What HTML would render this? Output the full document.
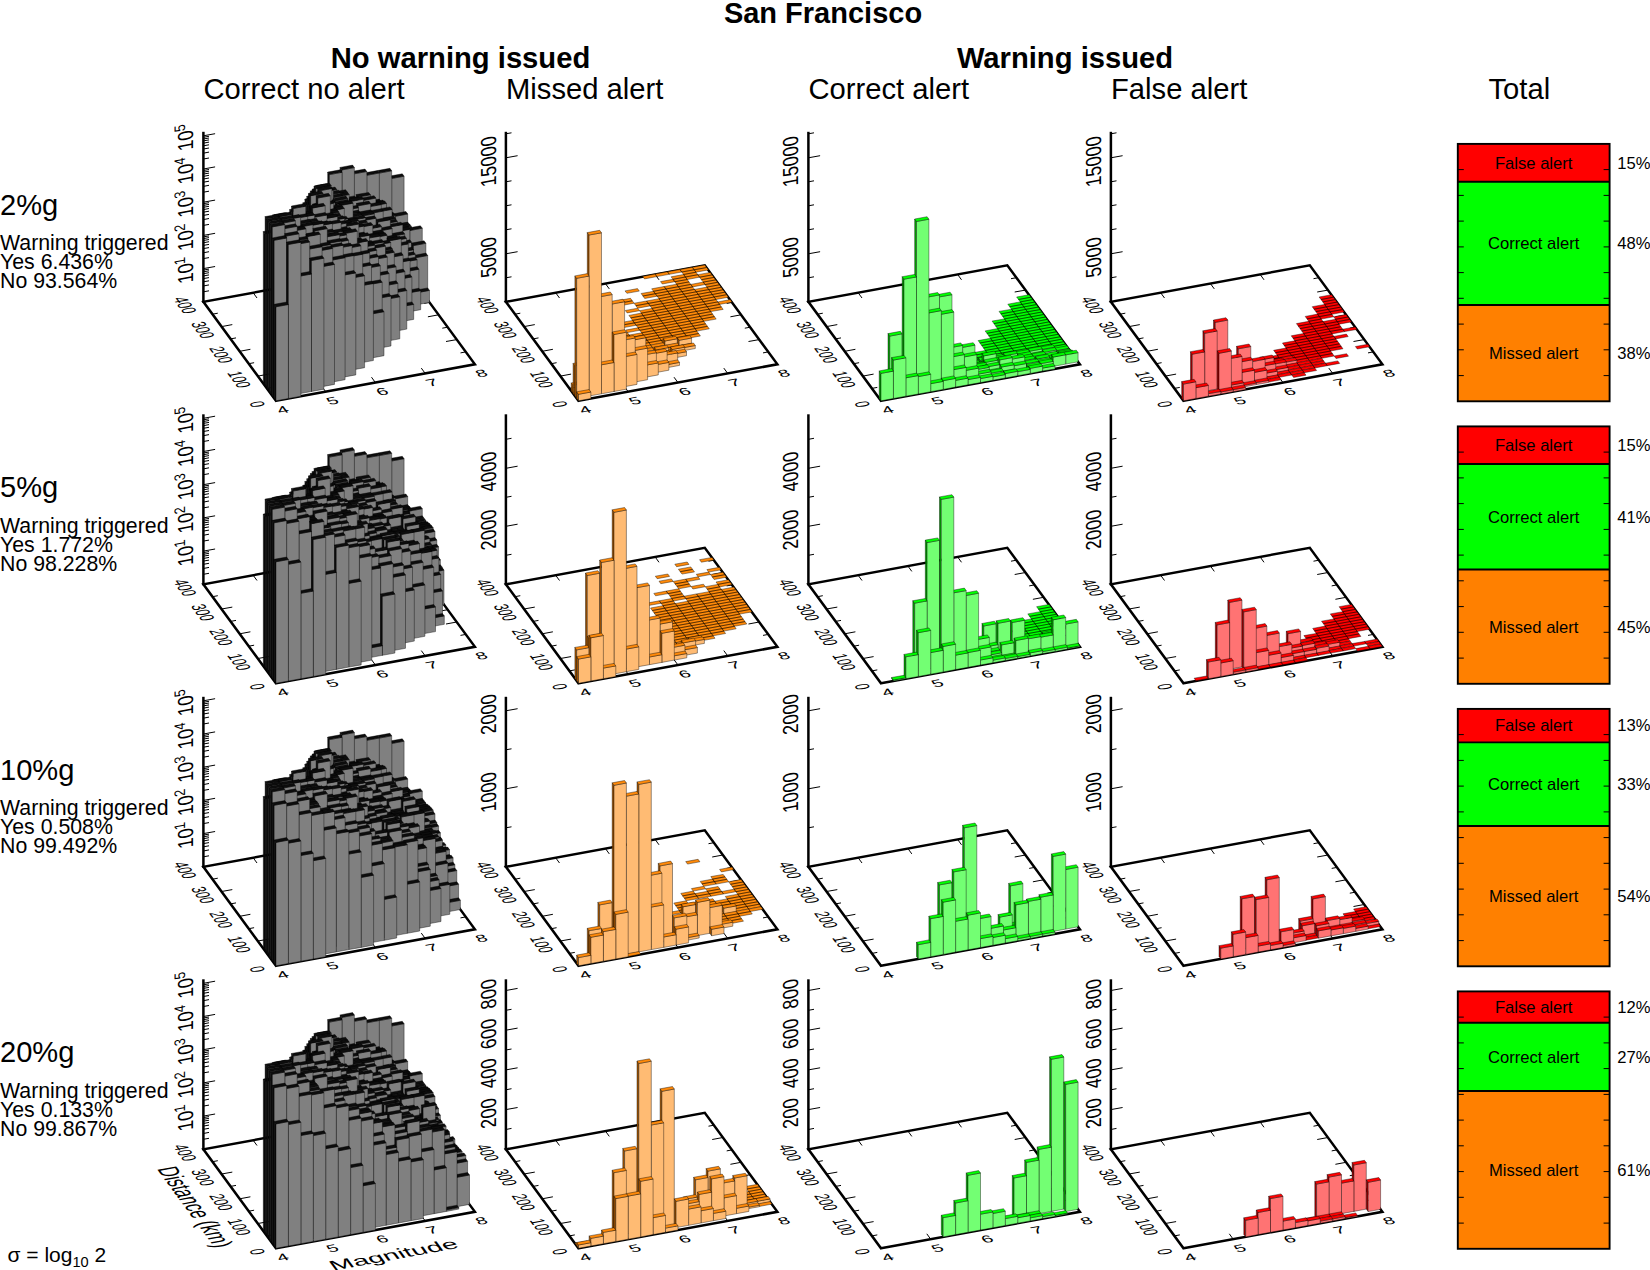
<!DOCTYPE html>
<html><head><meta charset="utf-8"><title>San Francisco</title><style>html,body{margin:0;padding:0;background:#fff}svg{display:block}</style></head><body>
<svg width="1650" height="1270" viewBox="0 0 1650 1270" font-family="'Liberation Sans',Arial,Helvetica,sans-serif" fill="#000">
<rect width="1650" height="1270" fill="#fff"/>
<text x="823" y="22.5" font-size="29" font-weight="bold" text-anchor="middle">San Francisco</text>
<text x="460.5" y="68" font-size="29.2" font-weight="bold" text-anchor="middle">No warning issued</text>
<text x="1065" y="68" font-size="29.2" font-weight="bold" text-anchor="middle">Warning issued</text>
<text x="203.5" y="99" font-size="29.2">Correct no alert</text>
<text x="506" y="99" font-size="29.2">Missed alert</text>
<text x="808.5" y="99" font-size="29.2">Correct alert</text>
<text x="1111" y="99" font-size="29.2">False alert</text>
<text x="1488.5" y="99" font-size="29.2">Total</text>
<text x="0" y="214.7" font-size="29.1">2%g</text>
<text x="0" y="249.9" font-size="21.3">Warning triggered</text>
<text x="0" y="268.9" font-size="21.3">Yes 6.436%</text>
<text x="0" y="288" font-size="21.3">No 93.564%</text>
<text x="0" y="497.3" font-size="29.1">5%g</text>
<text x="0" y="532.5" font-size="21.3">Warning triggered</text>
<text x="0" y="551.5" font-size="21.3">Yes 1.772%</text>
<text x="0" y="570.6" font-size="21.3">No 98.228%</text>
<text x="0" y="779.8" font-size="29.1">10%g</text>
<text x="0" y="815" font-size="21.3">Warning triggered</text>
<text x="0" y="834" font-size="21.3">Yes 0.508%</text>
<text x="0" y="853.1" font-size="21.3">No 99.492%</text>
<text x="0" y="1062.4" font-size="29.1">20%g</text>
<text x="0" y="1097.6" font-size="21.3">Warning triggered</text>
<text x="0" y="1116.6" font-size="21.3">Yes 0.133%</text>
<text x="0" y="1135.7" font-size="21.3">No 99.867%</text>
<text x="7.5" y="1262" font-size="21">σ = log<tspan font-size="14.6" dy="5">10</tspan><tspan dy="-5"> 2</tspan></text>
<g stroke="#000" stroke-linecap="butt"><path d="M276 400.8L474.9 364.3L402.3 265.3L203.4 301.8z" fill="none" stroke-width="2.5" stroke-linejoin="miter"/><path d="M325.7 391.7L321.8 386.3" stroke-width="1"/><path d="M253.1 292.7L257 298" stroke-width="1"/><path d="M375.4 382.6L371.5 377.2" stroke-width="1"/><path d="M302.9 283.6L306.8 288.9" stroke-width="1"/><path d="M425.2 373.4L421.3 368.1" stroke-width="1"/><path d="M352.6 274.4L356.5 279.8" stroke-width="1"/><path d="M266.9 388.4L272.3 387.4" stroke-width="1"/><path d="M465.8 351.9L460.5 352.9" stroke-width="1"/><path d="M257.9 376.1L268.6 374.1" stroke-width="1"/><path d="M456.8 339.6L446 341.5" stroke-width="1"/><path d="M248.8 363.7L254.1 362.7" stroke-width="1"/><path d="M447.7 327.2L442.3 328.2" stroke-width="1"/><path d="M239.7 351.3L250.4 349.3" stroke-width="1"/><path d="M438.6 314.8L427.9 316.8" stroke-width="1"/><path d="M230.6 338.9L236 337.9" stroke-width="1"/><path d="M429.5 302.4L424.2 303.4" stroke-width="1"/><path d="M221.6 326.6L232.3 324.6" stroke-width="1"/><path d="M420.4 290.1L409.7 292" stroke-width="1"/><path d="M212.5 314.2L217.8 313.2" stroke-width="1"/><path d="M411.4 277.7L406 278.7" stroke-width="1"/><path d="M203.4 302.8L203.4 131.8" stroke-width="2.5"/><path d="M203.4 291.8L209 290.8" stroke-width="1"/><path d="M203.4 286L209 284.9" stroke-width="1"/><path d="M203.4 281.8L209 280.8" stroke-width="1"/><path d="M203.4 278.6L209 277.6" stroke-width="1"/><path d="M203.4 276L209 274.9" stroke-width="1"/><path d="M203.4 273.7L209 272.7" stroke-width="1"/><path d="M203.4 271.8L209 270.8" stroke-width="1"/><path d="M203.4 270.1L209 269.1" stroke-width="1"/><path d="M203.4 268.6L215.1 266.5" stroke-width="1"/><path d="M203.4 258.6L209 257.6" stroke-width="1"/><path d="M203.4 252.8L209 251.7" stroke-width="1"/><path d="M203.4 248.6L209 247.6" stroke-width="1"/><path d="M203.4 245.4L209 244.4" stroke-width="1"/><path d="M203.4 242.8L209 241.7" stroke-width="1"/><path d="M203.4 240.5L209 239.5" stroke-width="1"/><path d="M203.4 238.6L209 237.6" stroke-width="1"/><path d="M203.4 236.9L209 235.9" stroke-width="1"/><path d="M203.4 235.4L215.1 233.3" stroke-width="1"/><path d="M203.4 225.4L209 224.4" stroke-width="1"/><path d="M203.4 219.6L209 218.5" stroke-width="1"/><path d="M203.4 215.4L209 214.4" stroke-width="1"/><path d="M203.4 212.2L209 211.2" stroke-width="1"/><path d="M203.4 209.6L209 208.5" stroke-width="1"/><path d="M203.4 207.3L209 206.3" stroke-width="1"/><path d="M203.4 205.4L209 204.4" stroke-width="1"/><path d="M203.4 203.7L209 202.7" stroke-width="1"/><path d="M203.4 202.2L215.1 200.1" stroke-width="1"/><path d="M203.4 192.2L209 191.2" stroke-width="1"/><path d="M203.4 186.4L209 185.3" stroke-width="1"/><path d="M203.4 182.2L209 181.2" stroke-width="1"/><path d="M203.4 179L209 178" stroke-width="1"/><path d="M203.4 176.4L209 175.3" stroke-width="1"/><path d="M203.4 174.1L209 173.1" stroke-width="1"/><path d="M203.4 172.2L209 171.2" stroke-width="1"/><path d="M203.4 170.5L209 169.5" stroke-width="1"/><path d="M203.4 169L215.1 166.9" stroke-width="1"/><path d="M203.4 159L209 158" stroke-width="1"/><path d="M203.4 153.2L209 152.1" stroke-width="1"/><path d="M203.4 149L209 148" stroke-width="1"/><path d="M203.4 145.8L209 144.8" stroke-width="1"/><path d="M203.4 143.2L209 142.1" stroke-width="1"/><path d="M203.4 140.9L209 139.9" stroke-width="1"/><path d="M203.4 139L209 138" stroke-width="1"/><path d="M203.4 137.3L209 136.3" stroke-width="1"/><path d="M203.4 135.8L215.1 133.7" stroke-width="1"/></g>
<text transform="matrix(0 -0.866 1.046 -0.192 193.4 268.6)" font-size="20.8" text-anchor="middle">10<tspan font-size="14.6" dy="-8">1</tspan></text>
<text transform="matrix(0 -0.866 1.046 -0.192 193.4 235.4)" font-size="20.8" text-anchor="middle">10<tspan font-size="14.6" dy="-8">2</tspan></text>
<text transform="matrix(0 -0.866 1.046 -0.192 193.4 202.2)" font-size="20.8" text-anchor="middle">10<tspan font-size="14.6" dy="-8">3</tspan></text>
<text transform="matrix(0 -0.866 1.046 -0.192 193.4 169)" font-size="20.8" text-anchor="middle">10<tspan font-size="14.6" dy="-8">4</tspan></text>
<text transform="matrix(0 -0.866 1.046 -0.192 193.4 135.8)" font-size="20.8" text-anchor="middle">10<tspan font-size="14.6" dy="-8">5</tspan></text>
<text transform="matrix(0.934 -0.171 0.341 0.465 285 413.1)" font-size="20.4" text-anchor="middle">4</text><text transform="matrix(0.934 -0.171 0.341 0.465 334.8 404)" font-size="20.4" text-anchor="middle">5</text><text transform="matrix(0.934 -0.171 0.341 0.465 384.5 394.9)" font-size="20.4" text-anchor="middle">6</text><text transform="matrix(0.934 -0.171 0.341 0.465 434.2 385.7)" font-size="20.4" text-anchor="middle">7</text><text transform="matrix(0.934 -0.171 0.341 0.465 483.9 376.6)" font-size="20.4" text-anchor="middle">8</text><text transform="matrix(0.341 0.465 -0.934 0.171 250.8 405.4)" font-size="20.4" text-anchor="middle">0</text><text transform="matrix(0.341 0.465 -0.934 0.171 232.6 380.7)" font-size="20.4" text-anchor="middle">100</text><text transform="matrix(0.341 0.465 -0.934 0.171 214.5 355.9)" font-size="20.4" text-anchor="middle">200</text><text transform="matrix(0.341 0.465 -0.934 0.171 196.3 331.2)" font-size="20.4" text-anchor="middle">300</text><text transform="matrix(0.341 0.465 -0.934 0.171 178.2 306.4)" font-size="20.4" text-anchor="middle">400</text>
<g stroke="#000" stroke-width="0.4" stroke-linejoin="round"><path fill="#808080" d="M391.7 270.1l12.4-2.3l0-91.6l-12.4 2.3z"/><path fill="#0d0d0d" d="M391.7 178.5l12.4-2.3l-1.8-2.4l-12.4 2.2z"/><path fill="#808080" d="M379.3 272.3l12.4-2.2l0-99.3l-12.4 2.3z"/><path fill="#0d0d0d" d="M379.3 173.1l12.4-2.3l-1.8-2.5l-12.5 2.3z"/><path fill="#808080" d="M366.8 274.6l12.5-2.3l0-99.3l-12.5 2.3z"/><path fill="#0d0d0d" d="M366.8 175.3l12.5-2.3l-1.9-2.4l-12.4 2.2z"/><path fill="#808080" d="M354.4 276.9l12.4-2.3l0-103.1l-12.4 2.3z"/><path fill="#0d0d0d" d="M354.4 173.8l12.4-2.3l-1.8-2.4l-12.4 2.2z"/><path fill="#0d0d0d" d="M342 279.2l-1.9-2.5l0-109.3l1.9 2.5z"/><path fill="#808080" d="M342 279.2l12.4-2.3l0-109.3l-12.4 2.3z"/><path fill="#0d0d0d" d="M342 169.9l12.4-2.3l-1.8-2.5l-12.5 2.3z"/><path fill="#0d0d0d" d="M329.5 281.5l-1.8-2.5l0-106.9l1.8 2.5z"/><path fill="#808080" d="M329.5 281.5l12.5-2.3l0-106.9l-12.5 2.3z"/><path fill="#0d0d0d" d="M329.5 174.6l12.5-2.3l-1.9-2.5l-12.4 2.3zM317.1 188.3l12.4-2.3l-1.8-2.5l-12.4 2.3z"/><path fill="#0d0d0d" d="M304.7 286l-1.8-2.4l0-80.8l1.8 2.5z"/><path fill="#0d0d0d" d="M304.7 205.3l12.4-2.3l-1.8-2.5l-12.4 2.3zM381.1 216.2l12.4-2.3l-1.8-2.5l-12.4 2.3zM368.6 203.8l12.5-2.2l-1.8-2.5l-12.5 2.3zM343.8 200.6l12.4-2.2l-1.8-2.5l-12.4 2.3z"/><path fill="#808080" d="M318.9 286.2l12.4-2.3l0-98.2l-12.4 2.3z"/><path fill="#0d0d0d" d="M318.9 188l12.4-2.3l-1.8-2.5l-12.4 2.3z"/><path fill="#808080" d="M395.3 275l12.4-2.3l0-58.7l-12.4 2.3z"/><path fill="#0d0d0d" d="M395.3 216.3l12.4-2.3l-1.8-2.5l-12.4 2.3z"/><path fill="#808080" d="M382.9 277.3l12.4-2.3l0-59.8l-12.4 2.3z"/><path fill="#0d0d0d" d="M382.9 217.5l12.4-2.3l-1.8-2.5l-12.4 2.3z"/><path fill="#0d0d0d" d="M358 281.9l-1.8-2.5l0-84.8l1.8 2.5z"/><path fill="#808080" d="M358 281.9l12.5-2.3l0-84.8l-12.5 2.3z"/><path fill="#0d0d0d" d="M358 197.1l12.5-2.3l-1.9-2.4l-12.4 2.2zM397.1 226.8l12.5-2.3l-1.9-2.4l-12.4 2.2zM372.3 204.9l12.4-2.3l-1.8-2.5l-12.4 2.3zM347.4 201.2l12.4-2.2l-1.8-2.5l-12.4 2.3zM335 194.5l12.4-2.3l-1.8-2.5l-12.4 2.3z"/><path fill="#808080" d="M398.9 280l12.5-2.3l0-51.3l-12.5 2.3z"/><path fill="#0d0d0d" d="M398.9 228.7l12.5-2.3l-1.8-2.4l-12.5 2.3z"/><path fill="#808080" d="M374.1 284.5l12.4-2.3l0-78.8l-12.4 2.2z"/><path fill="#0d0d0d" d="M374.1 205.6l12.4-2.2l-1.8-2.5l-12.4 2.3z"/><path fill="#808080" d="M336.8 291.4l12.4-2.3l0-94.5l-12.4 2.3z"/><path fill="#0d0d0d" d="M336.8 196.9l12.4-2.3l-1.8-2.5l-12.4 2.3z"/><path fill="#808080" d="M324.4 293.6l12.4-2.2l0-101.8l-12.4 2.3z"/><path fill="#0d0d0d" d="M324.4 191.9l12.4-2.3l-1.8-2.5l-12.5 2.3zM400.8 232.1l12.4-2.3l-1.8-2.5l-12.5 2.3z"/><path fill="#808080" d="M363.5 289.3l12.4-2.3l0-88.9l-12.4 2.3z"/><path fill="#0d0d0d" d="M363.5 200.4l12.4-2.3l-1.8-2.4l-12.4 2.2z"/><path fill="#0d0d0d" d="M351 291.6l-1.8-2.5l0-90.2l1.8 2.5z"/><path fill="#808080" d="M351 291.6l12.5-2.3l0-90.2l-12.5 2.3z"/><path fill="#0d0d0d" d="M351 201.4l12.5-2.3l-1.8-2.5l-12.5 2.3z"/><path fill="#808080" d="M328 298.6l12.4-2.3l0-103.6l-12.4 2.3z"/><path fill="#0d0d0d" d="M328 195l12.4-2.3l-1.8-2.5l-12.4 2.3z"/><path fill="#808080" d="M379.5 291.9l12.5-2.2l0-80.3l-12.5 2.2z"/><path fill="#0d0d0d" d="M379.5 211.6l12.5-2.2l-1.9-2.5l-12.4 2.3z"/><path fill="#808080" d="M329.8 301.1l12.4-2.3l0-102.9l-12.4 2.3z"/><path fill="#0d0d0d" d="M329.8 198.2l12.4-2.3l-1.8-2.4l-12.4 2.2z"/><path fill="#808080" d="M368.9 296.7l12.4-2.3l0-89.8l-12.4 2.2z"/><path fill="#0d0d0d" d="M368.9 206.8l12.4-2.2l-1.8-2.5l-12.4 2.3z"/><path fill="#0d0d0d" d="M306.8 308.1l-1.9-2.5l0-106.6l1.9 2.5z"/><path fill="#0d0d0d" d="M306.8 201.5l12.4-2.3l-1.8-2.5l-12.5 2.3z"/><path fill="#808080" d="M383.2 296.9l12.4-2.3l0-76.2l-12.4 2.3z"/><path fill="#0d0d0d" d="M383.2 220.7l12.4-2.3l-1.8-2.5l-12.5 2.3z"/><path fill="#808080" d="M370.7 299.2l12.5-2.3l0-85.8l-12.5 2.3z"/><path fill="#0d0d0d" d="M370.7 213.4l12.5-2.3l-1.9-2.4l-12.4 2.2z"/><path fill="#0d0d0d" d="M358.3 301.5l-1.8-2.5l0-95.7l1.8 2.5z"/><path fill="#808080" d="M358.3 301.5l12.4-2.3l0-95.7l-12.4 2.3z"/><path fill="#0d0d0d" d="M358.3 205.8l12.4-2.3l-1.8-2.4l-12.4 2.2z"/><path fill="#808080" d="M345.9 303.7l12.4-2.2l0-93.7l-12.4 2.3z"/><path fill="#0d0d0d" d="M345.9 210.1l12.4-2.3l-1.8-2.4l-12.5 2.2z"/><path fill="#808080" d="M321 308.3l12.4-2.3l0-116.1l-12.4 2.3z"/><path fill="#0d0d0d" d="M321 192.2l12.4-2.3l-1.8-2.5l-12.4 2.3z"/><path fill="#0d0d0d" d="M308.6 310.6l-1.8-2.5l0-111.8l1.8 2.5z"/><path fill="#0d0d0d" d="M308.6 198.8l12.4-2.3l-1.8-2.4l-12.4 2.2z"/><path fill="#808080" d="M409.8 294.8l12.5-2.3l0-64.3l-12.5 2.3z"/><path fill="#0d0d0d" d="M409.8 230.5l12.5-2.3l-1.9-2.4l-12.4 2.2z"/><path fill="#808080" d="M397.4 297.1l12.4-2.3l0-65.5l-12.4 2.3z"/><path fill="#0d0d0d" d="M397.4 231.6l12.4-2.3l-1.8-2.5l-12.4 2.3z"/><path fill="#808080" d="M385 299.4l12.4-2.3l0-75.7l-12.4 2.3z"/><path fill="#0d0d0d" d="M385 223.7l12.4-2.3l-1.8-2.5l-12.4 2.3zM360.1 214.6l12.4-2.3l-1.8-2.5l-12.4 2.3zM347.7 214.8l12.4-2.3l-1.8-2.4l-12.4 2.3z"/><path fill="#0d0d0d" d="M335.2 308.5l-1.8-2.5l0-107.6l1.8 2.5z"/><path fill="#808080" d="M335.2 308.5l12.5-2.3l0-107.6l-12.5 2.3z"/><path fill="#0d0d0d" d="M335.2 200.9l12.5-2.3l-1.8-2.5l-12.5 2.3z"/><path fill="#808080" d="M322.8 310.8l12.4-2.3l0-106.3l-12.4 2.3z"/><path fill="#0d0d0d" d="M322.8 204.5l12.4-2.3l-1.8-2.5l-12.4 2.3z"/><path fill="#0d0d0d" d="M310.4 313.1l-1.8-2.5l0-117l1.8 2.5z"/><path fill="#808080" d="M399.2 299.6l12.4-2.3l0-55l-12.4 2.3z"/><path fill="#0d0d0d" d="M399.2 244.6l12.4-2.3l-1.8-2.5l-12.4 2.3z"/><path fill="#808080" d="M361.9 306.4l12.5-2.3l0-90.3l-12.5 2.3z"/><path fill="#0d0d0d" d="M361.9 216.1l12.5-2.3l-1.9-2.4l-12.4 2.2z"/><path fill="#808080" d="M349.5 308.7l12.4-2.3l0-91.3l-12.4 2.3z"/><path fill="#0d0d0d" d="M349.5 217.4l12.4-2.3l-1.8-2.5l-12.4 2.3z"/><path fill="#0d0d0d" d="M337.1 311l-1.9-2.5l0-106.8l1.9 2.5z"/><path fill="#808080" d="M337.1 311l12.4-2.3l0-106.8l-12.4 2.3z"/><path fill="#0d0d0d" d="M337.1 204.2l12.4-2.3l-1.8-2.5l-12.5 2.3z"/><path fill="#0d0d0d" d="M312.2 315.5l-1.8-2.4l0-122.2l1.8 2.4z"/><path fill="#0d0d0d" d="M312.2 193.3l12.4-2.3l-1.8-2.4l-12.4 2.3z"/><path fill="#0d0d0d" d="M413.5 299.8l-1.9-2.5l0-54.2l1.9 2.5z"/><path fill="#808080" d="M413.5 299.8l12.4-2.3l0-54.2l-12.4 2.3z"/><path fill="#0d0d0d" d="M413.5 245.6l12.4-2.3l-1.8-2.5l-12.5 2.3z"/><path fill="#808080" d="M401 302l12.5-2.2l0-50l-12.5 2.2z"/><path fill="#0d0d0d" d="M401 252l12.5-2.2l-1.9-2.5l-12.4 2.3z"/><path fill="#808080" d="M363.7 308.9l12.5-2.3l0-88.4l-12.5 2.3z"/><path fill="#0d0d0d" d="M363.7 220.5l12.5-2.3l-1.8-2.4l-12.5 2.2z"/><path fill="#0d0d0d" d="M314 318l-1.8-2.5l0-126.4l1.8 2.5z"/><path fill="#0d0d0d" d="M314 191.6l12.4-2.3l-1.8-2.5l-12.4 2.3z"/><path fill="#808080" d="M415.3 302.2l12.4-2.3l0-44.4l-12.4 2.3z"/><path fill="#0d0d0d" d="M415.3 257.8l12.4-2.3l-1.8-2.4l-12.4 2.3z"/><path fill="#808080" d="M402.8 304.5l12.5-2.3l0-48l-12.5 2.3z"/><path fill="#0d0d0d" d="M402.8 256.5l12.5-2.3l-1.8-2.4l-12.5 2.2z"/><path fill="#808080" d="M390.4 306.8l12.4-2.3l0-79.9l-12.4 2.3z"/><path fill="#0d0d0d" d="M390.4 226.9l12.4-2.3l-1.8-2.4l-12.4 2.2z"/><path fill="#0d0d0d" d="M378 309.1l-1.8-2.5l0-87.1l1.8 2.5z"/><path fill="#808080" d="M378 309.1l12.4-2.3l0-87.1l-12.4 2.3z"/><path fill="#0d0d0d" d="M378 222l12.4-2.3l-1.8-2.5l-12.4 2.3z"/><path fill="#808080" d="M353.1 313.6l12.5-2.2l0-93.7l-12.5 2.2z"/><path fill="#0d0d0d" d="M353.1 219.9l12.5-2.2l-1.9-2.5l-12.4 2.3z"/><path fill="#0d0d0d" d="M340.7 315.9l-1.8-2.5l0-110.4l1.8 2.4z"/><path fill="#808080" d="M340.7 315.9l12.4-2.3l0-110.4l-12.4 2.2z"/><path fill="#0d0d0d" d="M340.7 205.4l12.4-2.2l-1.8-2.5l-12.4 2.3z"/><path fill="#0d0d0d" d="M315.8 320.5l-1.8-2.5l0-132l1.8 2.5z"/><path fill="#808080" d="M315.8 320.5l12.5-2.3l0-132l-12.5 2.3z"/><path fill="#0d0d0d" d="M315.8 188.5l12.5-2.3l-1.9-2.4l-12.4 2.2z"/><path fill="#808080" d="M417.1 304.7l12.4-2.3l0-12l-12.4 2.3z"/><path fill="#0d0d0d" d="M417.1 292.7l12.4-2.3l-1.8-2.5l-12.4 2.3z"/><path fill="#808080" d="M404.7 307l12.4-2.3l0-45l-12.4 2.3z"/><path fill="#0d0d0d" d="M404.7 262l12.4-2.3l-1.8-2.5l-12.5 2.3z"/><path fill="#808080" d="M392.2 309.3l12.5-2.3l0-73l-12.5 2.3z"/><path fill="#0d0d0d" d="M392.2 236.3l12.5-2.3l-1.9-2.5l-12.4 2.3z"/><path fill="#808080" d="M379.8 311.6l12.4-2.3l0-80.7l-12.4 2.3z"/><path fill="#0d0d0d" d="M379.8 230.9l12.4-2.3l-1.8-2.5l-12.4 2.3z"/><path fill="#808080" d="M354.9 316.1l12.5-2.3l0-91.6l-12.5 2.3z"/><path fill="#0d0d0d" d="M354.9 224.5l12.5-2.3l-1.8-2.4l-12.5 2.2zM342.5 222l12.4-2.3l-1.8-2.5l-12.4 2.3zM330.1 208.9l12.4-2.3l-1.8-2.4l-12.4 2.2z"/><path fill="#808080" d="M406.5 309.5l12.4-2.3l0-38l-12.4 2.3z"/><path fill="#0d0d0d" d="M406.5 271.5l12.4-2.3l-1.8-2.5l-12.4 2.3z"/><path fill="#808080" d="M394 311.7l12.5-2.2l0-71.1l-12.5 2.3z"/><path fill="#0d0d0d" d="M394 240.7l12.5-2.3l-1.8-2.5l-12.5 2.3z"/><path fill="#808080" d="M369.2 316.3l12.4-2.3l0-87.4l-12.4 2.3z"/><path fill="#0d0d0d" d="M369.2 228.9l12.4-2.3l-1.8-2.4l-12.4 2.2z"/><path fill="#808080" d="M331.9 323.2l12.4-2.3l0-112.5l-12.4 2.3z"/><path fill="#0d0d0d" d="M331.9 210.7l12.4-2.3l-1.8-2.5l-12.4 2.3z"/><path fill="#0d0d0d" d="M319.5 325.4l-1.9-2.4l0-134.7l1.9 2.5z"/><path fill="#808080" d="M319.5 325.4l12.4-2.2l0-134.7l-12.4 2.3z"/><path fill="#0d0d0d" d="M319.5 190.8l12.4-2.3l-1.8-2.5l-12.5 2.3z"/><path fill="#808080" d="M408.3 311.9l12.4-2.2l0-19l-12.4 2.2z"/><path fill="#0d0d0d" d="M408.3 292.9l12.4-2.2l-1.8-2.5l-12.4 2.3z"/><path fill="#808080" d="M395.9 314.2l12.4-2.3l0-68l-12.4 2.3z"/><path fill="#0d0d0d" d="M395.9 246.2l12.4-2.3l-1.8-2.4l-12.5 2.2zM371 234.6l12.4-2.3l-1.8-2.5l-12.4 2.3z"/><path fill="#808080" d="M346.1 323.3l12.5-2.2l0-100.4l-12.5 2.3z"/><path fill="#0d0d0d" d="M346.1 223l12.5-2.3l-1.8-2.4l-12.5 2.2z"/><path fill="#808080" d="M321.3 327.9l12.4-2.3l0-122.3l-12.4 2.3z"/><path fill="#0d0d0d" d="M321.3 205.6l12.4-2.3l-1.8-2.5l-12.4 2.3z"/><path fill="#808080" d="M397.7 316.7l12.4-2.3l0-54l-12.4 2.3z"/><path fill="#0d0d0d" d="M397.7 262.7l12.4-2.3l-1.8-2.5l-12.4 2.3zM385.2 239.5l12.5-2.2l-1.8-2.5l-12.5 2.3zM372.8 236.4l12.4-2.3l-1.8-2.5l-12.4 2.3z"/><path fill="#808080" d="M360.4 323.5l12.4-2.2l0-96.4l-12.4 2.3z"/><path fill="#0d0d0d" d="M360.4 227.2l12.4-2.3l-1.8-2.4l-12.4 2.2z"/><path fill="#808080" d="M335.5 328.1l12.5-2.3l0-107.1l-12.5 2.3z"/><path fill="#0d0d0d" d="M335.5 221l12.5-2.3l-1.9-2.5l-12.4 2.3z"/><path fill="#0d0d0d" d="M310.7 332.7l-1.9-2.5l0-137l1.9 2.5z"/><path fill="#808080" d="M310.7 332.7l12.4-2.3l0-137l-12.4 2.3z"/><path fill="#0d0d0d" d="M310.7 195.7l12.4-2.3l-1.8-2.5l-12.5 2.3z"/><path fill="#808080" d="M399.5 319.2l12.4-2.3l0-40l-12.4 2.3z"/><path fill="#0d0d0d" d="M399.5 279.2l12.4-2.3l-1.8-2.5l-12.4 2.3z"/><path fill="#808080" d="M374.6 323.7l12.5-2.3l0-86.2l-12.5 2.3z"/><path fill="#0d0d0d" d="M374.6 237.5l12.5-2.3l-1.9-2.5l-12.4 2.3zM337.3 225.1l12.5-2.3l-1.8-2.5l-12.5 2.3zM324.9 213l12.4-2.3l-1.8-2.4l-12.4 2.3z"/><path fill="#808080" d="M401.3 321.6l12.4-2.2l0-15l-12.4 2.2z"/><path fill="#0d0d0d" d="M401.3 306.6l12.4-2.2l-1.8-2.5l-12.4 2.3z"/><path fill="#0d0d0d" d="M388.9 323.9l-1.8-2.5l0-83l1.8 2.5z"/><path fill="#808080" d="M388.9 323.9l12.4-2.3l0-83l-12.4 2.3z"/><path fill="#0d0d0d" d="M388.9 240.9l12.4-2.3l-1.8-2.4l-12.4 2.2zM364 237.7l12.4-2.2l-1.8-2.5l-12.4 2.3z"/><path fill="#808080" d="M351.6 330.8l12.4-2.3l0-102.4l-12.4 2.2z"/><path fill="#0d0d0d" d="M351.6 228.3l12.4-2.2l-1.8-2.5l-12.4 2.3zM339.1 224.9l12.5-2.3l-1.8-2.5l-12.5 2.3z"/><path fill="#808080" d="M326.7 335.3l12.4-2.2l0-120.9l-12.4 2.3z"/><path fill="#0d0d0d" d="M326.7 214.5l12.4-2.3l-1.8-2.4l-12.4 2.3z"/><path fill="#0d0d0d" d="M314.3 337.6l-1.8-2.5l0-131.1l1.8 2.4z"/><path fill="#0d0d0d" d="M314.3 206.4l12.4-2.2l-1.8-2.5l-12.4 2.3z"/><path fill="#808080" d="M390.7 326.4l12.4-2.3l0-69l-12.4 2.3z"/><path fill="#0d0d0d" d="M390.7 257.4l12.4-2.3l-1.8-2.5l-12.4 2.3z"/><path fill="#808080" d="M378.3 328.7l12.4-2.3l0-83.9l-12.4 2.3z"/><path fill="#0d0d0d" d="M378.3 244.8l12.4-2.3l-1.8-2.5l-12.5 2.3zM353.4 236.8l12.4-2.3l-1.8-2.4l-12.4 2.2z"/><path fill="#808080" d="M328.5 337.8l12.5-2.3l0-120.1l-12.5 2.3z"/><path fill="#0d0d0d" d="M328.5 217.7l12.5-2.3l-1.9-2.5l-12.4 2.3z"/><path fill="#0d0d0d" d="M316.1 340.1l-1.8-2.5l0-133.6l1.8 2.5z"/><path fill="#0d0d0d" d="M316.1 206.5l12.4-2.3l-1.8-2.5l-12.4 2.3z"/><path fill="#808080" d="M392.5 328.9l12.4-2.3l0-55l-12.4 2.3z"/><path fill="#0d0d0d" d="M392.5 273.9l12.4-2.3l-1.8-2.5l-12.4 2.3z"/><path fill="#808080" d="M380.1 331.2l12.4-2.3l0-79.8l-12.4 2.3z"/><path fill="#0d0d0d" d="M380.1 251.4l12.4-2.3l-1.8-2.4l-12.4 2.3z"/><path fill="#808080" d="M367.6 333.4l12.5-2.2l0-95.1l-12.5 2.2z"/><path fill="#0d0d0d" d="M367.6 238.3l12.5-2.2l-1.8-2.5l-12.5 2.3z"/><path fill="#0d0d0d" d="M317.9 342.6l-1.8-2.5l0-144.5l1.8 2.4z"/><path fill="#808080" d="M317.9 342.6l12.4-2.3l0-144.5l-12.4 2.2z"/><path fill="#0d0d0d" d="M317.9 198l12.4-2.2l-1.8-2.5l-12.4 2.3z"/><path fill="#808080" d="M394.3 331.4l12.5-2.3l0-38.6l-12.5 2.3z"/><path fill="#0d0d0d" d="M394.3 292.8l12.5-2.3l-1.9-2.5l-12.4 2.3z"/><path fill="#808080" d="M381.9 333.6l12.4-2.2l0-79.2l-12.4 2.3z"/><path fill="#0d0d0d" d="M381.9 254.5l12.4-2.3l-1.8-2.4l-12.4 2.2z"/><path fill="#808080" d="M357 338.2l12.5-2.3l0-100.7l-12.5 2.3z"/><path fill="#0d0d0d" d="M357 237.5l12.5-2.3l-1.9-2.5l-12.4 2.3z"/><path fill="#808080" d="M332.2 342.8l12.4-2.3l0-122.2l-12.4 2.3z"/><path fill="#0d0d0d" d="M332.2 220.6l12.4-2.3l-1.8-2.5l-12.5 2.3z"/><path fill="#0d0d0d" d="M307.3 347.3l-1.8-2.5l0-133l1.8 2.5z"/><path fill="#0d0d0d" d="M307.3 214.3l12.4-2.3l-1.8-2.4l-12.4 2.2z"/><path fill="#808080" d="M383.7 336.1l12.4-2.3l0-67l-12.4 2.3z"/><path fill="#0d0d0d" d="M383.7 269.1l12.4-2.3l-1.8-2.4l-12.4 2.2z"/><path fill="#808080" d="M371.3 338.4l12.4-2.3l0-94.2l-12.4 2.3z"/><path fill="#0d0d0d" d="M371.3 244.2l12.4-2.3l-1.8-2.5l-12.4 2.3z"/><path fill="#808080" d="M346.4 342.9l12.4-2.2l0-116.7l-12.4 2.3z"/><path fill="#0d0d0d" d="M346.4 226.3l12.4-2.3l-1.8-2.4l-12.4 2.2z"/><path fill="#808080" d="M334 345.2l12.4-2.3l0-119.8l-12.4 2.3z"/><path fill="#0d0d0d" d="M334 225.4l12.4-2.3l-1.8-2.5l-12.4 2.3zM321.5 217.2l12.5-2.3l-1.8-2.5l-12.5 2.3z"/><path fill="#808080" d="M385.5 338.6l12.4-2.3l0-53l-12.4 2.3z"/><path fill="#0d0d0d" d="M385.5 285.6l12.4-2.3l-1.8-2.5l-12.4 2.3z"/><path fill="#808080" d="M373.1 340.9l12.4-2.3l0-92.5l-12.4 2.3z"/><path fill="#0d0d0d" d="M373.1 248.4l12.4-2.3l-1.8-2.5l-12.4 2.3zM360.7 245.3l12.4-2.3l-1.8-2.5l-12.5 2.3zM335.8 231.1l12.4-2.2l-1.8-2.5l-12.4 2.3z"/><path fill="#0d0d0d" d="M310.9 352.3l-1.8-2.5l0-143.1l1.8 2.5z"/><path fill="#0d0d0d" d="M310.9 209.2l12.5-2.3l-1.9-2.4l-12.4 2.2z"/><path fill="#808080" d="M387.3 341.1l12.5-2.3l0-42l-12.5 2.3z"/><path fill="#0d0d0d" d="M387.3 299.1l12.5-2.3l-1.9-2.5l-12.4 2.3z"/><path fill="#808080" d="M374.9 343.3l12.4-2.2l0-84l-12.4 2.2z"/><path fill="#0d0d0d" d="M374.9 259.3l12.4-2.2l-1.8-2.5l-12.4 2.3z"/><path fill="#808080" d="M362.5 345.6l12.4-2.3l0-98.2l-12.4 2.2z"/><path fill="#0d0d0d" d="M362.5 247.3l12.4-2.2l-1.8-2.5l-12.4 2.3zM350 242.3l12.5-2.3l-1.8-2.4l-12.5 2.2z"/><path fill="#808080" d="M325.2 352.5l12.4-2.3l0-133.8l-12.4 2.3z"/><path fill="#0d0d0d" d="M325.2 218.7l12.4-2.3l-1.8-2.5l-12.4 2.3z"/><path fill="#0d0d0d" d="M312.7 354.7l-1.8-2.4l0-146.8l1.8 2.5z"/><path fill="#808080" d="M312.7 354.7l12.5-2.2l0-146.8l-12.5 2.3z"/><path fill="#0d0d0d" d="M312.7 208l12.5-2.3l-1.8-2.4l-12.5 2.2z"/><path fill="#808080" d="M376.7 345.8l12.4-2.3l0-70l-12.4 2.3z"/><path fill="#0d0d0d" d="M376.7 275.8l12.4-2.3l-1.8-2.4l-12.4 2.2z"/><path fill="#808080" d="M364.3 348.1l12.4-2.3l0-95.6l-12.4 2.3z"/><path fill="#0d0d0d" d="M364.3 252.5l12.4-2.3l-1.8-2.5l-12.4 2.3zM339.4 232.2l12.5-2.3l-1.9-2.4l-12.4 2.2z"/><path fill="#808080" d="M314.6 357.2l12.4-2.3l0-139.9l-12.4 2.2z"/><path fill="#0d0d0d" d="M314.6 217.2l12.4-2.2l-1.8-2.5l-12.5 2.3z"/><path fill="#808080" d="M302.1 359.5l12.5-2.3l0-142.3l-12.5 2.3z"/><path fill="#0d0d0d" d="M302.1 217.2l12.5-2.3l-1.9-2.5l-12.4 2.3z"/><path fill="#808080" d="M378.5 348.3l12.5-2.3l0-50l-12.5 2.3z"/><path fill="#0d0d0d" d="M378.5 298.3l12.5-2.3l-1.9-2.5l-12.4 2.3z"/><path fill="#808080" d="M366.1 350.6l12.4-2.3l0-91.7l-12.4 2.3z"/><path fill="#0d0d0d" d="M366.1 258.9l12.4-2.3l-1.8-2.5l-12.4 2.3z"/><path fill="#808080" d="M328.8 357.4l12.4-2.3l0-132.8l-12.4 2.3z"/><path fill="#0d0d0d" d="M328.8 224.6l12.4-2.3l-1.8-2.5l-12.4 2.3zM316.4 225.6l12.4-2.3l-1.8-2.5l-12.4 2.3z"/><path fill="#0d0d0d" d="M291.5 364.3l-1.8-2.5l0-152.3l1.8 2.5z"/><path fill="#0d0d0d" d="M291.5 212l12.4-2.3l-1.8-2.5l-12.4 2.3z"/><path fill="#808080" d="M367.9 353l12.4-2.2l0-85l-12.4 2.2z"/><path fill="#0d0d0d" d="M367.9 268l12.4-2.2l-1.8-2.5l-12.4 2.3z"/><path fill="#808080" d="M355.5 355.3l12.4-2.3l0-112.1l-12.4 2.3z"/><path fill="#0d0d0d" d="M355.5 243.2l12.4-2.3l-1.8-2.5l-12.4 2.3z"/><path fill="#808080" d="M330.6 359.9l12.5-2.3l0-126.3l-12.5 2.3z"/><path fill="#0d0d0d" d="M330.6 233.6l12.5-2.3l-1.9-2.5l-12.4 2.3z"/><path fill="#808080" d="M305.8 364.4l12.4-2.2l0-141.5l-12.4 2.3z"/><path fill="#0d0d0d" d="M305.8 223l12.4-2.3l-1.8-2.4l-12.5 2.2z"/><path fill="#0d0d0d" d="M293.3 366.7l-1.8-2.4l0-158.3l1.8 2.5z"/><path fill="#808080" d="M293.3 366.7l12.5-2.3l0-158.2l-12.5 2.3z"/><path fill="#0d0d0d" d="M293.3 208.5l12.5-2.3l-1.9-2.5l-12.4 2.3z"/><path fill="#808080" d="M369.7 355.5l12.5-2.3l0-71l-12.5 2.3z"/><path fill="#0d0d0d" d="M369.7 284.5l12.5-2.3l-1.9-2.4l-12.4 2.2z"/><path fill="#808080" d="M357.3 357.8l12.4-2.3l0-102.8l-12.4 2.2z"/><path fill="#0d0d0d" d="M357.3 254.9l12.4-2.2l-1.8-2.5l-12.4 2.3z"/><path fill="#0d0d0d" d="M344.9 360.1l-1.8-2.5l0-126.6l1.8 2.5z"/><path fill="#808080" d="M344.9 360.1l12.4-2.3l0-126.6l-12.4 2.3z"/><path fill="#0d0d0d" d="M344.9 233.5l12.4-2.3l-1.8-2.5l-12.4 2.3z"/><path fill="#808080" d="M320 364.6l12.4-2.2l0-139l-12.4 2.3z"/><path fill="#0d0d0d" d="M320 225.7l12.4-2.3l-1.8-2.5l-12.4 2.3z"/><path fill="#808080" d="M295.1 369.2l12.5-2.3l0-150.7l-12.5 2.3z"/><path fill="#0d0d0d" d="M295.1 218.5l12.5-2.3l-1.8-2.4l-12.5 2.2z"/><path fill="#808080" d="M371.5 358l12.5-2.3l0-44l-12.5 2.3z"/><path fill="#0d0d0d" d="M371.5 314l12.5-2.3l-1.8-2.5l-12.5 2.3z"/><path fill="#808080" d="M359.1 360.3l12.4-2.3l0-93l-12.4 2.3z"/><path fill="#0d0d0d" d="M359.1 267.3l12.4-2.3l-1.8-2.5l-12.4 2.3z"/><path fill="#808080" d="M334.3 364.8l12.4-2.2l0-127.8l-12.4 2.2z"/><path fill="#0d0d0d" d="M334.3 237l12.4-2.2l-1.8-2.5l-12.5 2.3z"/><path fill="#808080" d="M321.8 367.1l12.5-2.3l0-133.3l-12.5 2.3z"/><path fill="#0d0d0d" d="M321.8 233.8l12.5-2.3l-1.9-2.5l-12.4 2.3zM309.4 225.8l12.4-2.3l-1.8-2.5l-12.4 2.3z"/><path fill="#808080" d="M360.9 362.8l12.5-2.3l0-77l-12.5 2.3z"/><path fill="#0d0d0d" d="M360.9 285.8l12.5-2.3l-1.9-2.5l-12.4 2.3z"/><path fill="#808080" d="M348.5 365l12.4-2.2l0-117l-12.4 2.3z"/><path fill="#0d0d0d" d="M348.5 248.1l12.4-2.3l-1.8-2.5l-12.4 2.3z"/><path fill="#808080" d="M336.1 367.3l12.4-2.3l0-124.8l-12.4 2.3z"/><path fill="#0d0d0d" d="M336.1 242.5l12.4-2.3l-1.8-2.5l-12.4 2.3zM323.6 236.9l12.5-2.2l-1.8-2.5l-12.5 2.3z"/><path fill="#808080" d="M311.2 371.9l12.4-2.3l0-146.4l-12.4 2.3z"/><path fill="#0d0d0d" d="M311.2 225.5l12.4-2.3l-1.8-2.4l-12.4 2.2z"/><path fill="#808080" d="M298.8 374.2l12.4-2.3l0-150.2l-12.4 2.3z"/><path fill="#0d0d0d" d="M298.8 224l12.4-2.3l-1.8-2.5l-12.4 2.3zM273.9 217.6l12.4-2.3l-1.8-2.5l-12.4 2.3z"/><path fill="#808080" d="M350.3 367.5l12.4-2.3l0-111l-12.4 2.3z"/><path fill="#0d0d0d" d="M350.3 256.5l12.4-2.3l-1.8-2.4l-12.4 2.2z"/><path fill="#808080" d="M300.6 376.6l12.4-2.2l0-149.8l-12.4 2.3z"/><path fill="#0d0d0d" d="M300.6 226.9l12.4-2.3l-1.8-2.5l-12.4 2.3z"/><path fill="#808080" d="M288.2 378.9l12.4-2.3l0-159.6l-12.4 2.3z"/><path fill="#0d0d0d" d="M288.2 219.3l12.4-2.3l-1.8-2.5l-12.5 2.3zM275.7 217.3l12.5-2.3l-1.9-2.5l-12.4 2.3z"/><path fill="#808080" d="M352.1 370l12.5-2.3l0-92l-12.5 2.3z"/><path fill="#0d0d0d" d="M352.1 278l12.5-2.3l-1.9-2.5l-12.4 2.3z"/><path fill="#808080" d="M339.7 372.3l12.4-2.3l0-124.5l-12.4 2.3z"/><path fill="#0d0d0d" d="M339.7 247.8l12.4-2.3l-1.8-2.5l-12.4 2.3z"/><path fill="#808080" d="M327.3 374.5l12.4-2.2l0-137.7l-12.4 2.2z"/><path fill="#0d0d0d" d="M327.3 236.8l12.4-2.2l-1.8-2.5l-12.4 2.3z"/><path fill="#0d0d0d" d="M314.8 376.8l-1.8-2.4l0-146l1.8 2.5z"/><path fill="#808080" d="M314.8 376.8l12.5-2.3l0-145.9l-12.5 2.3z"/><path fill="#0d0d0d" d="M314.8 230.9l12.5-2.3l-1.8-2.5l-12.5 2.3zM302.4 237.2l12.4-2.3l-1.8-2.5l-12.4 2.3z"/><path fill="#0d0d0d" d="M265.1 385.9l-1.8-2.4l0-152l1.8 2.4z"/><path fill="#0d0d0d" d="M265.1 233.9l12.4-2.2l-1.8-2.5l-12.4 2.3z"/><path fill="#808080" d="M341.5 374.7l12.4-2.2l0-117l-12.4 2.2z"/><path fill="#0d0d0d" d="M341.5 257.7l12.4-2.2l-1.8-2.5l-12.4 2.3z"/><path fill="#0d0d0d" d="M329.1 377l-1.8-2.5l0-133.8l1.8 2.5z"/><path fill="#808080" d="M329.1 377l12.4-2.3l0-133.8l-12.4 2.3z"/><path fill="#0d0d0d" d="M329.1 243.2l12.4-2.3l-1.8-2.5l-12.4 2.3zM291.8 230.2l12.4-2.3l-1.8-2.5l-12.4 2.3z"/><path fill="#808080" d="M279.4 386.1l12.4-2.2l0-169.3l-12.4 2.2z"/><path fill="#0d0d0d" d="M279.4 216.8l12.4-2.2l-1.8-2.5l-12.5 2.3z"/><path fill="#0d0d0d" d="M266.9 388.4l-1.8-2.5l0-169.3l1.8 2.5z"/><path fill="#0d0d0d" d="M266.9 219.1l12.5-2.3l-1.9-2.4l-12.4 2.2z"/><path fill="#808080" d="M343.3 377.2l12.5-2.3l0-102l-12.5 2.3z"/><path fill="#0d0d0d" d="M343.3 275.2l12.5-2.3l-1.9-2.4l-12.4 2.2z"/><path fill="#808080" d="M330.9 379.5l12.4-2.3l0-132l-12.4 2.3z"/><path fill="#0d0d0d" d="M330.9 247.5l12.4-2.3l-1.8-2.5l-12.4 2.3z"/><path fill="#808080" d="M318.5 381.8l12.4-2.3l0-135.1l-12.4 2.3z"/><path fill="#0d0d0d" d="M318.5 246.7l12.4-2.3l-1.8-2.5l-12.4 2.3z"/><path fill="#808080" d="M293.6 386.3l12.4-2.2l0-155.3l-12.4 2.2z"/><path fill="#0d0d0d" d="M293.6 231l12.4-2.2l-1.8-2.5l-12.4 2.3z"/><path fill="#808080" d="M281.2 388.6l12.4-2.3l0-168.5l-12.4 2.3z"/><path fill="#0d0d0d" d="M281.2 220.1l12.4-2.3l-1.8-2.4l-12.4 2.2z"/><path fill="#0d0d0d" d="M268.7 390.9l-1.8-2.5l0-169.3l1.8 2.5z"/><path fill="#0d0d0d" d="M268.7 221.6l12.5-2.3l-1.8-2.5l-12.5 2.3z"/><path fill="#808080" d="M332.7 382l12.4-2.3l0-122l-12.4 2.3z"/><path fill="#0d0d0d" d="M332.7 260l12.4-2.3l-1.8-2.5l-12.4 2.3z"/><path fill="#808080" d="M320.3 384.2l12.4-2.2l0-133.6l-12.4 2.3z"/><path fill="#0d0d0d" d="M320.3 250.7l12.4-2.3l-1.8-2.5l-12.4 2.3z"/><path fill="#0d0d0d" d="M307.8 386.5l-1.8-2.4l0-150l1.8 2.4z"/><path fill="#808080" d="M307.8 386.5l12.5-2.3l0-150l-12.5 2.3z"/><path fill="#0d0d0d" d="M307.8 236.5l12.5-2.3l-1.8-2.4l-12.5 2.3z"/><path fill="#808080" d="M295.4 388.8l12.4-2.3l0-147.7l-12.4 2.3z"/><path fill="#0d0d0d" d="M295.4 241.1l12.4-2.3l-1.8-2.4l-12.4 2.2z"/><path fill="#808080" d="M283 391.1l12.4-2.3l0-168l-12.4 2.3z"/><path fill="#0d0d0d" d="M283 223.1l12.4-2.3l-1.8-2.5l-12.4 2.3z"/><path fill="#0d0d0d" d="M270.6 393.4l-1.9-2.5l0-169.3l1.9 2.5z"/><path fill="#808080" d="M270.6 393.4l12.4-2.3l0-169.3l-12.4 2.3z"/><path fill="#0d0d0d" d="M270.6 224.1l12.4-2.3l-1.8-2.5l-12.5 2.3z"/><path fill="#808080" d="M322.1 386.7l12.4-2.3l0-120l-12.4 2.3z"/><path fill="#0d0d0d" d="M322.1 266.7l12.4-2.3l-1.8-2.4l-12.4 2.2z"/><path fill="#808080" d="M309.7 389l12.4-2.3l0-140l-12.4 2.3z"/><path fill="#0d0d0d" d="M309.7 249l12.4-2.3l-1.8-2.5l-12.5 2.3z"/><path fill="#808080" d="M297.2 391.3l12.5-2.3l0-147l-12.5 2.3z"/><path fill="#0d0d0d" d="M297.2 244.3l12.5-2.3l-1.9-2.5l-12.4 2.3z"/><path fill="#808080" d="M284.8 393.6l12.4-2.3l0-165l-12.4 2.3z"/><path fill="#0d0d0d" d="M284.8 228.6l12.4-2.3l-1.8-2.5l-12.4 2.3z"/><path fill="#0d0d0d" d="M272.4 395.9l-1.8-2.5l0-169l1.8 2.5z"/><path fill="#808080" d="M272.4 395.9l12.4-2.3l0-169l-12.4 2.3z"/><path fill="#0d0d0d" d="M272.4 226.9l12.4-2.3l-1.8-2.5l-12.4 2.3z"/><path fill="#0d0d0d" d="M311.5 391.5l-1.8-2.5l0-131l1.8 2.5z"/><path fill="#808080" d="M311.5 391.5l12.4-2.3l0-131l-12.4 2.3z"/><path fill="#0d0d0d" d="M311.5 260.5l12.4-2.3l-1.8-2.5l-12.4 2.3z"/><path fill="#808080" d="M299 393.8l12.5-2.3l0-117.5l-12.5 2.3z"/><path fill="#0d0d0d" d="M299 276.3l12.5-2.3l-1.8-2.5l-12.5 2.3z"/><path fill="#0d0d0d" d="M286.6 396l-1.8-2.4l0-160l1.8 2.4z"/><path fill="#808080" d="M286.6 396l12.4-2.2l0-160l-12.4 2.2z"/><path fill="#0d0d0d" d="M286.6 236l12.4-2.2l-1.8-2.5l-12.4 2.3z"/><path fill="#0d0d0d" d="M274.2 398.3l-1.8-2.4l0-158l1.8 2.4z"/><path fill="#808080" d="M274.2 398.3l12.4-2.3l0-158l-12.4 2.3z"/><path fill="#0d0d0d" d="M274.2 240.3l12.4-2.3l-1.8-2.4l-12.4 2.3z"/><path fill="#0d0d0d" d="M288.4 398.5l-1.8-2.5l0-154l1.8 2.5z"/><path fill="#808080" d="M288.4 398.5l12.5-2.3l0-154l-12.5 2.3z"/><path fill="#0d0d0d" d="M288.4 244.5l12.5-2.3l-1.9-2.4l-12.4 2.2z"/><path fill="#0d0d0d" d="M276 400.8l-1.8-2.5l0-94l1.8 2.5z"/><path fill="#808080" d="M276 400.8l12.4-2.3l0-94l-12.4 2.3z"/><path fill="#0d0d0d" d="M276 306.8l12.4-2.3l-1.8-2.5l-12.4 2.3z"/></g>

<g stroke="#000" stroke-linecap="butt"><path d="M578.5 400.8L777.4 364.3L704.8 265.3L505.9 301.8z" fill="none" stroke-width="2.5" stroke-linejoin="miter"/><path d="M628.2 391.7L624.3 386.3" stroke-width="1"/><path d="M555.6 292.7L559.5 298" stroke-width="1"/><path d="M678 382.6L674 377.2" stroke-width="1"/><path d="M605.4 283.6L609.3 288.9" stroke-width="1"/><path d="M727.7 373.4L723.8 368.1" stroke-width="1"/><path d="M655.1 274.4L659 279.8" stroke-width="1"/><path d="M569.4 388.4L574.8 387.4" stroke-width="1"/><path d="M768.3 351.9L763 352.9" stroke-width="1"/><path d="M560.4 376.1L571.1 374.1" stroke-width="1"/><path d="M759.2 339.6L748.5 341.5" stroke-width="1"/><path d="M551.3 363.7L556.6 362.7" stroke-width="1"/><path d="M750.2 327.2L744.8 328.2" stroke-width="1"/><path d="M542.2 351.3L552.9 349.3" stroke-width="1"/><path d="M741.1 314.8L730.4 316.8" stroke-width="1"/><path d="M533.1 338.9L538.5 337.9" stroke-width="1"/><path d="M732 302.4L726.7 303.4" stroke-width="1"/><path d="M524 326.6L534.8 324.6" stroke-width="1"/><path d="M722.9 290.1L712.2 292" stroke-width="1"/><path d="M515 314.2L520.3 313.2" stroke-width="1"/><path d="M713.9 277.7L708.5 278.7" stroke-width="1"/><path d="M505.9 302.8L505.9 131.8" stroke-width="2.5"/><path d="M505.9 277.8L511.5 276.8" stroke-width="1"/><path d="M505.9 253.8L517.6 251.7" stroke-width="1"/><path d="M505.9 229.8L511.5 228.8" stroke-width="1"/><path d="M505.9 205.8L511.5 204.8" stroke-width="1"/><path d="M505.9 181.8L511.5 180.8" stroke-width="1"/><path d="M505.9 157.8L517.6 155.7" stroke-width="1"/><path d="M505.9 133.8L511.5 132.8" stroke-width="1"/></g>
<text transform="matrix(0 -0.866 1.046 -0.192 495.9 256.1)" font-size="20.8" text-anchor="middle">5000</text>
<text transform="matrix(0 -0.866 1.046 -0.192 495.9 160.1)" font-size="20.8" text-anchor="middle">15000</text>
<text transform="matrix(0.934 -0.171 0.341 0.465 587.5 413.1)" font-size="20.4" text-anchor="middle">4</text><text transform="matrix(0.934 -0.171 0.341 0.465 637.3 404)" font-size="20.4" text-anchor="middle">5</text><text transform="matrix(0.934 -0.171 0.341 0.465 687 394.9)" font-size="20.4" text-anchor="middle">6</text><text transform="matrix(0.934 -0.171 0.341 0.465 736.7 385.7)" font-size="20.4" text-anchor="middle">7</text><text transform="matrix(0.934 -0.171 0.341 0.465 786.4 376.6)" font-size="20.4" text-anchor="middle">8</text><text transform="matrix(0.341 0.465 -0.934 0.171 553.3 405.4)" font-size="20.4" text-anchor="middle">0</text><text transform="matrix(0.341 0.465 -0.934 0.171 535.1 380.7)" font-size="20.4" text-anchor="middle">100</text><text transform="matrix(0.341 0.465 -0.934 0.171 517 355.9)" font-size="20.4" text-anchor="middle">200</text><text transform="matrix(0.341 0.465 -0.934 0.171 498.8 331.2)" font-size="20.4" text-anchor="middle">300</text><text transform="matrix(0.341 0.465 -0.934 0.171 480.7 306.4)" font-size="20.4" text-anchor="middle">400</text>
<g stroke="#000" stroke-width="0.4" stroke-linejoin="round"><path fill="#ff8a0a" d="M694.2 269.8l12.4-2.3l-1.8-2.5l-12.4 2.3zM681.8 272l12.4-2.2l-1.8-2.5l-12.5 2.3zM669.3 274.3l12.5-2.3l-1.9-2.4l-12.4 2.2zM656.9 276.6l12.4-2.3l-1.8-2.5l-12.4 2.3zM644.5 278.9l12.4-2.3l-1.8-2.5l-12.5 2.3zM696 272.2l12.4-2.3l-1.8-2.4l-12.4 2.3zM683.6 274.5l12.4-2.3l-1.8-2.4l-12.4 2.2zM685.4 277l12.4-2.3l-1.8-2.5l-12.4 2.3zM673 279.3l12.4-2.3l-1.8-2.5l-12.5 2.3zM699.6 277.2l12.5-2.3l-1.9-2.5l-12.4 2.3zM687.2 279.5l12.4-2.3l-1.8-2.5l-12.4 2.3zM674.8 281.7l12.4-2.2l-1.8-2.5l-12.4 2.3zM662.3 284l12.5-2.3l-1.8-2.4l-12.5 2.3zM701.4 279.7l12.5-2.3l-1.8-2.5l-12.5 2.3zM676.6 284.2l12.4-2.3l-1.8-2.4l-12.4 2.2zM626.9 293.3l12.4-2.2l-1.8-2.5l-12.5 2.3zM703.3 282.1l12.4-2.2l-1.8-2.5l-12.5 2.3zM678.4 286.7l12.4-2.3l-1.8-2.5l-12.4 2.3zM666 289l12.4-2.3l-1.8-2.5l-12.5 2.3zM653.5 291.3l12.5-2.3l-1.9-2.5l-12.4 2.3zM705.1 284.6l12.4-2.3l-1.8-2.4l-12.4 2.2zM692.6 286.9l12.5-2.3l-1.8-2.5l-12.5 2.3zM680.2 289.2l12.4-2.3l-1.8-2.5l-12.4 2.3zM667.8 291.4l12.4-2.2l-1.8-2.5l-12.4 2.3zM655.3 293.7l12.5-2.3l-1.8-2.4l-12.5 2.3zM642.9 296l12.4-2.3l-1.8-2.4l-12.4 2.2zM706.9 287.1l12.4-2.3l-1.8-2.5l-12.4 2.3zM682 291.6l12.5-2.2l-1.9-2.5l-12.4 2.3zM669.6 293.9l12.4-2.3l-1.8-2.4l-12.4 2.2zM657.2 296.2l12.4-2.3l-1.8-2.5l-12.5 2.3zM644.7 298.5l12.5-2.3l-1.9-2.5l-12.4 2.3zM619.9 303.1l12.4-2.3l-1.8-2.5l-12.4 2.3zM708.7 289.6l12.4-2.3l-1.8-2.5l-12.4 2.3zM696.3 291.8l12.4-2.2l-1.8-2.5l-12.4 2.3zM683.8 294.1l12.5-2.3l-1.8-2.4l-12.5 2.2zM671.4 296.4l12.4-2.3l-1.8-2.5l-12.4 2.3zM659 298.7l12.4-2.3l-1.8-2.5l-12.4 2.3zM621.7 305.5l12.4-2.3l-1.8-2.4l-12.4 2.3zM710.5 292l12.4-2.2l-1.8-2.5l-12.4 2.3zM698.1 294.3l12.4-2.3l-1.8-2.4l-12.4 2.2zM685.7 296.6l12.4-2.3l-1.8-2.5l-12.5 2.3zM673.2 298.9l12.5-2.3l-1.9-2.5l-12.4 2.3zM660.8 301.2l12.4-2.3l-1.8-2.5l-12.4 2.3zM648.4 303.4l12.4-2.2l-1.8-2.5l-12.5 2.3zM635.9 305.7l12.5-2.3l-1.9-2.4l-12.4 2.2zM712.3 294.5l12.5-2.3l-1.9-2.4l-12.4 2.2zM699.9 296.8l12.4-2.3l-1.8-2.5l-12.4 2.3zM687.5 299.1l12.4-2.3l-1.8-2.5l-12.4 2.3zM675 301.4l12.5-2.3l-1.8-2.5l-12.5 2.3zM662.6 303.6l12.4-2.2l-1.8-2.5l-12.4 2.3zM650.2 305.9l12.4-2.3l-1.8-2.4l-12.4 2.2zM637.7 308.2l12.5-2.3l-1.8-2.5l-12.5 2.3zM714.1 297l12.5-2.3l-1.8-2.5l-12.5 2.3zM701.7 299.3l12.4-2.3l-1.8-2.5l-12.4 2.3zM689.3 301.5l12.4-2.2l-1.8-2.5l-12.4 2.3zM676.9 303.8l12.4-2.3l-1.8-2.4l-12.5 2.3zM664.4 306.1l12.5-2.3l-1.9-2.4l-12.4 2.2zM652 308.4l12.4-2.3l-1.8-2.5l-12.4 2.3zM627.1 312.9l12.5-2.2l-1.9-2.5l-12.4 2.3zM716 299.5l12.4-2.3l-1.8-2.5l-12.5 2.3zM703.5 301.7l12.5-2.2l-1.9-2.5l-12.4 2.3zM691.1 304l12.4-2.3l-1.8-2.4l-12.4 2.2zM678.7 306.3l12.4-2.3l-1.8-2.5l-12.4 2.3zM666.2 308.6l12.5-2.3l-1.8-2.5l-12.5 2.3zM653.8 310.9l12.4-2.3l-1.8-2.5l-12.4 2.3zM641.4 313.1l12.4-2.2l-1.8-2.5l-12.4 2.3zM705.3 304.2l12.5-2.3l-1.8-2.4l-12.5 2.2zM692.9 306.5l12.4-2.3l-1.8-2.5l-12.4 2.3zM680.5 308.8l12.4-2.3l-1.8-2.5l-12.4 2.3zM668.1 311.1l12.4-2.3l-1.8-2.5l-12.5 2.3zM655.6 313.3l12.5-2.2l-1.9-2.5l-12.4 2.3zM643.2 315.6l12.4-2.3l-1.8-2.4l-12.4 2.2zM630.8 317.9l12.4-2.3l-1.8-2.5l-12.5 2.3zM719.6 304.4l12.4-2.3l-1.8-2.5l-12.4 2.3zM707.2 306.7l12.4-2.3l-1.8-2.5l-12.5 2.3zM694.7 309l12.5-2.3l-1.9-2.5l-12.4 2.3zM682.3 311.2l12.4-2.2l-1.8-2.5l-12.4 2.3zM669.9 313.5l12.4-2.3l-1.8-2.4l-12.4 2.3zM657.4 315.8l12.5-2.3l-1.8-2.4l-12.5 2.2zM645 318.1l12.4-2.3l-1.8-2.5l-12.4 2.3zM632.6 320.4l12.4-2.3l-1.8-2.5l-12.4 2.3zM709 309.2l12.4-2.3l-1.8-2.5l-12.4 2.3zM696.5 311.4l12.5-2.2l-1.8-2.5l-12.5 2.3zM684.1 313.7l12.4-2.3l-1.8-2.4l-12.4 2.2zM671.7 316l12.4-2.3l-1.8-2.5l-12.4 2.3zM659.3 318.3l12.4-2.3l-1.8-2.5l-12.5 2.3zM646.8 320.6l12.5-2.3l-1.9-2.5l-12.4 2.3zM634.4 322.9l12.4-2.3l-1.8-2.5l-12.4 2.3zM622 325.1l12.4-2.2l-1.8-2.5l-12.5 2.3zM710.8 311.6l12.4-2.2l-1.8-2.5l-12.4 2.3zM698.4 313.9l12.4-2.3l-1.8-2.4l-12.5 2.2zM685.9 316.2l12.5-2.3l-1.9-2.5l-12.4 2.3zM673.5 318.5l12.4-2.3l-1.8-2.5l-12.4 2.3zM661.1 320.8l12.4-2.3l-1.8-2.5l-12.4 2.3zM648.6 323l12.5-2.2l-1.8-2.5l-12.5 2.3zM636.2 325.3l12.4-2.3l-1.8-2.4l-12.4 2.3zM623.8 327.6l12.4-2.3l-1.8-2.4l-12.4 2.2zM700.2 316.4l12.4-2.3l-1.8-2.5l-12.4 2.3zM687.7 318.7l12.5-2.3l-1.8-2.5l-12.5 2.3zM675.3 321l12.4-2.3l-1.8-2.5l-12.4 2.3zM662.9 323.2l12.4-2.2l-1.8-2.5l-12.4 2.3zM650.5 325.5l12.4-2.3l-1.8-2.4l-12.5 2.2zM638 327.8l12.5-2.3l-1.9-2.5l-12.4 2.3zM702 318.9l12.4-2.3l-1.8-2.5l-12.4 2.3zM689.6 321.1l12.4-2.2l-1.8-2.5l-12.5 2.3zM677.1 323.4l12.5-2.3l-1.9-2.4l-12.4 2.3zM664.7 325.7l12.4-2.3l-1.8-2.4l-12.4 2.2zM652.3 328l12.4-2.3l-1.8-2.5l-12.4 2.3zM639.8 330.3l12.5-2.3l-1.8-2.5l-12.5 2.3zM627.4 332.6l12.4-2.3l-1.8-2.5l-12.4 2.3zM703.8 321.3l12.4-2.2l-1.8-2.5l-12.4 2.3zM691.4 323.6l12.4-2.3l-1.8-2.4l-12.4 2.2zM678.9 325.9l12.5-2.3l-1.8-2.5l-12.5 2.3zM666.5 328.2l12.4-2.3l-1.8-2.5l-12.4 2.3zM654.1 330.5l12.4-2.3l-1.8-2.5l-12.4 2.3zM641.7 332.8l12.4-2.3l-1.8-2.5l-12.5 2.3zM616.8 337.3l12.4-2.3l-1.8-2.4l-12.4 2.2zM693.2 326.1l12.4-2.3l-1.8-2.5l-12.4 2.3zM680.8 328.4l12.4-2.3l-1.8-2.5l-12.5 2.3zM668.3 330.7l12.5-2.3l-1.9-2.5l-12.4 2.3zM655.9 332.9l12.4-2.2l-1.8-2.5l-12.4 2.3zM643.5 335.2l12.4-2.3l-1.8-2.4l-12.4 2.3zM631 337.5l12.5-2.3l-1.8-2.4l-12.5 2.2zM618.6 339.8l12.4-2.3l-1.8-2.5l-12.4 2.3zM695 328.6l12.4-2.3l-1.8-2.5l-12.4 2.3zM682.6 330.9l12.4-2.3l-1.8-2.5l-12.4 2.3zM670.1 333.1l12.5-2.2l-1.8-2.5l-12.5 2.3zM657.7 335.4l12.4-2.3l-1.8-2.4l-12.4 2.2zM645.3 337.7l12.4-2.3l-1.8-2.5l-12.4 2.3zM632.8 340l12.5-2.3l-1.8-2.5l-12.5 2.3zM696.8 331.1l12.5-2.3l-1.9-2.5l-12.4 2.3zM684.4 333.3l12.4-2.2l-1.8-2.5l-12.4 2.3zM672 335.6l12.4-2.3l-1.8-2.4l-12.5 2.2zM659.5 337.9l12.5-2.3l-1.9-2.5l-12.4 2.3zM647.1 340.2l12.4-2.3l-1.8-2.5l-12.4 2.3zM634.7 342.5l12.4-2.3l-1.8-2.5l-12.5 2.3zM686.2 335.8l12.4-2.3l-1.8-2.4l-12.4 2.2zM673.8 338.1l12.4-2.3l-1.8-2.5l-12.4 2.3zM661.3 340.4l12.5-2.3l-1.8-2.5l-12.5 2.3zM648.9 342.6l12.4-2.2l-1.8-2.5l-12.4 2.3zM636.5 344.9l12.4-2.3l-1.8-2.4l-12.4 2.3zM688 338.3l12.4-2.3l-1.8-2.5l-12.4 2.3zM675.6 340.6l12.4-2.3l-1.8-2.5l-12.4 2.3zM663.2 342.8l12.4-2.2l-1.8-2.5l-12.5 2.3zM650.7 345.1l12.5-2.3l-1.9-2.4l-12.4 2.2zM638.3 347.4l12.4-2.3l-1.8-2.5l-12.4 2.3z"/><path fill="#a65600" d="M665 345.6l-1.8-2.5l0-4.6l1.8 2.5z"/><path fill="#ffbb73" d="M665 345.6l12.4-2.3l0-4.6l-12.4 2.3z"/><path fill="#ff8a0a" d="M665 341l12.4-2.3l-1.8-2.4l-12.4 2.2zM652.5 347.6l12.5-2.3l-1.8-2.5l-12.5 2.3zM640.1 349.9l12.4-2.3l-1.8-2.5l-12.4 2.3z"/><path fill="#a65600" d="M679.2 345.8l-1.8-2.5l0-5.5l1.8 2.5z"/><path fill="#ffbb73" d="M679.2 345.8l12.4-2.3l0-5.5l-12.4 2.3z"/><path fill="#ff8a0a" d="M679.2 340.3l12.4-2.3l-1.8-2.4l-12.4 2.2zM666.8 347.8l12.4-2.3l-1.8-2.5l-12.4 2.3zM654.4 350.1l12.4-2.3l-1.8-2.5l-12.5 2.3zM641.9 352.4l12.5-2.3l-1.9-2.5l-12.4 2.3zM681 348l12.5-2.3l-1.9-2.5l-12.4 2.3zM668.6 350.3l12.4-2.3l-1.8-2.5l-12.4 2.3z"/><path fill="#a65600" d="M656.2 352.9l-1.8-2.5l0-3l1.8 2.5z"/><path fill="#ffbb73" d="M656.2 352.9l12.4-2.3l0-3l-12.4 2.3z"/><path fill="#ff8a0a" d="M656.2 349.9l12.4-2.3l-1.8-2.5l-12.4 2.3z"/><path fill="#ffbb73" d="M682.8 350.8l12.5-2.3l0-3l-12.5 2.3z"/><path fill="#ff8a0a" d="M682.8 347.8l12.5-2.3l-1.8-2.5l-12.5 2.3zM670.4 352.7l12.4-2.2l-1.8-2.5l-12.4 2.3zM658 355l12.4-2.3l-1.8-2.4l-12.4 2.3z"/><path fill="#a65600" d="M672.2 355.5l-1.8-2.5l0-6l1.8 2.5z"/><path fill="#ffbb73" d="M672.2 355.5l12.5-2.3l0-6l-12.5 2.3z"/><path fill="#ff8a0a" d="M672.2 349.5l12.5-2.3l-1.9-2.4l-12.4 2.2z"/><path fill="#ffbb73" d="M674 358l12.5-2.3l0-4l-12.5 2.3z"/><path fill="#ff8a0a" d="M674 354l12.5-2.3l-1.8-2.5l-12.5 2.3z"/><path fill="#ffbb73" d="M665.2 365.2l12.5-2.3l0-10l-12.5 2.3z"/><path fill="#ff8a0a" d="M665.2 355.2l12.5-2.3l-1.8-2.4l-12.5 2.3z"/><path fill="#ffbb73" d="M667.1 367.7l12.4-2.3l0-3l-12.4 2.3z"/><path fill="#ff8a0a" d="M667.1 364.7l12.4-2.3l-1.8-2.5l-12.5 2.3z"/><path fill="#ffbb73" d="M654.6 370l12.5-2.3l0-16.5l-12.5 2.3z"/><path fill="#ff8a0a" d="M654.6 353.5l12.5-2.3l-1.9-2.5l-12.4 2.3z"/><path fill="#ffbb73" d="M656.4 372.5l12.5-2.3l0-7.8l-12.5 2.3z"/><path fill="#ff8a0a" d="M656.4 364.7l12.5-2.3l-1.8-2.5l-12.5 2.3z"/><path fill="#ffbb73" d="M644 374.7l12.4-2.2l0-19.8l-12.4 2.2z"/><path fill="#ff8a0a" d="M644 354.9l12.4-2.2l-1.8-2.5l-12.4 2.3z"/><path fill="#ffbb73" d="M645.8 377.2l12.5-2.3l0-12l-12.5 2.3z"/><path fill="#ff8a0a" d="M645.8 365.2l12.5-2.3l-1.9-2.4l-12.4 2.2z"/><path fill="#ffbb73" d="M633.4 379.5l12.4-2.3l0-39.5l-12.4 2.3z"/><path fill="#ff8a0a" d="M633.4 340l12.4-2.3l-1.8-2.5l-12.4 2.3z"/><path fill="#ffbb73" d="M635.2 382l12.4-2.3l0-31.6l-12.4 2.3z"/><path fill="#ff8a0a" d="M635.2 350.4l12.4-2.3l-1.8-2.5l-12.4 2.3z"/><path fill="#ffbb73" d="M622.8 384.2l12.4-2.2l0-44l-12.4 2.2z"/><path fill="#ff8a0a" d="M622.8 340.2l12.4-2.2l-1.8-2.5l-12.4 2.3z"/><path fill="#a65600" d="M573.1 393.4l-1.9-2.5l0-8l1.9 2.5z"/><path fill="#ff8a0a" d="M573.1 385.4l12.4-2.3l-1.8-2.5l-12.5 2.3z"/><path fill="#ffbb73" d="M624.6 386.7l12.4-2.3l0-30l-12.4 2.3z"/><path fill="#ff8a0a" d="M624.6 356.7l12.4-2.3l-1.8-2.4l-12.4 2.2z"/><path fill="#ffbb73" d="M612.2 389l12.4-2.3l0-85l-12.4 2.3z"/><path fill="#ff8a0a" d="M612.2 304l12.4-2.3l-1.8-2.5l-12.5 2.3z"/><path fill="#ffbb73" d="M599.7 391.3l12.5-2.3l0-94.5l-12.5 2.3z"/><path fill="#ff8a0a" d="M599.7 296.8l12.5-2.3l-1.9-2.5l-12.4 2.3z"/><path fill="#a65600" d="M574.9 395.9l-1.8-2.5l0-30l1.8 2.5z"/><path fill="#ff8a0a" d="M574.9 365.9l12.4-2.3l-1.8-2.5l-12.4 2.3z"/><path fill="#a65600" d="M614 391.5l-1.8-2.5l0-57l1.8 2.5z"/><path fill="#ffbb73" d="M614 391.5l12.4-2.3l0-57l-12.4 2.3z"/><path fill="#ff8a0a" d="M614 334.5l12.4-2.3l-1.8-2.5l-12.4 2.3z"/><path fill="#ffbb73" d="M601.5 393.8l12.5-2.3l0-29l-12.5 2.3z"/><path fill="#ff8a0a" d="M601.5 364.8l12.5-2.3l-1.8-2.5l-12.5 2.3z"/><path fill="#a65600" d="M589.1 396l-1.8-2.4l0-161l1.8 2.4z"/><path fill="#ffbb73" d="M589.1 396l12.4-2.2l0-161l-12.4 2.2z"/><path fill="#ff8a0a" d="M589.1 235l12.4-2.2l-1.8-2.5l-12.4 2.3z"/><path fill="#a65600" d="M576.7 398.3l-1.8-2.4l0-120l1.8 2.4z"/><path fill="#ffbb73" d="M576.7 398.3l12.4-2.3l0-120l-12.4 2.3z"/><path fill="#ff8a0a" d="M576.7 278.3l12.4-2.3l-1.8-2.4l-12.4 2.3z"/><path fill="#a65600" d="M578.5 400.8l-1.8-2.5l0-6.5l1.8 2.5z"/><path fill="#ffbb73" d="M578.5 400.8l12.4-2.3l0-6.5l-12.4 2.3z"/><path fill="#ff8a0a" d="M578.5 394.3l12.4-2.3l-1.8-2.5l-12.4 2.3z"/></g>

<g stroke="#000" stroke-linecap="butt"><path d="M881 400.8L1079.9 364.3L1007.3 265.3L808.4 301.8z" fill="none" stroke-width="2.5" stroke-linejoin="miter"/><path d="M930.7 391.7L926.8 386.3" stroke-width="1"/><path d="M858.1 292.7L862 298" stroke-width="1"/><path d="M980.5 382.6L976.5 377.2" stroke-width="1"/><path d="M907.9 283.6L911.8 288.9" stroke-width="1"/><path d="M1030.2 373.4L1026.3 368.1" stroke-width="1"/><path d="M957.6 274.4L961.5 279.8" stroke-width="1"/><path d="M871.9 388.4L877.3 387.4" stroke-width="1"/><path d="M1070.8 351.9L1065.5 352.9" stroke-width="1"/><path d="M862.9 376.1L873.6 374.1" stroke-width="1"/><path d="M1061.8 339.6L1051 341.5" stroke-width="1"/><path d="M853.8 363.7L859.1 362.7" stroke-width="1"/><path d="M1052.7 327.2L1047.3 328.2" stroke-width="1"/><path d="M844.7 351.3L855.4 349.3" stroke-width="1"/><path d="M1043.6 314.8L1032.9 316.8" stroke-width="1"/><path d="M835.6 338.9L841 337.9" stroke-width="1"/><path d="M1034.5 302.4L1029.2 303.4" stroke-width="1"/><path d="M826.5 326.6L837.3 324.6" stroke-width="1"/><path d="M1025.5 290.1L1014.7 292" stroke-width="1"/><path d="M817.5 314.2L822.8 313.2" stroke-width="1"/><path d="M1016.4 277.7L1011 278.7" stroke-width="1"/><path d="M808.4 302.8L808.4 131.8" stroke-width="2.5"/><path d="M808.4 277.8L814 276.8" stroke-width="1"/><path d="M808.4 253.8L820.1 251.7" stroke-width="1"/><path d="M808.4 229.8L814 228.8" stroke-width="1"/><path d="M808.4 205.8L814 204.8" stroke-width="1"/><path d="M808.4 181.8L814 180.8" stroke-width="1"/><path d="M808.4 157.8L820.1 155.7" stroke-width="1"/><path d="M808.4 133.8L814 132.8" stroke-width="1"/></g>
<text transform="matrix(0 -0.866 1.046 -0.192 798.4 256.1)" font-size="20.8" text-anchor="middle">5000</text>
<text transform="matrix(0 -0.866 1.046 -0.192 798.4 160.1)" font-size="20.8" text-anchor="middle">15000</text>
<text transform="matrix(0.934 -0.171 0.341 0.465 890 413.1)" font-size="20.4" text-anchor="middle">4</text><text transform="matrix(0.934 -0.171 0.341 0.465 939.8 404)" font-size="20.4" text-anchor="middle">5</text><text transform="matrix(0.934 -0.171 0.341 0.465 989.5 394.9)" font-size="20.4" text-anchor="middle">6</text><text transform="matrix(0.934 -0.171 0.341 0.465 1039.2 385.7)" font-size="20.4" text-anchor="middle">7</text><text transform="matrix(0.934 -0.171 0.341 0.465 1088.9 376.6)" font-size="20.4" text-anchor="middle">8</text><text transform="matrix(0.341 0.465 -0.934 0.171 855.8 405.4)" font-size="20.4" text-anchor="middle">0</text><text transform="matrix(0.341 0.465 -0.934 0.171 837.6 380.7)" font-size="20.4" text-anchor="middle">100</text><text transform="matrix(0.341 0.465 -0.934 0.171 819.5 355.9)" font-size="20.4" text-anchor="middle">200</text><text transform="matrix(0.341 0.465 -0.934 0.171 801.3 331.2)" font-size="20.4" text-anchor="middle">300</text><text transform="matrix(0.341 0.465 -0.934 0.171 783.2 306.4)" font-size="20.4" text-anchor="middle">400</text>
<g stroke="#000" stroke-width="0.4" stroke-linejoin="round"><path fill="#00ff00" d="M1018.5 299.5l12.4-2.3l-1.8-2.5l-12.5 2.3zM1020.3 301.9l12.4-2.3l-1.8-2.4l-12.4 2.3zM1022.1 304.4l12.4-2.3l-1.8-2.5l-12.4 2.3zM1009.7 306.7l12.4-2.3l-1.8-2.5l-12.5 2.3zM1023.9 306.9l12.4-2.3l-1.8-2.5l-12.4 2.3zM1011.5 309.2l12.4-2.3l-1.8-2.5l-12.4 2.3zM1025.7 309.4l12.5-2.3l-1.9-2.5l-12.4 2.3zM1013.3 311.6l12.4-2.2l-1.8-2.5l-12.4 2.3zM1000.9 313.9l12.4-2.3l-1.8-2.4l-12.5 2.2zM1027.5 311.8l12.5-2.2l-1.8-2.5l-12.5 2.3zM1015.1 314.1l12.4-2.3l-1.8-2.4l-12.4 2.2zM1002.7 316.4l12.4-2.3l-1.8-2.5l-12.4 2.3zM1029.4 314.3l12.4-2.3l-1.8-2.4l-12.5 2.2zM1016.9 316.6l12.5-2.3l-1.9-2.5l-12.4 2.3zM1004.5 318.9l12.4-2.3l-1.8-2.5l-12.4 2.3zM1031.2 316.8l12.4-2.3l-1.8-2.5l-12.4 2.3zM1018.7 319.1l12.5-2.3l-1.8-2.5l-12.5 2.3zM1006.3 321.3l12.4-2.2l-1.8-2.5l-12.4 2.3zM993.9 323.6l12.4-2.3l-1.8-2.4l-12.4 2.2zM1033 319.3l12.4-2.3l-1.8-2.5l-12.4 2.3zM1020.6 321.5l12.4-2.2l-1.8-2.5l-12.5 2.3zM1008.1 323.8l12.5-2.3l-1.9-2.4l-12.4 2.2zM995.7 326.1l12.4-2.3l-1.8-2.5l-12.4 2.3zM1034.8 321.7l12.4-2.3l-1.8-2.4l-12.4 2.3zM1022.4 324l12.4-2.3l-1.8-2.4l-12.4 2.2zM1009.9 326.3l12.5-2.3l-1.8-2.5l-12.5 2.3zM997.5 328.6l12.4-2.3l-1.8-2.5l-12.4 2.3zM1036.6 324.2l12.4-2.3l-1.8-2.5l-12.4 2.3zM1024.2 326.5l12.4-2.3l-1.8-2.5l-12.4 2.3zM1011.8 328.8l12.4-2.3l-1.8-2.5l-12.5 2.3zM999.3 331.1l12.5-2.3l-1.9-2.5l-12.4 2.3zM986.9 333.3l12.4-2.2l-1.8-2.5l-12.4 2.3zM1038.4 326.7l12.5-2.3l-1.9-2.5l-12.4 2.3zM1026 329l12.4-2.3l-1.8-2.5l-12.4 2.3zM1013.6 331.2l12.4-2.2l-1.8-2.5l-12.4 2.3zM1001.1 333.5l12.5-2.3l-1.8-2.4l-12.5 2.3zM988.7 335.8l12.4-2.3l-1.8-2.4l-12.4 2.2zM1040.2 329.2l12.5-2.3l-1.8-2.5l-12.5 2.3zM1027.8 331.4l12.4-2.2l-1.8-2.5l-12.4 2.3zM1015.4 333.7l12.4-2.3l-1.8-2.4l-12.4 2.2zM1002.9 336l12.5-2.3l-1.8-2.5l-12.5 2.3zM990.5 338.3l12.4-2.3l-1.8-2.5l-12.4 2.3zM1042.1 331.6l12.4-2.2l-1.8-2.5l-12.5 2.3zM1029.6 333.9l12.5-2.3l-1.9-2.4l-12.4 2.2zM1017.2 336.2l12.4-2.3l-1.8-2.5l-12.4 2.3zM1004.8 338.5l12.4-2.3l-1.8-2.5l-12.5 2.3zM992.3 340.8l12.5-2.3l-1.9-2.5l-12.4 2.3zM979.9 343l12.4-2.2l-1.8-2.5l-12.4 2.3zM1043.9 334.1l12.4-2.3l-1.8-2.4l-12.4 2.2zM1031.4 336.4l12.5-2.3l-1.8-2.5l-12.5 2.3zM1019 338.7l12.4-2.3l-1.8-2.5l-12.4 2.3zM1006.6 340.9l12.4-2.2l-1.8-2.5l-12.4 2.3zM994.1 343.2l12.5-2.3l-1.8-2.4l-12.5 2.3zM981.7 345.5l12.4-2.3l-1.8-2.4l-12.4 2.2zM1045.7 336.6l12.4-2.3l-1.8-2.5l-12.4 2.3zM1033.3 338.9l12.4-2.3l-1.8-2.5l-12.5 2.3zM1020.8 341.1l12.5-2.2l-1.9-2.5l-12.4 2.3zM1008.4 343.4l12.4-2.3l-1.8-2.4l-12.4 2.2zM996 345.7l12.4-2.3l-1.8-2.5l-12.5 2.3zM983.5 348l12.5-2.3l-1.9-2.5l-12.4 2.3zM1047.5 339.1l12.4-2.3l-1.8-2.5l-12.4 2.3zM1035.1 341.3l12.4-2.2l-1.8-2.5l-12.4 2.3zM1022.6 343.6l12.5-2.3l-1.8-2.4l-12.5 2.2zM1010.2 345.9l12.4-2.3l-1.8-2.5l-12.4 2.3zM997.8 348.2l12.4-2.3l-1.8-2.5l-12.4 2.3zM985.3 350.5l12.5-2.3l-1.8-2.5l-12.5 2.3zM1049.3 341.5l12.5-2.3l-1.9-2.4l-12.4 2.3zM1036.9 343.8l12.4-2.3l-1.8-2.4l-12.4 2.2zM1024.5 346.1l12.4-2.3l-1.8-2.5l-12.5 2.3zM1012 348.4l12.5-2.3l-1.9-2.5l-12.4 2.3zM999.6 350.7l12.4-2.3l-1.8-2.5l-12.4 2.3zM987.2 352.9l12.4-2.2l-1.8-2.5l-12.5 2.3zM974.7 355.2l12.5-2.3l-1.9-2.4l-12.4 2.2zM1051.1 344l12.5-2.3l-1.8-2.5l-12.5 2.3zM1038.7 346.3l12.4-2.3l-1.8-2.5l-12.4 2.3zM1026.3 348.6l12.4-2.3l-1.8-2.5l-12.4 2.3zM1013.8 350.9l12.5-2.3l-1.8-2.5l-12.5 2.3zM1001.4 353.1l12.4-2.2l-1.8-2.5l-12.4 2.3zM989 355.4l12.4-2.3l-1.8-2.4l-12.4 2.2zM976.5 357.7l12.5-2.3l-1.8-2.5l-12.5 2.3zM1052.9 346.5l12.5-2.3l-1.8-2.5l-12.5 2.3zM1040.5 348.8l12.4-2.3l-1.8-2.5l-12.4 2.3zM1028.1 351l12.4-2.2l-1.8-2.5l-12.4 2.3zM1015.7 353.3l12.4-2.3l-1.8-2.4l-12.5 2.3zM1003.2 355.6l12.5-2.3l-1.9-2.4l-12.4 2.2zM990.8 357.9l12.4-2.3l-1.8-2.5l-12.4 2.3zM978.4 360.2l12.4-2.3l-1.8-2.5l-12.5 2.3zM965.9 362.4l12.5-2.2l-1.9-2.5l-12.4 2.3zM1054.8 348.9l12.4-2.3l-1.8-2.5l-12.5 2.3z"/><path fill="#73ff73" d="M1042.3 351.5l12.5-2.2l0-2.2l-12.5 2.3z"/><path fill="#00ff00" d="M1042.3 349.4l12.5-2.3l-1.9-2.4l-12.4 2.2z"/><path fill="#00a600" d="M1029.9 353.8l-1.8-2.5l0-2.6l1.8 2.5z"/><path fill="#73ff73" d="M1029.9 353.8l12.4-2.3l0-2.6l-12.4 2.3z"/><path fill="#00ff00" d="M1029.9 351.2l12.4-2.3l-1.8-2.4l-12.4 2.2zM1017.5 354.2l12.4-2.3l-1.8-2.4l-12.4 2.2z"/><path fill="#00a600" d="M1005 358.4l-1.8-2.5l0-2.7l1.8 2.5z"/><path fill="#73ff73" d="M1005 358.4l12.5-2.3l0-2.7l-12.5 2.3z"/><path fill="#00ff00" d="M1005 355.7l12.5-2.3l-1.8-2.5l-12.5 2.3zM992.6 359.2l12.4-2.3l-1.8-2.4l-12.4 2.3z"/><path fill="#00a600" d="M980.2 362.9l-1.8-2.4l0-2.5l1.8 2.4z"/><path fill="#73ff73" d="M980.2 362.9l12.4-2.2l0-2.5l-12.4 2.2z"/><path fill="#00ff00" d="M980.2 360.4l12.4-2.2l-1.8-2.5l-12.4 2.3zM967.7 364.9l12.5-2.3l-1.8-2.4l-12.5 2.2z"/><path fill="#73ff73" d="M1056.6 351.7l12.4-2.3l0-1.1l-12.4 2.3z"/><path fill="#00ff00" d="M1056.6 350.6l12.4-2.3l-1.8-2.5l-12.4 2.3z"/><path fill="#00a600" d="M1044.1 354l-1.8-2.5l0-1.7l1.8 2.5z"/><path fill="#73ff73" d="M1044.1 354l12.5-2.3l0-1.7l-12.5 2.3z"/><path fill="#00ff00" d="M1044.1 352.3l12.5-2.3l-1.8-2.5l-12.5 2.3zM1031.7 356l12.4-2.3l-1.8-2.5l-12.4 2.3z"/><path fill="#00a600" d="M1019.3 358.6l-1.8-2.5l0-2.1l1.8 2.5z"/><path fill="#00ff00" d="M1019.3 356.5l12.4-2.3l-1.8-2.5l-12.4 2.3zM994.4 360.6l12.5-2.3l-1.9-2.5l-12.4 2.3zM982 363.9l12.4-2.3l-1.8-2.4l-12.4 2.3z"/><path fill="#00a600" d="M1058.4 354.2l-1.8-2.5l0-0.8l1.8 2.4z"/><path fill="#00ff00" d="M1058.4 353.3l12.4-2.3l-1.8-2.4l-12.4 2.3zM1046 356.2l12.4-2.3l-1.8-2.5l-12.5 2.3z"/><path fill="#73ff73" d="M1033.5 358.8l12.5-2.3l0-2.4l-12.5 2.2z"/><path fill="#00ff00" d="M1033.5 356.3l12.5-2.2l-1.9-2.5l-12.4 2.3zM1021.1 358.8l12.4-2.3l-1.8-2.5l-12.4 2.3z"/><path fill="#00a600" d="M983.8 367.9l-1.8-2.5l0-12l1.8 2.5z"/><path fill="#73ff73" d="M983.8 367.9l12.4-2.3l0-12l-12.4 2.3z"/><path fill="#00ff00" d="M983.8 355.9l12.4-2.3l-1.8-2.5l-12.4 2.3zM971.4 366.2l12.4-2.3l-1.8-2.5l-12.4 2.3z"/><path fill="#00a600" d="M1060.2 356.7l-1.8-2.5l0-2.6l1.8 2.4z"/><path fill="#00ff00" d="M1060.2 354l12.4-2.2l-1.8-2.5l-12.4 2.3zM1035.3 360.2l12.5-2.2l-1.8-2.5l-12.5 2.3z"/><path fill="#73ff73" d="M1022.9 363.5l12.4-2.3l0-2.7l-12.4 2.3z"/><path fill="#00ff00" d="M1022.9 360.8l12.4-2.3l-1.8-2.5l-12.4 2.3z"/><path fill="#00a600" d="M985.6 370.4l-1.8-2.5l0-8l1.8 2.5z"/><path fill="#73ff73" d="M985.6 370.4l12.5-2.3l0-8l-12.5 2.3z"/><path fill="#00ff00" d="M985.6 362.4l12.5-2.3l-1.9-2.5l-12.4 2.3zM973.2 366.7l12.4-2.3l-1.8-2.5l-12.4 2.3zM1062 355l12.5-2.3l-1.9-2.5l-12.4 2.3zM1049.6 358.4l12.4-2.3l-1.8-2.5l-12.4 2.3z"/><path fill="#00a600" d="M1037.2 363.7l-1.9-2.5l0-4.7l1.9 2.5z"/><path fill="#73ff73" d="M1037.2 363.7l12.4-2.3l0-4.7l-12.4 2.3z"/><path fill="#00ff00" d="M1037.2 359l12.4-2.3l-1.8-2.5l-12.5 2.3z"/><path fill="#73ff73" d="M1012.3 368.3l12.4-2.3l0-9.2l-12.4 2.3z"/><path fill="#00ff00" d="M1012.3 359.1l12.4-2.3l-1.8-2.5l-12.4 2.3z"/><path fill="#00a600" d="M999.9 370.6l-1.8-2.5l0-10.7l1.8 2.5z"/><path fill="#73ff73" d="M999.9 370.6l12.4-2.3l0-10.7l-12.4 2.3z"/><path fill="#00ff00" d="M999.9 359.9l12.4-2.3l-1.8-2.5l-12.4 2.3z"/><path fill="#73ff73" d="M987.4 372.8l12.5-2.2l0-6l-12.5 2.2z"/><path fill="#00ff00" d="M987.4 366.8l12.5-2.2l-1.8-2.5l-12.5 2.3zM975 367.1l12.4-2.3l-1.8-2.4l-12.4 2.3z"/><path fill="#73ff73" d="M962.6 377.4l12.4-2.3l0-30l-12.4 2.3z"/><path fill="#00ff00" d="M962.6 347.4l12.4-2.3l-1.8-2.4l-12.4 2.2z"/><path fill="#73ff73" d="M950.1 379.7l12.5-2.3l0-32l-12.5 2.3z"/><path fill="#00ff00" d="M950.1 347.7l12.5-2.3l-1.8-2.5l-12.5 2.3zM1051.4 359.9l12.4-2.3l-1.8-2.4l-12.4 2.2zM1039 362.6l12.4-2.3l-1.8-2.5l-12.4 2.3z"/><path fill="#73ff73" d="M1026.5 368.5l12.5-2.3l0-4.9l-12.5 2.3z"/><path fill="#00ff00" d="M1026.5 363.6l12.5-2.3l-1.8-2.4l-12.5 2.2z"/><path fill="#73ff73" d="M1014.1 370.8l12.4-2.3l0-5l-12.4 2.3z"/><path fill="#00ff00" d="M1014.1 365.8l12.4-2.3l-1.8-2.5l-12.4 2.3z"/><path fill="#00a600" d="M1001.7 373l-1.8-2.4l0-6l1.8 2.4z"/><path fill="#73ff73" d="M1001.7 373l12.4-2.2l0-6l-12.4 2.2z"/><path fill="#00ff00" d="M1001.7 367l12.4-2.2l-1.8-2.5l-12.4 2.3zM989.3 372.7l12.4-2.3l-1.8-2.5l-12.5 2.3z"/><path fill="#73ff73" d="M976.8 377.6l12.5-2.3l0-8l-12.5 2.3z"/><path fill="#00ff00" d="M976.8 369.6l12.5-2.3l-1.9-2.5l-12.4 2.3z"/><path fill="#73ff73" d="M964.4 379.9l12.4-2.3l0-23l-12.4 2.3z"/><path fill="#00ff00" d="M964.4 356.9l12.4-2.3l-1.8-2.5l-12.4 2.3z"/><path fill="#73ff73" d="M952 382.2l12.4-2.3l0-25.3l-12.4 2.3z"/><path fill="#00ff00" d="M952 356.9l12.4-2.3l-1.8-2.5l-12.5 2.3z"/><path fill="#73ff73" d="M939.5 384.4l12.5-2.2l0-87.5l-12.5 2.2z"/><path fill="#00ff00" d="M939.5 296.9l12.5-2.2l-1.9-2.5l-12.4 2.3z"/><path fill="#73ff73" d="M927.1 386.7l12.4-2.3l0-89.5l-12.4 2.3z"/><path fill="#00ff00" d="M927.1 297.2l12.4-2.3l-1.8-2.4l-12.4 2.3z"/><path fill="#00a600" d="M889.8 393.6l-1.8-2.5l0-57.5l1.8 2.5z"/><path fill="#73ff73" d="M889.8 393.6l12.4-2.3l0-57.5l-12.4 2.3z"/><path fill="#00ff00" d="M889.8 336.1l12.4-2.3l-1.8-2.5l-12.4 2.3z"/><path fill="#73ff73" d="M1065.7 364.1l12.4-2.3l0-9.2l-12.4 2.3z"/><path fill="#00ff00" d="M1065.7 354.9l12.4-2.3l-1.8-2.4l-12.5 2.2z"/><path fill="#00a600" d="M1053.2 366.4l-1.8-2.5l0-9.3l1.8 2.5z"/><path fill="#73ff73" d="M1053.2 366.4l12.5-2.3l0-9.3l-12.5 2.3z"/><path fill="#00ff00" d="M1053.2 357.1l12.5-2.3l-1.9-2.5l-12.4 2.3z"/><path fill="#00a600" d="M1040.8 368.7l-1.8-2.5l0-5l1.8 2.5z"/><path fill="#73ff73" d="M1040.8 368.7l12.4-2.3l0-5l-12.4 2.3z"/><path fill="#00ff00" d="M1040.8 363.7l12.4-2.3l-1.8-2.5l-12.4 2.3z"/><path fill="#00a600" d="M1028.4 370.9l-1.9-2.4l0-4l1.9 2.4z"/><path fill="#00ff00" d="M1028.4 366.9l12.4-2.2l-1.8-2.5l-12.5 2.3zM1003.5 373.8l12.4-2.3l-1.8-2.5l-12.4 2.3z"/><path fill="#73ff73" d="M991.1 377.8l12.4-2.3l0-4.6l-12.4 2.3z"/><path fill="#00ff00" d="M991.1 373.2l12.4-2.3l-1.8-2.5l-12.4 2.3z"/><path fill="#73ff73" d="M978.6 380.1l12.5-2.3l0-6l-12.5 2.3z"/><path fill="#00ff00" d="M978.6 374.1l12.5-2.3l-1.8-2.5l-12.5 2.3z"/><path fill="#73ff73" d="M966.2 382.4l12.4-2.3l0-12l-12.4 2.3z"/><path fill="#00ff00" d="M966.2 370.4l12.4-2.3l-1.8-2.5l-12.4 2.3z"/><path fill="#73ff73" d="M953.8 384.6l12.4-2.2l0-15l-12.4 2.2z"/><path fill="#00ff00" d="M953.8 369.6l12.4-2.2l-1.8-2.5l-12.4 2.3z"/><path fill="#73ff73" d="M941.3 386.9l12.5-2.3l0-72.6l-12.5 2.3z"/><path fill="#00ff00" d="M941.3 314.3l12.5-2.3l-1.8-2.4l-12.5 2.2z"/><path fill="#73ff73" d="M928.9 389.2l12.4-2.3l0-76.3l-12.4 2.3z"/><path fill="#00ff00" d="M928.9 312.9l12.4-2.3l-1.8-2.5l-12.4 2.3z"/><path fill="#00a600" d="M916.5 391.5l-1.8-2.5l0-170l1.8 2.5z"/><path fill="#73ff73" d="M916.5 391.5l12.4-2.3l0-170l-12.4 2.3z"/><path fill="#00ff00" d="M916.5 221.5l12.4-2.3l-1.8-2.5l-12.4 2.3z"/><path fill="#00a600" d="M904 393.8l-1.8-2.5l0-114.6l1.8 2.5z"/><path fill="#73ff73" d="M904 393.8l12.5-2.3l0-114.6l-12.5 2.3z"/><path fill="#00ff00" d="M904 279.2l12.5-2.3l-1.8-2.5l-12.5 2.3z"/><path fill="#73ff73" d="M1042.6 371.1l12.4-2.2l0-3l-12.4 2.2z"/><path fill="#00ff00" d="M1042.6 368.1l12.4-2.2l-1.8-2.5l-12.4 2.3z"/><path fill="#00a600" d="M1030.2 373.4l-1.8-2.5l0-5l1.8 2.5z"/><path fill="#73ff73" d="M1030.2 373.4l12.4-2.3l0-5l-12.4 2.3z"/><path fill="#00ff00" d="M1030.2 368.4l12.4-2.3l-1.8-2.4l-12.4 2.2z"/><path fill="#73ff73" d="M1017.7 375.7l12.5-2.3l0-4l-12.5 2.3z"/><path fill="#00ff00" d="M1017.7 371.7l12.5-2.3l-1.8-2.5l-12.5 2.3z"/><path fill="#00a600" d="M1005.3 378l-1.8-2.5l0-4.4l1.8 2.5z"/><path fill="#73ff73" d="M1005.3 378l12.4-2.3l0-4.4l-12.4 2.3z"/><path fill="#00ff00" d="M1005.3 373.6l12.4-2.3l-1.8-2.5l-12.4 2.3z"/><path fill="#73ff73" d="M992.9 380.3l12.4-2.3l0-3.4l-12.4 2.3z"/><path fill="#00ff00" d="M992.9 376.9l12.4-2.3l-1.8-2.5l-12.4 2.3z"/><path fill="#73ff73" d="M980.5 382.6l12.4-2.3l0-4l-12.4 2.3z"/><path fill="#00ff00" d="M980.5 378.6l12.4-2.3l-1.8-2.5l-12.5 2.3z"/><path fill="#73ff73" d="M968 384.8l12.5-2.2l0-5.2l-12.5 2.2z"/><path fill="#00ff00" d="M968 379.6l12.5-2.2l-1.9-2.5l-12.4 2.3z"/><path fill="#73ff73" d="M955.6 387.1l12.4-2.3l0-6.7l-12.4 2.3z"/><path fill="#00ff00" d="M955.6 380.4l12.4-2.3l-1.8-2.4l-12.4 2.2z"/><path fill="#00a600" d="M943.2 389.4l-1.9-2.5l0-8.7l1.9 2.5z"/><path fill="#73ff73" d="M943.2 389.4l12.4-2.3l0-8.7l-12.4 2.3z"/><path fill="#00ff00" d="M943.2 380.7l12.4-2.3l-1.8-2.5l-12.5 2.3z"/><path fill="#73ff73" d="M930.7 391.7l12.5-2.3l0-8l-12.5 2.3z"/><path fill="#00ff00" d="M930.7 383.7l12.5-2.3l-1.9-2.5l-12.4 2.3z"/><path fill="#73ff73" d="M918.3 394l12.4-2.3l0-17.4l-12.4 2.3z"/><path fill="#00ff00" d="M918.3 376.6l12.4-2.3l-1.8-2.5l-12.4 2.3z"/><path fill="#73ff73" d="M905.9 396.2l12.4-2.2l0-18.4l-12.4 2.2z"/><path fill="#00ff00" d="M905.9 377.8l12.4-2.2l-1.8-2.5l-12.5 2.3z"/><path fill="#00a600" d="M893.4 398.5l-1.8-2.5l0-38.4l1.8 2.5z"/><path fill="#73ff73" d="M893.4 398.5l12.5-2.3l0-38.4l-12.5 2.3z"/><path fill="#00ff00" d="M893.4 360.1l12.5-2.3l-1.9-2.4l-12.4 2.2z"/><path fill="#00a600" d="M881 400.8l-1.8-2.5l0-27.4l1.8 2.5z"/><path fill="#73ff73" d="M881 400.8l12.4-2.3l0-27.4l-12.4 2.3z"/><path fill="#00ff00" d="M881 373.4l12.4-2.3l-1.8-2.5l-12.4 2.3z"/></g>

<g stroke="#000" stroke-linecap="butt"><path d="M1183.5 400.8L1382.4 364.3L1309.8 265.3L1110.9 301.8z" fill="none" stroke-width="2.5" stroke-linejoin="miter"/><path d="M1233.2 391.7L1229.3 386.3" stroke-width="1"/><path d="M1160.6 292.7L1164.5 298" stroke-width="1"/><path d="M1283 382.6L1279 377.2" stroke-width="1"/><path d="M1210.4 283.6L1214.3 288.9" stroke-width="1"/><path d="M1332.7 373.4L1328.8 368.1" stroke-width="1"/><path d="M1260.1 274.4L1264 279.8" stroke-width="1"/><path d="M1174.4 388.4L1179.8 387.4" stroke-width="1"/><path d="M1373.3 351.9L1368 352.9" stroke-width="1"/><path d="M1165.3 376.1L1176.1 374.1" stroke-width="1"/><path d="M1364.2 339.6L1353.5 341.5" stroke-width="1"/><path d="M1156.3 363.7L1161.6 362.7" stroke-width="1"/><path d="M1355.2 327.2L1349.8 328.2" stroke-width="1"/><path d="M1147.2 351.3L1157.9 349.3" stroke-width="1"/><path d="M1346.1 314.8L1335.4 316.8" stroke-width="1"/><path d="M1138.1 338.9L1143.5 337.9" stroke-width="1"/><path d="M1337 302.4L1331.7 303.4" stroke-width="1"/><path d="M1129 326.6L1139.8 324.6" stroke-width="1"/><path d="M1328 290.1L1317.2 292" stroke-width="1"/><path d="M1120 314.2L1125.3 313.2" stroke-width="1"/><path d="M1318.9 277.7L1313.5 278.7" stroke-width="1"/><path d="M1110.9 302.8L1110.9 131.8" stroke-width="2.5"/><path d="M1110.9 277.8L1116.5 276.8" stroke-width="1"/><path d="M1110.9 253.8L1122.6 251.7" stroke-width="1"/><path d="M1110.9 229.8L1116.5 228.8" stroke-width="1"/><path d="M1110.9 205.8L1116.5 204.8" stroke-width="1"/><path d="M1110.9 181.8L1116.5 180.8" stroke-width="1"/><path d="M1110.9 157.8L1122.6 155.7" stroke-width="1"/><path d="M1110.9 133.8L1116.5 132.8" stroke-width="1"/></g>
<text transform="matrix(0 -0.866 1.046 -0.192 1100.9 256.1)" font-size="20.8" text-anchor="middle">5000</text>
<text transform="matrix(0 -0.866 1.046 -0.192 1100.9 160.1)" font-size="20.8" text-anchor="middle">15000</text>
<text transform="matrix(0.934 -0.171 0.341 0.465 1192.5 413.1)" font-size="20.4" text-anchor="middle">4</text><text transform="matrix(0.934 -0.171 0.341 0.465 1242.3 404)" font-size="20.4" text-anchor="middle">5</text><text transform="matrix(0.934 -0.171 0.341 0.465 1292 394.9)" font-size="20.4" text-anchor="middle">6</text><text transform="matrix(0.934 -0.171 0.341 0.465 1341.7 385.7)" font-size="20.4" text-anchor="middle">7</text><text transform="matrix(0.934 -0.171 0.341 0.465 1391.4 376.6)" font-size="20.4" text-anchor="middle">8</text><text transform="matrix(0.341 0.465 -0.934 0.171 1158.3 405.4)" font-size="20.4" text-anchor="middle">0</text><text transform="matrix(0.341 0.465 -0.934 0.171 1140.1 380.7)" font-size="20.4" text-anchor="middle">100</text><text transform="matrix(0.341 0.465 -0.934 0.171 1122 355.9)" font-size="20.4" text-anchor="middle">200</text><text transform="matrix(0.341 0.465 -0.934 0.171 1103.8 331.2)" font-size="20.4" text-anchor="middle">300</text><text transform="matrix(0.341 0.465 -0.934 0.171 1085.7 306.4)" font-size="20.4" text-anchor="middle">400</text>
<g stroke="#000" stroke-width="0.4" stroke-linejoin="round"><path fill="#ff0000" d="M1321 299.5l12.4-2.3l-1.8-2.5l-12.5 2.3zM1322.8 301.9l12.4-2.3l-1.8-2.4l-12.4 2.3zM1324.6 304.4l12.4-2.3l-1.8-2.5l-12.4 2.3zM1326.4 306.9l12.4-2.3l-1.8-2.5l-12.4 2.3zM1314 309.2l12.4-2.3l-1.8-2.5l-12.4 2.3zM1328.2 309.4l12.5-2.3l-1.9-2.5l-12.4 2.3zM1315.8 311.6l12.4-2.2l-1.8-2.5l-12.4 2.3zM1330 311.8l12.5-2.2l-1.8-2.5l-12.5 2.3zM1317.6 314.1l12.4-2.3l-1.8-2.4l-12.4 2.2zM1331.9 314.3l12.4-2.3l-1.8-2.4l-12.5 2.2zM1319.4 316.6l12.5-2.3l-1.9-2.5l-12.4 2.3zM1307 318.9l12.4-2.3l-1.8-2.5l-12.4 2.3zM1321.2 319.1l12.5-2.3l-1.8-2.5l-12.5 2.3zM1308.8 321.3l12.4-2.2l-1.8-2.5l-12.4 2.3zM1335.5 319.3l12.4-2.3l-1.8-2.5l-12.4 2.3zM1310.6 323.8l12.5-2.3l-1.9-2.4l-12.4 2.2zM1298.2 326.1l12.4-2.3l-1.8-2.5l-12.4 2.3zM1337.3 321.7l12.4-2.3l-1.8-2.4l-12.4 2.3zM1324.9 324l12.4-2.3l-1.8-2.4l-12.4 2.2zM1312.4 326.3l12.5-2.3l-1.8-2.5l-12.5 2.3zM1300 328.6l12.4-2.3l-1.8-2.5l-12.4 2.3zM1339.1 324.2l12.4-2.3l-1.8-2.5l-12.4 2.3zM1326.7 326.5l12.4-2.3l-1.8-2.5l-12.4 2.3zM1314.3 328.8l12.4-2.3l-1.8-2.5l-12.5 2.3zM1301.8 331.1l12.5-2.3l-1.9-2.5l-12.4 2.3zM1328.5 329l12.4-2.3l-1.8-2.5l-12.4 2.3zM1316.1 331.2l12.4-2.2l-1.8-2.5l-12.4 2.3zM1303.6 333.5l12.5-2.3l-1.8-2.4l-12.5 2.3zM1330.3 331.4l12.4-2.2l-1.8-2.5l-12.4 2.3zM1317.9 333.7l12.4-2.3l-1.8-2.4l-12.4 2.2zM1305.5 336l12.4-2.3l-1.8-2.5l-12.5 2.3zM1293 338.3l12.5-2.3l-1.9-2.5l-12.4 2.3zM1344.6 331.6l12.4-2.2l-1.8-2.5l-12.5 2.3zM1332.1 333.9l12.5-2.3l-1.9-2.4l-12.4 2.2zM1319.7 336.2l12.4-2.3l-1.8-2.5l-12.4 2.3zM1307.3 338.5l12.4-2.3l-1.8-2.5l-12.4 2.3zM1294.8 340.8l12.5-2.3l-1.8-2.5l-12.5 2.3zM1321.5 338.7l12.4-2.3l-1.8-2.5l-12.4 2.3zM1309.1 340.9l12.4-2.2l-1.8-2.5l-12.4 2.3zM1296.6 343.2l12.5-2.3l-1.8-2.4l-12.5 2.3zM1284.2 345.5l12.4-2.3l-1.8-2.4l-12.4 2.2zM1335.8 338.9l12.4-2.3l-1.8-2.5l-12.5 2.3zM1323.3 341.1l12.5-2.2l-1.9-2.5l-12.4 2.3zM1310.9 343.4l12.4-2.3l-1.8-2.4l-12.4 2.2zM1298.5 345.7l12.4-2.3l-1.8-2.5l-12.5 2.3zM1286 348l12.5-2.3l-1.9-2.5l-12.4 2.3zM1325.1 343.6l12.5-2.3l-1.8-2.4l-12.5 2.2zM1312.7 345.9l12.4-2.3l-1.8-2.5l-12.4 2.3zM1300.3 348.2l12.4-2.3l-1.8-2.5l-12.4 2.3zM1287.8 350.5l12.5-2.3l-1.8-2.5l-12.5 2.3zM1275.4 352.7l12.4-2.2l-1.8-2.5l-12.4 2.3zM1327 346.1l12.4-2.3l-1.8-2.5l-12.5 2.3zM1314.5 348.4l12.5-2.3l-1.9-2.5l-12.4 2.3zM1302.1 350.7l12.4-2.3l-1.8-2.5l-12.4 2.3zM1289.7 352.9l12.4-2.2l-1.8-2.5l-12.5 2.3zM1277.2 355.2l12.5-2.3l-1.9-2.4l-12.4 2.2zM1328.8 348.6l12.4-2.3l-1.8-2.5l-12.4 2.3zM1316.3 350.9l12.5-2.3l-1.8-2.5l-12.5 2.3zM1303.9 353.1l12.4-2.2l-1.8-2.5l-12.4 2.3zM1291.5 355.4l12.4-2.3l-1.8-2.4l-12.4 2.2zM1279 357.7l12.5-2.3l-1.8-2.5l-12.5 2.3zM1266.6 360l12.4-2.3l-1.8-2.5l-12.4 2.3zM1330.6 351l12.4-2.2l-1.8-2.5l-12.4 2.3zM1318.2 353.3l12.4-2.3l-1.8-2.4l-12.5 2.3zM1305.7 355.6l12.5-2.3l-1.9-2.4l-12.4 2.2zM1293.3 357.9l12.4-2.3l-1.8-2.5l-12.4 2.3zM1268.4 362.4l12.5-2.2l-1.9-2.5l-12.4 2.3zM1357.3 349l12.4-2.3l-1.8-2.5l-12.5 2.3zM1320 355.8l12.4-2.3l-1.8-2.5l-12.4 2.3zM1307.5 358.1l12.5-2.3l-1.8-2.5l-12.5 2.3zM1295.1 360.4l12.4-2.3l-1.8-2.5l-12.4 2.3zM1282.7 359.9l12.4-2.2l-1.8-2.5l-12.4 2.3zM1270.2 362.2l12.5-2.3l-1.8-2.4l-12.5 2.3zM1321.8 358.3l12.4-2.3l-1.8-2.5l-12.4 2.3zM1309.4 360.6l12.4-2.3l-1.8-2.5l-12.5 2.3zM1296.9 362.8l12.5-2.2l-1.9-2.5l-12.4 2.3z"/><path fill="#ff7373" d="M1284.5 365.4l12.4-2.3l0-3l-12.4 2.3z"/><path fill="#ff0000" d="M1284.5 362.4l12.4-2.3l-1.8-2.4l-12.4 2.2zM1272.1 362.7l12.4-2.3l-1.8-2.5l-12.5 2.3zM1336 358.5l12.5-2.3l-1.9-2.5l-12.4 2.3zM1311.2 363l12.4-2.2l-1.8-2.5l-12.4 2.3zM1298.7 365.3l12.5-2.3l-1.8-2.4l-12.5 2.2zM1286.3 367.6l12.4-2.3l-1.8-2.5l-12.4 2.3z"/><path fill="#ff7373" d="M1273.9 370.2l12.4-2.3l0-6l-12.4 2.3z"/><path fill="#ff0000" d="M1273.9 364.2l12.4-2.3l-1.8-2.5l-12.4 2.3z"/><path fill="#ff7373" d="M1261.4 372.5l12.5-2.3l0-12.7l-12.5 2.3z"/><path fill="#ff0000" d="M1261.4 359.8l12.5-2.3l-1.8-2.5l-12.5 2.3zM1313 365.5l12.4-2.3l-1.8-2.4l-12.4 2.2zM1300.6 367.8l12.4-2.3l-1.8-2.5l-12.5 2.3zM1288.1 370.1l12.5-2.3l-1.9-2.5l-12.4 2.3z"/><path fill="#ff7373" d="M1275.7 372.7l12.4-2.3l0-3l-12.4 2.3z"/><path fill="#ff0000" d="M1275.7 369.7l12.4-2.3l-1.8-2.5l-12.4 2.3z"/><path fill="#ff7373" d="M1263.3 374.9l12.4-2.2l0-9l-12.4 2.2z"/><path fill="#ff0000" d="M1263.3 365.9l12.4-2.2l-1.8-2.5l-12.5 2.3z"/><path fill="#a60000" d="M1238.4 379.5l-1.8-2.5l0-30.7l1.8 2.5z"/><path fill="#ff7373" d="M1238.4 379.5l12.4-2.3l0-30.7l-12.4 2.3z"/><path fill="#ff0000" d="M1238.4 348.8l12.4-2.3l-1.8-2.5l-12.4 2.3zM1327.2 365.7l12.5-2.3l-1.9-2.5l-12.4 2.3zM1314.8 368l12.4-2.3l-1.8-2.5l-12.4 2.3zM1302.4 370.3l12.4-2.3l-1.8-2.5l-12.4 2.3zM1289.9 372.5l12.5-2.2l-1.8-2.5l-12.5 2.3zM1277.5 374.8l12.4-2.3l-1.8-2.4l-12.4 2.3z"/><path fill="#ff7373" d="M1265.1 377.4l12.4-2.3l0-4l-12.4 2.3z"/><path fill="#ff0000" d="M1265.1 373.4l12.4-2.3l-1.8-2.4l-12.4 2.2z"/><path fill="#ff7373" d="M1252.6 379.7l12.5-2.3l0-18.2l-12.5 2.3z"/><path fill="#ff0000" d="M1252.6 361.5l12.5-2.3l-1.8-2.5l-12.5 2.3z"/><path fill="#ff7373" d="M1240.2 382l12.4-2.3l0-20l-12.4 2.3z"/><path fill="#ff0000" d="M1240.2 362l12.4-2.3l-1.8-2.5l-12.4 2.3z"/><path fill="#a60000" d="M1215.3 386.5l-1.8-2.4l0-64.1l1.8 2.4z"/><path fill="#ff7373" d="M1215.3 386.5l12.5-2.3l0-64.1l-12.5 2.3z"/><path fill="#ff0000" d="M1215.3 322.4l12.5-2.3l-1.8-2.4l-12.5 2.3zM1304.2 372.7l12.4-2.2l-1.8-2.5l-12.4 2.3zM1291.8 375l12.4-2.3l-1.8-2.4l-12.5 2.2zM1279.3 377.3l12.5-2.3l-1.9-2.5l-12.4 2.3zM1266.9 379.6l12.4-2.3l-1.8-2.5l-12.4 2.3z"/><path fill="#ff7373" d="M1254.5 382.2l12.4-2.3l0-9.8l-12.4 2.3z"/><path fill="#ff0000" d="M1254.5 372.4l12.4-2.3l-1.8-2.5l-12.5 2.3z"/><path fill="#ff7373" d="M1242 384.4l12.5-2.2l0-12l-12.5 2.2z"/><path fill="#ff0000" d="M1242 372.4l12.5-2.2l-1.9-2.5l-12.4 2.3z"/><path fill="#ff7373" d="M1229.6 386.7l12.4-2.3l0-28l-12.4 2.3z"/><path fill="#ff0000" d="M1229.6 358.7l12.4-2.3l-1.8-2.4l-12.4 2.2z"/><path fill="#a60000" d="M1204.7 391.3l-1.8-2.5l0-58l1.8 2.5z"/><path fill="#ff7373" d="M1204.7 391.3l12.5-2.3l0-58l-12.5 2.3z"/><path fill="#ff0000" d="M1204.7 333.3l12.5-2.3l-1.9-2.5l-12.4 2.3z"/><path fill="#a60000" d="M1192.3 393.6l-1.8-2.5l0-39.4l1.8 2.5z"/><path fill="#ff7373" d="M1192.3 393.6l12.4-2.3l0-39.4l-12.4 2.3z"/><path fill="#ff0000" d="M1192.3 354.2l12.4-2.3l-1.8-2.5l-12.4 2.3zM1293.6 377.5l12.4-2.3l-1.8-2.5l-12.4 2.3zM1268.7 382.1l12.4-2.3l-1.8-2.5l-12.4 2.3z"/><path fill="#ff7373" d="M1256.3 384.6l12.4-2.2l0-2l-12.4 2.2z"/><path fill="#ff0000" d="M1256.3 382.6l12.4-2.2l-1.8-2.5l-12.4 2.3z"/><path fill="#ff7373" d="M1243.8 386.9l12.5-2.3l0-1.5l-12.5 2.3z"/><path fill="#ff0000" d="M1243.8 385.4l12.5-2.3l-1.8-2.4l-12.5 2.2z"/><path fill="#ff7373" d="M1231.4 389.2l12.4-2.3l0-4.1l-12.4 2.3z"/><path fill="#ff0000" d="M1231.4 385.1l12.4-2.3l-1.8-2.5l-12.4 2.3z"/><path fill="#a60000" d="M1219 391.5l-1.8-2.5l0-38.2l1.8 2.5z"/><path fill="#ff7373" d="M1219 391.5l12.4-2.3l0-38.2l-12.4 2.3z"/><path fill="#ff0000" d="M1219 353.3l12.4-2.3l-1.8-2.5l-12.4 2.3z"/><path fill="#ff7373" d="M1233.2 391.7l12.5-2.3l0-2l-12.5 2.3z"/><path fill="#ff0000" d="M1233.2 389.7l12.5-2.3l-1.9-2.5l-12.4 2.3z"/><path fill="#ff7373" d="M1220.8 394l12.4-2.3l0-2l-12.4 2.3z"/><path fill="#ff0000" d="M1220.8 392l12.4-2.3l-1.8-2.5l-12.4 2.3z"/><path fill="#ff7373" d="M1208.4 396.2l12.4-2.2l0-2.5l-12.4 2.2z"/><path fill="#ff0000" d="M1208.4 393.7l12.4-2.2l-1.8-2.5l-12.5 2.3z"/><path fill="#ff7373" d="M1195.9 398.5l12.5-2.3l0-10.8l-12.5 2.3z"/><path fill="#ff0000" d="M1195.9 387.7l12.5-2.3l-1.9-2.4l-12.4 2.2z"/><path fill="#a60000" d="M1183.5 400.8l-1.8-2.5l0-16.7l1.8 2.5z"/><path fill="#ff7373" d="M1183.5 400.8l12.4-2.3l0-16.7l-12.4 2.3z"/><path fill="#ff0000" d="M1183.5 384.1l12.4-2.3l-1.8-2.5l-12.4 2.3z"/></g>

<g stroke="#000" stroke-linecap="butt"><path d="M276 683.3L474.9 646.8L402.3 547.8L203.4 584.3z" fill="none" stroke-width="2.5" stroke-linejoin="miter"/><path d="M325.7 674.2L321.8 668.8" stroke-width="1"/><path d="M253.1 575.2L257 580.5" stroke-width="1"/><path d="M375.4 665L371.5 659.7" stroke-width="1"/><path d="M302.9 566L306.8 571.4" stroke-width="1"/><path d="M425.2 655.9L421.3 650.6" stroke-width="1"/><path d="M352.6 556.9L356.5 562.3" stroke-width="1"/><path d="M266.9 670.9L272.3 669.9" stroke-width="1"/><path d="M465.8 634.4L460.5 635.4" stroke-width="1"/><path d="M257.9 658.5L268.6 656.6" stroke-width="1"/><path d="M456.8 622L446 624" stroke-width="1"/><path d="M248.8 646.2L254.1 645.2" stroke-width="1"/><path d="M447.7 609.7L442.3 610.7" stroke-width="1"/><path d="M239.7 633.8L250.4 631.8" stroke-width="1"/><path d="M438.6 597.3L427.9 599.3" stroke-width="1"/><path d="M230.6 621.4L236 620.4" stroke-width="1"/><path d="M429.5 584.9L424.2 585.9" stroke-width="1"/><path d="M221.6 609L232.3 607.1" stroke-width="1"/><path d="M420.4 572.5L409.7 574.5" stroke-width="1"/><path d="M212.5 596.7L217.8 595.7" stroke-width="1"/><path d="M411.4 560.2L406 561.2" stroke-width="1"/><path d="M203.4 585.3L203.4 414.3" stroke-width="2.5"/><path d="M203.4 574.3L209 573.3" stroke-width="1"/><path d="M203.4 568.5L209 567.4" stroke-width="1"/><path d="M203.4 564.3L209 563.3" stroke-width="1"/><path d="M203.4 561.1L209 560.1" stroke-width="1"/><path d="M203.4 558.5L209 557.4" stroke-width="1"/><path d="M203.4 556.2L209 555.2" stroke-width="1"/><path d="M203.4 554.3L209 553.3" stroke-width="1"/><path d="M203.4 552.6L209 551.6" stroke-width="1"/><path d="M203.4 551.1L215.1 549" stroke-width="1"/><path d="M203.4 541.1L209 540.1" stroke-width="1"/><path d="M203.4 535.3L209 534.2" stroke-width="1"/><path d="M203.4 531.1L209 530.1" stroke-width="1"/><path d="M203.4 527.9L209 526.9" stroke-width="1"/><path d="M203.4 525.3L209 524.2" stroke-width="1"/><path d="M203.4 523L209 522" stroke-width="1"/><path d="M203.4 521.1L209 520.1" stroke-width="1"/><path d="M203.4 519.4L209 518.4" stroke-width="1"/><path d="M203.4 517.9L215.1 515.8" stroke-width="1"/><path d="M203.4 507.9L209 506.9" stroke-width="1"/><path d="M203.4 502.1L209 501" stroke-width="1"/><path d="M203.4 497.9L209 496.9" stroke-width="1"/><path d="M203.4 494.7L209 493.7" stroke-width="1"/><path d="M203.4 492.1L209 491" stroke-width="1"/><path d="M203.4 489.8L209 488.8" stroke-width="1"/><path d="M203.4 487.9L209 486.9" stroke-width="1"/><path d="M203.4 486.2L209 485.2" stroke-width="1"/><path d="M203.4 484.7L215.1 482.6" stroke-width="1"/><path d="M203.4 474.7L209 473.7" stroke-width="1"/><path d="M203.4 468.9L209 467.8" stroke-width="1"/><path d="M203.4 464.7L209 463.7" stroke-width="1"/><path d="M203.4 461.5L209 460.5" stroke-width="1"/><path d="M203.4 458.9L209 457.8" stroke-width="1"/><path d="M203.4 456.6L209 455.6" stroke-width="1"/><path d="M203.4 454.7L209 453.7" stroke-width="1"/><path d="M203.4 453L209 452" stroke-width="1"/><path d="M203.4 451.5L215.1 449.4" stroke-width="1"/><path d="M203.4 441.5L209 440.5" stroke-width="1"/><path d="M203.4 435.7L209 434.6" stroke-width="1"/><path d="M203.4 431.5L209 430.5" stroke-width="1"/><path d="M203.4 428.3L209 427.3" stroke-width="1"/><path d="M203.4 425.7L209 424.6" stroke-width="1"/><path d="M203.4 423.4L209 422.4" stroke-width="1"/><path d="M203.4 421.5L209 420.5" stroke-width="1"/><path d="M203.4 419.8L209 418.8" stroke-width="1"/><path d="M203.4 418.3L215.1 416.2" stroke-width="1"/></g>
<text transform="matrix(0 -0.866 1.046 -0.192 193.4 551.1)" font-size="20.8" text-anchor="middle">10<tspan font-size="14.6" dy="-8">1</tspan></text>
<text transform="matrix(0 -0.866 1.046 -0.192 193.4 517.9)" font-size="20.8" text-anchor="middle">10<tspan font-size="14.6" dy="-8">2</tspan></text>
<text transform="matrix(0 -0.866 1.046 -0.192 193.4 484.7)" font-size="20.8" text-anchor="middle">10<tspan font-size="14.6" dy="-8">3</tspan></text>
<text transform="matrix(0 -0.866 1.046 -0.192 193.4 451.5)" font-size="20.8" text-anchor="middle">10<tspan font-size="14.6" dy="-8">4</tspan></text>
<text transform="matrix(0 -0.866 1.046 -0.192 193.4 418.3)" font-size="20.8" text-anchor="middle">10<tspan font-size="14.6" dy="-8">5</tspan></text>
<text transform="matrix(0.934 -0.171 0.341 0.465 285 695.6)" font-size="20.4" text-anchor="middle">4</text><text transform="matrix(0.934 -0.171 0.341 0.465 334.8 686.5)" font-size="20.4" text-anchor="middle">5</text><text transform="matrix(0.934 -0.171 0.341 0.465 384.5 677.4)" font-size="20.4" text-anchor="middle">6</text><text transform="matrix(0.934 -0.171 0.341 0.465 434.2 668.2)" font-size="20.4" text-anchor="middle">7</text><text transform="matrix(0.934 -0.171 0.341 0.465 483.9 659.1)" font-size="20.4" text-anchor="middle">8</text><text transform="matrix(0.341 0.465 -0.934 0.171 250.8 687.9)" font-size="20.4" text-anchor="middle">0</text><text transform="matrix(0.341 0.465 -0.934 0.171 232.6 663.2)" font-size="20.4" text-anchor="middle">100</text><text transform="matrix(0.341 0.465 -0.934 0.171 214.5 638.4)" font-size="20.4" text-anchor="middle">200</text><text transform="matrix(0.341 0.465 -0.934 0.171 196.3 613.7)" font-size="20.4" text-anchor="middle">300</text><text transform="matrix(0.341 0.465 -0.934 0.171 178.2 588.9)" font-size="20.4" text-anchor="middle">400</text>
<g stroke="#000" stroke-width="0.4" stroke-linejoin="round"><path fill="#808080" d="M391.7 552.6l12.4-2.3l0-91.6l-12.4 2.3z"/><path fill="#0d0d0d" d="M391.7 461l12.4-2.3l-1.8-2.4l-12.4 2.2z"/><path fill="#808080" d="M379.3 554.8l12.4-2.2l0-99.3l-12.4 2.3z"/><path fill="#0d0d0d" d="M379.3 455.6l12.4-2.3l-1.8-2.5l-12.5 2.3z"/><path fill="#808080" d="M366.8 557.1l12.5-2.3l0-99.3l-12.5 2.3z"/><path fill="#0d0d0d" d="M366.8 457.8l12.5-2.3l-1.9-2.4l-12.4 2.2z"/><path fill="#808080" d="M354.4 559.4l12.4-2.3l0-103.1l-12.4 2.3z"/><path fill="#0d0d0d" d="M354.4 456.3l12.4-2.3l-1.8-2.4l-12.4 2.2z"/><path fill="#0d0d0d" d="M342 561.7l-1.9-2.5l0-109.3l1.9 2.5z"/><path fill="#808080" d="M342 561.7l12.4-2.3l0-109.3l-12.4 2.3z"/><path fill="#0d0d0d" d="M342 452.4l12.4-2.3l-1.8-2.5l-12.5 2.3z"/><path fill="#0d0d0d" d="M329.5 564l-1.8-2.5l0-106.9l1.8 2.5z"/><path fill="#808080" d="M329.5 564l12.5-2.3l0-106.9l-12.5 2.3z"/><path fill="#0d0d0d" d="M329.5 457.1l12.5-2.3l-1.9-2.5l-12.4 2.3zM317.1 470.8l12.4-2.3l-1.8-2.5l-12.4 2.3z"/><path fill="#0d0d0d" d="M304.7 568.5l-1.8-2.5l0-80.7l1.8 2.5z"/><path fill="#0d0d0d" d="M304.7 487.8l12.4-2.3l-1.8-2.5l-12.4 2.3zM381.1 498.7l12.4-2.3l-1.8-2.5l-12.4 2.3zM368.6 486.3l12.5-2.2l-1.8-2.5l-12.5 2.3zM343.8 483.1l12.4-2.2l-1.8-2.5l-12.4 2.3z"/><path fill="#808080" d="M318.9 568.7l12.4-2.3l0-98.2l-12.4 2.3z"/><path fill="#0d0d0d" d="M318.9 470.5l12.4-2.3l-1.8-2.5l-12.4 2.3z"/><path fill="#808080" d="M395.3 557.5l12.4-2.3l0-58.7l-12.4 2.3z"/><path fill="#0d0d0d" d="M395.3 498.8l12.4-2.3l-1.8-2.5l-12.4 2.3z"/><path fill="#808080" d="M382.9 559.8l12.4-2.3l0-59.8l-12.4 2.3z"/><path fill="#0d0d0d" d="M382.9 500l12.4-2.3l-1.8-2.5l-12.4 2.3z"/><path fill="#0d0d0d" d="M358 564.3l-1.8-2.4l0-84.8l1.8 2.5z"/><path fill="#808080" d="M358 564.3l12.5-2.2l0-84.8l-12.5 2.3z"/><path fill="#0d0d0d" d="M358 479.6l12.5-2.3l-1.9-2.4l-12.4 2.2zM397.1 509.3l12.5-2.3l-1.9-2.4l-12.4 2.2zM372.3 487.4l12.4-2.3l-1.8-2.5l-12.4 2.3zM347.4 483.7l12.4-2.2l-1.8-2.5l-12.4 2.3zM335 477l12.4-2.3l-1.8-2.5l-12.4 2.3z"/><path fill="#808080" d="M398.9 562.5l12.5-2.3l0-51.3l-12.5 2.3z"/><path fill="#0d0d0d" d="M398.9 511.2l12.5-2.3l-1.8-2.4l-12.5 2.3z"/><path fill="#808080" d="M374.1 567l12.4-2.3l0-78.8l-12.4 2.2z"/><path fill="#0d0d0d" d="M374.1 488.1l12.4-2.2l-1.8-2.5l-12.4 2.3z"/><path fill="#808080" d="M336.8 573.9l12.4-2.3l0-94.5l-12.4 2.3z"/><path fill="#0d0d0d" d="M336.8 479.4l12.4-2.3l-1.8-2.5l-12.4 2.3z"/><path fill="#808080" d="M324.4 576.1l12.4-2.2l0-101.8l-12.4 2.3z"/><path fill="#0d0d0d" d="M324.4 474.4l12.4-2.3l-1.8-2.5l-12.5 2.3zM400.8 514.6l12.4-2.3l-1.8-2.5l-12.5 2.3z"/><path fill="#808080" d="M363.5 571.8l12.4-2.3l0-88.9l-12.4 2.3z"/><path fill="#0d0d0d" d="M363.5 482.9l12.4-2.3l-1.8-2.4l-12.4 2.2z"/><path fill="#0d0d0d" d="M351 574.1l-1.8-2.5l0-90.2l1.8 2.5z"/><path fill="#808080" d="M351 574.1l12.5-2.3l0-90.2l-12.5 2.3z"/><path fill="#0d0d0d" d="M351 483.9l12.5-2.3l-1.8-2.5l-12.5 2.3z"/><path fill="#808080" d="M328 581.1l12.4-2.3l0-103.6l-12.4 2.3z"/><path fill="#0d0d0d" d="M328 477.5l12.4-2.3l-1.8-2.5l-12.4 2.3z"/><path fill="#808080" d="M379.5 574.4l12.5-2.2l0-80.3l-12.5 2.2z"/><path fill="#0d0d0d" d="M379.5 494.1l12.5-2.2l-1.9-2.5l-12.4 2.3z"/><path fill="#808080" d="M329.8 583.6l12.4-2.3l0-102.9l-12.4 2.3z"/><path fill="#0d0d0d" d="M329.8 480.7l12.4-2.3l-1.8-2.4l-12.4 2.2z"/><path fill="#808080" d="M368.9 579.2l12.4-2.3l0-89.8l-12.4 2.2z"/><path fill="#0d0d0d" d="M368.9 489.3l12.4-2.2l-1.8-2.5l-12.4 2.3z"/><path fill="#0d0d0d" d="M306.8 590.6l-1.9-2.5l0-106.6l1.9 2.5z"/><path fill="#0d0d0d" d="M306.8 484l12.4-2.3l-1.8-2.5l-12.5 2.3z"/><path fill="#808080" d="M383.2 579.4l12.4-2.3l0-76.2l-12.4 2.3z"/><path fill="#0d0d0d" d="M383.2 503.2l12.4-2.3l-1.8-2.5l-12.5 2.3z"/><path fill="#808080" d="M370.7 581.7l12.5-2.3l0-85.8l-12.5 2.3z"/><path fill="#0d0d0d" d="M370.7 495.9l12.5-2.3l-1.9-2.4l-12.4 2.2z"/><path fill="#0d0d0d" d="M358.3 584l-1.8-2.5l0-95.7l1.8 2.5z"/><path fill="#808080" d="M358.3 584l12.4-2.3l0-95.7l-12.4 2.3z"/><path fill="#0d0d0d" d="M358.3 488.3l12.4-2.3l-1.8-2.4l-12.4 2.2z"/><path fill="#808080" d="M345.9 586.2l12.4-2.2l0-93.7l-12.4 2.3z"/><path fill="#0d0d0d" d="M345.9 492.6l12.4-2.3l-1.8-2.4l-12.5 2.2z"/><path fill="#808080" d="M321 590.8l12.4-2.3l0-116.1l-12.4 2.3z"/><path fill="#0d0d0d" d="M321 474.7l12.4-2.3l-1.8-2.5l-12.4 2.3z"/><path fill="#0d0d0d" d="M308.6 593.1l-1.8-2.5l0-111.8l1.8 2.5z"/><path fill="#0d0d0d" d="M308.6 481.3l12.4-2.3l-1.8-2.4l-12.4 2.2z"/><path fill="#0d0d0d" d="M409.8 577.3l-1.8-2.5l0-66.3l1.8 2.5z"/><path fill="#808080" d="M409.8 577.3l12.5-2.3l0-66.3l-12.5 2.3z"/><path fill="#0d0d0d" d="M409.8 511l12.5-2.3l-1.9-2.5l-12.4 2.3z"/><path fill="#808080" d="M397.4 579.6l12.4-2.3l0-63.9l-12.4 2.3z"/><path fill="#0d0d0d" d="M397.4 515.7l12.4-2.3l-1.8-2.5l-12.4 2.3z"/><path fill="#808080" d="M385 581.9l12.4-2.3l0-75.7l-12.4 2.3z"/><path fill="#0d0d0d" d="M385 506.2l12.4-2.3l-1.8-2.5l-12.4 2.3zM360.1 497.1l12.4-2.3l-1.8-2.5l-12.4 2.3z"/><path fill="#808080" d="M347.7 588.7l12.4-2.3l0-91.4l-12.4 2.3z"/><path fill="#0d0d0d" d="M347.7 497.3l12.4-2.3l-1.8-2.4l-12.4 2.3z"/><path fill="#0d0d0d" d="M335.2 591l-1.8-2.5l0-107.6l1.8 2.5z"/><path fill="#808080" d="M335.2 591l12.5-2.3l0-107.6l-12.5 2.3z"/><path fill="#0d0d0d" d="M335.2 483.4l12.5-2.3l-1.8-2.5l-12.5 2.3z"/><path fill="#808080" d="M322.8 593.3l12.4-2.3l0-106.3l-12.4 2.3z"/><path fill="#0d0d0d" d="M322.8 487l12.4-2.3l-1.8-2.5l-12.4 2.3z"/><path fill="#0d0d0d" d="M310.4 595.6l-1.8-2.5l0-117l1.8 2.5z"/><path fill="#0d0d0d" d="M411.6 520.6l12.5-2.3l-1.8-2.5l-12.5 2.3z"/><path fill="#808080" d="M361.9 588.9l12.5-2.3l0-90.3l-12.5 2.3z"/><path fill="#0d0d0d" d="M361.9 498.6l12.5-2.3l-1.9-2.4l-12.4 2.2z"/><path fill="#808080" d="M349.5 591.2l12.4-2.3l0-91.3l-12.4 2.3z"/><path fill="#0d0d0d" d="M349.5 499.9l12.4-2.3l-1.8-2.5l-12.4 2.3z"/><path fill="#0d0d0d" d="M337.1 593.5l-1.9-2.5l0-106.8l1.9 2.5z"/><path fill="#808080" d="M337.1 593.5l12.4-2.3l0-106.8l-12.4 2.3z"/><path fill="#0d0d0d" d="M337.1 486.7l12.4-2.3l-1.8-2.5l-12.5 2.3z"/><path fill="#0d0d0d" d="M312.2 598l-1.8-2.4l0-122.2l1.8 2.4z"/><path fill="#0d0d0d" d="M312.2 475.8l12.4-2.3l-1.8-2.4l-12.4 2.3z"/><path fill="#808080" d="M413.5 582.3l12.4-2.3l0-59.4l-12.4 2.3z"/><path fill="#0d0d0d" d="M413.5 522.9l12.4-2.3l-1.8-2.4l-12.5 2.2z"/><path fill="#808080" d="M363.7 591.4l12.5-2.3l0-88.4l-12.5 2.3z"/><path fill="#0d0d0d" d="M363.7 503l12.5-2.3l-1.8-2.4l-12.5 2.2z"/><path fill="#0d0d0d" d="M314 600.5l-1.8-2.5l0-126.4l1.8 2.5z"/><path fill="#0d0d0d" d="M314 474.1l12.4-2.3l-1.8-2.5l-12.4 2.3zM415.3 525.9l12.4-2.3l-1.8-2.5l-12.4 2.3z"/><path fill="#808080" d="M390.4 589.3l12.4-2.3l0-79.9l-12.4 2.3z"/><path fill="#0d0d0d" d="M390.4 509.4l12.4-2.3l-1.8-2.4l-12.4 2.2z"/><path fill="#0d0d0d" d="M378 591.6l-1.8-2.5l0-87.1l1.8 2.5z"/><path fill="#808080" d="M378 591.6l12.4-2.3l0-87.1l-12.4 2.3z"/><path fill="#0d0d0d" d="M378 504.5l12.4-2.3l-1.8-2.5l-12.4 2.3z"/><path fill="#808080" d="M353.1 596.1l12.5-2.2l0-93.7l-12.5 2.2z"/><path fill="#0d0d0d" d="M353.1 502.4l12.5-2.2l-1.9-2.5l-12.4 2.3z"/><path fill="#0d0d0d" d="M340.7 598.4l-1.8-2.5l0-110.4l1.8 2.4z"/><path fill="#808080" d="M340.7 598.4l12.4-2.3l0-110.4l-12.4 2.2z"/><path fill="#0d0d0d" d="M340.7 487.9l12.4-2.2l-1.8-2.5l-12.4 2.3z"/><path fill="#0d0d0d" d="M315.8 603l-1.8-2.5l0-132l1.8 2.5z"/><path fill="#808080" d="M315.8 603l12.5-2.3l0-132l-12.5 2.3z"/><path fill="#0d0d0d" d="M315.8 471l12.5-2.3l-1.9-2.4l-12.4 2.2zM417.1 526.5l12.4-2.3l-1.8-2.4l-12.4 2.2zM392.2 518.8l12.5-2.3l-1.9-2.5l-12.4 2.3z"/><path fill="#808080" d="M379.8 594l12.4-2.2l0-80.7l-12.4 2.3z"/><path fill="#0d0d0d" d="M379.8 513.4l12.4-2.3l-1.8-2.5l-12.4 2.3z"/><path fill="#808080" d="M354.9 598.6l12.5-2.3l0-91.6l-12.5 2.3z"/><path fill="#0d0d0d" d="M354.9 507l12.5-2.3l-1.8-2.4l-12.5 2.2zM342.5 504.5l12.4-2.3l-1.8-2.5l-12.4 2.3zM330.1 491.4l12.4-2.3l-1.8-2.4l-12.4 2.2zM418.9 528.1l12.4-2.3l-1.8-2.5l-12.4 2.3z"/><path fill="#808080" d="M369.2 598.8l12.4-2.3l0-87.4l-12.4 2.3z"/><path fill="#0d0d0d" d="M369.2 511.4l12.4-2.3l-1.8-2.4l-12.4 2.2z"/><path fill="#808080" d="M331.9 605.6l12.4-2.2l0-112.5l-12.4 2.3z"/><path fill="#0d0d0d" d="M331.9 493.2l12.4-2.3l-1.8-2.5l-12.4 2.3z"/><path fill="#0d0d0d" d="M319.5 607.9l-1.9-2.4l0-134.7l1.9 2.5z"/><path fill="#808080" d="M319.5 607.9l12.4-2.3l0-134.6l-12.4 2.3z"/><path fill="#0d0d0d" d="M319.5 473.3l12.4-2.3l-1.8-2.5l-12.5 2.3z"/><path fill="#808080" d="M420.7 592.2l12.5-2.3l0-62.2l-12.5 2.3z"/><path fill="#0d0d0d" d="M420.7 530l12.5-2.3l-1.9-2.5l-12.4 2.3zM371 517.1l12.4-2.3l-1.8-2.5l-12.4 2.3z"/><path fill="#808080" d="M346.1 605.8l12.5-2.2l0-100.4l-12.5 2.3z"/><path fill="#0d0d0d" d="M346.1 505.5l12.5-2.3l-1.8-2.4l-12.5 2.2z"/><path fill="#808080" d="M321.3 610.4l12.4-2.3l0-122.3l-12.4 2.3z"/><path fill="#0d0d0d" d="M321.3 488.1l12.4-2.3l-1.8-2.5l-12.4 2.3z"/><path fill="#808080" d="M422.5 594.6l12.5-2.3l0-60.9l-12.5 2.3z"/><path fill="#0d0d0d" d="M422.5 533.7l12.5-2.3l-1.8-2.5l-12.5 2.3zM372.8 518.9l12.4-2.3l-1.8-2.5l-12.4 2.3z"/><path fill="#808080" d="M360.4 606l12.4-2.2l0-96.4l-12.4 2.3z"/><path fill="#0d0d0d" d="M360.4 509.7l12.4-2.3l-1.8-2.4l-12.4 2.2z"/><path fill="#808080" d="M335.5 610.6l12.5-2.3l0-107.1l-12.5 2.3z"/><path fill="#0d0d0d" d="M335.5 503.5l12.5-2.3l-1.9-2.5l-12.4 2.3z"/><path fill="#0d0d0d" d="M310.7 615.2l-1.9-2.5l0-137l1.9 2.5z"/><path fill="#808080" d="M310.7 615.2l12.4-2.3l0-137l-12.4 2.3z"/><path fill="#0d0d0d" d="M310.7 478.2l12.4-2.3l-1.8-2.5l-12.5 2.3z"/><path fill="#808080" d="M424.4 597.1l12.4-2.3l0-54.8l-12.4 2.3z"/><path fill="#0d0d0d" d="M424.4 542.3l12.4-2.3l-1.8-2.5l-12.5 2.3z"/><path fill="#808080" d="M374.6 606.2l12.5-2.3l0-86.2l-12.5 2.3z"/><path fill="#0d0d0d" d="M374.6 520l12.5-2.3l-1.9-2.5l-12.4 2.3zM324.9 495.5l12.4-2.3l-1.8-2.4l-12.4 2.3z"/><path fill="#808080" d="M426.2 599.6l12.4-2.3l0-50.5l-12.4 2.3z"/><path fill="#0d0d0d" d="M426.2 549.1l12.4-2.3l-1.8-2.5l-12.4 2.3z"/><path fill="#0d0d0d" d="M388.9 606.4l-1.8-2.5l0-87.5l1.8 2.5z"/><path fill="#808080" d="M388.9 606.4l12.4-2.3l0-87.5l-12.4 2.3z"/><path fill="#0d0d0d" d="M388.9 518.9l12.4-2.3l-1.8-2.5l-12.4 2.3zM364 520.2l12.4-2.2l-1.8-2.5l-12.4 2.3z"/><path fill="#808080" d="M351.6 613.3l12.4-2.3l0-102.4l-12.4 2.2z"/><path fill="#0d0d0d" d="M351.6 510.8l12.4-2.2l-1.8-2.5l-12.4 2.3zM339.1 507.4l12.5-2.3l-1.8-2.5l-12.5 2.3z"/><path fill="#808080" d="M326.7 617.8l12.4-2.3l0-120.8l-12.4 2.3z"/><path fill="#0d0d0d" d="M326.7 497l12.4-2.3l-1.8-2.4l-12.4 2.3z"/><path fill="#0d0d0d" d="M314.3 620.1l-1.8-2.5l0-131.1l1.8 2.4z"/><path fill="#0d0d0d" d="M314.3 488.9l12.4-2.2l-1.8-2.5l-12.4 2.3z"/><path fill="#808080" d="M428 602.1l12.4-2.3l0-40l-12.4 2.3z"/><path fill="#0d0d0d" d="M428 562.1l12.4-2.3l-1.8-2.5l-12.4 2.3zM415.6 540.2l12.4-2.3l-1.8-2.5l-12.5 2.3z"/><path fill="#0d0d0d" d="M403.1 606.6l-1.8-2.5l0-87.7l1.8 2.4z"/><path fill="#808080" d="M403.1 606.6l12.5-2.3l0-87.7l-12.5 2.2z"/><path fill="#0d0d0d" d="M403.1 518.8l12.5-2.2l-1.9-2.5l-12.4 2.3zM390.7 530.2l12.4-2.3l-1.8-2.5l-12.4 2.3z"/><path fill="#808080" d="M378.3 611.2l12.4-2.3l0-83.9l-12.4 2.3z"/><path fill="#0d0d0d" d="M378.3 527.3l12.4-2.3l-1.8-2.5l-12.5 2.3zM353.4 519.3l12.4-2.3l-1.8-2.4l-12.4 2.2z"/><path fill="#808080" d="M328.5 620.3l12.5-2.3l0-120.1l-12.5 2.3z"/><path fill="#0d0d0d" d="M328.5 500.2l12.5-2.3l-1.9-2.5l-12.4 2.3z"/><path fill="#0d0d0d" d="M316.1 622.6l-1.8-2.5l0-133.6l1.8 2.5z"/><path fill="#0d0d0d" d="M316.1 489l12.4-2.3l-1.8-2.5l-12.4 2.3z"/><path fill="#808080" d="M429.8 604.5l12.4-2.3l0-35l-12.4 2.3z"/><path fill="#0d0d0d" d="M429.8 569.5l12.4-2.3l-1.8-2.4l-12.4 2.3z"/><path fill="#808080" d="M417.4 606.8l12.4-2.3l0-66l-12.4 2.3z"/><path fill="#0d0d0d" d="M417.4 540.8l12.4-2.3l-1.8-2.5l-12.4 2.3zM392.5 532.7l12.4-2.3l-1.8-2.5l-12.4 2.3zM380.1 533.9l12.4-2.3l-1.8-2.4l-12.4 2.3z"/><path fill="#808080" d="M367.6 615.9l12.5-2.2l0-95.1l-12.5 2.2z"/><path fill="#0d0d0d" d="M367.6 520.8l12.5-2.2l-1.8-2.5l-12.5 2.3z"/><path fill="#0d0d0d" d="M317.9 625.1l-1.8-2.5l0-144.5l1.8 2.4z"/><path fill="#808080" d="M317.9 625.1l12.4-2.3l0-144.5l-12.4 2.2z"/><path fill="#0d0d0d" d="M317.9 480.5l12.4-2.2l-1.8-2.5l-12.4 2.3z"/><path fill="#808080" d="M431.6 607l12.4-2.3l0-34.6l-12.4 2.3z"/><path fill="#0d0d0d" d="M431.6 572.4l12.4-2.3l-1.8-2.5l-12.4 2.3z"/><path fill="#808080" d="M419.2 609.3l12.4-2.3l0-62.6l-12.4 2.3z"/><path fill="#0d0d0d" d="M419.2 546.7l12.4-2.3l-1.8-2.4l-12.4 2.2z"/><path fill="#0d0d0d" d="M406.8 611.6l-1.9-2.5l0-85.3l1.9 2.5z"/><path fill="#808080" d="M406.8 611.6l12.4-2.3l0-85.3l-12.4 2.3z"/><path fill="#0d0d0d" d="M406.8 526.3l12.4-2.3l-1.8-2.4l-12.5 2.2z"/><path fill="#808080" d="M357 620.7l12.5-2.3l0-100.7l-12.5 2.3z"/><path fill="#0d0d0d" d="M357 520l12.5-2.3l-1.9-2.5l-12.4 2.3z"/><path fill="#808080" d="M332.2 625.3l12.4-2.3l0-122.2l-12.4 2.3z"/><path fill="#0d0d0d" d="M332.2 503.1l12.4-2.3l-1.8-2.5l-12.5 2.3z"/><path fill="#0d0d0d" d="M307.3 629.8l-1.8-2.5l0-133l1.8 2.5z"/><path fill="#0d0d0d" d="M307.3 496.8l12.4-2.3l-1.8-2.4l-12.4 2.2zM421 550.1l12.4-2.3l-1.8-2.5l-12.4 2.3zM408.6 533l12.4-2.2l-1.8-2.5l-12.4 2.3z"/><path fill="#808080" d="M396.1 616.3l12.5-2.3l0-82.2l-12.5 2.3z"/><path fill="#0d0d0d" d="M396.1 534.1l12.5-2.3l-1.8-2.5l-12.5 2.3z"/><path fill="#808080" d="M383.7 618.6l12.4-2.3l0-82.5l-12.4 2.3z"/><path fill="#0d0d0d" d="M383.7 536.1l12.4-2.3l-1.8-2.5l-12.4 2.3z"/><path fill="#808080" d="M371.3 620.9l12.4-2.3l0-94.2l-12.4 2.3z"/><path fill="#0d0d0d" d="M371.3 526.7l12.4-2.3l-1.8-2.5l-12.4 2.3z"/><path fill="#808080" d="M346.4 625.4l12.4-2.2l0-116.7l-12.4 2.3z"/><path fill="#0d0d0d" d="M346.4 508.8l12.4-2.3l-1.8-2.4l-12.4 2.2z"/><path fill="#808080" d="M334 627.7l12.4-2.3l0-119.8l-12.4 2.3z"/><path fill="#0d0d0d" d="M334 507.9l12.4-2.3l-1.8-2.5l-12.4 2.3zM321.5 499.7l12.5-2.3l-1.8-2.5l-12.5 2.3zM422.8 552.7l12.4-2.3l-1.8-2.4l-12.4 2.2zM373.1 530.9l12.4-2.3l-1.8-2.5l-12.4 2.3zM360.7 527.8l12.4-2.3l-1.8-2.5l-12.5 2.3zM335.8 513.6l12.4-2.2l-1.8-2.5l-12.4 2.3z"/><path fill="#0d0d0d" d="M310.9 634.8l-1.8-2.5l0-143.1l1.8 2.5z"/><path fill="#0d0d0d" d="M310.9 491.7l12.5-2.3l-1.9-2.4l-12.4 2.2z"/><path fill="#808080" d="M424.6 616.7l12.5-2.3l0-64.2l-12.5 2.3z"/><path fill="#0d0d0d" d="M424.6 552.5l12.5-2.3l-1.9-2.4l-12.4 2.2z"/><path fill="#808080" d="M412.2 619l12.4-2.3l0-86.5l-12.4 2.3z"/><path fill="#0d0d0d" d="M412.2 532.5l12.4-2.3l-1.8-2.4l-12.4 2.2z"/><path fill="#808080" d="M387.3 623.6l12.5-2.3l0-84.8l-12.5 2.3z"/><path fill="#0d0d0d" d="M387.3 538.8l12.5-2.3l-1.9-2.4l-12.4 2.2z"/><path fill="#808080" d="M374.9 625.8l12.4-2.2l0-94.3l-12.4 2.2z"/><path fill="#0d0d0d" d="M374.9 531.5l12.4-2.2l-1.8-2.5l-12.4 2.3z"/><path fill="#808080" d="M362.5 628.1l12.4-2.3l0-98.2l-12.4 2.2z"/><path fill="#0d0d0d" d="M362.5 529.8l12.4-2.2l-1.8-2.5l-12.4 2.3zM350 524.8l12.5-2.3l-1.8-2.4l-12.5 2.2z"/><path fill="#808080" d="M325.2 635l12.4-2.3l0-133.8l-12.4 2.3z"/><path fill="#0d0d0d" d="M325.2 501.2l12.4-2.3l-1.8-2.5l-12.4 2.3z"/><path fill="#0d0d0d" d="M312.7 637.2l-1.8-2.4l0-146.8l1.8 2.5z"/><path fill="#808080" d="M312.7 637.2l12.5-2.2l0-146.8l-12.5 2.3z"/><path fill="#0d0d0d" d="M312.7 490.5l12.5-2.3l-1.8-2.4l-12.5 2.2z"/><path fill="#808080" d="M426.4 619.2l12.5-2.3l0-59l-12.5 2.3z"/><path fill="#0d0d0d" d="M426.4 560.2l12.5-2.3l-1.8-2.5l-12.5 2.3z"/><path fill="#0d0d0d" d="M401.6 623.8l-1.8-2.5l0-89.3l1.8 2.5z"/><path fill="#808080" d="M401.6 623.8l12.4-2.3l0-89.3l-12.4 2.3z"/><path fill="#0d0d0d" d="M401.6 534.5l12.4-2.3l-1.8-2.4l-12.4 2.2zM389.1 542.3l12.5-2.3l-1.8-2.4l-12.5 2.3z"/><path fill="#808080" d="M364.3 630.6l12.4-2.3l0-95.6l-12.4 2.3z"/><path fill="#0d0d0d" d="M364.3 535l12.4-2.3l-1.8-2.5l-12.4 2.3zM339.4 514.7l12.5-2.3l-1.9-2.4l-12.4 2.2z"/><path fill="#808080" d="M314.6 639.7l12.4-2.3l0-139.9l-12.4 2.2z"/><path fill="#0d0d0d" d="M314.6 499.7l12.4-2.2l-1.8-2.5l-12.5 2.3z"/><path fill="#808080" d="M302.1 642l12.5-2.3l0-142.3l-12.5 2.3z"/><path fill="#0d0d0d" d="M302.1 499.7l12.5-2.3l-1.9-2.5l-12.4 2.3z"/><path fill="#808080" d="M428.3 621.7l12.4-2.3l0-45l-12.4 2.3z"/><path fill="#0d0d0d" d="M428.3 576.7l12.4-2.3l-1.8-2.5l-12.5 2.3zM403.4 544.8l12.4-2.3l-1.8-2.5l-12.4 2.3z"/><path fill="#808080" d="M391 628.5l12.4-2.3l0-85.6l-12.4 2.2z"/><path fill="#0d0d0d" d="M391 542.8l12.4-2.2l-1.8-2.5l-12.5 2.3zM378.5 537.3l12.5-2.2l-1.9-2.5l-12.4 2.3z"/><path fill="#808080" d="M328.8 639.9l12.4-2.3l0-132.8l-12.4 2.3z"/><path fill="#0d0d0d" d="M328.8 507.1l12.4-2.3l-1.8-2.5l-12.4 2.3zM316.4 508.1l12.4-2.3l-1.8-2.5l-12.4 2.3z"/><path fill="#0d0d0d" d="M291.5 646.8l-1.8-2.5l0-152.3l1.8 2.5z"/><path fill="#0d0d0d" d="M291.5 494.5l12.4-2.3l-1.8-2.5l-12.4 2.3z"/><path fill="#808080" d="M430.1 624.1l12.4-2.2l0-31l-12.4 2.2z"/><path fill="#0d0d0d" d="M430.1 593.1l12.4-2.2l-1.8-2.5l-12.4 2.3zM417.6 551.8l12.5-2.2l-1.8-2.5l-12.5 2.3zM367.9 539.8l12.4-2.3l-1.8-2.5l-12.4 2.3z"/><path fill="#808080" d="M355.5 637.8l12.4-2.3l0-112.1l-12.4 2.3z"/><path fill="#0d0d0d" d="M355.5 525.7l12.4-2.3l-1.8-2.5l-12.4 2.3z"/><path fill="#808080" d="M330.6 642.4l12.5-2.3l0-126.3l-12.5 2.3z"/><path fill="#0d0d0d" d="M330.6 516.1l12.5-2.3l-1.9-2.5l-12.4 2.3z"/><path fill="#808080" d="M305.8 646.9l12.4-2.2l0-141.5l-12.4 2.3z"/><path fill="#0d0d0d" d="M305.8 505.5l12.4-2.3l-1.8-2.4l-12.5 2.2z"/><path fill="#0d0d0d" d="M293.3 649.2l-1.8-2.4l0-158.3l1.8 2.5z"/><path fill="#808080" d="M293.3 649.2l12.5-2.3l0-158.2l-12.5 2.3z"/><path fill="#0d0d0d" d="M293.3 491l12.5-2.3l-1.9-2.5l-12.4 2.3z"/><path fill="#808080" d="M431.9 626.6l12.4-2.3l0-8.4l-12.4 2.3z"/><path fill="#0d0d0d" d="M431.9 618.2l12.4-2.3l-1.8-2.4l-12.4 2.2z"/><path fill="#808080" d="M419.5 628.9l12.4-2.3l0-75.2l-12.4 2.2z"/><path fill="#0d0d0d" d="M419.5 553.6l12.4-2.2l-1.8-2.5l-12.5 2.3z"/><path fill="#808080" d="M407 631.2l12.5-2.3l0-85.3l-12.5 2.3z"/><path fill="#0d0d0d" d="M407 545.9l12.5-2.3l-1.9-2.5l-12.4 2.3z"/><path fill="#0d0d0d" d="M382.2 635.7l-1.9-2.4l0-99.9l1.9 2.5z"/><path fill="#808080" d="M382.2 635.7l12.4-2.2l0-99.9l-12.4 2.3z"/><path fill="#0d0d0d" d="M382.2 535.9l12.4-2.3l-1.8-2.4l-12.5 2.2z"/><path fill="#808080" d="M369.7 638l12.5-2.3l0-97.1l-12.5 2.3z"/><path fill="#0d0d0d" d="M369.7 540.9l12.5-2.3l-1.9-2.4l-12.4 2.2z"/><path fill="#808080" d="M357.3 640.3l12.4-2.3l0-102.8l-12.4 2.2z"/><path fill="#0d0d0d" d="M357.3 537.4l12.4-2.2l-1.8-2.5l-12.4 2.3z"/><path fill="#0d0d0d" d="M344.9 642.6l-1.8-2.5l0-126.6l1.8 2.5z"/><path fill="#808080" d="M344.9 642.6l12.4-2.3l0-126.6l-12.4 2.3z"/><path fill="#0d0d0d" d="M344.9 516l12.4-2.3l-1.8-2.5l-12.4 2.3z"/><path fill="#808080" d="M320 647.1l12.4-2.2l0-139l-12.4 2.3z"/><path fill="#0d0d0d" d="M320 508.2l12.4-2.3l-1.8-2.5l-12.4 2.3z"/><path fill="#808080" d="M295.1 651.7l12.5-2.3l0-150.7l-12.5 2.3z"/><path fill="#0d0d0d" d="M295.1 501l12.5-2.3l-1.8-2.4l-12.5 2.2z"/><path fill="#808080" d="M421.3 631.4l12.4-2.3l0-61.8l-12.4 2.3z"/><path fill="#0d0d0d" d="M421.3 569.6l12.4-2.3l-1.8-2.5l-12.4 2.3z"/><path fill="#808080" d="M408.8 633.6l12.5-2.2l0-79l-12.5 2.3z"/><path fill="#0d0d0d" d="M408.8 554.7l12.5-2.3l-1.8-2.5l-12.5 2.3z"/><path fill="#808080" d="M396.4 635.9l12.4-2.3l0-90.3l-12.4 2.2z"/><path fill="#0d0d0d" d="M396.4 545.5l12.4-2.2l-1.8-2.5l-12.4 2.3z"/><path fill="#0d0d0d" d="M384 638.2l-1.8-2.5l0-98.5l1.8 2.5z"/><path fill="#808080" d="M384 638.2l12.4-2.3l0-98.5l-12.4 2.3z"/><path fill="#0d0d0d" d="M384 539.7l12.4-2.3l-1.8-2.5l-12.4 2.3z"/><path fill="#808080" d="M359.1 642.8l12.4-2.3l0-99.6l-12.4 2.2z"/><path fill="#0d0d0d" d="M359.1 543.1l12.4-2.2l-1.8-2.5l-12.4 2.3z"/><path fill="#808080" d="M334.3 647.3l12.4-2.2l0-127.8l-12.4 2.2z"/><path fill="#0d0d0d" d="M334.3 519.5l12.4-2.2l-1.8-2.5l-12.5 2.3z"/><path fill="#808080" d="M321.8 649.6l12.5-2.3l0-133.3l-12.5 2.3z"/><path fill="#0d0d0d" d="M321.8 516.3l12.5-2.3l-1.9-2.5l-12.4 2.3z"/><path fill="#808080" d="M423.1 633.8l12.4-2.2l0-24.6l-12.4 2.2z"/><path fill="#0d0d0d" d="M423.1 609.2l12.4-2.2l-1.8-2.5l-12.4 2.3z"/><path fill="#808080" d="M410.7 636.1l12.4-2.3l0-71.5l-12.4 2.3z"/><path fill="#0d0d0d" d="M410.7 564.6l12.4-2.3l-1.8-2.4l-12.5 2.2z"/><path fill="#808080" d="M398.2 638.4l12.5-2.3l0-85.4l-12.5 2.3z"/><path fill="#0d0d0d" d="M398.2 553l12.5-2.3l-1.9-2.5l-12.4 2.3z"/><path fill="#808080" d="M336.1 649.8l12.4-2.3l0-124.8l-12.4 2.3z"/><path fill="#0d0d0d" d="M336.1 525l12.4-2.3l-1.8-2.5l-12.4 2.3zM323.6 519.4l12.5-2.2l-1.8-2.5l-12.5 2.3z"/><path fill="#808080" d="M311.2 654.4l12.4-2.3l0-146.4l-12.4 2.3z"/><path fill="#0d0d0d" d="M311.2 508l12.4-2.3l-1.8-2.4l-12.4 2.2z"/><path fill="#808080" d="M298.8 656.7l12.4-2.3l0-150.2l-12.4 2.3z"/><path fill="#0d0d0d" d="M298.8 506.5l12.4-2.3l-1.8-2.5l-12.4 2.3zM273.9 500.1l12.4-2.3l-1.8-2.5l-12.4 2.3z"/><path fill="#808080" d="M412.5 638.6l12.4-2.3l0-51.4l-12.4 2.3z"/><path fill="#0d0d0d" d="M412.5 587.2l12.4-2.3l-1.8-2.5l-12.4 2.3z"/><path fill="#808080" d="M400 640.9l12.5-2.3l0-71.4l-12.5 2.3z"/><path fill="#0d0d0d" d="M400 569.5l12.5-2.3l-1.8-2.5l-12.5 2.3z"/><path fill="#0d0d0d" d="M387.6 643.2l-1.8-2.5l0-101l1.8 2.5z"/><path fill="#808080" d="M387.6 643.2l12.4-2.3l0-101l-12.4 2.3z"/><path fill="#0d0d0d" d="M387.6 542.2l12.4-2.3l-1.8-2.5l-12.4 2.3z"/><path fill="#808080" d="M375.2 645.4l12.4-2.2l0-93.8l-12.4 2.3z"/><path fill="#0d0d0d" d="M375.2 551.7l12.4-2.3l-1.8-2.5l-12.4 2.3z"/><path fill="#808080" d="M362.7 647.7l12.5-2.3l0-97.1l-12.5 2.3z"/><path fill="#0d0d0d" d="M362.7 550.6l12.5-2.3l-1.8-2.5l-12.5 2.3z"/><path fill="#808080" d="M300.6 659.1l12.4-2.3l0-149.7l-12.4 2.3z"/><path fill="#0d0d0d" d="M300.6 509.4l12.4-2.3l-1.8-2.5l-12.4 2.3z"/><path fill="#808080" d="M288.2 661.4l12.4-2.3l0-159.6l-12.4 2.3z"/><path fill="#0d0d0d" d="M288.2 501.8l12.4-2.3l-1.8-2.5l-12.5 2.3zM275.7 499.8l12.5-2.3l-1.9-2.5l-12.4 2.3z"/><path fill="#808080" d="M401.9 643.4l12.4-2.3l0-51.2l-12.4 2.3z"/><path fill="#0d0d0d" d="M401.9 592.2l12.4-2.3l-1.8-2.5l-12.5 2.3z"/><path fill="#0d0d0d" d="M389.4 645.6l-1.8-2.4l0-94.8l1.8 2.4z"/><path fill="#808080" d="M389.4 645.6l12.5-2.2l0-94.8l-12.5 2.2z"/><path fill="#0d0d0d" d="M389.4 550.8l12.5-2.2l-1.9-2.5l-12.4 2.3z"/><path fill="#808080" d="M352.1 652.5l12.5-2.3l0-123l-12.5 2.3z"/><path fill="#0d0d0d" d="M352.1 529.5l12.5-2.3l-1.9-2.5l-12.4 2.3zM339.7 530.3l12.4-2.3l-1.8-2.5l-12.4 2.3z"/><path fill="#808080" d="M327.3 657l12.4-2.2l0-137.7l-12.4 2.2z"/><path fill="#0d0d0d" d="M327.3 519.3l12.4-2.2l-1.8-2.5l-12.4 2.3z"/><path fill="#0d0d0d" d="M314.8 659.3l-1.8-2.5l0-145.9l1.8 2.5z"/><path fill="#808080" d="M314.8 659.3l12.5-2.3l0-145.9l-12.5 2.3z"/><path fill="#0d0d0d" d="M314.8 513.4l12.5-2.3l-1.8-2.5l-12.5 2.3zM302.4 519.7l12.4-2.3l-1.8-2.5l-12.4 2.3z"/><path fill="#0d0d0d" d="M265.1 668.4l-1.8-2.4l0-152l1.8 2.4z"/><path fill="#0d0d0d" d="M265.1 516.4l12.4-2.2l-1.8-2.5l-12.4 2.3z"/><path fill="#808080" d="M391.2 648.1l12.5-2.3l0-80.8l-12.5 2.3z"/><path fill="#0d0d0d" d="M391.2 567.3l12.5-2.3l-1.8-2.4l-12.5 2.2z"/><path fill="#808080" d="M378.8 650.4l12.4-2.3l0-92.6l-12.4 2.3z"/><path fill="#0d0d0d" d="M378.8 557.8l12.4-2.3l-1.8-2.5l-12.4 2.3z"/><path fill="#808080" d="M366.4 652.7l12.4-2.3l0-94.4l-12.4 2.3z"/><path fill="#0d0d0d" d="M366.4 558.3l12.4-2.3l-1.8-2.4l-12.4 2.2z"/><path fill="#808080" d="M353.9 655l12.5-2.3l0-112.3l-12.5 2.3z"/><path fill="#0d0d0d" d="M353.9 542.7l12.5-2.3l-1.8-2.5l-12.5 2.3z"/><path fill="#0d0d0d" d="M329.1 659.5l-1.8-2.5l0-133.8l1.8 2.5z"/><path fill="#808080" d="M329.1 659.5l12.4-2.3l0-133.8l-12.4 2.3z"/><path fill="#0d0d0d" d="M329.1 525.7l12.4-2.3l-1.8-2.5l-12.4 2.3zM304.2 521.5l12.5-2.3l-1.9-2.5l-12.4 2.3zM291.8 512.7l12.4-2.3l-1.8-2.5l-12.4 2.3z"/><path fill="#808080" d="M279.4 668.6l12.4-2.2l0-169.3l-12.4 2.2z"/><path fill="#0d0d0d" d="M279.4 499.3l12.4-2.2l-1.8-2.5l-12.5 2.3z"/><path fill="#0d0d0d" d="M266.9 670.9l-1.8-2.5l0-169.3l1.8 2.5z"/><path fill="#0d0d0d" d="M266.9 501.6l12.5-2.3l-1.9-2.4l-12.4 2.2z"/><path fill="#808080" d="M393.1 650.6l12.4-2.3l0-73.4l-12.4 2.3z"/><path fill="#0d0d0d" d="M393.1 577.2l12.4-2.3l-1.8-2.5l-12.5 2.3z"/><path fill="#0d0d0d" d="M380.6 652.9l-1.8-2.5l0-87l1.8 2.5z"/><path fill="#808080" d="M380.6 652.9l12.5-2.3l0-87l-12.5 2.3z"/><path fill="#0d0d0d" d="M380.6 565.9l12.5-2.3l-1.9-2.5l-12.4 2.3z"/><path fill="#808080" d="M368.2 655.1l12.4-2.2l0-85l-12.4 2.2z"/><path fill="#0d0d0d" d="M368.2 570.1l12.4-2.2l-1.8-2.5l-12.4 2.3z"/><path fill="#808080" d="M343.3 659.7l12.5-2.3l0-128.6l-12.5 2.3z"/><path fill="#0d0d0d" d="M343.3 531.1l12.5-2.3l-1.9-2.5l-12.4 2.3z"/><path fill="#808080" d="M330.9 662l12.4-2.3l0-130.1l-12.4 2.3z"/><path fill="#0d0d0d" d="M330.9 531.9l12.4-2.3l-1.8-2.5l-12.4 2.3z"/><path fill="#808080" d="M318.5 664.3l12.4-2.3l0-135.1l-12.4 2.3z"/><path fill="#0d0d0d" d="M318.5 529.2l12.4-2.3l-1.8-2.5l-12.4 2.3zM306 523.4l12.5-2.3l-1.8-2.5l-12.5 2.3z"/><path fill="#808080" d="M293.6 668.8l12.4-2.2l0-155.3l-12.4 2.2z"/><path fill="#0d0d0d" d="M293.6 513.5l12.4-2.2l-1.8-2.5l-12.4 2.3z"/><path fill="#808080" d="M281.2 671.1l12.4-2.3l0-168.5l-12.4 2.3z"/><path fill="#0d0d0d" d="M281.2 502.6l12.4-2.3l-1.8-2.4l-12.4 2.2z"/><path fill="#0d0d0d" d="M268.7 673.4l-1.8-2.5l0-169.3l1.8 2.5z"/><path fill="#0d0d0d" d="M268.7 504.1l12.5-2.3l-1.8-2.5l-12.5 2.3z"/><path fill="#0d0d0d" d="M382.4 655.3l-1.8-2.4l0-59l1.8 2.4z"/><path fill="#808080" d="M382.4 655.3l12.5-2.2l0-59l-12.5 2.2z"/><path fill="#0d0d0d" d="M382.4 596.3l12.5-2.2l-1.8-2.5l-12.5 2.3z"/><path fill="#808080" d="M370 657.6l12.4-2.3l0-9.6l-12.4 2.3z"/><path fill="#0d0d0d" d="M370 648l12.4-2.3l-1.8-2.4l-12.4 2.2z"/><path fill="#808080" d="M357.6 659.9l12.4-2.3l0-112.9l-12.4 2.3z"/><path fill="#0d0d0d" d="M357.6 547l12.4-2.3l-1.8-2.4l-12.4 2.3z"/><path fill="#808080" d="M345.1 662.2l12.5-2.3l0-119.5l-12.5 2.3z"/><path fill="#0d0d0d" d="M345.1 542.7l12.5-2.3l-1.8-2.5l-12.5 2.3z"/><path fill="#808080" d="M332.7 664.5l12.4-2.3l0-127.1l-12.4 2.2z"/><path fill="#0d0d0d" d="M332.7 537.3l12.4-2.2l-1.8-2.5l-12.4 2.3z"/><path fill="#808080" d="M320.3 666.8l12.4-2.3l0-133.5l-12.4 2.2z"/><path fill="#0d0d0d" d="M320.3 533.2l12.4-2.2l-1.8-2.5l-12.4 2.3z"/><path fill="#808080" d="M283 673.6l12.4-2.3l0-168l-12.4 2.3z"/><path fill="#0d0d0d" d="M283 505.6l12.4-2.3l-1.8-2.5l-12.4 2.3z"/><path fill="#0d0d0d" d="M270.6 675.9l-1.9-2.5l0-169.3l1.9 2.5z"/><path fill="#808080" d="M270.6 675.9l12.4-2.3l0-169.3l-12.4 2.3z"/><path fill="#0d0d0d" d="M270.6 506.6l12.4-2.3l-1.8-2.5l-12.5 2.3z"/><path fill="#808080" d="M359.4 662.4l12.4-2.3l0-104.4l-12.4 2.3z"/><path fill="#0d0d0d" d="M359.4 558l12.4-2.3l-1.8-2.5l-12.4 2.3z"/><path fill="#808080" d="M347 664.7l12.4-2.3l0-116.6l-12.4 2.3z"/><path fill="#0d0d0d" d="M347 548.1l12.4-2.3l-1.8-2.5l-12.5 2.3z"/><path fill="#808080" d="M322.1 669.2l12.4-2.3l0-133l-12.4 2.3z"/><path fill="#0d0d0d" d="M322.1 536.2l12.4-2.3l-1.8-2.4l-12.4 2.3z"/><path fill="#808080" d="M297.2 673.8l12.5-2.3l0-154.9l-12.5 2.3z"/><path fill="#0d0d0d" d="M297.2 518.9l12.5-2.3l-1.9-2.5l-12.4 2.3z"/><path fill="#808080" d="M284.8 676.1l12.4-2.3l0-165l-12.4 2.3z"/><path fill="#0d0d0d" d="M284.8 511.1l12.4-2.3l-1.8-2.5l-12.4 2.3z"/><path fill="#0d0d0d" d="M272.4 678.3l-1.8-2.4l0-169l1.8 2.4z"/><path fill="#808080" d="M272.4 678.3l12.4-2.2l0-169l-12.4 2.2z"/><path fill="#0d0d0d" d="M272.4 509.3l12.4-2.2l-1.8-2.5l-12.4 2.3z"/><path fill="#808080" d="M348.8 667.1l12.4-2.2l0-83.7l-12.4 2.2z"/><path fill="#0d0d0d" d="M348.8 583.4l12.4-2.2l-1.8-2.5l-12.4 2.3z"/><path fill="#0d0d0d" d="M336.3 669.4l-1.8-2.5l0-122l1.8 2.5z"/><path fill="#808080" d="M336.3 669.4l12.5-2.3l0-122l-12.5 2.3z"/><path fill="#0d0d0d" d="M336.3 547.4l12.5-2.3l-1.8-2.4l-12.5 2.2z"/><path fill="#808080" d="M323.9 671.7l12.4-2.3l0-97l-12.4 2.3z"/><path fill="#0d0d0d" d="M323.9 574.7l12.4-2.3l-1.8-2.5l-12.4 2.3z"/><path fill="#0d0d0d" d="M311.5 674l-1.8-2.5l0-150.3l1.8 2.5z"/><path fill="#808080" d="M311.5 674l12.4-2.3l0-150.3l-12.4 2.3z"/><path fill="#0d0d0d" d="M311.5 523.7l12.4-2.3l-1.8-2.5l-12.4 2.3z"/><path fill="#808080" d="M299 676.3l12.5-2.3l0-142.5l-12.5 2.3z"/><path fill="#0d0d0d" d="M299 533.8l12.5-2.3l-1.8-2.5l-12.5 2.3z"/><path fill="#808080" d="M286.6 678.5l12.4-2.2l0-155l-12.4 2.2z"/><path fill="#0d0d0d" d="M286.6 523.5l12.4-2.2l-1.8-2.5l-12.4 2.3z"/><path fill="#0d0d0d" d="M274.2 680.8l-1.8-2.5l0-158l1.8 2.5z"/><path fill="#808080" d="M274.2 680.8l12.4-2.3l0-158l-12.4 2.3z"/><path fill="#0d0d0d" d="M274.2 522.8l12.4-2.3l-1.8-2.4l-12.4 2.2z"/><path fill="#0d0d0d" d="M313.3 676.5l-1.8-2.5l0-137l1.8 2.5z"/><path fill="#808080" d="M313.3 676.5l12.4-2.3l0-137l-12.4 2.3z"/><path fill="#0d0d0d" d="M313.3 539.5l12.4-2.3l-1.8-2.5l-12.4 2.3z"/><path fill="#808080" d="M300.9 678.7l12.4-2.2l0-85.4l-12.4 2.2z"/><path fill="#0d0d0d" d="M300.9 593.3l12.4-2.2l-1.8-2.5l-12.5 2.3z"/><path fill="#808080" d="M288.4 681l12.5-2.3l0-116.7l-12.5 2.3z"/><path fill="#0d0d0d" d="M288.4 564.3l12.5-2.3l-1.9-2.4l-12.4 2.2z"/><path fill="#0d0d0d" d="M276 683.3l-1.8-2.5l0-121.5l1.8 2.5z"/><path fill="#808080" d="M276 683.3l12.4-2.3l0-121.5l-12.4 2.3z"/><path fill="#0d0d0d" d="M276 561.8l12.4-2.3l-1.8-2.5l-12.4 2.3z"/></g>

<g stroke="#000" stroke-linecap="butt"><path d="M578.5 683.3L777.4 646.8L704.8 547.8L505.9 584.3z" fill="none" stroke-width="2.5" stroke-linejoin="miter"/><path d="M628.2 674.2L624.3 668.8" stroke-width="1"/><path d="M555.6 575.2L559.5 580.5" stroke-width="1"/><path d="M678 665L674 659.7" stroke-width="1"/><path d="M605.4 566L609.3 571.4" stroke-width="1"/><path d="M727.7 655.9L723.8 650.6" stroke-width="1"/><path d="M655.1 556.9L659 562.3" stroke-width="1"/><path d="M569.4 670.9L574.8 669.9" stroke-width="1"/><path d="M768.3 634.4L763 635.4" stroke-width="1"/><path d="M560.4 658.5L571.1 656.6" stroke-width="1"/><path d="M759.2 622L748.5 624" stroke-width="1"/><path d="M551.3 646.2L556.6 645.2" stroke-width="1"/><path d="M750.2 609.7L744.8 610.7" stroke-width="1"/><path d="M542.2 633.8L552.9 631.8" stroke-width="1"/><path d="M741.1 597.3L730.4 599.3" stroke-width="1"/><path d="M533.1 621.4L538.5 620.4" stroke-width="1"/><path d="M732 584.9L726.7 585.9" stroke-width="1"/><path d="M524 609L534.8 607.1" stroke-width="1"/><path d="M722.9 572.5L712.2 574.5" stroke-width="1"/><path d="M515 596.7L520.3 595.7" stroke-width="1"/><path d="M713.9 560.2L708.5 561.2" stroke-width="1"/><path d="M505.9 585.3L505.9 414.3" stroke-width="2.5"/><path d="M505.9 555.3L511.5 554.3" stroke-width="1"/><path d="M505.9 526.3L517.6 524.2" stroke-width="1"/><path d="M505.9 497.3L511.5 496.3" stroke-width="1"/><path d="M505.9 468.3L517.6 466.2" stroke-width="1"/><path d="M505.9 439.3L511.5 438.3" stroke-width="1"/></g>
<text transform="matrix(0 -0.866 1.046 -0.192 495.9 528.6)" font-size="20.8" text-anchor="middle">2000</text>
<text transform="matrix(0 -0.866 1.046 -0.192 495.9 470.6)" font-size="20.8" text-anchor="middle">4000</text>
<text transform="matrix(0.934 -0.171 0.341 0.465 587.5 695.6)" font-size="20.4" text-anchor="middle">4</text><text transform="matrix(0.934 -0.171 0.341 0.465 637.3 686.5)" font-size="20.4" text-anchor="middle">5</text><text transform="matrix(0.934 -0.171 0.341 0.465 687 677.4)" font-size="20.4" text-anchor="middle">6</text><text transform="matrix(0.934 -0.171 0.341 0.465 736.7 668.2)" font-size="20.4" text-anchor="middle">7</text><text transform="matrix(0.934 -0.171 0.341 0.465 786.4 659.1)" font-size="20.4" text-anchor="middle">8</text><text transform="matrix(0.341 0.465 -0.934 0.171 553.3 687.9)" font-size="20.4" text-anchor="middle">0</text><text transform="matrix(0.341 0.465 -0.934 0.171 535.1 663.2)" font-size="20.4" text-anchor="middle">100</text><text transform="matrix(0.341 0.465 -0.934 0.171 517 638.4)" font-size="20.4" text-anchor="middle">200</text><text transform="matrix(0.341 0.465 -0.934 0.171 498.8 613.7)" font-size="20.4" text-anchor="middle">300</text><text transform="matrix(0.341 0.465 -0.934 0.171 480.7 588.9)" font-size="20.4" text-anchor="middle">400</text>
<g stroke="#000" stroke-width="0.4" stroke-linejoin="round"><path fill="#ff8a0a" d="M701.4 562.2l12.5-2.3l-1.8-2.5l-12.5 2.3zM676.6 566.7l12.4-2.3l-1.8-2.4l-12.4 2.2zM680.2 571.7l12.4-2.3l-1.8-2.5l-12.4 2.3zM682 574.1l12.5-2.2l-1.9-2.5l-12.4 2.3zM657.2 578.7l12.4-2.3l-1.8-2.4l-12.5 2.2zM708.7 572.1l12.4-2.3l-1.8-2.5l-12.4 2.3zM698.1 576.8l12.4-2.3l-1.8-2.4l-12.4 2.2zM660.8 583.7l12.4-2.3l-1.8-2.5l-12.4 2.3zM712.3 577l12.5-2.3l-1.9-2.5l-12.4 2.3zM687.5 581.6l12.4-2.3l-1.8-2.5l-12.4 2.3zM675 583.9l12.5-2.3l-1.8-2.5l-12.5 2.3zM714.1 579.5l12.5-2.3l-1.8-2.5l-12.5 2.3zM676.9 586.3l12.4-2.3l-1.8-2.4l-12.5 2.3zM678.7 588.8l12.4-2.3l-1.8-2.5l-12.4 2.3zM717.8 584.4l12.4-2.3l-1.8-2.4l-12.4 2.3zM692.9 589l12.4-2.3l-1.8-2.5l-12.4 2.3zM668.1 593.6l12.4-2.3l-1.8-2.5l-12.5 2.3zM655.6 595.8l12.5-2.2l-1.9-2.5l-12.4 2.3zM719.6 586.9l12.4-2.3l-1.8-2.5l-12.4 2.3zM707.2 589.2l12.4-2.3l-1.8-2.5l-12.5 2.3zM669.9 596l12.4-2.2l-1.8-2.5l-12.4 2.3zM709 591.7l12.4-2.3l-1.8-2.5l-12.4 2.3zM671.7 598.5l12.4-2.3l-1.8-2.4l-12.4 2.2zM723.2 591.9l12.5-2.3l-1.9-2.5l-12.4 2.3zM710.8 594.1l12.4-2.2l-1.8-2.5l-12.4 2.3zM698.4 596.4l12.4-2.3l-1.8-2.4l-12.5 2.2zM685.9 598.7l12.5-2.3l-1.9-2.5l-12.4 2.3zM673.5 601l12.4-2.3l-1.8-2.5l-12.4 2.3zM661.1 603.3l12.4-2.3l-1.8-2.5l-12.4 2.3zM648.6 605.5l12.5-2.2l-1.8-2.5l-12.5 2.3zM725 594.3l12.5-2.3l-1.8-2.4l-12.5 2.3zM712.6 596.6l12.4-2.3l-1.8-2.4l-12.4 2.2zM700.2 598.9l12.4-2.3l-1.8-2.5l-12.4 2.3zM687.7 601.2l12.5-2.3l-1.8-2.5l-12.5 2.3zM662.9 605.7l12.4-2.2l-1.8-2.5l-12.4 2.3zM726.9 596.8l12.4-2.3l-1.8-2.5l-12.5 2.3zM714.4 599.1l12.5-2.3l-1.9-2.5l-12.4 2.3zM702 601.4l12.4-2.3l-1.8-2.5l-12.4 2.3zM689.6 603.6l12.4-2.2l-1.8-2.5l-12.5 2.3zM677.1 605.9l12.5-2.3l-1.9-2.4l-12.4 2.3zM664.7 608.2l12.4-2.3l-1.8-2.4l-12.4 2.2zM652.3 610.5l12.4-2.3l-1.8-2.5l-12.4 2.3zM728.7 599.3l12.4-2.3l-1.8-2.5l-12.4 2.3zM716.2 601.6l12.5-2.3l-1.8-2.5l-12.5 2.3zM703.8 603.8l12.4-2.2l-1.8-2.5l-12.4 2.3zM691.4 606.1l12.4-2.3l-1.8-2.4l-12.4 2.2zM678.9 608.4l12.5-2.3l-1.8-2.5l-12.5 2.3zM666.5 610.7l12.4-2.3l-1.8-2.5l-12.4 2.3zM654.1 613l12.4-2.3l-1.8-2.5l-12.4 2.3zM730.5 601.8l12.4-2.3l-1.8-2.5l-12.4 2.3zM718.1 604l12.4-2.2l-1.8-2.5l-12.5 2.3zM705.6 606.3l12.5-2.3l-1.9-2.4l-12.4 2.2zM693.2 608.6l12.4-2.3l-1.8-2.5l-12.4 2.3zM680.8 610.9l12.4-2.3l-1.8-2.5l-12.5 2.3zM668.3 613.2l12.5-2.3l-1.9-2.5l-12.4 2.3zM655.9 615.4l12.4-2.2l-1.8-2.5l-12.4 2.3zM732.3 604.2l12.4-2.2l-1.8-2.5l-12.4 2.3zM719.9 606.5l12.4-2.3l-1.8-2.4l-12.4 2.2zM707.4 608.8l12.5-2.3l-1.8-2.5l-12.5 2.3zM695 611.1l12.4-2.3l-1.8-2.5l-12.4 2.3zM682.6 613.4l12.4-2.3l-1.8-2.5l-12.4 2.3zM670.1 615.6l12.5-2.2l-1.8-2.5l-12.5 2.3zM657.7 617.9l12.4-2.3l-1.8-2.4l-12.4 2.2zM734.1 606.7l12.4-2.3l-1.8-2.4l-12.4 2.2zM721.7 609l12.4-2.3l-1.8-2.5l-12.4 2.3zM709.3 611.3l12.4-2.3l-1.8-2.5l-12.5 2.3zM696.8 613.5l12.5-2.2l-1.9-2.5l-12.4 2.3zM684.4 615.8l12.4-2.3l-1.8-2.4l-12.4 2.3zM672 618.1l12.4-2.3l-1.8-2.4l-12.5 2.2zM659.5 620.4l12.5-2.3l-1.9-2.5l-12.4 2.3zM735.9 609.2l12.5-2.3l-1.9-2.5l-12.4 2.3zM723.5 611.5l12.4-2.3l-1.8-2.5l-12.4 2.3zM711.1 613.7l12.4-2.2l-1.8-2.5l-12.4 2.3zM698.6 616l12.5-2.3l-1.8-2.4l-12.5 2.2zM686.2 618.3l12.4-2.3l-1.8-2.5l-12.4 2.3zM673.8 620.6l12.4-2.3l-1.8-2.5l-12.4 2.3zM661.3 622.9l12.5-2.3l-1.8-2.5l-12.5 2.3zM737.7 611.7l12.5-2.3l-1.8-2.5l-12.5 2.3zM725.3 613.9l12.4-2.2l-1.8-2.5l-12.4 2.3zM712.9 616.2l12.4-2.3l-1.8-2.4l-12.4 2.2zM700.4 618.5l12.5-2.3l-1.8-2.5l-12.5 2.3zM688 620.8l12.4-2.3l-1.8-2.5l-12.4 2.3zM675.6 623.1l12.4-2.3l-1.8-2.5l-12.4 2.3zM663.2 625.3l12.4-2.2l-1.8-2.5l-12.5 2.3zM739.6 614.1l12.4-2.2l-1.8-2.5l-12.5 2.3zM727.1 616.4l12.5-2.3l-1.9-2.4l-12.4 2.2zM714.7 618.7l12.4-2.3l-1.8-2.5l-12.4 2.3zM702.3 621l12.4-2.3l-1.8-2.5l-12.5 2.3zM689.8 623.3l12.5-2.3l-1.9-2.5l-12.4 2.3zM677.4 625.5l12.4-2.2l-1.8-2.5l-12.4 2.3zM665 627.8l12.4-2.3l-1.8-2.4l-12.4 2.2zM728.9 618.9l12.5-2.3l-1.8-2.5l-12.5 2.3zM716.5 621.2l12.4-2.3l-1.8-2.5l-12.4 2.3zM704.1 623.5l12.4-2.3l-1.8-2.5l-12.4 2.3zM691.6 625.7l12.5-2.2l-1.8-2.5l-12.5 2.3zM679.2 628l12.4-2.3l-1.8-2.4l-12.4 2.2zM666.8 630.3l12.4-2.3l-1.8-2.5l-12.4 2.3zM730.8 621.4l12.4-2.3l-1.8-2.5l-12.5 2.3zM718.3 623.6l12.5-2.2l-1.9-2.5l-12.4 2.3zM705.9 625.9l12.4-2.3l-1.8-2.4l-12.4 2.3zM693.5 628.2l12.4-2.3l-1.8-2.4l-12.5 2.2zM681 630.5l12.5-2.3l-1.9-2.5l-12.4 2.3zM668.6 632.8l12.4-2.3l-1.8-2.5l-12.4 2.3zM732.6 623.8l12.4-2.2l-1.8-2.5l-12.4 2.3zM720.1 626.1l12.5-2.3l-1.8-2.4l-12.5 2.2zM707.7 628.4l12.4-2.3l-1.8-2.5l-12.4 2.3zM695.3 630.7l12.4-2.3l-1.8-2.5l-12.4 2.3zM682.8 633l12.5-2.3l-1.8-2.5l-12.5 2.3zM670.4 635.2l12.4-2.2l-1.8-2.5l-12.4 2.3zM734.4 626.3l12.4-2.3l-1.8-2.4l-12.4 2.2zM722 628.6l12.4-2.3l-1.8-2.5l-12.5 2.3zM709.5 630.9l12.5-2.3l-1.9-2.5l-12.4 2.3zM697.1 633.2l12.4-2.3l-1.8-2.5l-12.4 2.3zM684.7 635.4l12.4-2.2l-1.8-2.5l-12.5 2.3zM672.2 637.7l12.5-2.3l-1.9-2.4l-12.4 2.2zM723.8 631.1l12.4-2.3l-1.8-2.5l-12.4 2.3zM711.3 633.4l12.5-2.3l-1.8-2.5l-12.5 2.3zM698.9 635.6l12.4-2.2l-1.8-2.5l-12.4 2.3zM686.5 637.9l12.4-2.3l-1.8-2.4l-12.4 2.2zM674 640.2l12.5-2.3l-1.8-2.5l-12.5 2.3zM713.2 635.8l12.4-2.3l-1.8-2.4l-12.5 2.3zM700.7 638.1l12.5-2.3l-1.9-2.4l-12.4 2.2zM688.3 640.4l12.4-2.3l-1.8-2.5l-12.4 2.3zM675.9 642.7l12.4-2.3l-1.8-2.5l-12.5 2.3zM663.4 645l12.5-2.3l-1.9-2.5l-12.4 2.3zM702.5 640.6l12.5-2.3l-1.8-2.5l-12.5 2.3z"/><path fill="#a65600" d="M690.1 643.2l-1.8-2.5l0-3l1.8 2.5z"/><path fill="#ff8a0a" d="M690.1 640.2l12.4-2.3l-1.8-2.5l-12.4 2.3zM677.7 645.1l12.4-2.2l-1.8-2.5l-12.4 2.3zM665.2 647.4l12.5-2.3l-1.8-2.4l-12.5 2.3z"/><path fill="#ffbb73" d="M691.9 645.6l12.5-2.2l0-4l-12.5 2.2z"/><path fill="#ff8a0a" d="M691.9 641.6l12.5-2.2l-1.9-2.5l-12.4 2.3z"/><path fill="#a65600" d="M683.1 652.9l-1.8-2.5l0-10l1.8 2.5z"/><path fill="#ffbb73" d="M683.1 652.9l12.5-2.3l0-10l-12.5 2.3z"/><path fill="#ff8a0a" d="M683.1 642.9l12.5-2.3l-1.9-2.5l-12.4 2.3z"/><path fill="#ffbb73" d="M684.9 655.3l12.5-2.2l0-5.6l-12.5 2.2z"/><path fill="#ff8a0a" d="M684.9 649.7l12.5-2.2l-1.8-2.5l-12.5 2.3z"/><path fill="#ffbb73" d="M672.5 657.6l12.4-2.3l0-10.1l-12.4 2.3z"/><path fill="#ff8a0a" d="M672.5 647.5l12.4-2.3l-1.8-2.4l-12.4 2.2z"/><path fill="#ffbb73" d="M660.1 659.9l12.4-2.3l0-35.8l-12.4 2.3z"/><path fill="#ff8a0a" d="M660.1 624.1l12.4-2.3l-1.8-2.4l-12.4 2.2z"/><path fill="#ffbb73" d="M647.6 662.2l12.5-2.3l0-41.9l-12.5 2.3z"/><path fill="#ff8a0a" d="M647.6 620.3l12.5-2.3l-1.8-2.5l-12.5 2.3z"/><path fill="#ffbb73" d="M674.3 660.1l12.5-2.3l0-4.3l-12.5 2.3z"/><path fill="#ff8a0a" d="M674.3 655.8l12.5-2.3l-1.9-2.5l-12.4 2.3z"/><path fill="#a65600" d="M661.9 662.4l-1.8-2.5l0-29.1l1.8 2.5z"/><path fill="#ffbb73" d="M661.9 662.4l12.4-2.3l0-29.1l-12.4 2.3z"/><path fill="#ff8a0a" d="M661.9 633.3l12.4-2.3l-1.8-2.5l-12.4 2.3z"/><path fill="#ffbb73" d="M649.5 664.7l12.4-2.3l0-7.7l-12.4 2.3z"/><path fill="#ff8a0a" d="M649.5 657l12.4-2.3l-1.8-2.5l-12.5 2.3z"/><path fill="#ffbb73" d="M637 666.9l12.5-2.2l0-79.3l-12.5 2.2z"/><path fill="#ff8a0a" d="M637 587.6l12.5-2.2l-1.9-2.5l-12.4 2.3z"/><path fill="#ffbb73" d="M624.6 669.2l12.4-2.3l0-100.6l-12.4 2.3z"/><path fill="#ff8a0a" d="M624.6 568.6l12.4-2.3l-1.8-2.4l-12.4 2.2z"/><path fill="#a65600" d="M587.3 676.1l-1.8-2.5l0-100.6l1.8 2.5z"/><path fill="#ffbb73" d="M587.3 676.1l12.4-2.3l0-100.6l-12.4 2.3z"/><path fill="#ff8a0a" d="M587.3 575.5l12.4-2.3l-1.8-2.5l-12.4 2.3z"/><path fill="#ffbb73" d="M626.4 671.7l12.4-2.3l0-22.6l-12.4 2.3z"/><path fill="#ff8a0a" d="M626.4 649.1l12.4-2.3l-1.8-2.5l-12.4 2.3z"/><path fill="#a65600" d="M614 674l-1.8-2.5l0-161.7l1.8 2.5z"/><path fill="#ffbb73" d="M614 674l12.4-2.3l0-161.7l-12.4 2.3z"/><path fill="#ff8a0a" d="M614 512.3l12.4-2.3l-1.8-2.5l-12.4 2.3z"/><path fill="#a65600" d="M601.5 676.3l-1.8-2.5l0-113.8l1.8 2.5z"/><path fill="#ffbb73" d="M601.5 676.3l12.5-2.3l0-113.8l-12.5 2.3z"/><path fill="#ff8a0a" d="M601.5 562.5l12.5-2.3l-1.8-2.5l-12.5 2.3z"/><path fill="#a65600" d="M589.1 678.5l-1.8-2.4l0-40l1.8 2.4z"/><path fill="#ff8a0a" d="M589.1 638.5l12.4-2.2l-1.8-2.5l-12.4 2.3z"/><path fill="#a65600" d="M576.7 680.8l-1.8-2.5l0-30.9l1.8 2.5z"/><path fill="#ffbb73" d="M576.7 680.8l12.4-2.3l0-30.9l-12.4 2.3z"/><path fill="#ff8a0a" d="M576.7 649.9l12.4-2.3l-1.8-2.4l-12.4 2.2z"/><path fill="#ffbb73" d="M603.4 678.7l12.4-2.2l0-10.6l-12.4 2.2z"/><path fill="#ff8a0a" d="M603.4 668.1l12.4-2.2l-1.8-2.5l-12.5 2.3z"/><path fill="#a65600" d="M590.9 681l-1.8-2.5l0-43.2l1.8 2.5z"/><path fill="#ffbb73" d="M590.9 681l12.5-2.3l0-43.2l-12.5 2.3z"/><path fill="#ff8a0a" d="M590.9 637.8l12.5-2.3l-1.9-2.4l-12.4 2.2z"/><path fill="#a65600" d="M578.5 683.3l-1.8-2.5l0-24.2l1.8 2.5z"/><path fill="#ffbb73" d="M578.5 683.3l12.4-2.3l0-24.2l-12.4 2.3z"/><path fill="#ff8a0a" d="M578.5 659.1l12.4-2.3l-1.8-2.5l-12.4 2.3z"/></g>

<g stroke="#000" stroke-linecap="butt"><path d="M881 683.3L1079.9 646.8L1007.3 547.8L808.4 584.3z" fill="none" stroke-width="2.5" stroke-linejoin="miter"/><path d="M930.7 674.2L926.8 668.8" stroke-width="1"/><path d="M858.1 575.2L862 580.5" stroke-width="1"/><path d="M980.5 665L976.5 659.7" stroke-width="1"/><path d="M907.9 566L911.8 571.4" stroke-width="1"/><path d="M1030.2 655.9L1026.3 650.6" stroke-width="1"/><path d="M957.6 556.9L961.5 562.3" stroke-width="1"/><path d="M871.9 670.9L877.3 669.9" stroke-width="1"/><path d="M1070.8 634.4L1065.5 635.4" stroke-width="1"/><path d="M862.9 658.5L873.6 656.6" stroke-width="1"/><path d="M1061.8 622L1051 624" stroke-width="1"/><path d="M853.8 646.2L859.1 645.2" stroke-width="1"/><path d="M1052.7 609.7L1047.3 610.7" stroke-width="1"/><path d="M844.7 633.8L855.4 631.8" stroke-width="1"/><path d="M1043.6 597.3L1032.9 599.3" stroke-width="1"/><path d="M835.6 621.4L841 620.4" stroke-width="1"/><path d="M1034.5 584.9L1029.2 585.9" stroke-width="1"/><path d="M826.5 609L837.3 607.1" stroke-width="1"/><path d="M1025.5 572.5L1014.7 574.5" stroke-width="1"/><path d="M817.5 596.7L822.8 595.7" stroke-width="1"/><path d="M1016.4 560.2L1011 561.2" stroke-width="1"/><path d="M808.4 585.3L808.4 414.3" stroke-width="2.5"/><path d="M808.4 555.3L814 554.3" stroke-width="1"/><path d="M808.4 526.3L820.1 524.2" stroke-width="1"/><path d="M808.4 497.3L814 496.3" stroke-width="1"/><path d="M808.4 468.3L820.1 466.2" stroke-width="1"/><path d="M808.4 439.3L814 438.3" stroke-width="1"/></g>
<text transform="matrix(0 -0.866 1.046 -0.192 798.4 528.6)" font-size="20.8" text-anchor="middle">2000</text>
<text transform="matrix(0 -0.866 1.046 -0.192 798.4 470.6)" font-size="20.8" text-anchor="middle">4000</text>
<text transform="matrix(0.934 -0.171 0.341 0.465 890 695.6)" font-size="20.4" text-anchor="middle">4</text><text transform="matrix(0.934 -0.171 0.341 0.465 939.8 686.5)" font-size="20.4" text-anchor="middle">5</text><text transform="matrix(0.934 -0.171 0.341 0.465 989.5 677.4)" font-size="20.4" text-anchor="middle">6</text><text transform="matrix(0.934 -0.171 0.341 0.465 1039.2 668.2)" font-size="20.4" text-anchor="middle">7</text><text transform="matrix(0.934 -0.171 0.341 0.465 1088.9 659.1)" font-size="20.4" text-anchor="middle">8</text><text transform="matrix(0.341 0.465 -0.934 0.171 855.8 687.9)" font-size="20.4" text-anchor="middle">0</text><text transform="matrix(0.341 0.465 -0.934 0.171 837.6 663.2)" font-size="20.4" text-anchor="middle">100</text><text transform="matrix(0.341 0.465 -0.934 0.171 819.5 638.4)" font-size="20.4" text-anchor="middle">200</text><text transform="matrix(0.341 0.465 -0.934 0.171 801.3 613.7)" font-size="20.4" text-anchor="middle">300</text><text transform="matrix(0.341 0.465 -0.934 0.171 783.2 588.9)" font-size="20.4" text-anchor="middle">400</text>
<g stroke="#000" stroke-width="0.4" stroke-linejoin="round"><path fill="#00ff00" d="M1038.4 609.2l12.5-2.3l-1.9-2.5l-12.4 2.3zM1040.2 611.7l12.5-2.3l-1.8-2.5l-12.5 2.3zM1042.1 614.1l12.4-2.2l-1.8-2.5l-12.5 2.3zM1029.6 616.4l12.5-2.3l-1.9-2.4l-12.4 2.2zM1043.9 616.6l12.4-2.3l-1.8-2.4l-12.4 2.2zM1031.4 618.9l12.5-2.3l-1.8-2.5l-12.5 2.3zM1045.7 619.1l12.4-2.3l-1.8-2.5l-12.4 2.3zM1033.3 621.4l12.4-2.3l-1.8-2.5l-12.5 2.3zM1020.8 623.6l12.5-2.2l-1.9-2.5l-12.4 2.3zM1047.5 621.6l12.4-2.3l-1.8-2.5l-12.4 2.3zM1035.1 623.8l12.4-2.2l-1.8-2.5l-12.4 2.3zM1022.6 626.1l12.5-2.3l-1.8-2.4l-12.5 2.2zM1049.3 624l12.5-2.2l-1.9-2.5l-12.4 2.3zM1036.9 626.3l12.4-2.3l-1.8-2.4l-12.4 2.2zM1024.5 628.6l12.4-2.3l-1.8-2.5l-12.5 2.3zM1051.1 626.5l12.5-2.3l-1.8-2.4l-12.5 2.2zM1038.7 628.8l12.4-2.3l-1.8-2.5l-12.4 2.3zM1026.3 631.1l12.4-2.3l-1.8-2.5l-12.4 2.3zM1013.8 633.4l12.5-2.3l-1.8-2.5l-12.5 2.3zM1040.5 631.3l12.4-2.3l-1.8-2.5l-12.4 2.3zM1028.1 633.5l12.4-2.2l-1.8-2.5l-12.4 2.3zM1015.7 635.8l12.4-2.3l-1.8-2.4l-12.5 2.3zM1042.3 633.7l12.5-2.2l-1.9-2.5l-12.4 2.3zM1029.9 636l12.4-2.3l-1.8-2.4l-12.4 2.2zM1017.5 638.3l12.4-2.3l-1.8-2.5l-12.4 2.3z"/><path fill="#00a600" d="M1044.1 636.5l-1.8-2.5l0-1.7l1.8 2.5z"/><path fill="#00ff00" d="M1044.1 634.8l12.5-2.3l-1.8-2.5l-12.5 2.3zM1031.7 638.5l12.4-2.3l-1.8-2.5l-12.4 2.3zM1046 635.8l12.4-2.3l-1.8-2.4l-12.5 2.2z"/><path fill="#00a600" d="M983.8 650.4l-1.8-2.5l0-24.4l1.8 2.5z"/><path fill="#73ff73" d="M983.8 650.4l12.4-2.3l0-24.4l-12.4 2.3z"/><path fill="#00ff00" d="M983.8 626l12.4-2.3l-1.8-2.5l-12.4 2.3z"/><path fill="#00a600" d="M998.1 650.6l-1.9-2.5l0-27.3l1.9 2.5z"/><path fill="#73ff73" d="M998.1 650.6l12.4-2.3l0-27.3l-12.4 2.3z"/><path fill="#00ff00" d="M998.1 623.3l12.4-2.3l-1.8-2.5l-12.5 2.3z"/><path fill="#73ff73" d="M985.6 652.9l12.5-2.3l0-6l-12.5 2.3z"/><path fill="#00ff00" d="M985.6 646.9l12.5-2.3l-1.9-2.5l-12.4 2.3z"/><path fill="#00a600" d="M1012.3 650.8l-1.8-2.5l0-28.3l1.8 2.5z"/><path fill="#73ff73" d="M1012.3 650.8l12.4-2.3l0-28.3l-12.4 2.3z"/><path fill="#00ff00" d="M1012.3 622.5l12.4-2.3l-1.8-2.5l-12.4 2.3z"/><path fill="#73ff73" d="M987.4 655.3l12.5-2.2l0-3.2l-12.5 2.3z"/><path fill="#00ff00" d="M987.4 652.2l12.5-2.3l-1.8-2.5l-12.5 2.3z"/><path fill="#00a600" d="M1001.7 655.5l-1.8-2.4l0-10.6l1.8 2.4z"/><path fill="#73ff73" d="M1001.7 655.5l12.4-2.2l0-10.6l-12.4 2.2z"/><path fill="#00ff00" d="M1001.7 644.9l12.4-2.2l-1.8-2.5l-12.4 2.3z"/><path fill="#73ff73" d="M989.3 657.8l12.4-2.3l0-2.7l-12.4 2.3z"/><path fill="#00ff00" d="M989.3 655.1l12.4-2.3l-1.8-2.5l-12.5 2.3z"/><path fill="#73ff73" d="M976.8 660.1l12.5-2.3l0-20.4l-12.5 2.3z"/><path fill="#00ff00" d="M976.8 639.7l12.5-2.3l-1.9-2.5l-12.4 2.3z"/><path fill="#00a600" d="M927.1 669.2l-1.8-2.4l0-126.7l1.8 2.5z"/><path fill="#73ff73" d="M927.1 669.2l12.4-2.3l0-126.6l-12.4 2.3z"/><path fill="#00ff00" d="M927.1 542.6l12.4-2.3l-1.8-2.4l-12.4 2.2z"/><path fill="#00a600" d="M914.7 671.5l-1.9-2.5l0-68.3l1.9 2.5z"/><path fill="#73ff73" d="M914.7 671.5l12.4-2.3l0-68.3l-12.4 2.3z"/><path fill="#00ff00" d="M914.7 603.2l12.4-2.3l-1.8-2.4l-12.5 2.2z"/><path fill="#73ff73" d="M1065.7 646.6l12.4-2.3l0-22.5l-12.4 2.3z"/><path fill="#00ff00" d="M1065.7 624.1l12.4-2.3l-1.8-2.5l-12.5 2.3z"/><path fill="#00a600" d="M1053.2 648.9l-1.8-2.5l0-29.1l1.8 2.5z"/><path fill="#73ff73" d="M1053.2 648.9l12.5-2.3l0-29.1l-12.5 2.3z"/><path fill="#00ff00" d="M1053.2 619.8l12.5-2.3l-1.9-2.5l-12.4 2.3z"/><path fill="#73ff73" d="M1040.8 651.2l12.4-2.3l0-14l-12.4 2.3z"/><path fill="#00ff00" d="M1040.8 637.2l12.4-2.3l-1.8-2.5l-12.4 2.3z"/><path fill="#73ff73" d="M1028.4 653.4l12.4-2.2l0-14.6l-12.4 2.2z"/><path fill="#00ff00" d="M1028.4 638.8l12.4-2.2l-1.8-2.5l-12.5 2.3z"/><path fill="#00a600" d="M1015.9 655.7l-1.8-2.4l0-15.2l1.8 2.4z"/><path fill="#73ff73" d="M1015.9 655.7l12.5-2.3l0-15.2l-12.5 2.3z"/><path fill="#00ff00" d="M1015.9 640.5l12.5-2.3l-1.9-2.4l-12.4 2.3zM1003.5 657.7l12.4-2.3l-1.8-2.4l-12.4 2.2zM991.1 659.3l12.4-2.3l-1.8-2.4l-12.4 2.2z"/><path fill="#73ff73" d="M978.6 662.6l12.5-2.3l0-13.4l-12.5 2.3z"/><path fill="#00ff00" d="M978.6 649.2l12.5-2.3l-1.8-2.5l-12.5 2.3z"/><path fill="#73ff73" d="M966.2 664.9l12.4-2.3l0-69.4l-12.4 2.3z"/><path fill="#00ff00" d="M966.2 595.5l12.4-2.3l-1.8-2.5l-12.4 2.3z"/><path fill="#73ff73" d="M953.8 667.1l12.4-2.2l0-74.3l-12.4 2.2z"/><path fill="#00ff00" d="M953.8 592.8l12.4-2.2l-1.8-2.5l-12.4 2.3z"/><path fill="#00a600" d="M941.3 669.4l-1.8-2.5l0-170l1.8 2.5z"/><path fill="#73ff73" d="M941.3 669.4l12.5-2.3l0-170l-12.5 2.3z"/><path fill="#00ff00" d="M941.3 499.4l12.5-2.3l-1.8-2.4l-12.5 2.2z"/><path fill="#73ff73" d="M1067.5 649.1l12.4-2.3l0-1l-12.4 2.3z"/><path fill="#00ff00" d="M1067.5 648.1l12.4-2.3l-1.8-2.5l-12.4 2.3z"/><path fill="#73ff73" d="M1055 651.4l12.5-2.3l0-2l-12.5 2.3z"/><path fill="#00ff00" d="M1055 649.4l12.5-2.3l-1.8-2.5l-12.5 2.3z"/><path fill="#73ff73" d="M1042.6 653.6l12.4-2.2l0-2l-12.4 2.2z"/><path fill="#00ff00" d="M1042.6 651.6l12.4-2.2l-1.8-2.5l-12.4 2.3z"/><path fill="#00a600" d="M1030.2 655.9l-1.8-2.5l0-3l1.8 2.5z"/><path fill="#73ff73" d="M1030.2 655.9l12.4-2.3l0-3l-12.4 2.3z"/><path fill="#00ff00" d="M1030.2 652.9l12.4-2.3l-1.8-2.4l-12.4 2.2z"/><path fill="#73ff73" d="M1017.7 658.2l12.5-2.3l0-1.7l-12.5 2.3z"/><path fill="#00ff00" d="M1017.7 656.5l12.5-2.3l-1.8-2.4l-12.5 2.2z"/><path fill="#73ff73" d="M1005.3 660.5l12.4-2.3l0-1.9l-12.4 2.2z"/><path fill="#00ff00" d="M1005.3 658.5l12.4-2.2l-1.8-2.5l-12.4 2.3z"/><path fill="#73ff73" d="M992.9 662.8l12.4-2.3l0-2.6l-12.4 2.3z"/><path fill="#00ff00" d="M992.9 660.2l12.4-2.3l-1.8-2.4l-12.4 2.2z"/><path fill="#73ff73" d="M980.5 665l12.4-2.2l0-5l-12.4 2.2z"/><path fill="#00ff00" d="M980.5 660l12.4-2.2l-1.8-2.5l-12.5 2.3z"/><path fill="#73ff73" d="M968 667.3l12.5-2.3l0-14.7l-12.5 2.3z"/><path fill="#00ff00" d="M968 652.6l12.5-2.3l-1.9-2.4l-12.4 2.3z"/><path fill="#73ff73" d="M955.6 669.6l12.4-2.3l0-14.4l-12.4 2.3z"/><path fill="#00ff00" d="M955.6 655.2l12.4-2.3l-1.8-2.4l-12.4 2.2z"/><path fill="#00a600" d="M943.2 671.9l-1.9-2.5l0-25.4l1.9 2.5z"/><path fill="#73ff73" d="M943.2 671.9l12.4-2.3l0-25.4l-12.4 2.3z"/><path fill="#00ff00" d="M943.2 646.5l12.4-2.3l-1.8-2.5l-12.5 2.3z"/><path fill="#73ff73" d="M930.7 674.2l12.5-2.3l0-21.6l-12.5 2.3z"/><path fill="#00ff00" d="M930.7 652.6l12.5-2.3l-1.9-2.5l-12.4 2.3z"/><path fill="#00a600" d="M918.3 676.5l-1.8-2.5l0-43.8l1.8 2.5z"/><path fill="#73ff73" d="M918.3 676.5l12.4-2.3l0-43.8l-12.4 2.3z"/><path fill="#00ff00" d="M918.3 632.7l12.4-2.3l-1.8-2.5l-12.4 2.3z"/><path fill="#00a600" d="M905.9 678.7l-1.9-2.4l0-21.9l1.9 2.4z"/><path fill="#73ff73" d="M905.9 678.7l12.4-2.2l0-21.9l-12.4 2.2z"/><path fill="#00ff00" d="M905.9 656.8l12.4-2.2l-1.8-2.5l-12.5 2.3z"/><path fill="#00a600" d="M893.4 681l-1.8-2.5l0-1l1.8 2.5z"/><path fill="#73ff73" d="M893.4 681l12.5-2.3l0-1l-12.5 2.3z"/><path fill="#00ff00" d="M893.4 680l12.5-2.3l-1.9-2.4l-12.4 2.2z"/></g>

<g stroke="#000" stroke-linecap="butt"><path d="M1183.5 683.3L1382.4 646.8L1309.8 547.8L1110.9 584.3z" fill="none" stroke-width="2.5" stroke-linejoin="miter"/><path d="M1233.2 674.2L1229.3 668.8" stroke-width="1"/><path d="M1160.6 575.2L1164.5 580.5" stroke-width="1"/><path d="M1283 665L1279 659.7" stroke-width="1"/><path d="M1210.4 566L1214.3 571.4" stroke-width="1"/><path d="M1332.7 655.9L1328.8 650.6" stroke-width="1"/><path d="M1260.1 556.9L1264 562.3" stroke-width="1"/><path d="M1174.4 670.9L1179.8 669.9" stroke-width="1"/><path d="M1373.3 634.4L1368 635.4" stroke-width="1"/><path d="M1165.3 658.5L1176.1 656.6" stroke-width="1"/><path d="M1364.2 622L1353.5 624" stroke-width="1"/><path d="M1156.3 646.2L1161.6 645.2" stroke-width="1"/><path d="M1355.2 609.7L1349.8 610.7" stroke-width="1"/><path d="M1147.2 633.8L1157.9 631.8" stroke-width="1"/><path d="M1346.1 597.3L1335.4 599.3" stroke-width="1"/><path d="M1138.1 621.4L1143.5 620.4" stroke-width="1"/><path d="M1337 584.9L1331.7 585.9" stroke-width="1"/><path d="M1129 609L1139.8 607.1" stroke-width="1"/><path d="M1328 572.5L1317.2 574.5" stroke-width="1"/><path d="M1120 596.7L1125.3 595.7" stroke-width="1"/><path d="M1318.9 560.2L1313.5 561.2" stroke-width="1"/><path d="M1110.9 585.3L1110.9 414.3" stroke-width="2.5"/><path d="M1110.9 555.3L1116.5 554.3" stroke-width="1"/><path d="M1110.9 526.3L1122.6 524.2" stroke-width="1"/><path d="M1110.9 497.3L1116.5 496.3" stroke-width="1"/><path d="M1110.9 468.3L1122.6 466.2" stroke-width="1"/><path d="M1110.9 439.3L1116.5 438.3" stroke-width="1"/></g>
<text transform="matrix(0 -0.866 1.046 -0.192 1100.9 528.6)" font-size="20.8" text-anchor="middle">2000</text>
<text transform="matrix(0 -0.866 1.046 -0.192 1100.9 470.6)" font-size="20.8" text-anchor="middle">4000</text>
<text transform="matrix(0.934 -0.171 0.341 0.465 1192.5 695.6)" font-size="20.4" text-anchor="middle">4</text><text transform="matrix(0.934 -0.171 0.341 0.465 1242.3 686.5)" font-size="20.4" text-anchor="middle">5</text><text transform="matrix(0.934 -0.171 0.341 0.465 1292 677.4)" font-size="20.4" text-anchor="middle">6</text><text transform="matrix(0.934 -0.171 0.341 0.465 1341.7 668.2)" font-size="20.4" text-anchor="middle">7</text><text transform="matrix(0.934 -0.171 0.341 0.465 1391.4 659.1)" font-size="20.4" text-anchor="middle">8</text><text transform="matrix(0.341 0.465 -0.934 0.171 1158.3 687.9)" font-size="20.4" text-anchor="middle">0</text><text transform="matrix(0.341 0.465 -0.934 0.171 1140.1 663.2)" font-size="20.4" text-anchor="middle">100</text><text transform="matrix(0.341 0.465 -0.934 0.171 1122 638.4)" font-size="20.4" text-anchor="middle">200</text><text transform="matrix(0.341 0.465 -0.934 0.171 1103.8 613.7)" font-size="20.4" text-anchor="middle">300</text><text transform="matrix(0.341 0.465 -0.934 0.171 1085.7 588.9)" font-size="20.4" text-anchor="middle">400</text>
<g stroke="#000" stroke-width="0.4" stroke-linejoin="round"><path fill="#ff0000" d="M1340.9 609.2l12.5-2.3l-1.9-2.5l-12.4 2.3zM1342.7 611.7l12.5-2.3l-1.8-2.5l-12.5 2.3zM1344.6 614.1l12.4-2.2l-1.8-2.5l-12.5 2.3zM1332.1 616.4l12.5-2.3l-1.9-2.4l-12.4 2.2zM1346.4 616.6l12.4-2.3l-1.8-2.4l-12.4 2.2zM1333.9 618.9l12.5-2.3l-1.8-2.5l-12.5 2.3zM1348.2 619.1l12.4-2.3l-1.8-2.5l-12.4 2.3zM1335.8 621.4l12.4-2.3l-1.8-2.5l-12.5 2.3zM1323.3 623.6l12.5-2.2l-1.9-2.5l-12.4 2.3zM1350 621.6l12.4-2.3l-1.8-2.5l-12.4 2.3zM1337.6 623.8l12.4-2.2l-1.8-2.5l-12.4 2.3zM1325.1 626.1l12.5-2.3l-1.8-2.4l-12.5 2.2zM1351.8 624l12.4-2.2l-1.8-2.5l-12.4 2.3zM1339.4 626.3l12.4-2.3l-1.8-2.4l-12.4 2.2zM1327 628.6l12.4-2.3l-1.8-2.5l-12.5 2.3zM1314.5 630.9l12.5-2.3l-1.9-2.5l-12.4 2.3zM1353.6 626.5l12.5-2.3l-1.9-2.4l-12.4 2.2zM1341.2 628.8l12.4-2.3l-1.8-2.5l-12.4 2.3zM1328.8 631.1l12.4-2.3l-1.8-2.5l-12.4 2.3zM1316.3 633.4l12.5-2.3l-1.8-2.5l-12.5 2.3zM1355.4 629l12.5-2.3l-1.8-2.5l-12.5 2.3zM1343 631.3l12.4-2.3l-1.8-2.5l-12.4 2.3zM1330.6 633.5l12.4-2.2l-1.8-2.5l-12.4 2.3zM1318.2 635.8l12.4-2.3l-1.8-2.4l-12.5 2.3zM1305.7 638.1l12.5-2.3l-1.9-2.4l-12.4 2.2zM1357.3 631.5l12.4-2.3l-1.8-2.5l-12.5 2.3zM1344.8 633.7l12.5-2.2l-1.9-2.5l-12.4 2.3zM1332.4 636l12.4-2.3l-1.8-2.4l-12.4 2.2zM1320 638.3l12.4-2.3l-1.8-2.5l-12.4 2.3zM1307.5 640.6l12.5-2.3l-1.8-2.5l-12.5 2.3zM1346.6 636.2l12.5-2.3l-1.8-2.4l-12.5 2.2zM1334.2 638.5l12.4-2.3l-1.8-2.5l-12.4 2.3zM1321.8 640.8l12.4-2.3l-1.8-2.5l-12.4 2.3zM1309.4 643.1l12.4-2.3l-1.8-2.5l-12.5 2.3zM1348.5 638.7l12.4-2.3l-1.8-2.5l-12.5 2.3zM1336 641l12.5-2.3l-1.9-2.5l-12.4 2.3zM1323.6 643.2l12.4-2.2l-1.8-2.5l-12.4 2.3zM1311.2 645.5l12.4-2.3l-1.8-2.4l-12.4 2.3zM1337.8 643.4l12.5-2.2l-1.8-2.5l-12.5 2.3z"/><path fill="#ff7373" d="M1300.6 650.6l12.4-2.3l0-8l-12.4 2.3z"/><path fill="#ff0000" d="M1300.6 642.6l12.4-2.3l-1.8-2.5l-12.5 2.3z"/><path fill="#a60000" d="M1288.1 652.9l-1.8-2.5l0-19.2l1.8 2.5z"/><path fill="#ff7373" d="M1288.1 652.9l12.5-2.3l0-19.2l-12.5 2.3z"/><path fill="#ff0000" d="M1288.1 633.7l12.5-2.3l-1.9-2.5l-12.4 2.3zM1339.7 645.9l12.4-2.3l-1.8-2.4l-12.5 2.2z"/><path fill="#ff7373" d="M1327.2 648.5l12.5-2.3l0-4l-12.5 2.3z"/><path fill="#ff0000" d="M1327.2 644.5l12.5-2.3l-1.9-2.5l-12.4 2.3zM1314.8 645.8l12.4-2.3l-1.8-2.5l-12.4 2.3z"/><path fill="#a60000" d="M1302.4 653.1l-1.8-2.5l0-7.6l1.8 2.5z"/><path fill="#ff7373" d="M1302.4 653.1l12.4-2.3l0-7.6l-12.4 2.3z"/><path fill="#ff0000" d="M1302.4 645.5l12.4-2.3l-1.8-2.5l-12.4 2.3z"/><path fill="#ff7373" d="M1289.9 655.3l12.5-2.2l0-7l-12.5 2.2z"/><path fill="#ff0000" d="M1289.9 648.3l12.5-2.2l-1.8-2.5l-12.5 2.3zM1366.3 643.8l12.5-2.3l-1.8-2.4l-12.5 2.3zM1353.9 646.1l12.4-2.3l-1.8-2.4l-12.4 2.2zM1341.5 648.4l12.4-2.3l-1.8-2.5l-12.4 2.3zM1329 650.7l12.5-2.3l-1.8-2.5l-12.5 2.3z"/><path fill="#a60000" d="M1316.6 653.3l-1.8-2.5l0-5l1.8 2.5z"/><path fill="#ff7373" d="M1316.6 653.3l12.4-2.3l0-5l-12.4 2.3z"/><path fill="#ff0000" d="M1316.6 648.3l12.4-2.3l-1.8-2.5l-12.4 2.3z"/><path fill="#ff7373" d="M1304.2 655.5l12.4-2.2l0-4l-12.4 2.2z"/><path fill="#ff0000" d="M1304.2 651.5l12.4-2.2l-1.8-2.5l-12.4 2.3z"/><path fill="#ff7373" d="M1291.8 657.8l12.4-2.3l0-4l-12.4 2.3z"/><path fill="#ff0000" d="M1291.8 653.8l12.4-2.3l-1.8-2.4l-12.5 2.2z"/><path fill="#ff7373" d="M1279.3 660.1l12.5-2.3l0-13.5l-12.5 2.3z"/><path fill="#ff0000" d="M1279.3 646.6l12.5-2.3l-1.9-2.5l-12.4 2.3z"/><path fill="#ff7373" d="M1266.9 662.4l12.4-2.3l0-27l-12.4 2.3z"/><path fill="#ff0000" d="M1266.9 635.4l12.4-2.3l-1.8-2.5l-12.4 2.3z"/><path fill="#ff7373" d="M1254.5 664.7l12.4-2.3l0-36.3l-12.4 2.3z"/><path fill="#ff0000" d="M1254.5 628.4l12.4-2.3l-1.8-2.5l-12.5 2.3z"/><path fill="#a60000" d="M1229.6 669.2l-1.8-2.4l0-66.8l1.8 2.4z"/><path fill="#ff7373" d="M1229.6 669.2l12.4-2.3l0-66.8l-12.4 2.3z"/><path fill="#ff0000" d="M1229.6 602.4l12.4-2.3l-1.8-2.4l-12.4 2.3z"/><path fill="#a60000" d="M1217.2 671.5l-1.9-2.5l0-46.6l1.9 2.5z"/><path fill="#ff7373" d="M1217.2 671.5l12.4-2.3l0-46.6l-12.4 2.3z"/><path fill="#ff0000" d="M1217.2 624.9l12.4-2.3l-1.8-2.5l-12.5 2.3zM1368.2 646.3l12.4-2.3l-1.8-2.5l-12.5 2.3zM1343.3 650.9l12.4-2.3l-1.8-2.5l-12.4 2.3zM1330.9 653.1l12.4-2.2l-1.8-2.5l-12.5 2.3zM1318.4 655.4l12.5-2.3l-1.9-2.4l-12.4 2.3zM1306 657.7l12.4-2.3l-1.8-2.4l-12.4 2.2zM1293.6 660l12.4-2.3l-1.8-2.5l-12.4 2.3z"/><path fill="#ff7373" d="M1281.1 662.6l12.5-2.3l0-5l-12.5 2.3z"/><path fill="#ff0000" d="M1281.1 657.6l12.5-2.3l-1.8-2.5l-12.5 2.3z"/><path fill="#ff7373" d="M1268.7 664.9l12.4-2.3l0-9.6l-12.4 2.3z"/><path fill="#ff0000" d="M1268.7 655.3l12.4-2.3l-1.8-2.5l-12.4 2.3z"/><path fill="#ff7373" d="M1256.3 667.1l12.4-2.2l0-14.5l-12.4 2.2z"/><path fill="#ff0000" d="M1256.3 652.6l12.4-2.2l-1.8-2.5l-12.4 2.3z"/><path fill="#a60000" d="M1243.8 669.4l-1.8-2.5l0-57.5l1.8 2.5z"/><path fill="#ff7373" d="M1243.8 669.4l12.5-2.3l0-57.5l-12.5 2.3z"/><path fill="#ff0000" d="M1243.8 611.9l12.5-2.3l-1.8-2.4l-12.5 2.2zM1370 648.8l12.4-2.3l-1.8-2.5l-12.4 2.3zM1357.5 651.1l12.5-2.3l-1.8-2.5l-12.5 2.3zM1295.4 662.5l12.4-2.3l-1.8-2.5l-12.4 2.3zM1283 664.8l12.4-2.3l-1.8-2.5l-12.5 2.3zM1270.5 667l12.5-2.2l-1.9-2.5l-12.4 2.3zM1258.1 669.3l12.4-2.3l-1.8-2.4l-12.4 2.2z"/><path fill="#ff7373" d="M1245.7 671.9l12.4-2.3l0-2l-12.4 2.3z"/><path fill="#ff0000" d="M1245.7 669.9l12.4-2.3l-1.8-2.5l-12.5 2.3z"/><path fill="#ff7373" d="M1233.2 674.2l12.5-2.3l0-2l-12.5 2.3z"/><path fill="#ff0000" d="M1233.2 672.2l12.5-2.3l-1.9-2.5l-12.4 2.3z"/><path fill="#ff7373" d="M1220.8 676.5l12.4-2.3l0-13.5l-12.4 2.3z"/><path fill="#ff0000" d="M1220.8 663l12.4-2.3l-1.8-2.5l-12.4 2.3z"/><path fill="#a60000" d="M1208.4 678.7l-1.9-2.4l0-16.7l1.9 2.4z"/><path fill="#ff7373" d="M1208.4 678.7l12.4-2.2l0-16.7l-12.4 2.2z"/><path fill="#ff0000" d="M1208.4 662l12.4-2.2l-1.8-2.5l-12.5 2.3zM1195.9 680.7l12.5-2.3l-1.9-2.4l-12.4 2.2z"/></g>

<g stroke="#000" stroke-linecap="butt"><path d="M276 965.8L474.9 929.3L402.3 830.3L203.4 866.8z" fill="none" stroke-width="2.5" stroke-linejoin="miter"/><path d="M325.7 956.7L321.8 951.3" stroke-width="1"/><path d="M253.1 857.7L257 863" stroke-width="1"/><path d="M375.4 947.5L371.5 942.2" stroke-width="1"/><path d="M302.9 848.5L306.8 853.9" stroke-width="1"/><path d="M425.2 938.4L421.3 933.1" stroke-width="1"/><path d="M352.6 839.4L356.5 844.8" stroke-width="1"/><path d="M266.9 953.4L272.3 952.4" stroke-width="1"/><path d="M465.8 916.9L460.5 917.9" stroke-width="1"/><path d="M257.9 941L268.6 939.1" stroke-width="1"/><path d="M456.8 904.5L446 906.5" stroke-width="1"/><path d="M248.8 928.7L254.1 927.7" stroke-width="1"/><path d="M447.7 892.2L442.3 893.2" stroke-width="1"/><path d="M239.7 916.3L250.4 914.3" stroke-width="1"/><path d="M438.6 879.8L427.9 881.8" stroke-width="1"/><path d="M230.6 903.9L236 902.9" stroke-width="1"/><path d="M429.5 867.4L424.2 868.4" stroke-width="1"/><path d="M221.6 891.5L232.3 889.6" stroke-width="1"/><path d="M420.4 855L409.7 857" stroke-width="1"/><path d="M212.5 879.2L217.8 878.2" stroke-width="1"/><path d="M411.4 842.7L406 843.7" stroke-width="1"/><path d="M203.4 867.8L203.4 696.8" stroke-width="2.5"/><path d="M203.4 856.8L209 855.8" stroke-width="1"/><path d="M203.4 851L209 849.9" stroke-width="1"/><path d="M203.4 846.8L209 845.8" stroke-width="1"/><path d="M203.4 843.6L209 842.6" stroke-width="1"/><path d="M203.4 841L209 839.9" stroke-width="1"/><path d="M203.4 838.7L209 837.7" stroke-width="1"/><path d="M203.4 836.8L209 835.8" stroke-width="1"/><path d="M203.4 835.1L209 834.1" stroke-width="1"/><path d="M203.4 833.6L215.1 831.5" stroke-width="1"/><path d="M203.4 823.6L209 822.6" stroke-width="1"/><path d="M203.4 817.8L209 816.7" stroke-width="1"/><path d="M203.4 813.6L209 812.6" stroke-width="1"/><path d="M203.4 810.4L209 809.4" stroke-width="1"/><path d="M203.4 807.8L209 806.7" stroke-width="1"/><path d="M203.4 805.5L209 804.5" stroke-width="1"/><path d="M203.4 803.6L209 802.6" stroke-width="1"/><path d="M203.4 801.9L209 800.9" stroke-width="1"/><path d="M203.4 800.4L215.1 798.3" stroke-width="1"/><path d="M203.4 790.4L209 789.4" stroke-width="1"/><path d="M203.4 784.6L209 783.5" stroke-width="1"/><path d="M203.4 780.4L209 779.4" stroke-width="1"/><path d="M203.4 777.2L209 776.2" stroke-width="1"/><path d="M203.4 774.6L209 773.5" stroke-width="1"/><path d="M203.4 772.3L209 771.3" stroke-width="1"/><path d="M203.4 770.4L209 769.4" stroke-width="1"/><path d="M203.4 768.7L209 767.7" stroke-width="1"/><path d="M203.4 767.2L215.1 765.1" stroke-width="1"/><path d="M203.4 757.2L209 756.2" stroke-width="1"/><path d="M203.4 751.4L209 750.3" stroke-width="1"/><path d="M203.4 747.2L209 746.2" stroke-width="1"/><path d="M203.4 744L209 743" stroke-width="1"/><path d="M203.4 741.4L209 740.3" stroke-width="1"/><path d="M203.4 739.1L209 738.1" stroke-width="1"/><path d="M203.4 737.2L209 736.2" stroke-width="1"/><path d="M203.4 735.5L209 734.5" stroke-width="1"/><path d="M203.4 734L215.1 731.9" stroke-width="1"/><path d="M203.4 724L209 723" stroke-width="1"/><path d="M203.4 718.2L209 717.1" stroke-width="1"/><path d="M203.4 714L209 713" stroke-width="1"/><path d="M203.4 710.8L209 709.8" stroke-width="1"/><path d="M203.4 708.2L209 707.1" stroke-width="1"/><path d="M203.4 705.9L209 704.9" stroke-width="1"/><path d="M203.4 704L209 703" stroke-width="1"/><path d="M203.4 702.3L209 701.3" stroke-width="1"/><path d="M203.4 700.8L215.1 698.7" stroke-width="1"/></g>
<text transform="matrix(0 -0.866 1.046 -0.192 193.4 833.6)" font-size="20.8" text-anchor="middle">10<tspan font-size="14.6" dy="-8">1</tspan></text>
<text transform="matrix(0 -0.866 1.046 -0.192 193.4 800.4)" font-size="20.8" text-anchor="middle">10<tspan font-size="14.6" dy="-8">2</tspan></text>
<text transform="matrix(0 -0.866 1.046 -0.192 193.4 767.2)" font-size="20.8" text-anchor="middle">10<tspan font-size="14.6" dy="-8">3</tspan></text>
<text transform="matrix(0 -0.866 1.046 -0.192 193.4 734)" font-size="20.8" text-anchor="middle">10<tspan font-size="14.6" dy="-8">4</tspan></text>
<text transform="matrix(0 -0.866 1.046 -0.192 193.4 700.8)" font-size="20.8" text-anchor="middle">10<tspan font-size="14.6" dy="-8">5</tspan></text>
<text transform="matrix(0.934 -0.171 0.341 0.465 285 978.1)" font-size="20.4" text-anchor="middle">4</text><text transform="matrix(0.934 -0.171 0.341 0.465 334.8 969)" font-size="20.4" text-anchor="middle">5</text><text transform="matrix(0.934 -0.171 0.341 0.465 384.5 959.9)" font-size="20.4" text-anchor="middle">6</text><text transform="matrix(0.934 -0.171 0.341 0.465 434.2 950.7)" font-size="20.4" text-anchor="middle">7</text><text transform="matrix(0.934 -0.171 0.341 0.465 483.9 941.6)" font-size="20.4" text-anchor="middle">8</text><text transform="matrix(0.341 0.465 -0.934 0.171 250.8 970.4)" font-size="20.4" text-anchor="middle">0</text><text transform="matrix(0.341 0.465 -0.934 0.171 232.6 945.7)" font-size="20.4" text-anchor="middle">100</text><text transform="matrix(0.341 0.465 -0.934 0.171 214.5 920.9)" font-size="20.4" text-anchor="middle">200</text><text transform="matrix(0.341 0.465 -0.934 0.171 196.3 896.2)" font-size="20.4" text-anchor="middle">300</text><text transform="matrix(0.341 0.465 -0.934 0.171 178.2 871.4)" font-size="20.4" text-anchor="middle">400</text>
<g stroke="#000" stroke-width="0.4" stroke-linejoin="round"><path fill="#808080" d="M391.7 835.1l12.4-2.3l0-91.6l-12.4 2.3z"/><path fill="#0d0d0d" d="M391.7 743.5l12.4-2.3l-1.8-2.4l-12.4 2.2z"/><path fill="#808080" d="M379.3 837.3l12.4-2.2l0-99.3l-12.4 2.3z"/><path fill="#0d0d0d" d="M379.3 738.1l12.4-2.3l-1.8-2.5l-12.5 2.3z"/><path fill="#808080" d="M366.8 839.6l12.5-2.3l0-99.3l-12.5 2.3z"/><path fill="#0d0d0d" d="M366.8 740.3l12.5-2.3l-1.9-2.4l-12.4 2.2z"/><path fill="#808080" d="M354.4 841.9l12.4-2.3l0-103.1l-12.4 2.3z"/><path fill="#0d0d0d" d="M354.4 738.8l12.4-2.3l-1.8-2.4l-12.4 2.2z"/><path fill="#0d0d0d" d="M342 844.2l-1.9-2.5l0-109.3l1.9 2.5z"/><path fill="#808080" d="M342 844.2l12.4-2.3l0-109.3l-12.4 2.3z"/><path fill="#0d0d0d" d="M342 734.9l12.4-2.3l-1.8-2.5l-12.5 2.3z"/><path fill="#0d0d0d" d="M329.5 846.5l-1.8-2.5l0-106.9l1.8 2.5z"/><path fill="#808080" d="M329.5 846.5l12.5-2.3l0-106.9l-12.5 2.3z"/><path fill="#0d0d0d" d="M329.5 739.6l12.5-2.3l-1.9-2.5l-12.4 2.3zM317.1 753.3l12.4-2.3l-1.8-2.5l-12.4 2.3z"/><path fill="#0d0d0d" d="M304.7 851l-1.8-2.5l0-80.7l1.8 2.5z"/><path fill="#0d0d0d" d="M304.7 770.3l12.4-2.3l-1.8-2.5l-12.4 2.3zM381.1 781.2l12.4-2.3l-1.8-2.5l-12.4 2.3zM368.6 768.8l12.5-2.2l-1.8-2.5l-12.5 2.3zM343.8 765.6l12.4-2.2l-1.8-2.5l-12.4 2.3z"/><path fill="#808080" d="M318.9 851.2l12.4-2.3l0-98.2l-12.4 2.3z"/><path fill="#0d0d0d" d="M318.9 753l12.4-2.3l-1.8-2.5l-12.4 2.3z"/><path fill="#808080" d="M395.3 840l12.4-2.3l0-58.7l-12.4 2.3z"/><path fill="#0d0d0d" d="M395.3 781.3l12.4-2.3l-1.8-2.5l-12.4 2.3z"/><path fill="#808080" d="M382.9 842.3l12.4-2.3l0-59.8l-12.4 2.3z"/><path fill="#0d0d0d" d="M382.9 782.5l12.4-2.3l-1.8-2.5l-12.4 2.3z"/><path fill="#0d0d0d" d="M358 846.8l-1.8-2.4l0-84.8l1.8 2.5z"/><path fill="#808080" d="M358 846.8l12.5-2.2l0-84.8l-12.5 2.3z"/><path fill="#0d0d0d" d="M358 762.1l12.5-2.3l-1.9-2.4l-12.4 2.2zM397.1 791.8l12.5-2.3l-1.9-2.4l-12.4 2.2zM372.3 769.9l12.4-2.3l-1.8-2.5l-12.4 2.3zM347.4 766.2l12.4-2.2l-1.8-2.5l-12.4 2.3zM335 759.5l12.4-2.3l-1.8-2.5l-12.4 2.3z"/><path fill="#808080" d="M398.9 845l12.5-2.3l0-51.3l-12.5 2.3z"/><path fill="#0d0d0d" d="M398.9 793.7l12.5-2.3l-1.8-2.4l-12.5 2.3z"/><path fill="#808080" d="M374.1 849.5l12.4-2.3l0-78.8l-12.4 2.2z"/><path fill="#0d0d0d" d="M374.1 770.6l12.4-2.2l-1.8-2.5l-12.4 2.3z"/><path fill="#808080" d="M336.8 856.4l12.4-2.3l0-94.5l-12.4 2.3z"/><path fill="#0d0d0d" d="M336.8 761.9l12.4-2.3l-1.8-2.5l-12.4 2.3z"/><path fill="#808080" d="M324.4 858.6l12.4-2.2l0-101.8l-12.4 2.3z"/><path fill="#0d0d0d" d="M324.4 756.9l12.4-2.3l-1.8-2.5l-12.5 2.3zM400.8 797.1l12.4-2.3l-1.8-2.5l-12.5 2.3z"/><path fill="#808080" d="M363.5 854.3l12.4-2.3l0-88.9l-12.4 2.3z"/><path fill="#0d0d0d" d="M363.5 765.4l12.4-2.3l-1.8-2.4l-12.4 2.2z"/><path fill="#0d0d0d" d="M351 856.6l-1.8-2.5l0-90.2l1.8 2.5z"/><path fill="#808080" d="M351 856.6l12.5-2.3l0-90.2l-12.5 2.3z"/><path fill="#0d0d0d" d="M351 766.4l12.5-2.3l-1.8-2.5l-12.5 2.3z"/><path fill="#808080" d="M328 863.6l12.4-2.3l0-103.6l-12.4 2.3z"/><path fill="#0d0d0d" d="M328 760l12.4-2.3l-1.8-2.5l-12.4 2.3z"/><path fill="#808080" d="M379.5 856.9l12.5-2.2l0-80.3l-12.5 2.2z"/><path fill="#0d0d0d" d="M379.5 776.6l12.5-2.2l-1.9-2.5l-12.4 2.3z"/><path fill="#808080" d="M329.8 866.1l12.4-2.3l0-102.9l-12.4 2.3z"/><path fill="#0d0d0d" d="M329.8 763.2l12.4-2.3l-1.8-2.4l-12.4 2.2z"/><path fill="#808080" d="M368.9 861.7l12.4-2.3l0-89.8l-12.4 2.2z"/><path fill="#0d0d0d" d="M368.9 771.8l12.4-2.2l-1.8-2.5l-12.4 2.3z"/><path fill="#0d0d0d" d="M306.8 873.1l-1.9-2.5l0-106.6l1.9 2.5z"/><path fill="#0d0d0d" d="M306.8 766.5l12.4-2.3l-1.8-2.5l-12.5 2.3z"/><path fill="#808080" d="M383.2 861.9l12.4-2.3l0-76.2l-12.4 2.3z"/><path fill="#0d0d0d" d="M383.2 785.7l12.4-2.3l-1.8-2.5l-12.5 2.3z"/><path fill="#808080" d="M370.7 864.2l12.5-2.3l0-85.8l-12.5 2.3z"/><path fill="#0d0d0d" d="M370.7 778.4l12.5-2.3l-1.9-2.4l-12.4 2.2z"/><path fill="#0d0d0d" d="M358.3 866.5l-1.8-2.5l0-95.7l1.8 2.5z"/><path fill="#808080" d="M358.3 866.5l12.4-2.3l0-95.7l-12.4 2.3z"/><path fill="#0d0d0d" d="M358.3 770.8l12.4-2.3l-1.8-2.4l-12.4 2.2z"/><path fill="#808080" d="M345.9 868.7l12.4-2.2l0-93.7l-12.4 2.3z"/><path fill="#0d0d0d" d="M345.9 775.1l12.4-2.3l-1.8-2.4l-12.5 2.2z"/><path fill="#808080" d="M321 873.3l12.4-2.3l0-116.1l-12.4 2.3z"/><path fill="#0d0d0d" d="M321 757.2l12.4-2.3l-1.8-2.5l-12.4 2.3z"/><path fill="#0d0d0d" d="M308.6 875.6l-1.8-2.5l0-111.8l1.8 2.5z"/><path fill="#0d0d0d" d="M308.6 763.8l12.4-2.3l-1.8-2.4l-12.4 2.2z"/><path fill="#0d0d0d" d="M409.8 859.8l-1.8-2.5l0-66.3l1.8 2.5z"/><path fill="#808080" d="M409.8 859.8l12.5-2.3l0-66.3l-12.5 2.3z"/><path fill="#0d0d0d" d="M409.8 793.5l12.5-2.3l-1.9-2.5l-12.4 2.3z"/><path fill="#808080" d="M397.4 862.1l12.4-2.3l0-63.9l-12.4 2.3z"/><path fill="#0d0d0d" d="M397.4 798.2l12.4-2.3l-1.8-2.5l-12.4 2.3z"/><path fill="#808080" d="M385 864.4l12.4-2.3l0-75.7l-12.4 2.3z"/><path fill="#0d0d0d" d="M385 788.7l12.4-2.3l-1.8-2.5l-12.4 2.3zM360.1 779.6l12.4-2.3l-1.8-2.5l-12.4 2.3zM347.7 779.8l12.4-2.3l-1.8-2.4l-12.4 2.3z"/><path fill="#0d0d0d" d="M335.2 873.5l-1.8-2.5l0-107.6l1.8 2.5z"/><path fill="#808080" d="M335.2 873.5l12.5-2.3l0-107.6l-12.5 2.3z"/><path fill="#0d0d0d" d="M335.2 765.9l12.5-2.3l-1.8-2.5l-12.5 2.3z"/><path fill="#808080" d="M322.8 875.8l12.4-2.3l0-106.3l-12.4 2.3z"/><path fill="#0d0d0d" d="M322.8 769.5l12.4-2.3l-1.8-2.5l-12.4 2.3z"/><path fill="#0d0d0d" d="M310.4 878.1l-1.8-2.5l0-117l1.8 2.5z"/><path fill="#0d0d0d" d="M411.6 803.1l12.5-2.3l-1.8-2.5l-12.5 2.3z"/><path fill="#808080" d="M361.9 871.4l12.5-2.3l0-90.3l-12.5 2.3z"/><path fill="#0d0d0d" d="M361.9 781.1l12.5-2.3l-1.9-2.4l-12.4 2.2z"/><path fill="#808080" d="M349.5 873.7l12.4-2.3l0-91.3l-12.4 2.3z"/><path fill="#0d0d0d" d="M349.5 782.4l12.4-2.3l-1.8-2.5l-12.4 2.3z"/><path fill="#0d0d0d" d="M337.1 876l-1.9-2.5l0-106.8l1.9 2.5z"/><path fill="#808080" d="M337.1 876l12.4-2.3l0-106.8l-12.4 2.3z"/><path fill="#0d0d0d" d="M337.1 769.2l12.4-2.3l-1.8-2.5l-12.5 2.3z"/><path fill="#0d0d0d" d="M312.2 880.5l-1.8-2.4l0-122.2l1.8 2.4z"/><path fill="#0d0d0d" d="M312.2 758.3l12.4-2.3l-1.8-2.4l-12.4 2.3z"/><path fill="#808080" d="M413.5 864.8l12.4-2.3l0-59.4l-12.4 2.3z"/><path fill="#0d0d0d" d="M413.5 805.4l12.4-2.3l-1.8-2.4l-12.5 2.2z"/><path fill="#808080" d="M363.7 873.9l12.5-2.3l0-88.4l-12.5 2.3z"/><path fill="#0d0d0d" d="M363.7 785.5l12.5-2.3l-1.8-2.4l-12.5 2.2z"/><path fill="#0d0d0d" d="M314 883l-1.8-2.5l0-126.4l1.8 2.5z"/><path fill="#0d0d0d" d="M314 756.6l12.4-2.3l-1.8-2.5l-12.4 2.3zM415.3 808.4l12.4-2.3l-1.8-2.5l-12.4 2.3z"/><path fill="#808080" d="M390.4 871.8l12.4-2.3l0-79.9l-12.4 2.3z"/><path fill="#0d0d0d" d="M390.4 791.9l12.4-2.3l-1.8-2.4l-12.4 2.2z"/><path fill="#0d0d0d" d="M378 874.1l-1.8-2.5l0-87.1l1.8 2.5z"/><path fill="#808080" d="M378 874.1l12.4-2.3l0-87.1l-12.4 2.3z"/><path fill="#0d0d0d" d="M378 787l12.4-2.3l-1.8-2.5l-12.4 2.3z"/><path fill="#808080" d="M353.1 878.6l12.5-2.2l0-93.7l-12.5 2.2z"/><path fill="#0d0d0d" d="M353.1 784.9l12.5-2.2l-1.9-2.5l-12.4 2.3z"/><path fill="#0d0d0d" d="M340.7 880.9l-1.8-2.5l0-110.4l1.8 2.4z"/><path fill="#808080" d="M340.7 880.9l12.4-2.3l0-110.4l-12.4 2.2z"/><path fill="#0d0d0d" d="M340.7 770.4l12.4-2.2l-1.8-2.5l-12.4 2.3z"/><path fill="#0d0d0d" d="M315.8 885.5l-1.8-2.5l0-132l1.8 2.5z"/><path fill="#808080" d="M315.8 885.5l12.5-2.3l0-132l-12.5 2.3z"/><path fill="#0d0d0d" d="M315.8 753.5l12.5-2.3l-1.9-2.4l-12.4 2.2zM417.1 809l12.4-2.3l-1.8-2.4l-12.4 2.2zM392.2 801.3l12.5-2.3l-1.9-2.5l-12.4 2.3z"/><path fill="#808080" d="M379.8 876.5l12.4-2.2l0-80.7l-12.4 2.3z"/><path fill="#0d0d0d" d="M379.8 795.9l12.4-2.3l-1.8-2.5l-12.4 2.3z"/><path fill="#808080" d="M354.9 881.1l12.5-2.3l0-91.6l-12.5 2.3z"/><path fill="#0d0d0d" d="M354.9 789.5l12.5-2.3l-1.8-2.4l-12.5 2.2zM342.5 787l12.4-2.3l-1.8-2.5l-12.4 2.3zM330.1 773.9l12.4-2.3l-1.8-2.4l-12.4 2.2zM418.9 810.6l12.4-2.3l-1.8-2.5l-12.4 2.3z"/><path fill="#808080" d="M369.2 881.3l12.4-2.3l0-87.4l-12.4 2.3z"/><path fill="#0d0d0d" d="M369.2 793.9l12.4-2.3l-1.8-2.4l-12.4 2.2z"/><path fill="#808080" d="M331.9 888.1l12.4-2.2l0-112.5l-12.4 2.3z"/><path fill="#0d0d0d" d="M331.9 775.7l12.4-2.3l-1.8-2.5l-12.4 2.3z"/><path fill="#0d0d0d" d="M319.5 890.4l-1.9-2.4l0-134.7l1.9 2.5z"/><path fill="#808080" d="M319.5 890.4l12.4-2.3l0-134.6l-12.4 2.3z"/><path fill="#0d0d0d" d="M319.5 755.8l12.4-2.3l-1.8-2.5l-12.5 2.3z"/><path fill="#808080" d="M420.7 874.7l12.5-2.3l0-62.2l-12.5 2.3z"/><path fill="#0d0d0d" d="M420.7 812.5l12.5-2.3l-1.9-2.5l-12.4 2.3zM371 799.6l12.4-2.3l-1.8-2.5l-12.4 2.3z"/><path fill="#808080" d="M346.1 888.3l12.5-2.2l0-100.4l-12.5 2.3z"/><path fill="#0d0d0d" d="M346.1 788l12.5-2.3l-1.8-2.4l-12.5 2.2z"/><path fill="#808080" d="M321.3 892.9l12.4-2.3l0-122.3l-12.4 2.3z"/><path fill="#0d0d0d" d="M321.3 770.6l12.4-2.3l-1.8-2.5l-12.4 2.3z"/><path fill="#808080" d="M422.5 877.1l12.5-2.3l0-60.9l-12.5 2.3z"/><path fill="#0d0d0d" d="M422.5 816.2l12.5-2.3l-1.8-2.5l-12.5 2.3zM372.8 801.4l12.4-2.3l-1.8-2.5l-12.4 2.3z"/><path fill="#808080" d="M360.4 888.5l12.4-2.2l0-96.4l-12.4 2.3z"/><path fill="#0d0d0d" d="M360.4 792.2l12.4-2.3l-1.8-2.4l-12.4 2.2z"/><path fill="#808080" d="M335.5 893.1l12.5-2.3l0-107.1l-12.5 2.3z"/><path fill="#0d0d0d" d="M335.5 786l12.5-2.3l-1.9-2.5l-12.4 2.3z"/><path fill="#0d0d0d" d="M310.7 897.7l-1.9-2.5l0-137l1.9 2.5z"/><path fill="#808080" d="M310.7 897.7l12.4-2.3l0-137l-12.4 2.3z"/><path fill="#0d0d0d" d="M310.7 760.7l12.4-2.3l-1.8-2.5l-12.5 2.3z"/><path fill="#808080" d="M424.4 879.6l12.4-2.3l0-54.8l-12.4 2.3z"/><path fill="#0d0d0d" d="M424.4 824.8l12.4-2.3l-1.8-2.5l-12.5 2.3z"/><path fill="#808080" d="M374.6 888.7l12.5-2.3l0-86.2l-12.5 2.3z"/><path fill="#0d0d0d" d="M374.6 802.5l12.5-2.3l-1.9-2.5l-12.4 2.3zM337.3 790.1l12.5-2.3l-1.8-2.5l-12.5 2.3zM324.9 778l12.4-2.3l-1.8-2.4l-12.4 2.3z"/><path fill="#808080" d="M426.2 882.1l12.4-2.3l0-53.7l-12.4 2.3z"/><path fill="#0d0d0d" d="M426.2 828.4l12.4-2.3l-1.8-2.5l-12.4 2.3z"/><path fill="#0d0d0d" d="M388.9 888.9l-1.8-2.5l0-87.5l1.8 2.5z"/><path fill="#808080" d="M388.9 888.9l12.4-2.3l0-87.5l-12.4 2.3z"/><path fill="#0d0d0d" d="M388.9 801.4l12.4-2.3l-1.8-2.5l-12.4 2.3zM364 802.7l12.4-2.2l-1.8-2.5l-12.4 2.3z"/><path fill="#808080" d="M351.6 895.8l12.4-2.3l0-102.4l-12.4 2.2z"/><path fill="#0d0d0d" d="M351.6 793.3l12.4-2.2l-1.8-2.5l-12.4 2.3zM339.1 789.9l12.5-2.3l-1.8-2.5l-12.5 2.3z"/><path fill="#808080" d="M326.7 900.3l12.4-2.3l0-120.8l-12.4 2.3z"/><path fill="#0d0d0d" d="M326.7 779.5l12.4-2.3l-1.8-2.4l-12.4 2.3z"/><path fill="#0d0d0d" d="M314.3 902.6l-1.8-2.5l0-131.1l1.8 2.4z"/><path fill="#0d0d0d" d="M314.3 771.4l12.4-2.2l-1.8-2.5l-12.4 2.3z"/><path fill="#808080" d="M428 884.6l12.4-2.3l0-49.5l-12.4 2.2z"/><path fill="#0d0d0d" d="M428 835l12.4-2.2l-1.8-2.5l-12.4 2.3zM415.6 822.7l12.4-2.3l-1.8-2.5l-12.5 2.3z"/><path fill="#0d0d0d" d="M403.1 889.1l-1.8-2.5l0-87.7l1.8 2.4z"/><path fill="#808080" d="M403.1 889.1l12.5-2.3l0-87.7l-12.5 2.2z"/><path fill="#0d0d0d" d="M403.1 801.3l12.5-2.2l-1.9-2.5l-12.4 2.3z"/><path fill="#808080" d="M390.7 891.4l12.4-2.3l0-78.7l-12.4 2.3z"/><path fill="#0d0d0d" d="M390.7 812.7l12.4-2.3l-1.8-2.5l-12.4 2.3z"/><path fill="#808080" d="M378.3 893.7l12.4-2.3l0-83.9l-12.4 2.3z"/><path fill="#0d0d0d" d="M378.3 809.8l12.4-2.3l-1.8-2.5l-12.5 2.3zM353.4 801.8l12.4-2.3l-1.8-2.4l-12.4 2.2z"/><path fill="#808080" d="M328.5 902.8l12.5-2.3l0-120.1l-12.5 2.3z"/><path fill="#0d0d0d" d="M328.5 782.7l12.5-2.3l-1.9-2.5l-12.4 2.3z"/><path fill="#0d0d0d" d="M316.1 905.1l-1.8-2.5l0-133.6l1.8 2.5z"/><path fill="#0d0d0d" d="M316.1 771.5l12.4-2.3l-1.8-2.5l-12.4 2.3zM429.8 841.7l12.4-2.3l-1.8-2.5l-12.4 2.3z"/><path fill="#808080" d="M417.4 889.3l12.4-2.3l0-66l-12.4 2.3z"/><path fill="#0d0d0d" d="M417.4 823.3l12.4-2.3l-1.8-2.5l-12.4 2.3zM392.5 815.2l12.4-2.3l-1.8-2.5l-12.4 2.3zM380.1 816.4l12.4-2.3l-1.8-2.4l-12.4 2.3z"/><path fill="#808080" d="M367.6 898.4l12.5-2.2l0-95.1l-12.5 2.2z"/><path fill="#0d0d0d" d="M367.6 803.3l12.5-2.2l-1.8-2.5l-12.5 2.3z"/><path fill="#0d0d0d" d="M317.9 907.6l-1.8-2.5l0-144.5l1.8 2.4z"/><path fill="#808080" d="M317.9 907.6l12.4-2.3l0-144.5l-12.4 2.2z"/><path fill="#0d0d0d" d="M317.9 763l12.4-2.2l-1.8-2.5l-12.4 2.3z"/><path fill="#808080" d="M419.2 891.8l12.4-2.3l0-62.6l-12.4 2.3z"/><path fill="#0d0d0d" d="M419.2 829.2l12.4-2.3l-1.8-2.4l-12.4 2.2z"/><path fill="#0d0d0d" d="M406.8 894.1l-1.9-2.5l0-85.3l1.9 2.5z"/><path fill="#808080" d="M406.8 894.1l12.4-2.3l0-85.3l-12.4 2.3z"/><path fill="#0d0d0d" d="M406.8 808.8l12.4-2.3l-1.8-2.4l-12.5 2.2z"/><path fill="#808080" d="M357 903.2l12.5-2.3l0-100.7l-12.5 2.3z"/><path fill="#0d0d0d" d="M357 802.5l12.5-2.3l-1.9-2.5l-12.4 2.3z"/><path fill="#808080" d="M332.2 907.8l12.4-2.3l0-122.2l-12.4 2.3z"/><path fill="#0d0d0d" d="M332.2 785.6l12.4-2.3l-1.8-2.5l-12.5 2.3z"/><path fill="#0d0d0d" d="M307.3 912.3l-1.8-2.5l0-133l1.8 2.5z"/><path fill="#0d0d0d" d="M307.3 779.3l12.4-2.3l-1.8-2.4l-12.4 2.2z"/><path fill="#808080" d="M433.4 892l12.5-2.3l0-44.8l-12.5 2.3z"/><path fill="#0d0d0d" d="M433.4 847.2l12.5-2.3l-1.9-2.5l-12.4 2.3z"/><path fill="#808080" d="M421 894.3l12.4-2.3l0-61.7l-12.4 2.3z"/><path fill="#0d0d0d" d="M421 832.6l12.4-2.3l-1.8-2.5l-12.4 2.3zM408.6 815.5l12.4-2.2l-1.8-2.5l-12.4 2.3z"/><path fill="#808080" d="M396.1 898.8l12.5-2.3l0-82.2l-12.5 2.3z"/><path fill="#0d0d0d" d="M396.1 816.6l12.5-2.3l-1.8-2.5l-12.5 2.3z"/><path fill="#808080" d="M383.7 901.1l12.4-2.3l0-82.5l-12.4 2.3z"/><path fill="#0d0d0d" d="M383.7 818.6l12.4-2.3l-1.8-2.5l-12.4 2.3z"/><path fill="#808080" d="M371.3 903.4l12.4-2.3l0-94.2l-12.4 2.3z"/><path fill="#0d0d0d" d="M371.3 809.2l12.4-2.3l-1.8-2.5l-12.4 2.3z"/><path fill="#808080" d="M346.4 907.9l12.4-2.2l0-116.7l-12.4 2.3z"/><path fill="#0d0d0d" d="M346.4 791.3l12.4-2.3l-1.8-2.4l-12.4 2.2z"/><path fill="#808080" d="M334 910.2l12.4-2.3l0-119.8l-12.4 2.3z"/><path fill="#0d0d0d" d="M334 790.4l12.4-2.3l-1.8-2.5l-12.4 2.3zM321.5 782.2l12.5-2.3l-1.8-2.5l-12.5 2.3zM435.2 851.9l12.5-2.3l-1.8-2.5l-12.5 2.3zM373.1 813.4l12.4-2.3l-1.8-2.5l-12.4 2.3zM360.7 810.3l12.4-2.3l-1.8-2.5l-12.5 2.3zM335.8 796.1l12.4-2.2l-1.8-2.5l-12.4 2.3z"/><path fill="#0d0d0d" d="M310.9 917.3l-1.8-2.5l0-143.1l1.8 2.5z"/><path fill="#0d0d0d" d="M310.9 774.2l12.5-2.3l-1.9-2.4l-12.4 2.2z"/><path fill="#808080" d="M437.1 896.9l12.4-2.3l0-45l-12.4 2.2z"/><path fill="#0d0d0d" d="M437.1 851.8l12.4-2.2l-1.8-2.5l-12.5 2.3z"/><path fill="#808080" d="M424.6 899.2l12.5-2.3l0-64.2l-12.5 2.3z"/><path fill="#0d0d0d" d="M424.6 835l12.5-2.3l-1.9-2.4l-12.4 2.2z"/><path fill="#808080" d="M412.2 901.5l12.4-2.3l0-86.5l-12.4 2.3z"/><path fill="#0d0d0d" d="M412.2 815l12.4-2.3l-1.8-2.4l-12.4 2.2z"/><path fill="#808080" d="M387.3 906.1l12.5-2.3l0-84.8l-12.5 2.3z"/><path fill="#0d0d0d" d="M387.3 821.3l12.5-2.3l-1.9-2.4l-12.4 2.2z"/><path fill="#808080" d="M374.9 908.3l12.4-2.2l0-94.3l-12.4 2.2z"/><path fill="#0d0d0d" d="M374.9 814l12.4-2.2l-1.8-2.5l-12.4 2.3z"/><path fill="#808080" d="M362.5 910.6l12.4-2.3l0-98.2l-12.4 2.2z"/><path fill="#0d0d0d" d="M362.5 812.3l12.4-2.2l-1.8-2.5l-12.4 2.3zM350 807.3l12.5-2.3l-1.8-2.4l-12.5 2.2z"/><path fill="#808080" d="M325.2 917.5l12.4-2.3l0-133.8l-12.4 2.3z"/><path fill="#0d0d0d" d="M325.2 783.7l12.4-2.3l-1.8-2.5l-12.4 2.3z"/><path fill="#0d0d0d" d="M312.7 919.7l-1.8-2.4l0-146.8l1.8 2.5z"/><path fill="#808080" d="M312.7 919.7l12.5-2.2l0-146.8l-12.5 2.3z"/><path fill="#0d0d0d" d="M312.7 773l12.5-2.3l-1.8-2.4l-12.5 2.2zM438.9 859.2l12.4-2.3l-1.8-2.5l-12.4 2.3z"/><path fill="#808080" d="M426.4 901.7l12.5-2.3l0-62.6l-12.5 2.2z"/><path fill="#0d0d0d" d="M426.4 839l12.5-2.2l-1.8-2.5l-12.5 2.3z"/><path fill="#0d0d0d" d="M401.6 906.2l-1.8-2.4l0-89.3l1.8 2.5z"/><path fill="#808080" d="M401.6 906.2l12.4-2.2l0-89.3l-12.4 2.3z"/><path fill="#0d0d0d" d="M401.6 817l12.4-2.3l-1.8-2.4l-12.4 2.2zM389.1 824.8l12.5-2.3l-1.8-2.4l-12.5 2.3z"/><path fill="#808080" d="M364.3 913.1l12.4-2.3l0-95.6l-12.4 2.3z"/><path fill="#0d0d0d" d="M364.3 817.5l12.4-2.3l-1.8-2.5l-12.4 2.3zM339.4 797.2l12.5-2.3l-1.9-2.4l-12.4 2.2z"/><path fill="#808080" d="M314.6 922.2l12.4-2.3l0-139.9l-12.4 2.2z"/><path fill="#0d0d0d" d="M314.6 782.2l12.4-2.2l-1.8-2.5l-12.5 2.3z"/><path fill="#808080" d="M302.1 924.5l12.5-2.3l0-142.3l-12.5 2.3z"/><path fill="#0d0d0d" d="M302.1 782.2l12.5-2.3l-1.9-2.5l-12.4 2.3z"/><path fill="#808080" d="M440.7 901.9l12.4-2.3l0-41.8l-12.4 2.3z"/><path fill="#0d0d0d" d="M440.7 860.1l12.4-2.3l-1.8-2.5l-12.4 2.3zM403.4 827.3l12.4-2.3l-1.8-2.5l-12.4 2.3z"/><path fill="#808080" d="M391 911l12.4-2.3l0-85.6l-12.4 2.2z"/><path fill="#0d0d0d" d="M391 825.3l12.4-2.2l-1.8-2.5l-12.5 2.3zM378.5 819.8l12.5-2.2l-1.9-2.5l-12.4 2.3z"/><path fill="#808080" d="M328.8 922.4l12.4-2.3l0-132.8l-12.4 2.3z"/><path fill="#0d0d0d" d="M328.8 789.6l12.4-2.3l-1.8-2.5l-12.4 2.3zM316.4 790.6l12.4-2.3l-1.8-2.5l-12.4 2.3z"/><path fill="#0d0d0d" d="M291.5 929.3l-1.8-2.5l0-152.3l1.8 2.5z"/><path fill="#0d0d0d" d="M291.5 777l12.4-2.3l-1.8-2.5l-12.4 2.3z"/><path fill="#808080" d="M442.5 904.4l12.4-2.3l0-37.4l-12.4 2.3z"/><path fill="#0d0d0d" d="M442.5 867l12.4-2.3l-1.8-2.5l-12.4 2.3z"/><path fill="#808080" d="M430.1 906.6l12.4-2.2l0-64.2l-12.4 2.3z"/><path fill="#0d0d0d" d="M430.1 842.5l12.4-2.3l-1.8-2.5l-12.4 2.3zM417.6 834.3l12.5-2.2l-1.8-2.5l-12.5 2.3zM367.9 822.3l12.4-2.3l-1.8-2.5l-12.4 2.3z"/><path fill="#808080" d="M355.5 920.3l12.4-2.3l0-112.1l-12.4 2.3z"/><path fill="#0d0d0d" d="M355.5 808.2l12.4-2.3l-1.8-2.5l-12.4 2.3z"/><path fill="#808080" d="M330.6 924.9l12.5-2.3l0-126.3l-12.5 2.3z"/><path fill="#0d0d0d" d="M330.6 798.6l12.5-2.3l-1.9-2.5l-12.4 2.3z"/><path fill="#808080" d="M305.8 929.4l12.4-2.2l0-141.5l-12.4 2.3z"/><path fill="#0d0d0d" d="M305.8 788l12.4-2.3l-1.8-2.4l-12.5 2.2z"/><path fill="#0d0d0d" d="M293.3 931.7l-1.8-2.4l0-158.3l1.8 2.5z"/><path fill="#808080" d="M293.3 931.7l12.5-2.3l0-158.2l-12.5 2.3z"/><path fill="#0d0d0d" d="M293.3 773.5l12.5-2.3l-1.9-2.5l-12.4 2.3z"/><path fill="#808080" d="M444.3 906.8l12.5-2.3l0-34l-12.5 2.3z"/><path fill="#0d0d0d" d="M444.3 872.8l12.5-2.3l-1.9-2.4l-12.4 2.3z"/><path fill="#808080" d="M431.9 909.1l12.4-2.3l0-58.2l-12.4 2.2z"/><path fill="#0d0d0d" d="M431.9 850.8l12.4-2.2l-1.8-2.5l-12.4 2.3zM419.5 836.1l12.4-2.2l-1.8-2.5l-12.5 2.3z"/><path fill="#808080" d="M407 913.7l12.5-2.3l0-85.3l-12.5 2.3z"/><path fill="#0d0d0d" d="M407 828.4l12.5-2.3l-1.9-2.5l-12.4 2.3z"/><path fill="#0d0d0d" d="M382.2 918.2l-1.9-2.4l0-99.9l1.9 2.5z"/><path fill="#808080" d="M382.2 918.2l12.4-2.2l0-99.9l-12.4 2.3z"/><path fill="#0d0d0d" d="M382.2 818.4l12.4-2.3l-1.8-2.4l-12.5 2.2z"/><path fill="#808080" d="M369.7 920.5l12.5-2.3l0-97.1l-12.5 2.3z"/><path fill="#0d0d0d" d="M369.7 823.4l12.5-2.3l-1.9-2.4l-12.4 2.2z"/><path fill="#808080" d="M357.3 922.8l12.4-2.3l0-102.8l-12.4 2.2z"/><path fill="#0d0d0d" d="M357.3 819.9l12.4-2.2l-1.8-2.5l-12.4 2.3z"/><path fill="#0d0d0d" d="M344.9 925.1l-1.8-2.5l0-126.6l1.8 2.5z"/><path fill="#808080" d="M344.9 925.1l12.4-2.3l0-126.6l-12.4 2.3z"/><path fill="#0d0d0d" d="M344.9 798.5l12.4-2.3l-1.8-2.5l-12.4 2.3z"/><path fill="#808080" d="M320 929.6l12.4-2.2l0-139l-12.4 2.3z"/><path fill="#0d0d0d" d="M320 790.7l12.4-2.3l-1.8-2.5l-12.4 2.3z"/><path fill="#808080" d="M295.1 934.2l12.5-2.3l0-150.7l-12.5 2.3z"/><path fill="#0d0d0d" d="M295.1 783.5l12.5-2.3l-1.8-2.4l-12.5 2.2z"/><path fill="#808080" d="M446.1 909.3l12.5-2.3l0-22.8l-12.5 2.3z"/><path fill="#0d0d0d" d="M446.1 886.5l12.5-2.3l-1.8-2.4l-12.5 2.2z"/><path fill="#808080" d="M433.7 911.6l12.4-2.3l0-58l-12.4 2.3z"/><path fill="#0d0d0d" d="M433.7 853.6l12.4-2.3l-1.8-2.5l-12.4 2.3zM421.3 838.3l12.4-2.3l-1.8-2.4l-12.4 2.2z"/><path fill="#808080" d="M408.8 916.1l12.5-2.2l0-79l-12.5 2.3z"/><path fill="#0d0d0d" d="M408.8 837.2l12.5-2.3l-1.8-2.5l-12.5 2.3z"/><path fill="#808080" d="M396.4 918.4l12.4-2.3l0-90.3l-12.4 2.2z"/><path fill="#0d0d0d" d="M396.4 828l12.4-2.2l-1.8-2.5l-12.4 2.3z"/><path fill="#0d0d0d" d="M384 920.7l-1.8-2.5l0-98.5l1.8 2.5z"/><path fill="#808080" d="M384 920.7l12.4-2.3l0-98.5l-12.4 2.3z"/><path fill="#0d0d0d" d="M384 822.2l12.4-2.3l-1.8-2.5l-12.4 2.3z"/><path fill="#808080" d="M359.1 925.3l12.4-2.3l0-99.6l-12.4 2.2z"/><path fill="#0d0d0d" d="M359.1 825.6l12.4-2.2l-1.8-2.5l-12.4 2.3z"/><path fill="#808080" d="M334.3 929.8l12.4-2.2l0-127.8l-12.4 2.2z"/><path fill="#0d0d0d" d="M334.3 802l12.4-2.2l-1.8-2.5l-12.5 2.3z"/><path fill="#808080" d="M321.8 932.1l12.5-2.3l0-133.3l-12.5 2.3z"/><path fill="#0d0d0d" d="M321.8 798.8l12.5-2.3l-1.9-2.5l-12.4 2.3zM309.4 790.8l12.4-2.3l-1.8-2.5l-12.4 2.3z"/><path fill="#808080" d="M447.9 911.8l12.5-2.3l0-9.2l-12.5 2.3z"/><path fill="#0d0d0d" d="M447.9 902.6l12.5-2.3l-1.8-2.5l-12.5 2.3z"/><path fill="#808080" d="M435.5 914.1l12.4-2.3l0-48.7l-12.4 2.3z"/><path fill="#0d0d0d" d="M435.5 865.4l12.4-2.3l-1.8-2.5l-12.4 2.3z"/><path fill="#808080" d="M423.1 916.3l12.4-2.2l0-75.7l-12.4 2.2z"/><path fill="#0d0d0d" d="M423.1 840.6l12.4-2.2l-1.8-2.5l-12.4 2.3z"/><path fill="#808080" d="M410.7 918.6l12.4-2.3l0-78.5l-12.4 2.3z"/><path fill="#0d0d0d" d="M410.7 840.1l12.4-2.3l-1.8-2.5l-12.5 2.3z"/><path fill="#808080" d="M398.2 920.9l12.5-2.3l0-87.4l-12.5 2.3z"/><path fill="#0d0d0d" d="M398.2 833.5l12.5-2.3l-1.9-2.4l-12.4 2.2zM385.8 832.4l12.4-2.3l-1.8-2.5l-12.4 2.3z"/><path fill="#808080" d="M336.1 932.3l12.4-2.3l0-124.8l-12.4 2.3z"/><path fill="#0d0d0d" d="M336.1 807.5l12.4-2.3l-1.8-2.5l-12.4 2.3zM323.6 801.9l12.5-2.2l-1.8-2.5l-12.5 2.3z"/><path fill="#808080" d="M311.2 936.9l12.4-2.3l0-146.4l-12.4 2.3z"/><path fill="#0d0d0d" d="M311.2 790.5l12.4-2.3l-1.8-2.4l-12.4 2.2z"/><path fill="#808080" d="M298.8 939.2l12.4-2.3l0-150.2l-12.4 2.3z"/><path fill="#0d0d0d" d="M298.8 789l12.4-2.3l-1.8-2.5l-12.4 2.3zM273.9 782.6l12.4-2.3l-1.8-2.5l-12.4 2.3z"/><path fill="#808080" d="M437.3 916.5l12.5-2.2l0-30l-12.5 2.2z"/><path fill="#0d0d0d" d="M437.3 886.5l12.5-2.2l-1.9-2.5l-12.4 2.3z"/><path fill="#808080" d="M424.9 918.8l12.4-2.3l0-41l-12.4 2.3z"/><path fill="#0d0d0d" d="M424.9 877.8l12.4-2.3l-1.8-2.4l-12.4 2.2zM412.5 848.6l12.4-2.3l-1.8-2.5l-12.4 2.3z"/><path fill="#0d0d0d" d="M387.6 925.7l-1.8-2.5l0-101l1.8 2.5z"/><path fill="#808080" d="M387.6 925.7l12.4-2.3l0-101l-12.4 2.3z"/><path fill="#0d0d0d" d="M387.6 824.7l12.4-2.3l-1.8-2.5l-12.4 2.3z"/><path fill="#808080" d="M375.2 927.9l12.4-2.2l0-93.8l-12.4 2.3z"/><path fill="#0d0d0d" d="M375.2 834.2l12.4-2.3l-1.8-2.5l-12.4 2.3z"/><path fill="#808080" d="M362.7 930.2l12.5-2.3l0-97.1l-12.5 2.3z"/><path fill="#0d0d0d" d="M362.7 833.1l12.5-2.3l-1.8-2.5l-12.5 2.3z"/><path fill="#808080" d="M300.6 941.6l12.4-2.3l0-149.7l-12.4 2.3z"/><path fill="#0d0d0d" d="M300.6 791.9l12.4-2.3l-1.8-2.5l-12.4 2.3z"/><path fill="#808080" d="M288.2 943.9l12.4-2.3l0-159.6l-12.4 2.3z"/><path fill="#0d0d0d" d="M288.2 784.3l12.4-2.3l-1.8-2.5l-12.5 2.3zM275.7 782.3l12.5-2.3l-1.9-2.5l-12.4 2.3z"/><path fill="#808080" d="M426.7 921.3l12.4-2.3l0-39.2l-12.4 2.3z"/><path fill="#0d0d0d" d="M426.7 882.1l12.4-2.3l-1.8-2.5l-12.4 2.3z"/><path fill="#808080" d="M414.3 923.6l12.4-2.3l0-73.6l-12.4 2.3z"/><path fill="#0d0d0d" d="M414.3 850l12.4-2.3l-1.8-2.5l-12.4 2.3z"/><path fill="#808080" d="M401.9 925.9l12.4-2.3l0-88.6l-12.4 2.3z"/><path fill="#0d0d0d" d="M401.9 837.3l12.4-2.3l-1.8-2.5l-12.5 2.3z"/><path fill="#0d0d0d" d="M389.4 928.1l-1.8-2.4l0-95.9l1.8 2.4z"/><path fill="#808080" d="M389.4 928.1l12.5-2.2l0-96l-12.5 2.3z"/><path fill="#0d0d0d" d="M389.4 832.2l12.5-2.3l-1.9-2.4l-12.4 2.3z"/><path fill="#808080" d="M352.1 935l12.5-2.3l0-123l-12.5 2.3z"/><path fill="#0d0d0d" d="M352.1 812l12.5-2.3l-1.9-2.5l-12.4 2.3zM339.7 812.8l12.4-2.3l-1.8-2.5l-12.4 2.3z"/><path fill="#808080" d="M327.3 939.5l12.4-2.2l0-137.7l-12.4 2.2z"/><path fill="#0d0d0d" d="M327.3 801.8l12.4-2.2l-1.8-2.5l-12.4 2.3z"/><path fill="#0d0d0d" d="M314.8 941.8l-1.8-2.5l0-145.9l1.8 2.5z"/><path fill="#808080" d="M314.8 941.8l12.5-2.3l0-145.9l-12.5 2.3z"/><path fill="#0d0d0d" d="M314.8 795.9l12.5-2.3l-1.8-2.5l-12.5 2.3zM302.4 802.2l12.4-2.3l-1.8-2.5l-12.4 2.3z"/><path fill="#0d0d0d" d="M265.1 950.9l-1.8-2.4l0-152l1.8 2.4z"/><path fill="#0d0d0d" d="M265.1 798.9l12.4-2.2l-1.8-2.5l-12.4 2.3z"/><path fill="#808080" d="M428.5 923.8l12.5-2.3l0-33l-12.5 2.3z"/><path fill="#0d0d0d" d="M428.5 890.8l12.5-2.3l-1.9-2.5l-12.4 2.3z"/><path fill="#808080" d="M416.1 926l12.4-2.2l0-59.3l-12.4 2.3z"/><path fill="#0d0d0d" d="M416.1 866.8l12.4-2.3l-1.8-2.5l-12.4 2.3z"/><path fill="#808080" d="M378.8 932.9l12.4-2.3l0-92.6l-12.4 2.3z"/><path fill="#0d0d0d" d="M378.8 840.3l12.4-2.3l-1.8-2.5l-12.4 2.3z"/><path fill="#808080" d="M353.9 937.5l12.5-2.3l0-112.3l-12.5 2.3z"/><path fill="#0d0d0d" d="M353.9 825.2l12.5-2.3l-1.8-2.5l-12.5 2.3z"/><path fill="#0d0d0d" d="M329.1 942l-1.8-2.5l0-133.8l1.8 2.5z"/><path fill="#808080" d="M329.1 942l12.4-2.3l0-133.8l-12.4 2.3z"/><path fill="#0d0d0d" d="M329.1 808.2l12.4-2.3l-1.8-2.5l-12.4 2.3zM304.2 804l12.5-2.3l-1.9-2.5l-12.4 2.3zM291.8 795.2l12.4-2.3l-1.8-2.5l-12.4 2.3z"/><path fill="#808080" d="M279.4 951.1l12.4-2.2l0-169.3l-12.4 2.2z"/><path fill="#0d0d0d" d="M279.4 781.8l12.4-2.2l-1.8-2.5l-12.5 2.3z"/><path fill="#0d0d0d" d="M266.9 953.4l-1.8-2.5l0-169.3l1.8 2.5z"/><path fill="#0d0d0d" d="M266.9 784.1l12.5-2.3l-1.9-2.4l-12.4 2.2z"/><path fill="#808080" d="M417.9 928.5l12.4-2.3l0-56.7l-12.4 2.3z"/><path fill="#0d0d0d" d="M417.9 871.8l12.4-2.3l-1.8-2.4l-12.4 2.2z"/><path fill="#0d0d0d" d="M405.5 930.8l-1.8-2.5l0-88.1l1.8 2.5z"/><path fill="#808080" d="M405.5 930.8l12.4-2.3l0-88.1l-12.4 2.3z"/><path fill="#0d0d0d" d="M405.5 842.7l12.4-2.3l-1.8-2.5l-12.4 2.3zM393.1 845.7l12.4-2.2l-1.8-2.5l-12.5 2.3z"/><path fill="#808080" d="M380.6 935.4l12.5-2.3l0-92.3l-12.5 2.3z"/><path fill="#0d0d0d" d="M380.6 843.1l12.5-2.3l-1.9-2.5l-12.4 2.3z"/><path fill="#808080" d="M368.2 937.6l12.4-2.2l0-97.5l-12.4 2.2z"/><path fill="#0d0d0d" d="M368.2 840.1l12.4-2.2l-1.8-2.5l-12.4 2.3z"/><path fill="#808080" d="M343.3 942.2l12.5-2.3l0-128.6l-12.5 2.3z"/><path fill="#0d0d0d" d="M343.3 813.6l12.5-2.3l-1.9-2.5l-12.4 2.3z"/><path fill="#808080" d="M330.9 944.5l12.4-2.3l0-130.1l-12.4 2.3z"/><path fill="#0d0d0d" d="M330.9 814.4l12.4-2.3l-1.8-2.5l-12.4 2.3zM318.5 811.7l12.4-2.3l-1.8-2.5l-12.4 2.3z"/><path fill="#808080" d="M306 949.1l12.5-2.3l0-143.2l-12.5 2.3z"/><path fill="#0d0d0d" d="M306 805.9l12.5-2.3l-1.8-2.5l-12.5 2.3z"/><path fill="#808080" d="M293.6 951.3l12.4-2.2l0-155.3l-12.4 2.2z"/><path fill="#0d0d0d" d="M293.6 796l12.4-2.2l-1.8-2.5l-12.4 2.3z"/><path fill="#808080" d="M281.2 953.6l12.4-2.3l0-168.5l-12.4 2.3z"/><path fill="#0d0d0d" d="M281.2 785.1l12.4-2.3l-1.8-2.4l-12.4 2.2z"/><path fill="#0d0d0d" d="M268.7 955.9l-1.8-2.5l0-169.3l1.8 2.5z"/><path fill="#0d0d0d" d="M268.7 786.6l12.5-2.3l-1.8-2.5l-12.5 2.3z"/><path fill="#808080" d="M407.3 933.3l12.4-2.3l0-49.1l-12.4 2.3z"/><path fill="#0d0d0d" d="M407.3 884.2l12.4-2.3l-1.8-2.5l-12.4 2.3z"/><path fill="#0d0d0d" d="M394.9 935.6l-1.8-2.5l0-88.6l1.8 2.5z"/><path fill="#808080" d="M394.9 935.6l12.4-2.3l0-88.6l-12.4 2.3z"/><path fill="#0d0d0d" d="M394.9 847l12.4-2.3l-1.8-2.5l-12.4 2.3z"/><path fill="#808080" d="M382.4 937.8l12.5-2.2l0-87.9l-12.5 2.2z"/><path fill="#0d0d0d" d="M382.4 849.9l12.5-2.2l-1.8-2.5l-12.5 2.3z"/><path fill="#808080" d="M370 940.1l12.4-2.3l0-94.6l-12.4 2.3z"/><path fill="#0d0d0d" d="M370 845.5l12.4-2.3l-1.8-2.4l-12.4 2.2z"/><path fill="#808080" d="M357.6 942.4l12.4-2.3l0-112.9l-12.4 2.3z"/><path fill="#0d0d0d" d="M357.6 829.5l12.4-2.3l-1.8-2.4l-12.4 2.3z"/><path fill="#808080" d="M345.1 944.7l12.5-2.3l0-119.5l-12.5 2.3z"/><path fill="#0d0d0d" d="M345.1 825.2l12.5-2.3l-1.8-2.5l-12.5 2.3z"/><path fill="#808080" d="M332.7 947l12.4-2.3l0-127.1l-12.4 2.2z"/><path fill="#0d0d0d" d="M332.7 819.8l12.4-2.2l-1.8-2.5l-12.4 2.3z"/><path fill="#808080" d="M307.8 951.5l12.5-2.3l0-142.5l-12.5 2.2z"/><path fill="#0d0d0d" d="M307.8 808.9l12.5-2.2l-1.8-2.5l-12.5 2.3z"/><path fill="#808080" d="M283 956.1l12.4-2.3l0-168l-12.4 2.3z"/><path fill="#0d0d0d" d="M283 788.1l12.4-2.3l-1.8-2.5l-12.4 2.3z"/><path fill="#0d0d0d" d="M270.6 958.4l-1.9-2.5l0-169.3l1.9 2.5z"/><path fill="#808080" d="M270.6 958.4l12.4-2.3l0-169.3l-12.4 2.3z"/><path fill="#0d0d0d" d="M270.6 789.1l12.4-2.3l-1.8-2.5l-12.5 2.3z"/><path fill="#808080" d="M384.3 940.3l12.4-2.3l0-40.9l-12.4 2.3z"/><path fill="#0d0d0d" d="M384.3 899.4l12.4-2.3l-1.8-2.4l-12.5 2.2z"/><path fill="#808080" d="M371.8 942.6l12.5-2.3l0-76.7l-12.5 2.3z"/><path fill="#0d0d0d" d="M371.8 865.9l12.5-2.3l-1.9-2.5l-12.4 2.3z"/><path fill="#808080" d="M359.4 944.9l12.4-2.3l0-108.9l-12.4 2.3z"/><path fill="#0d0d0d" d="M359.4 836l12.4-2.3l-1.8-2.5l-12.4 2.3z"/><path fill="#808080" d="M347 947.2l12.4-2.3l0-114l-12.4 2.3z"/><path fill="#0d0d0d" d="M347 833.2l12.4-2.3l-1.8-2.5l-12.5 2.3z"/><path fill="#808080" d="M322.1 951.7l12.4-2.3l0-138l-12.4 2.3z"/><path fill="#0d0d0d" d="M322.1 813.7l12.4-2.3l-1.8-2.4l-12.4 2.2z"/><path fill="#808080" d="M297.2 956.3l12.5-2.3l0-154.9l-12.5 2.3z"/><path fill="#0d0d0d" d="M297.2 801.4l12.5-2.3l-1.9-2.5l-12.4 2.3z"/><path fill="#808080" d="M284.8 958.6l12.4-2.3l0-165l-12.4 2.3z"/><path fill="#0d0d0d" d="M284.8 793.6l12.4-2.3l-1.8-2.5l-12.4 2.3z"/><path fill="#0d0d0d" d="M272.4 960.8l-1.8-2.4l0-169l1.8 2.4z"/><path fill="#808080" d="M272.4 960.8l12.4-2.2l0-169l-12.4 2.2z"/><path fill="#0d0d0d" d="M272.4 791.8l12.4-2.2l-1.8-2.5l-12.4 2.3z"/><path fill="#808080" d="M361.2 947.4l12.4-2.3l0-69.9l-12.4 2.3z"/><path fill="#0d0d0d" d="M361.2 877.5l12.4-2.3l-1.8-2.5l-12.4 2.3z"/><path fill="#808080" d="M348.8 949.6l12.4-2.2l0-95.5l-12.4 2.2z"/><path fill="#0d0d0d" d="M348.8 854.1l12.4-2.2l-1.8-2.5l-12.4 2.3z"/><path fill="#808080" d="M336.3 951.9l12.5-2.3l0-118.1l-12.5 2.3z"/><path fill="#0d0d0d" d="M336.3 833.8l12.5-2.3l-1.8-2.4l-12.5 2.2z"/><path fill="#808080" d="M323.9 954.2l12.4-2.3l0-124l-12.4 2.3z"/><path fill="#0d0d0d" d="M323.9 830.2l12.4-2.3l-1.8-2.5l-12.4 2.3z"/><path fill="#808080" d="M311.5 956.5l12.4-2.3l0-141l-12.4 2.3z"/><path fill="#0d0d0d" d="M311.5 815.5l12.4-2.3l-1.8-2.5l-12.4 2.3z"/><path fill="#808080" d="M299 958.8l12.5-2.3l0-144l-12.5 2.3z"/><path fill="#0d0d0d" d="M299 814.8l12.5-2.3l-1.8-2.5l-12.5 2.3z"/><path fill="#808080" d="M286.6 961l12.4-2.2l0-155l-12.4 2.2z"/><path fill="#0d0d0d" d="M286.6 806l12.4-2.2l-1.8-2.5l-12.4 2.3z"/><path fill="#0d0d0d" d="M274.2 963.3l-1.8-2.5l0-158l1.8 2.5z"/><path fill="#808080" d="M274.2 963.3l12.4-2.3l0-158l-12.4 2.3z"/><path fill="#0d0d0d" d="M274.2 805.3l12.4-2.3l-1.8-2.4l-12.4 2.2z"/><path fill="#808080" d="M313.3 959l12.4-2.3l0-98.3l-12.4 2.3z"/><path fill="#0d0d0d" d="M313.3 860.7l12.4-2.3l-1.8-2.5l-12.4 2.3z"/><path fill="#808080" d="M300.9 961.2l12.4-2.2l0-105.7l-12.4 2.2z"/><path fill="#0d0d0d" d="M300.9 855.5l12.4-2.2l-1.8-2.5l-12.5 2.3z"/><path fill="#808080" d="M288.4 963.5l12.5-2.3l0-120.3l-12.5 2.3z"/><path fill="#0d0d0d" d="M288.4 843.2l12.5-2.3l-1.9-2.4l-12.4 2.2z"/><path fill="#0d0d0d" d="M276 965.8l-1.8-2.5l0-123.4l1.8 2.5z"/><path fill="#808080" d="M276 965.8l12.4-2.3l0-123.4l-12.4 2.3z"/><path fill="#0d0d0d" d="M276 842.4l12.4-2.3l-1.8-2.5l-12.4 2.3z"/></g>

<g stroke="#000" stroke-linecap="butt"><path d="M578.5 965.8L777.4 929.3L704.8 830.3L505.9 866.8z" fill="none" stroke-width="2.5" stroke-linejoin="miter"/><path d="M628.2 956.7L624.3 951.3" stroke-width="1"/><path d="M555.6 857.7L559.5 863" stroke-width="1"/><path d="M678 947.5L674 942.2" stroke-width="1"/><path d="M605.4 848.5L609.3 853.9" stroke-width="1"/><path d="M727.7 938.4L723.8 933.1" stroke-width="1"/><path d="M655.1 839.4L659 844.8" stroke-width="1"/><path d="M569.4 953.4L574.8 952.4" stroke-width="1"/><path d="M768.3 916.9L763 917.9" stroke-width="1"/><path d="M560.4 941L571.1 939.1" stroke-width="1"/><path d="M759.2 904.5L748.5 906.5" stroke-width="1"/><path d="M551.3 928.7L556.6 927.7" stroke-width="1"/><path d="M750.2 892.2L744.8 893.2" stroke-width="1"/><path d="M542.2 916.3L552.9 914.3" stroke-width="1"/><path d="M741.1 879.8L730.4 881.8" stroke-width="1"/><path d="M533.1 903.9L538.5 902.9" stroke-width="1"/><path d="M732 867.4L726.7 868.4" stroke-width="1"/><path d="M524 891.5L534.8 889.6" stroke-width="1"/><path d="M722.9 855L712.2 857" stroke-width="1"/><path d="M515 879.2L520.3 878.2" stroke-width="1"/><path d="M713.9 842.7L708.5 843.7" stroke-width="1"/><path d="M505.9 867.8L505.9 696.8" stroke-width="2.5"/><path d="M505.9 827.8L511.5 826.8" stroke-width="1"/><path d="M505.9 788.8L517.6 786.7" stroke-width="1"/><path d="M505.9 749.8L511.5 748.8" stroke-width="1"/><path d="M505.9 710.8L517.6 708.7" stroke-width="1"/></g>
<text transform="matrix(0 -0.866 1.046 -0.192 495.9 791.1)" font-size="20.8" text-anchor="middle">1000</text>
<text transform="matrix(0 -0.866 1.046 -0.192 495.9 713.1)" font-size="20.8" text-anchor="middle">2000</text>
<text transform="matrix(0.934 -0.171 0.341 0.465 587.5 978.1)" font-size="20.4" text-anchor="middle">4</text><text transform="matrix(0.934 -0.171 0.341 0.465 637.3 969)" font-size="20.4" text-anchor="middle">5</text><text transform="matrix(0.934 -0.171 0.341 0.465 687 959.9)" font-size="20.4" text-anchor="middle">6</text><text transform="matrix(0.934 -0.171 0.341 0.465 736.7 950.7)" font-size="20.4" text-anchor="middle">7</text><text transform="matrix(0.934 -0.171 0.341 0.465 786.4 941.6)" font-size="20.4" text-anchor="middle">8</text><text transform="matrix(0.341 0.465 -0.934 0.171 553.3 970.4)" font-size="20.4" text-anchor="middle">0</text><text transform="matrix(0.341 0.465 -0.934 0.171 535.1 945.7)" font-size="20.4" text-anchor="middle">100</text><text transform="matrix(0.341 0.465 -0.934 0.171 517 920.9)" font-size="20.4" text-anchor="middle">200</text><text transform="matrix(0.341 0.465 -0.934 0.171 498.8 896.2)" font-size="20.4" text-anchor="middle">300</text><text transform="matrix(0.341 0.465 -0.934 0.171 480.7 871.4)" font-size="20.4" text-anchor="middle">400</text>
<g stroke="#000" stroke-width="0.4" stroke-linejoin="round"><path fill="#ff8a0a" d="M687.5 864.1l12.4-2.3l-1.8-2.5l-12.4 2.3zM721.4 871.9l12.4-2.3l-1.8-2.5l-12.4 2.3zM712.6 879.1l12.4-2.3l-1.8-2.4l-12.4 2.2zM714.4 881.6l12.5-2.3l-1.9-2.5l-12.4 2.3zM702 883.9l12.4-2.3l-1.8-2.5l-12.4 2.3zM716.2 884.1l12.5-2.3l-1.8-2.5l-12.5 2.3zM703.8 886.3l12.4-2.2l-1.8-2.5l-12.4 2.3zM730.5 884.3l12.4-2.3l-1.8-2.5l-12.4 2.3zM693.2 891.1l12.4-2.3l-1.8-2.5l-12.4 2.3zM732.3 886.7l12.4-2.2l-1.8-2.5l-12.4 2.3zM707.4 891.3l12.5-2.3l-1.8-2.5l-12.5 2.3zM682.6 895.9l12.4-2.3l-1.8-2.5l-12.4 2.3zM734.1 889.2l12.4-2.3l-1.8-2.4l-12.4 2.2zM709.3 893.8l12.4-2.3l-1.8-2.5l-12.5 2.3zM696.8 896l12.5-2.2l-1.9-2.5l-12.4 2.3zM684.4 898.3l12.4-2.3l-1.8-2.4l-12.4 2.3zM735.9 891.7l12.5-2.3l-1.9-2.5l-12.4 2.3zM723.5 894l12.4-2.3l-1.8-2.5l-12.4 2.3zM711.1 896.2l12.4-2.2l-1.8-2.5l-12.4 2.3zM698.6 898.5l12.5-2.3l-1.8-2.4l-12.5 2.2zM686.2 900.8l12.4-2.3l-1.8-2.5l-12.4 2.3zM737.7 894.2l12.5-2.3l-1.8-2.5l-12.5 2.3zM675.6 905.6l12.4-2.3l-1.8-2.5l-12.4 2.3zM739.6 896.6l12.4-2.2l-1.8-2.5l-12.5 2.3zM727.1 898.9l12.5-2.3l-1.9-2.4l-12.4 2.2zM702.3 903.5l12.4-2.3l-1.8-2.5l-12.5 2.3zM689.8 905.8l12.5-2.3l-1.9-2.5l-12.4 2.3zM677.4 908l12.4-2.2l-1.8-2.5l-12.4 2.3zM741.4 899.1l12.4-2.3l-1.8-2.4l-12.4 2.2zM728.9 901.4l12.5-2.3l-1.8-2.5l-12.5 2.3zM716.5 903.7l12.4-2.3l-1.8-2.5l-12.4 2.3zM704.1 906l12.4-2.3l-1.8-2.5l-12.4 2.3zM679.2 910.5l12.4-2.3l-1.8-2.4l-12.4 2.2zM743.2 901.6l12.4-2.3l-1.8-2.5l-12.4 2.3zM730.8 903.9l12.4-2.3l-1.8-2.5l-12.5 2.3zM718.3 906.1l12.5-2.2l-1.9-2.5l-12.4 2.3zM681 913l12.5-2.3l-1.9-2.5l-12.4 2.3zM668.6 915.3l12.4-2.3l-1.8-2.5l-12.4 2.3zM745 904.1l12.4-2.3l-1.8-2.5l-12.4 2.3zM732.6 906.3l12.4-2.2l-1.8-2.5l-12.4 2.3zM720.1 908.6l12.5-2.3l-1.8-2.4l-12.5 2.2zM746.8 906.5l12.4-2.3l-1.8-2.4l-12.4 2.3zM734.4 908.8l12.4-2.3l-1.8-2.4l-12.4 2.2zM748.6 909l12.5-2.3l-1.9-2.5l-12.4 2.3zM736.2 911.3l12.4-2.3l-1.8-2.5l-12.4 2.3z"/><path fill="#a65600" d="M723.8 913.9l-1.8-2.5l0-5.7l1.8 2.5z"/><path fill="#ffbb73" d="M723.8 913.9l12.4-2.3l0-5.7l-12.4 2.3z"/><path fill="#ff8a0a" d="M723.8 908.2l12.4-2.3l-1.8-2.5l-12.4 2.3zM711.3 915.9l12.5-2.3l-1.8-2.5l-12.5 2.3zM750.4 911.5l12.5-2.3l-1.8-2.5l-12.5 2.3zM738 913.8l12.4-2.3l-1.8-2.5l-12.4 2.3zM725.6 916l12.4-2.2l-1.8-2.5l-12.4 2.3zM713.2 918.3l12.4-2.3l-1.8-2.4l-12.5 2.3zM739.8 916.2l12.5-2.2l-1.9-2.5l-12.4 2.3zM727.4 918.5l12.4-2.3l-1.8-2.4l-12.4 2.2zM715 920.8l12.4-2.3l-1.8-2.5l-12.4 2.3zM729.2 921l12.4-2.3l-1.8-2.5l-12.4 2.3zM716.8 923.3l12.4-2.3l-1.8-2.5l-12.4 2.3zM731 923.5l12.5-2.3l-1.9-2.5l-12.4 2.3z"/><path fill="#ffbb73" d="M720.4 928.5l12.4-2.3l0-4l-12.4 2.3z"/><path fill="#ff8a0a" d="M720.4 924.5l12.4-2.3l-1.8-2.4l-12.4 2.2z"/><path fill="#a65600" d="M683.1 935.4l-1.8-2.5l0-28.6l1.8 2.5z"/><path fill="#ffbb73" d="M683.1 935.4l12.5-2.3l0-28.6l-12.5 2.3z"/><path fill="#ff8a0a" d="M683.1 906.8l12.5-2.3l-1.9-2.5l-12.4 2.3z"/><path fill="#ffbb73" d="M709.8 933.3l12.4-2.3l0-25.7l-12.4 2.3z"/><path fill="#ff8a0a" d="M709.8 907.6l12.4-2.3l-1.8-2.5l-12.4 2.3z"/><path fill="#a65600" d="M697.4 935.6l-1.8-2.5l0-33.2l1.8 2.5z"/><path fill="#ffbb73" d="M697.4 935.6l12.4-2.3l0-33.2l-12.4 2.3z"/><path fill="#ff8a0a" d="M697.4 902.4l12.4-2.3l-1.8-2.5l-12.4 2.3z"/><path fill="#ffbb73" d="M684.9 937.8l12.5-2.2l0-20.8l-12.5 2.2z"/><path fill="#ff8a0a" d="M684.9 917l12.5-2.2l-1.8-2.5l-12.5 2.3z"/><path fill="#a65600" d="M660.1 942.4l-1.8-2.5l0-76.5l1.8 2.5z"/><path fill="#ffbb73" d="M660.1 942.4l12.4-2.3l0-76.5l-12.4 2.3z"/><path fill="#ff8a0a" d="M660.1 865.9l12.4-2.3l-1.8-2.5l-12.4 2.3z"/><path fill="#a65600" d="M711.6 935.8l-1.8-2.5l0-6.5l1.8 2.5z"/><path fill="#ffbb73" d="M711.6 935.8l12.4-2.3l0-6.5l-12.4 2.3z"/><path fill="#ff8a0a" d="M711.6 929.3l12.4-2.3l-1.8-2.5l-12.4 2.3z"/><path fill="#ffbb73" d="M686.8 940.3l12.4-2.3l0-2.5l-12.4 2.3z"/><path fill="#ff8a0a" d="M686.8 937.8l12.4-2.3l-1.8-2.4l-12.5 2.2z"/><path fill="#a65600" d="M674.3 942.6l-1.8-2.5l0-24.7l1.8 2.5z"/><path fill="#ffbb73" d="M674.3 942.6l12.5-2.3l0-24.7l-12.5 2.3z"/><path fill="#ff8a0a" d="M674.3 917.9l12.5-2.3l-1.9-2.5l-12.4 2.3z"/><path fill="#ffbb73" d="M649.5 947.2l12.4-2.3l0-71.7l-12.4 2.3z"/><path fill="#ff8a0a" d="M649.5 875.5l12.4-2.3l-1.8-2.5l-12.5 2.3z"/><path fill="#a65600" d="M599.7 956.3l-1.8-2.5l0-51.4l1.8 2.5z"/><path fill="#ffbb73" d="M599.7 956.3l12.5-2.3l0-51.4l-12.5 2.3z"/><path fill="#ff8a0a" d="M599.7 904.9l12.5-2.3l-1.9-2.5l-12.4 2.3z"/><path fill="#a65600" d="M676.1 945.1l-1.8-2.5l0-15.9l1.8 2.5z"/><path fill="#ffbb73" d="M676.1 945.1l12.5-2.3l0-15.9l-12.5 2.3z"/><path fill="#ff8a0a" d="M676.1 929.2l12.5-2.3l-1.8-2.5l-12.5 2.3z"/><path fill="#ffbb73" d="M663.7 947.4l12.4-2.3l0-10.4l-12.4 2.3z"/><path fill="#ff8a0a" d="M663.7 937l12.4-2.3l-1.8-2.5l-12.4 2.3z"/><path fill="#ffbb73" d="M651.3 949.6l12.4-2.2l0-42.5l-12.4 2.2z"/><path fill="#ff8a0a" d="M651.3 907.1l12.4-2.2l-1.8-2.5l-12.4 2.3z"/><path fill="#a65600" d="M638.8 951.9l-1.8-2.5l0-167.5l1.8 2.5z"/><path fill="#ffbb73" d="M638.8 951.9l12.5-2.3l0-167.5l-12.5 2.3z"/><path fill="#ff8a0a" d="M638.8 784.4l12.5-2.3l-1.8-2.4l-12.5 2.2z"/><path fill="#ffbb73" d="M626.4 954.2l12.4-2.3l0-158l-12.4 2.3z"/><path fill="#ff8a0a" d="M626.4 796.2l12.4-2.3l-1.8-2.5l-12.4 2.3z"/><path fill="#a65600" d="M614 956.5l-1.8-2.5l0-171.2l1.8 2.5z"/><path fill="#ffbb73" d="M614 956.5l12.4-2.3l0-171.2l-12.4 2.3z"/><path fill="#ff8a0a" d="M614 785.3l12.4-2.3l-1.8-2.5l-12.4 2.3z"/><path fill="#a65600" d="M589.1 961l-1.8-2.4l0-30.3l1.8 2.4z"/><path fill="#ffbb73" d="M589.1 961l12.4-2.2l0-30.3l-12.4 2.2z"/><path fill="#ff8a0a" d="M589.1 930.7l12.4-2.2l-1.8-2.5l-12.4 2.3zM628.2 956.4l12.5-2.3l-1.9-2.5l-12.4 2.3z"/><path fill="#a65600" d="M615.8 959l-1.8-2.5l0-44.6l1.8 2.5z"/><path fill="#ffbb73" d="M615.8 959l12.4-2.3l0-44.6l-12.4 2.3z"/><path fill="#ff8a0a" d="M615.8 914.4l12.4-2.3l-1.8-2.5l-12.4 2.3z"/><path fill="#a65600" d="M603.4 961.2l-1.9-2.4l0-29.6l1.9 2.4z"/><path fill="#ffbb73" d="M603.4 961.2l12.4-2.2l0-29.6l-12.4 2.2z"/><path fill="#ff8a0a" d="M603.4 931.6l12.4-2.2l-1.8-2.5l-12.5 2.3z"/><path fill="#a65600" d="M590.9 963.5l-1.8-2.5l0-26.2l1.8 2.5z"/><path fill="#ffbb73" d="M590.9 963.5l12.5-2.3l0-26.2l-12.5 2.3z"/><path fill="#ff8a0a" d="M590.9 937.3l12.5-2.3l-1.9-2.4l-12.4 2.2z"/><path fill="#a65600" d="M578.5 965.8l-1.8-2.5l0-8.2l1.8 2.5z"/><path fill="#ffbb73" d="M578.5 965.8l12.4-2.3l0-8.2l-12.4 2.3z"/><path fill="#ff8a0a" d="M578.5 957.6l12.4-2.3l-1.8-2.5l-12.4 2.3z"/></g>

<g stroke="#000" stroke-linecap="butt"><path d="M881 965.8L1079.9 929.3L1007.3 830.3L808.4 866.8z" fill="none" stroke-width="2.5" stroke-linejoin="miter"/><path d="M930.7 956.7L926.8 951.3" stroke-width="1"/><path d="M858.1 857.7L862 863" stroke-width="1"/><path d="M980.5 947.5L976.5 942.2" stroke-width="1"/><path d="M907.9 848.5L911.8 853.9" stroke-width="1"/><path d="M1030.2 938.4L1026.3 933.1" stroke-width="1"/><path d="M957.6 839.4L961.5 844.8" stroke-width="1"/><path d="M871.9 953.4L877.3 952.4" stroke-width="1"/><path d="M1070.8 916.9L1065.5 917.9" stroke-width="1"/><path d="M862.9 941L873.6 939.1" stroke-width="1"/><path d="M1061.8 904.5L1051 906.5" stroke-width="1"/><path d="M853.8 928.7L859.1 927.7" stroke-width="1"/><path d="M1052.7 892.2L1047.3 893.2" stroke-width="1"/><path d="M844.7 916.3L855.4 914.3" stroke-width="1"/><path d="M1043.6 879.8L1032.9 881.8" stroke-width="1"/><path d="M835.6 903.9L841 902.9" stroke-width="1"/><path d="M1034.5 867.4L1029.2 868.4" stroke-width="1"/><path d="M826.5 891.5L837.3 889.6" stroke-width="1"/><path d="M1025.5 855L1014.7 857" stroke-width="1"/><path d="M817.5 879.2L822.8 878.2" stroke-width="1"/><path d="M1016.4 842.7L1011 843.7" stroke-width="1"/><path d="M808.4 867.8L808.4 696.8" stroke-width="2.5"/><path d="M808.4 827.8L814 826.8" stroke-width="1"/><path d="M808.4 788.8L820.1 786.7" stroke-width="1"/><path d="M808.4 749.8L814 748.8" stroke-width="1"/><path d="M808.4 710.8L820.1 708.7" stroke-width="1"/></g>
<text transform="matrix(0 -0.866 1.046 -0.192 798.4 791.1)" font-size="20.8" text-anchor="middle">1000</text>
<text transform="matrix(0 -0.866 1.046 -0.192 798.4 713.1)" font-size="20.8" text-anchor="middle">2000</text>
<text transform="matrix(0.934 -0.171 0.341 0.465 890 978.1)" font-size="20.4" text-anchor="middle">4</text><text transform="matrix(0.934 -0.171 0.341 0.465 939.8 969)" font-size="20.4" text-anchor="middle">5</text><text transform="matrix(0.934 -0.171 0.341 0.465 989.5 959.9)" font-size="20.4" text-anchor="middle">6</text><text transform="matrix(0.934 -0.171 0.341 0.465 1039.2 950.7)" font-size="20.4" text-anchor="middle">7</text><text transform="matrix(0.934 -0.171 0.341 0.465 1088.9 941.6)" font-size="20.4" text-anchor="middle">8</text><text transform="matrix(0.341 0.465 -0.934 0.171 855.8 970.4)" font-size="20.4" text-anchor="middle">0</text><text transform="matrix(0.341 0.465 -0.934 0.171 837.6 945.7)" font-size="20.4" text-anchor="middle">100</text><text transform="matrix(0.341 0.465 -0.934 0.171 819.5 920.9)" font-size="20.4" text-anchor="middle">200</text><text transform="matrix(0.341 0.465 -0.934 0.171 801.3 896.2)" font-size="20.4" text-anchor="middle">300</text><text transform="matrix(0.341 0.465 -0.934 0.171 783.2 871.4)" font-size="20.4" text-anchor="middle">400</text>
<g stroke="#000" stroke-width="0.4" stroke-linejoin="round"><path fill="#00a600" d="M1010.5 930.8l-1.8-2.5l0-44.9l1.8 2.5z"/><path fill="#73ff73" d="M1010.5 930.8l12.4-2.3l0-44.9l-12.4 2.3z"/><path fill="#00ff00" d="M1010.5 885.9l12.4-2.3l-1.8-2.5l-12.4 2.3z"/><path fill="#73ff73" d="M1012.3 933.3l12.4-2.3l0-8l-12.4 2.3z"/><path fill="#00ff00" d="M1012.3 925.3l12.4-2.3l-1.8-2.5l-12.4 2.3z"/><path fill="#00a600" d="M999.9 935.6l-1.8-2.5l0-18.5l1.8 2.5z"/><path fill="#73ff73" d="M999.9 935.6l12.4-2.3l0-18.5l-12.4 2.3z"/><path fill="#00ff00" d="M999.9 917.1l12.4-2.3l-1.8-2.5l-12.4 2.3z"/><path fill="#00a600" d="M964.4 944.9l-1.8-2.5l0-117.1l1.8 2.5z"/><path fill="#73ff73" d="M964.4 944.9l12.4-2.3l0-117.1l-12.4 2.3z"/><path fill="#00ff00" d="M964.4 827.8l12.4-2.3l-1.8-2.5l-12.4 2.3z"/><path fill="#00a600" d="M939.5 949.4l-1.8-2.4l0-64.5l1.8 2.4z"/><path fill="#73ff73" d="M939.5 949.4l12.5-2.2l0-64.5l-12.5 2.2z"/><path fill="#00ff00" d="M939.5 884.9l12.5-2.2l-1.9-2.5l-12.4 2.3z"/><path fill="#73ff73" d="M1065.7 929.1l12.4-2.3l0-59.6l-12.4 2.3z"/><path fill="#00ff00" d="M1065.7 869.5l12.4-2.3l-1.8-2.5l-12.5 2.3z"/><path fill="#00a600" d="M1053.2 931.4l-1.8-2.5l0-75l1.8 2.5z"/><path fill="#73ff73" d="M1053.2 931.4l12.5-2.3l0-75l-12.5 2.3z"/><path fill="#00ff00" d="M1053.2 856.4l12.5-2.3l-1.9-2.5l-12.4 2.3z"/><path fill="#00a600" d="M1040.8 933.7l-1.8-2.5l0-36.5l1.8 2.5z"/><path fill="#73ff73" d="M1040.8 933.7l12.4-2.3l0-36.5l-12.4 2.3z"/><path fill="#00ff00" d="M1040.8 897.2l12.4-2.3l-1.8-2.5l-12.4 2.3z"/><path fill="#00a600" d="M1028.4 935.9l-1.9-2.4l0-34.5l1.9 2.4z"/><path fill="#73ff73" d="M1028.4 935.9l12.4-2.2l0-34.5l-12.4 2.2z"/><path fill="#00ff00" d="M1028.4 901.4l12.4-2.2l-1.8-2.5l-12.5 2.3z"/><path fill="#00a600" d="M1015.9 938.2l-1.8-2.4l0-33.3l1.8 2.4z"/><path fill="#73ff73" d="M1015.9 938.2l12.5-2.3l0-33.3l-12.5 2.3z"/><path fill="#00ff00" d="M1015.9 904.9l12.5-2.3l-1.9-2.4l-12.4 2.3z"/><path fill="#73ff73" d="M1003.5 940.5l12.4-2.3l0-10.5l-12.4 2.3z"/><path fill="#00ff00" d="M1003.5 930l12.4-2.3l-1.8-2.4l-12.4 2.2z"/><path fill="#73ff73" d="M991.1 942.8l12.4-2.3l0-14.5l-12.4 2.3z"/><path fill="#00ff00" d="M991.1 928.3l12.4-2.3l-1.8-2.5l-12.4 2.3z"/><path fill="#73ff73" d="M978.6 945.1l12.5-2.3l0-26.3l-12.5 2.3z"/><path fill="#00ff00" d="M978.6 918.8l12.5-2.3l-1.8-2.5l-12.5 2.3z"/><path fill="#00a600" d="M953.8 949.6l-1.8-2.4l0-77.7l1.8 2.4z"/><path fill="#73ff73" d="M953.8 949.6l12.4-2.2l0-77.7l-12.4 2.2z"/><path fill="#00ff00" d="M953.8 871.9l12.4-2.2l-1.8-2.5l-12.4 2.3z"/><path fill="#73ff73" d="M1042.6 936.1l12.4-2.2l0-2l-12.4 2.2z"/><path fill="#00ff00" d="M1042.6 934.1l12.4-2.2l-1.8-2.5l-12.4 2.3z"/><path fill="#73ff73" d="M1030.2 938.4l12.4-2.3l0-2l-12.4 2.3z"/><path fill="#00ff00" d="M1030.2 936.4l12.4-2.3l-1.8-2.4l-12.4 2.2z"/><path fill="#73ff73" d="M1017.7 940.7l12.5-2.3l0-2l-12.5 2.3z"/><path fill="#00ff00" d="M1017.7 938.7l12.5-2.3l-1.8-2.5l-12.5 2.3z"/><path fill="#73ff73" d="M1005.3 943l12.4-2.3l0-4.3l-12.4 2.3z"/><path fill="#00ff00" d="M1005.3 938.7l12.4-2.3l-1.8-2.5l-12.4 2.3z"/><path fill="#73ff73" d="M992.9 945.3l12.4-2.3l0-7.8l-12.4 2.3z"/><path fill="#00ff00" d="M992.9 937.5l12.4-2.3l-1.8-2.5l-12.4 2.3z"/><path fill="#73ff73" d="M980.5 947.5l12.4-2.2l0-8.9l-12.4 2.2z"/><path fill="#00ff00" d="M980.5 938.6l12.4-2.2l-1.8-2.5l-12.5 2.3z"/><path fill="#00a600" d="M968 949.8l-1.8-2.4l0-34.6l1.8 2.4z"/><path fill="#73ff73" d="M968 949.8l12.5-2.3l0-34.6l-12.5 2.3z"/><path fill="#00ff00" d="M968 915.2l12.5-2.3l-1.9-2.4l-12.4 2.3z"/><path fill="#73ff73" d="M955.6 952.1l12.4-2.3l0-30.8l-12.4 2.3z"/><path fill="#00ff00" d="M955.6 921.3l12.4-2.3l-1.8-2.4l-12.4 2.2z"/><path fill="#00a600" d="M943.2 954.4l-1.9-2.5l0-52.2l1.9 2.5z"/><path fill="#73ff73" d="M943.2 954.4l12.4-2.3l0-52.2l-12.4 2.3z"/><path fill="#00ff00" d="M943.2 902.2l12.4-2.3l-1.8-2.5l-12.5 2.3z"/><path fill="#00a600" d="M930.7 956.7l-1.8-2.5l0-38l1.8 2.5z"/><path fill="#73ff73" d="M930.7 956.7l12.5-2.3l0-38l-12.5 2.3z"/><path fill="#00ff00" d="M930.7 918.7l12.5-2.3l-1.9-2.5l-12.4 2.3z"/><path fill="#00a600" d="M918.3 959l-1.8-2.5l0-14.3l1.8 2.5z"/><path fill="#73ff73" d="M918.3 959l12.4-2.3l0-14.3l-12.4 2.3z"/><path fill="#00ff00" d="M918.3 944.7l12.4-2.3l-1.8-2.5l-12.4 2.3z"/></g>

<g stroke="#000" stroke-linecap="butt"><path d="M1183.5 965.8L1382.4 929.3L1309.8 830.3L1110.9 866.8z" fill="none" stroke-width="2.5" stroke-linejoin="miter"/><path d="M1233.2 956.7L1229.3 951.3" stroke-width="1"/><path d="M1160.6 857.7L1164.5 863" stroke-width="1"/><path d="M1283 947.5L1279 942.2" stroke-width="1"/><path d="M1210.4 848.5L1214.3 853.9" stroke-width="1"/><path d="M1332.7 938.4L1328.8 933.1" stroke-width="1"/><path d="M1260.1 839.4L1264 844.8" stroke-width="1"/><path d="M1174.4 953.4L1179.8 952.4" stroke-width="1"/><path d="M1373.3 916.9L1368 917.9" stroke-width="1"/><path d="M1165.3 941L1176.1 939.1" stroke-width="1"/><path d="M1364.2 904.5L1353.5 906.5" stroke-width="1"/><path d="M1156.3 928.7L1161.6 927.7" stroke-width="1"/><path d="M1355.2 892.2L1349.8 893.2" stroke-width="1"/><path d="M1147.2 916.3L1157.9 914.3" stroke-width="1"/><path d="M1346.1 879.8L1335.4 881.8" stroke-width="1"/><path d="M1138.1 903.9L1143.5 902.9" stroke-width="1"/><path d="M1337 867.4L1331.7 868.4" stroke-width="1"/><path d="M1129 891.5L1139.8 889.6" stroke-width="1"/><path d="M1328 855L1317.2 857" stroke-width="1"/><path d="M1120 879.2L1125.3 878.2" stroke-width="1"/><path d="M1318.9 842.7L1313.5 843.7" stroke-width="1"/><path d="M1110.9 867.8L1110.9 696.8" stroke-width="2.5"/><path d="M1110.9 827.8L1116.5 826.8" stroke-width="1"/><path d="M1110.9 788.8L1122.6 786.7" stroke-width="1"/><path d="M1110.9 749.8L1116.5 748.8" stroke-width="1"/><path d="M1110.9 710.8L1122.6 708.7" stroke-width="1"/></g>
<text transform="matrix(0 -0.866 1.046 -0.192 1100.9 791.1)" font-size="20.8" text-anchor="middle">1000</text>
<text transform="matrix(0 -0.866 1.046 -0.192 1100.9 713.1)" font-size="20.8" text-anchor="middle">2000</text>
<text transform="matrix(0.934 -0.171 0.341 0.465 1192.5 978.1)" font-size="20.4" text-anchor="middle">4</text><text transform="matrix(0.934 -0.171 0.341 0.465 1242.3 969)" font-size="20.4" text-anchor="middle">5</text><text transform="matrix(0.934 -0.171 0.341 0.465 1292 959.9)" font-size="20.4" text-anchor="middle">6</text><text transform="matrix(0.934 -0.171 0.341 0.465 1341.7 950.7)" font-size="20.4" text-anchor="middle">7</text><text transform="matrix(0.934 -0.171 0.341 0.465 1391.4 941.6)" font-size="20.4" text-anchor="middle">8</text><text transform="matrix(0.341 0.465 -0.934 0.171 1158.3 970.4)" font-size="20.4" text-anchor="middle">0</text><text transform="matrix(0.341 0.465 -0.934 0.171 1140.1 945.7)" font-size="20.4" text-anchor="middle">100</text><text transform="matrix(0.341 0.465 -0.934 0.171 1122 920.9)" font-size="20.4" text-anchor="middle">200</text><text transform="matrix(0.341 0.465 -0.934 0.171 1103.8 896.2)" font-size="20.4" text-anchor="middle">300</text><text transform="matrix(0.341 0.465 -0.934 0.171 1085.7 871.4)" font-size="20.4" text-anchor="middle">400</text>
<g stroke="#000" stroke-width="0.4" stroke-linejoin="round"><path fill="#ff0000" d="M1355.4 911.5l12.5-2.3l-1.8-2.5l-12.5 2.3zM1357.3 914l12.4-2.3l-1.8-2.5l-12.5 2.3zM1344.8 916.2l12.5-2.2l-1.9-2.5l-12.4 2.3zM1359.1 916.4l12.4-2.3l-1.8-2.4l-12.4 2.3zM1346.6 918.7l12.5-2.3l-1.8-2.4l-12.5 2.2zM1360.9 918.9l12.4-2.3l-1.8-2.5l-12.4 2.3zM1348.5 921.2l12.4-2.3l-1.8-2.5l-12.5 2.3zM1362.7 921.4l12.4-2.3l-1.8-2.5l-12.4 2.3z"/><path fill="#a60000" d="M1313 930.8l-1.8-2.5l0-31.9l1.8 2.5z"/><path fill="#ff7373" d="M1313 930.8l12.4-2.3l0-31.9l-12.4 2.3z"/><path fill="#ff0000" d="M1313 898.9l12.4-2.3l-1.8-2.5l-12.4 2.3z"/><path fill="#a60000" d="M1300.6 933.1l-1.9-2.5l0-12l1.9 2.5z"/><path fill="#ff7373" d="M1300.6 933.1l12.4-2.3l0-12l-12.4 2.3z"/><path fill="#ff0000" d="M1300.6 921.1l12.4-2.3l-1.8-2.5l-12.5 2.3z"/><path fill="#ff7373" d="M1352.1 926.4l12.4-2.2l0-5l-12.4 2.2z"/><path fill="#ff0000" d="M1352.1 921.4l12.4-2.2l-1.8-2.5l-12.4 2.3z"/><path fill="#ff7373" d="M1339.7 928.7l12.4-2.3l0-9l-12.4 2.3z"/><path fill="#ff0000" d="M1339.7 919.7l12.4-2.3l-1.8-2.4l-12.5 2.2z"/><path fill="#a60000" d="M1327.2 931l-1.8-2.5l0-10.4l1.8 2.5z"/><path fill="#ff7373" d="M1327.2 931l12.5-2.3l0-10.4l-12.5 2.3z"/><path fill="#ff0000" d="M1327.2 920.6l12.5-2.3l-1.9-2.5l-12.4 2.3z"/><path fill="#a60000" d="M1302.4 935.6l-1.8-2.5l0-9.8l1.8 2.5z"/><path fill="#ff7373" d="M1302.4 935.6l12.4-2.3l0-9.8l-12.4 2.3z"/><path fill="#ff0000" d="M1302.4 925.8l12.4-2.3l-1.8-2.5l-12.4 2.3z"/><path fill="#ff7373" d="M1366.3 926.6l12.5-2.3l0-3l-12.5 2.3z"/><path fill="#ff0000" d="M1366.3 923.6l12.5-2.3l-1.8-2.4l-12.5 2.3z"/><path fill="#ff7373" d="M1353.9 928.9l12.4-2.3l0-4l-12.4 2.3z"/><path fill="#ff0000" d="M1353.9 924.9l12.4-2.3l-1.8-2.4l-12.4 2.2zM1341.5 927.2l12.4-2.3l-1.8-2.5l-12.4 2.3zM1329 929.5l12.5-2.3l-1.8-2.5l-12.5 2.3z"/><path fill="#a60000" d="M1316.6 935.8l-1.8-2.5l0-10l1.8 2.5z"/><path fill="#ff7373" d="M1316.6 935.8l12.4-2.3l0-10l-12.4 2.3z"/><path fill="#ff0000" d="M1316.6 925.8l12.4-2.3l-1.8-2.5l-12.4 2.3zM1304.2 937.7l12.4-2.2l-1.8-2.5l-12.4 2.3z"/><path fill="#ff7373" d="M1291.8 940.3l12.4-2.3l0-7l-12.4 2.3z"/><path fill="#ff0000" d="M1291.8 933.3l12.4-2.3l-1.8-2.4l-12.5 2.2z"/><path fill="#a60000" d="M1266.9 944.9l-1.8-2.5l0-65.1l1.8 2.5z"/><path fill="#ff7373" d="M1266.9 944.9l12.4-2.3l0-65.1l-12.4 2.3z"/><path fill="#ff0000" d="M1266.9 879.8l12.4-2.3l-1.8-2.5l-12.4 2.3z"/><path fill="#a60000" d="M1242 949.4l-1.8-2.4l0-50.6l1.8 2.4z"/><path fill="#ff7373" d="M1242 949.4l12.5-2.2l0-50.6l-12.5 2.2z"/><path fill="#ff0000" d="M1242 898.8l12.5-2.2l-1.9-2.5l-12.4 2.3zM1368.2 928.8l12.4-2.3l-1.8-2.5l-12.5 2.3z"/><path fill="#ff7373" d="M1355.7 931.4l12.5-2.3l0-3l-12.5 2.3z"/><path fill="#ff0000" d="M1355.7 928.4l12.5-2.3l-1.9-2.5l-12.4 2.3z"/><path fill="#ff7373" d="M1343.3 933.7l12.4-2.3l0-5.3l-12.4 2.3z"/><path fill="#ff0000" d="M1343.3 928.4l12.4-2.3l-1.8-2.5l-12.4 2.3z"/><path fill="#ff7373" d="M1330.9 935.9l12.4-2.2l0-5.9l-12.4 2.2z"/><path fill="#ff0000" d="M1330.9 930l12.4-2.2l-1.8-2.5l-12.5 2.3z"/><path fill="#a60000" d="M1318.4 938.2l-1.8-2.4l0-7.3l1.8 2.4z"/><path fill="#ff7373" d="M1318.4 938.2l12.5-2.3l0-7.3l-12.5 2.3z"/><path fill="#ff0000" d="M1318.4 930.9l12.5-2.3l-1.9-2.4l-12.4 2.3zM1306 940.2l12.4-2.3l-1.8-2.4l-12.4 2.2z"/><path fill="#ff7373" d="M1293.6 942.8l12.4-2.3l0-5l-12.4 2.3z"/><path fill="#ff0000" d="M1293.6 937.8l12.4-2.3l-1.8-2.5l-12.4 2.3z"/><path fill="#a60000" d="M1281.1 945.1l-1.8-2.5l0-13.3l1.8 2.5z"/><path fill="#ff7373" d="M1281.1 945.1l12.5-2.3l0-13.3l-12.5 2.3z"/><path fill="#ff0000" d="M1281.1 931.8l12.5-2.3l-1.8-2.5l-12.5 2.3z"/><path fill="#a60000" d="M1256.3 949.6l-1.8-2.4l0-50l1.8 2.4z"/><path fill="#ff7373" d="M1256.3 949.6l12.4-2.2l0-50l-12.4 2.2z"/><path fill="#ff0000" d="M1256.3 899.6l12.4-2.2l-1.8-2.5l-12.4 2.3z"/><path fill="#ff7373" d="M1283 947.5l12.4-2.2l0-2l-12.4 2.2z"/><path fill="#ff0000" d="M1283 945.5l12.4-2.2l-1.8-2.5l-12.5 2.3z"/><path fill="#ff7373" d="M1270.5 949.8l12.5-2.3l0-4.3l-12.5 2.3z"/><path fill="#ff0000" d="M1270.5 945.5l12.5-2.3l-1.9-2.4l-12.4 2.3z"/><path fill="#ff7373" d="M1258.1 952.1l12.4-2.3l0-6l-12.4 2.3z"/><path fill="#ff0000" d="M1258.1 946.1l12.4-2.3l-1.8-2.4l-12.4 2.2z"/><path fill="#ff7373" d="M1245.7 954.4l12.4-2.3l0-16.7l-12.4 2.3z"/><path fill="#ff0000" d="M1245.7 937.7l12.4-2.3l-1.8-2.5l-12.5 2.3z"/><path fill="#a60000" d="M1233.2 956.7l-1.8-2.5l0-22.4l1.8 2.5z"/><path fill="#ff7373" d="M1233.2 956.7l12.5-2.3l0-22.4l-12.5 2.3z"/><path fill="#ff0000" d="M1233.2 934.3l12.5-2.3l-1.9-2.5l-12.4 2.3z"/><path fill="#a60000" d="M1220.8 959l-1.8-2.5l0-10.8l1.8 2.5z"/><path fill="#ff7373" d="M1220.8 959l12.4-2.3l0-10.8l-12.4 2.3z"/><path fill="#ff0000" d="M1220.8 948.2l12.4-2.3l-1.8-2.5l-12.4 2.3z"/></g>

<g stroke="#000" stroke-linecap="butt"><path d="M276 1248.3L474.9 1211.8L402.3 1112.8L203.4 1149.3z" fill="none" stroke-width="2.5" stroke-linejoin="miter"/><path d="M325.7 1239.2L321.8 1233.8" stroke-width="1"/><path d="M253.1 1140.2L257 1145.5" stroke-width="1"/><path d="M375.4 1230L371.5 1224.7" stroke-width="1"/><path d="M302.9 1131L306.8 1136.4" stroke-width="1"/><path d="M425.2 1220.9L421.3 1215.6" stroke-width="1"/><path d="M352.6 1121.9L356.5 1127.3" stroke-width="1"/><path d="M266.9 1235.9L272.3 1234.9" stroke-width="1"/><path d="M465.8 1199.4L460.5 1200.4" stroke-width="1"/><path d="M257.9 1223.5L268.6 1221.6" stroke-width="1"/><path d="M456.8 1187L446 1189" stroke-width="1"/><path d="M248.8 1211.2L254.1 1210.2" stroke-width="1"/><path d="M447.7 1174.7L442.3 1175.7" stroke-width="1"/><path d="M239.7 1198.8L250.4 1196.8" stroke-width="1"/><path d="M438.6 1162.3L427.9 1164.3" stroke-width="1"/><path d="M230.6 1186.4L236 1185.4" stroke-width="1"/><path d="M429.5 1149.9L424.2 1150.9" stroke-width="1"/><path d="M221.6 1174L232.3 1172.1" stroke-width="1"/><path d="M420.4 1137.5L409.7 1139.5" stroke-width="1"/><path d="M212.5 1161.7L217.8 1160.7" stroke-width="1"/><path d="M411.4 1125.2L406 1126.2" stroke-width="1"/><path d="M203.4 1150.3L203.4 979.3" stroke-width="2.5"/><path d="M203.4 1139.3L209 1138.3" stroke-width="1"/><path d="M203.4 1133.5L209 1132.4" stroke-width="1"/><path d="M203.4 1129.3L209 1128.3" stroke-width="1"/><path d="M203.4 1126.1L209 1125.1" stroke-width="1"/><path d="M203.4 1123.5L209 1122.4" stroke-width="1"/><path d="M203.4 1121.2L209 1120.2" stroke-width="1"/><path d="M203.4 1119.3L209 1118.3" stroke-width="1"/><path d="M203.4 1117.6L209 1116.6" stroke-width="1"/><path d="M203.4 1116.1L215.1 1114" stroke-width="1"/><path d="M203.4 1106.1L209 1105.1" stroke-width="1"/><path d="M203.4 1100.3L209 1099.2" stroke-width="1"/><path d="M203.4 1096.1L209 1095.1" stroke-width="1"/><path d="M203.4 1092.9L209 1091.9" stroke-width="1"/><path d="M203.4 1090.3L209 1089.2" stroke-width="1"/><path d="M203.4 1088L209 1087" stroke-width="1"/><path d="M203.4 1086.1L209 1085.1" stroke-width="1"/><path d="M203.4 1084.4L209 1083.4" stroke-width="1"/><path d="M203.4 1082.9L215.1 1080.8" stroke-width="1"/><path d="M203.4 1072.9L209 1071.9" stroke-width="1"/><path d="M203.4 1067.1L209 1066" stroke-width="1"/><path d="M203.4 1062.9L209 1061.9" stroke-width="1"/><path d="M203.4 1059.7L209 1058.7" stroke-width="1"/><path d="M203.4 1057.1L209 1056" stroke-width="1"/><path d="M203.4 1054.8L209 1053.8" stroke-width="1"/><path d="M203.4 1052.9L209 1051.9" stroke-width="1"/><path d="M203.4 1051.2L209 1050.2" stroke-width="1"/><path d="M203.4 1049.7L215.1 1047.6" stroke-width="1"/><path d="M203.4 1039.7L209 1038.7" stroke-width="1"/><path d="M203.4 1033.9L209 1032.8" stroke-width="1"/><path d="M203.4 1029.7L209 1028.7" stroke-width="1"/><path d="M203.4 1026.5L209 1025.5" stroke-width="1"/><path d="M203.4 1023.9L209 1022.8" stroke-width="1"/><path d="M203.4 1021.6L209 1020.6" stroke-width="1"/><path d="M203.4 1019.7L209 1018.7" stroke-width="1"/><path d="M203.4 1018L209 1017" stroke-width="1"/><path d="M203.4 1016.5L215.1 1014.4" stroke-width="1"/><path d="M203.4 1006.5L209 1005.5" stroke-width="1"/><path d="M203.4 1000.7L209 999.6" stroke-width="1"/><path d="M203.4 996.5L209 995.5" stroke-width="1"/><path d="M203.4 993.3L209 992.3" stroke-width="1"/><path d="M203.4 990.7L209 989.6" stroke-width="1"/><path d="M203.4 988.4L209 987.4" stroke-width="1"/><path d="M203.4 986.5L209 985.5" stroke-width="1"/><path d="M203.4 984.8L209 983.8" stroke-width="1"/><path d="M203.4 983.3L215.1 981.2" stroke-width="1"/></g>
<text transform="matrix(0 -0.866 1.046 -0.192 193.4 1116.1)" font-size="20.8" text-anchor="middle">10<tspan font-size="14.6" dy="-8">1</tspan></text>
<text transform="matrix(0 -0.866 1.046 -0.192 193.4 1082.9)" font-size="20.8" text-anchor="middle">10<tspan font-size="14.6" dy="-8">2</tspan></text>
<text transform="matrix(0 -0.866 1.046 -0.192 193.4 1049.7)" font-size="20.8" text-anchor="middle">10<tspan font-size="14.6" dy="-8">3</tspan></text>
<text transform="matrix(0 -0.866 1.046 -0.192 193.4 1016.5)" font-size="20.8" text-anchor="middle">10<tspan font-size="14.6" dy="-8">4</tspan></text>
<text transform="matrix(0 -0.866 1.046 -0.192 193.4 983.3)" font-size="20.8" text-anchor="middle">10<tspan font-size="14.6" dy="-8">5</tspan></text>
<text transform="matrix(0.934 -0.171 0.341 0.465 285 1260.6)" font-size="20.4" text-anchor="middle">4</text><text transform="matrix(0.934 -0.171 0.341 0.465 334.8 1251.5)" font-size="20.4" text-anchor="middle">5</text><text transform="matrix(0.934 -0.171 0.341 0.465 384.5 1242.4)" font-size="20.4" text-anchor="middle">6</text><text transform="matrix(0.934 -0.171 0.341 0.465 434.2 1233.2)" font-size="20.4" text-anchor="middle">7</text><text transform="matrix(0.934 -0.171 0.341 0.465 483.9 1224.1)" font-size="20.4" text-anchor="middle">8</text><text transform="matrix(0.341 0.465 -0.934 0.171 250.8 1252.9)" font-size="20.4" text-anchor="middle">0</text><text transform="matrix(0.341 0.465 -0.934 0.171 232.6 1228.2)" font-size="20.4" text-anchor="middle">100</text><text transform="matrix(0.341 0.465 -0.934 0.171 214.5 1203.4)" font-size="20.4" text-anchor="middle">200</text><text transform="matrix(0.341 0.465 -0.934 0.171 196.3 1178.7)" font-size="20.4" text-anchor="middle">300</text><text transform="matrix(0.341 0.465 -0.934 0.171 178.2 1153.9)" font-size="20.4" text-anchor="middle">400</text><text transform="matrix(0.934 -0.171 0.327 0.446 396.8 1259.1)" font-size="29" text-anchor="middle">Magnitude</text><text transform="matrix(0.327 0.446 -0.934 0.171 186 1208.7)" font-size="29" text-anchor="middle">Distance (km)</text>
<g stroke="#000" stroke-width="0.4" stroke-linejoin="round"><path fill="#808080" d="M391.7 1117.6l12.4-2.3l0-91.6l-12.4 2.3z"/><path fill="#0d0d0d" d="M391.7 1026l12.4-2.3l-1.8-2.4l-12.4 2.2z"/><path fill="#808080" d="M379.3 1119.8l12.4-2.2l0-99.3l-12.4 2.3z"/><path fill="#0d0d0d" d="M379.3 1020.6l12.4-2.3l-1.8-2.5l-12.5 2.3z"/><path fill="#808080" d="M366.8 1122.1l12.5-2.3l0-99.3l-12.5 2.3z"/><path fill="#0d0d0d" d="M366.8 1022.8l12.5-2.3l-1.9-2.4l-12.4 2.2z"/><path fill="#808080" d="M354.4 1124.4l12.4-2.3l0-103.1l-12.4 2.3z"/><path fill="#0d0d0d" d="M354.4 1021.3l12.4-2.3l-1.8-2.4l-12.4 2.2z"/><path fill="#0d0d0d" d="M342 1126.7l-1.9-2.5l0-109.3l1.9 2.5z"/><path fill="#808080" d="M342 1126.7l12.4-2.3l0-109.3l-12.4 2.3z"/><path fill="#0d0d0d" d="M342 1017.4l12.4-2.3l-1.8-2.5l-12.5 2.3z"/><path fill="#0d0d0d" d="M329.5 1129l-1.8-2.5l0-106.9l1.8 2.5z"/><path fill="#808080" d="M329.5 1129l12.5-2.3l0-106.9l-12.5 2.3z"/><path fill="#0d0d0d" d="M329.5 1022.1l12.5-2.3l-1.9-2.5l-12.4 2.3zM317.1 1035.8l12.4-2.3l-1.8-2.5l-12.4 2.3z"/><path fill="#0d0d0d" d="M304.7 1133.5l-1.8-2.5l0-80.7l1.8 2.5z"/><path fill="#0d0d0d" d="M304.7 1052.8l12.4-2.3l-1.8-2.5l-12.4 2.3zM381.1 1063.7l12.4-2.3l-1.8-2.5l-12.4 2.3zM368.6 1051.3l12.5-2.2l-1.8-2.5l-12.5 2.3zM343.8 1048.1l12.4-2.2l-1.8-2.5l-12.4 2.3z"/><path fill="#808080" d="M318.9 1133.7l12.4-2.3l0-98.2l-12.4 2.3z"/><path fill="#0d0d0d" d="M318.9 1035.5l12.4-2.3l-1.8-2.5l-12.4 2.3z"/><path fill="#808080" d="M395.3 1122.5l12.4-2.3l0-58.7l-12.4 2.3z"/><path fill="#0d0d0d" d="M395.3 1063.8l12.4-2.3l-1.8-2.5l-12.4 2.3z"/><path fill="#808080" d="M382.9 1124.8l12.4-2.3l0-59.8l-12.4 2.3z"/><path fill="#0d0d0d" d="M382.9 1065l12.4-2.3l-1.8-2.5l-12.4 2.3z"/><path fill="#0d0d0d" d="M358 1129.3l-1.8-2.4l0-84.8l1.8 2.5z"/><path fill="#808080" d="M358 1129.3l12.5-2.2l0-84.8l-12.5 2.3z"/><path fill="#0d0d0d" d="M358 1044.6l12.5-2.3l-1.9-2.4l-12.4 2.2zM397.1 1074.3l12.5-2.3l-1.9-2.4l-12.4 2.2zM372.3 1052.4l12.4-2.3l-1.8-2.5l-12.4 2.3zM347.4 1048.7l12.4-2.2l-1.8-2.5l-12.4 2.3zM335 1042l12.4-2.3l-1.8-2.5l-12.4 2.3z"/><path fill="#808080" d="M398.9 1127.5l12.5-2.3l0-51.3l-12.5 2.3z"/><path fill="#0d0d0d" d="M398.9 1076.2l12.5-2.3l-1.8-2.4l-12.5 2.3z"/><path fill="#808080" d="M374.1 1132l12.4-2.3l0-78.8l-12.4 2.2z"/><path fill="#0d0d0d" d="M374.1 1053.1l12.4-2.2l-1.8-2.5l-12.4 2.3z"/><path fill="#808080" d="M336.8 1138.9l12.4-2.3l0-94.5l-12.4 2.3z"/><path fill="#0d0d0d" d="M336.8 1044.4l12.4-2.3l-1.8-2.5l-12.4 2.3z"/><path fill="#808080" d="M324.4 1141.1l12.4-2.2l0-101.8l-12.4 2.3z"/><path fill="#0d0d0d" d="M324.4 1039.4l12.4-2.3l-1.8-2.5l-12.5 2.3zM400.8 1079.6l12.4-2.3l-1.8-2.5l-12.5 2.3z"/><path fill="#808080" d="M363.5 1136.8l12.4-2.3l0-88.9l-12.4 2.3z"/><path fill="#0d0d0d" d="M363.5 1047.9l12.4-2.3l-1.8-2.4l-12.4 2.2z"/><path fill="#0d0d0d" d="M351 1139.1l-1.8-2.5l0-90.2l1.8 2.5z"/><path fill="#808080" d="M351 1139.1l12.5-2.3l0-90.2l-12.5 2.3z"/><path fill="#0d0d0d" d="M351 1048.9l12.5-2.3l-1.8-2.5l-12.5 2.3z"/><path fill="#808080" d="M328 1146.1l12.4-2.3l0-103.6l-12.4 2.3z"/><path fill="#0d0d0d" d="M328 1042.5l12.4-2.3l-1.8-2.5l-12.4 2.3z"/><path fill="#808080" d="M379.5 1139.4l12.5-2.2l0-80.3l-12.5 2.2z"/><path fill="#0d0d0d" d="M379.5 1059.1l12.5-2.2l-1.9-2.5l-12.4 2.3z"/><path fill="#808080" d="M329.8 1148.6l12.4-2.3l0-102.9l-12.4 2.3z"/><path fill="#0d0d0d" d="M329.8 1045.7l12.4-2.3l-1.8-2.4l-12.4 2.2z"/><path fill="#808080" d="M368.9 1144.2l12.4-2.3l0-89.8l-12.4 2.2z"/><path fill="#0d0d0d" d="M368.9 1054.3l12.4-2.2l-1.8-2.5l-12.4 2.3z"/><path fill="#0d0d0d" d="M306.8 1155.6l-1.9-2.5l0-106.6l1.9 2.5z"/><path fill="#0d0d0d" d="M306.8 1049l12.4-2.3l-1.8-2.5l-12.5 2.3z"/><path fill="#808080" d="M383.2 1144.4l12.4-2.3l0-76.2l-12.4 2.3z"/><path fill="#0d0d0d" d="M383.2 1068.2l12.4-2.3l-1.8-2.5l-12.5 2.3z"/><path fill="#808080" d="M370.7 1146.7l12.5-2.3l0-85.8l-12.5 2.3z"/><path fill="#0d0d0d" d="M370.7 1060.9l12.5-2.3l-1.9-2.4l-12.4 2.2z"/><path fill="#0d0d0d" d="M358.3 1149l-1.8-2.5l0-95.7l1.8 2.5z"/><path fill="#808080" d="M358.3 1149l12.4-2.3l0-95.7l-12.4 2.3z"/><path fill="#0d0d0d" d="M358.3 1053.3l12.4-2.3l-1.8-2.4l-12.4 2.2z"/><path fill="#808080" d="M345.9 1151.2l12.4-2.2l0-93.7l-12.4 2.3z"/><path fill="#0d0d0d" d="M345.9 1057.6l12.4-2.3l-1.8-2.4l-12.5 2.2z"/><path fill="#808080" d="M321 1155.8l12.4-2.3l0-116.1l-12.4 2.3z"/><path fill="#0d0d0d" d="M321 1039.7l12.4-2.3l-1.8-2.5l-12.4 2.3z"/><path fill="#0d0d0d" d="M308.6 1158.1l-1.8-2.5l0-111.8l1.8 2.5z"/><path fill="#0d0d0d" d="M308.6 1046.3l12.4-2.3l-1.8-2.4l-12.4 2.2z"/><path fill="#0d0d0d" d="M409.8 1142.3l-1.8-2.5l0-66.3l1.8 2.5z"/><path fill="#808080" d="M409.8 1142.3l12.5-2.3l0-66.3l-12.5 2.3z"/><path fill="#0d0d0d" d="M409.8 1076l12.5-2.3l-1.9-2.5l-12.4 2.3z"/><path fill="#808080" d="M397.4 1144.6l12.4-2.3l0-63.9l-12.4 2.3z"/><path fill="#0d0d0d" d="M397.4 1080.7l12.4-2.3l-1.8-2.5l-12.4 2.3z"/><path fill="#808080" d="M385 1146.9l12.4-2.3l0-75.7l-12.4 2.3z"/><path fill="#0d0d0d" d="M385 1071.2l12.4-2.3l-1.8-2.5l-12.4 2.3zM360.1 1062.1l12.4-2.3l-1.8-2.5l-12.4 2.3z"/><path fill="#808080" d="M347.7 1153.7l12.4-2.3l0-91.4l-12.4 2.3z"/><path fill="#0d0d0d" d="M347.7 1062.3l12.4-2.3l-1.8-2.4l-12.4 2.3z"/><path fill="#0d0d0d" d="M335.2 1156l-1.8-2.5l0-107.6l1.8 2.5z"/><path fill="#808080" d="M335.2 1156l12.5-2.3l0-107.6l-12.5 2.3z"/><path fill="#0d0d0d" d="M335.2 1048.4l12.5-2.3l-1.8-2.5l-12.5 2.3z"/><path fill="#808080" d="M322.8 1158.3l12.4-2.3l0-106.3l-12.4 2.3z"/><path fill="#0d0d0d" d="M322.8 1052l12.4-2.3l-1.8-2.5l-12.4 2.3z"/><path fill="#0d0d0d" d="M310.4 1160.6l-1.8-2.5l0-117l1.8 2.5z"/><path fill="#0d0d0d" d="M411.6 1085.6l12.5-2.3l-1.8-2.5l-12.5 2.3z"/><path fill="#808080" d="M361.9 1153.9l12.5-2.3l0-90.3l-12.5 2.3z"/><path fill="#0d0d0d" d="M361.9 1063.6l12.5-2.3l-1.9-2.4l-12.4 2.2z"/><path fill="#808080" d="M349.5 1156.2l12.4-2.3l0-91.3l-12.4 2.3z"/><path fill="#0d0d0d" d="M349.5 1064.9l12.4-2.3l-1.8-2.5l-12.4 2.3z"/><path fill="#0d0d0d" d="M337.1 1158.5l-1.9-2.5l0-106.8l1.9 2.5z"/><path fill="#808080" d="M337.1 1158.5l12.4-2.3l0-106.8l-12.4 2.3z"/><path fill="#0d0d0d" d="M337.1 1051.7l12.4-2.3l-1.8-2.5l-12.5 2.3z"/><path fill="#0d0d0d" d="M312.2 1163l-1.8-2.4l0-122.2l1.8 2.4z"/><path fill="#0d0d0d" d="M312.2 1040.8l12.4-2.3l-1.8-2.4l-12.4 2.3z"/><path fill="#808080" d="M413.5 1147.3l12.4-2.3l0-59.4l-12.4 2.3z"/><path fill="#0d0d0d" d="M413.5 1087.9l12.4-2.3l-1.8-2.4l-12.5 2.2z"/><path fill="#808080" d="M363.7 1156.4l12.5-2.3l0-88.4l-12.5 2.3z"/><path fill="#0d0d0d" d="M363.7 1068l12.5-2.3l-1.8-2.4l-12.5 2.2z"/><path fill="#0d0d0d" d="M314 1165.5l-1.8-2.5l0-126.4l1.8 2.5z"/><path fill="#0d0d0d" d="M314 1039.1l12.4-2.3l-1.8-2.5l-12.4 2.3zM415.3 1090.9l12.4-2.3l-1.8-2.5l-12.4 2.3z"/><path fill="#808080" d="M390.4 1154.3l12.4-2.3l0-79.9l-12.4 2.3z"/><path fill="#0d0d0d" d="M390.4 1074.4l12.4-2.3l-1.8-2.4l-12.4 2.2z"/><path fill="#0d0d0d" d="M378 1156.6l-1.8-2.5l0-87.1l1.8 2.5z"/><path fill="#808080" d="M378 1156.6l12.4-2.3l0-87.1l-12.4 2.3z"/><path fill="#0d0d0d" d="M378 1069.5l12.4-2.3l-1.8-2.5l-12.4 2.3z"/><path fill="#808080" d="M353.1 1161.1l12.5-2.2l0-93.7l-12.5 2.2z"/><path fill="#0d0d0d" d="M353.1 1067.4l12.5-2.2l-1.9-2.5l-12.4 2.3z"/><path fill="#0d0d0d" d="M340.7 1163.4l-1.8-2.5l0-110.4l1.8 2.4z"/><path fill="#808080" d="M340.7 1163.4l12.4-2.3l0-110.4l-12.4 2.2z"/><path fill="#0d0d0d" d="M340.7 1052.9l12.4-2.2l-1.8-2.5l-12.4 2.3z"/><path fill="#0d0d0d" d="M315.8 1168l-1.8-2.5l0-132l1.8 2.5z"/><path fill="#808080" d="M315.8 1168l12.5-2.3l0-132l-12.5 2.3z"/><path fill="#0d0d0d" d="M315.8 1036l12.5-2.3l-1.9-2.4l-12.4 2.2zM417.1 1091.5l12.4-2.3l-1.8-2.4l-12.4 2.2zM392.2 1083.8l12.5-2.3l-1.9-2.5l-12.4 2.3z"/><path fill="#808080" d="M379.8 1159l12.4-2.2l0-80.7l-12.4 2.3z"/><path fill="#0d0d0d" d="M379.8 1078.4l12.4-2.3l-1.8-2.5l-12.4 2.3z"/><path fill="#808080" d="M354.9 1163.6l12.5-2.3l0-91.6l-12.5 2.3z"/><path fill="#0d0d0d" d="M354.9 1072l12.5-2.3l-1.8-2.4l-12.5 2.2zM342.5 1069.5l12.4-2.3l-1.8-2.5l-12.4 2.3zM330.1 1056.4l12.4-2.3l-1.8-2.4l-12.4 2.2zM418.9 1093.1l12.4-2.3l-1.8-2.5l-12.4 2.3z"/><path fill="#808080" d="M369.2 1163.8l12.4-2.3l0-87.4l-12.4 2.3z"/><path fill="#0d0d0d" d="M369.2 1076.4l12.4-2.3l-1.8-2.4l-12.4 2.2z"/><path fill="#808080" d="M331.9 1170.6l12.4-2.2l0-112.5l-12.4 2.3z"/><path fill="#0d0d0d" d="M331.9 1058.2l12.4-2.3l-1.8-2.5l-12.4 2.3z"/><path fill="#0d0d0d" d="M319.5 1172.9l-1.9-2.4l0-134.7l1.9 2.5z"/><path fill="#808080" d="M319.5 1172.9l12.4-2.3l0-134.6l-12.4 2.3z"/><path fill="#0d0d0d" d="M319.5 1038.3l12.4-2.3l-1.8-2.5l-12.5 2.3z"/><path fill="#808080" d="M420.7 1157.2l12.5-2.3l0-62.2l-12.5 2.3z"/><path fill="#0d0d0d" d="M420.7 1095l12.5-2.3l-1.9-2.5l-12.4 2.3zM371 1082.1l12.4-2.3l-1.8-2.5l-12.4 2.3z"/><path fill="#808080" d="M346.1 1170.8l12.5-2.2l0-100.4l-12.5 2.3z"/><path fill="#0d0d0d" d="M346.1 1070.5l12.5-2.3l-1.8-2.4l-12.5 2.2z"/><path fill="#808080" d="M321.3 1175.4l12.4-2.3l0-122.3l-12.4 2.3z"/><path fill="#0d0d0d" d="M321.3 1053.1l12.4-2.3l-1.8-2.5l-12.4 2.3z"/><path fill="#808080" d="M422.5 1159.6l12.5-2.3l0-60.9l-12.5 2.3z"/><path fill="#0d0d0d" d="M422.5 1098.7l12.5-2.3l-1.8-2.5l-12.5 2.3zM372.8 1083.9l12.4-2.3l-1.8-2.5l-12.4 2.3z"/><path fill="#808080" d="M360.4 1171l12.4-2.2l0-96.4l-12.4 2.3z"/><path fill="#0d0d0d" d="M360.4 1074.7l12.4-2.3l-1.8-2.4l-12.4 2.2z"/><path fill="#808080" d="M335.5 1175.6l12.5-2.3l0-107.1l-12.5 2.3z"/><path fill="#0d0d0d" d="M335.5 1068.5l12.5-2.3l-1.9-2.5l-12.4 2.3z"/><path fill="#0d0d0d" d="M310.7 1180.2l-1.9-2.5l0-137l1.9 2.5z"/><path fill="#808080" d="M310.7 1180.2l12.4-2.3l0-137l-12.4 2.3z"/><path fill="#0d0d0d" d="M310.7 1043.2l12.4-2.3l-1.8-2.5l-12.5 2.3z"/><path fill="#808080" d="M424.4 1162.1l12.4-2.3l0-54.8l-12.4 2.3z"/><path fill="#0d0d0d" d="M424.4 1107.3l12.4-2.3l-1.8-2.5l-12.5 2.3z"/><path fill="#808080" d="M374.6 1171.2l12.5-2.2l0-86.3l-12.5 2.3z"/><path fill="#0d0d0d" d="M374.6 1085l12.5-2.3l-1.9-2.5l-12.4 2.3zM324.9 1060.5l12.4-2.3l-1.8-2.4l-12.4 2.3z"/><path fill="#808080" d="M426.2 1164.6l12.4-2.3l0-53.7l-12.4 2.3z"/><path fill="#0d0d0d" d="M426.2 1110.9l12.4-2.3l-1.8-2.5l-12.4 2.3z"/><path fill="#0d0d0d" d="M388.9 1171.4l-1.8-2.4l0-87.6l1.8 2.5z"/><path fill="#808080" d="M388.9 1171.4l12.4-2.3l0-87.5l-12.4 2.3z"/><path fill="#0d0d0d" d="M388.9 1083.9l12.4-2.3l-1.8-2.5l-12.4 2.3zM364 1085.2l12.4-2.2l-1.8-2.5l-12.4 2.3z"/><path fill="#808080" d="M351.6 1178.3l12.4-2.3l0-102.4l-12.4 2.2z"/><path fill="#0d0d0d" d="M351.6 1075.8l12.4-2.2l-1.8-2.5l-12.4 2.3zM339.1 1072.4l12.5-2.3l-1.8-2.5l-12.5 2.3z"/><path fill="#808080" d="M326.7 1182.8l12.4-2.3l0-120.8l-12.4 2.3z"/><path fill="#0d0d0d" d="M326.7 1062l12.4-2.3l-1.8-2.4l-12.4 2.3z"/><path fill="#0d0d0d" d="M314.3 1185.1l-1.8-2.5l0-131.1l1.8 2.4z"/><path fill="#0d0d0d" d="M314.3 1053.9l12.4-2.2l-1.8-2.5l-12.4 2.3z"/><path fill="#808080" d="M428 1167.1l12.4-2.3l0-49.5l-12.4 2.2z"/><path fill="#0d0d0d" d="M428 1117.5l12.4-2.2l-1.8-2.5l-12.4 2.3zM415.6 1105.2l12.4-2.3l-1.8-2.5l-12.5 2.3z"/><path fill="#0d0d0d" d="M403.1 1171.6l-1.8-2.5l0-87.7l1.8 2.4z"/><path fill="#808080" d="M403.1 1171.6l12.5-2.3l0-87.7l-12.5 2.2z"/><path fill="#0d0d0d" d="M403.1 1083.8l12.5-2.2l-1.9-2.5l-12.4 2.3zM390.7 1095.2l12.4-2.3l-1.8-2.5l-12.4 2.3z"/><path fill="#808080" d="M378.3 1176.2l12.4-2.3l0-83.9l-12.4 2.3z"/><path fill="#0d0d0d" d="M378.3 1092.3l12.4-2.3l-1.8-2.5l-12.5 2.3zM353.4 1084.3l12.4-2.3l-1.8-2.4l-12.4 2.2z"/><path fill="#808080" d="M328.5 1185.3l12.5-2.3l0-120.1l-12.5 2.3z"/><path fill="#0d0d0d" d="M328.5 1065.2l12.5-2.3l-1.9-2.5l-12.4 2.3z"/><path fill="#0d0d0d" d="M316.1 1187.6l-1.8-2.5l0-133.6l1.8 2.5z"/><path fill="#0d0d0d" d="M316.1 1054l12.4-2.3l-1.8-2.5l-12.4 2.3zM429.8 1124.2l12.4-2.3l-1.8-2.5l-12.4 2.3zM417.4 1105.8l12.4-2.3l-1.8-2.5l-12.4 2.3zM392.5 1097.7l12.4-2.3l-1.8-2.5l-12.4 2.3zM380.1 1098.9l12.4-2.3l-1.8-2.4l-12.4 2.3z"/><path fill="#808080" d="M367.6 1180.9l12.5-2.2l0-95.1l-12.5 2.2z"/><path fill="#0d0d0d" d="M367.6 1085.8l12.5-2.2l-1.8-2.5l-12.5 2.3z"/><path fill="#0d0d0d" d="M317.9 1190.1l-1.8-2.5l0-144.5l1.8 2.4z"/><path fill="#808080" d="M317.9 1190.1l12.4-2.3l0-144.5l-12.4 2.2z"/><path fill="#0d0d0d" d="M317.9 1045.5l12.4-2.2l-1.8-2.5l-12.4 2.3z"/><path fill="#0d0d0d" d="M406.8 1176.6l-1.9-2.5l0-85.3l1.9 2.5z"/><path fill="#808080" d="M406.8 1176.6l12.4-2.3l0-85.3l-12.4 2.3z"/><path fill="#0d0d0d" d="M406.8 1091.3l12.4-2.3l-1.8-2.4l-12.5 2.2z"/><path fill="#808080" d="M357 1185.7l12.5-2.3l0-100.7l-12.5 2.3z"/><path fill="#0d0d0d" d="M357 1085l12.5-2.3l-1.9-2.5l-12.4 2.3z"/><path fill="#808080" d="M332.2 1190.3l12.4-2.3l0-122.2l-12.4 2.3z"/><path fill="#0d0d0d" d="M332.2 1068.1l12.4-2.3l-1.8-2.5l-12.5 2.3z"/><path fill="#0d0d0d" d="M307.3 1194.8l-1.8-2.5l0-133l1.8 2.5z"/><path fill="#0d0d0d" d="M307.3 1061.8l12.4-2.3l-1.8-2.4l-12.4 2.2zM408.6 1098l12.4-2.2l-1.8-2.5l-12.4 2.3z"/><path fill="#808080" d="M396.1 1181.3l12.5-2.3l0-82.2l-12.5 2.3z"/><path fill="#0d0d0d" d="M396.1 1099.1l12.5-2.3l-1.8-2.5l-12.5 2.3z"/><path fill="#808080" d="M383.7 1183.6l12.4-2.3l0-82.5l-12.4 2.3z"/><path fill="#0d0d0d" d="M383.7 1101.1l12.4-2.3l-1.8-2.5l-12.4 2.3z"/><path fill="#808080" d="M371.3 1185.9l12.4-2.3l0-94.2l-12.4 2.3z"/><path fill="#0d0d0d" d="M371.3 1091.7l12.4-2.3l-1.8-2.5l-12.4 2.3z"/><path fill="#808080" d="M346.4 1190.5l12.4-2.3l0-116.7l-12.4 2.3z"/><path fill="#0d0d0d" d="M346.4 1073.8l12.4-2.3l-1.8-2.4l-12.4 2.2z"/><path fill="#808080" d="M334 1192.7l12.4-2.2l0-119.9l-12.4 2.3z"/><path fill="#0d0d0d" d="M334 1072.9l12.4-2.3l-1.8-2.5l-12.4 2.3zM321.5 1064.7l12.5-2.3l-1.8-2.5l-12.5 2.3zM373.1 1095.9l12.4-2.3l-1.8-2.5l-12.4 2.3zM360.7 1092.8l12.4-2.3l-1.8-2.5l-12.5 2.3zM335.8 1078.6l12.4-2.2l-1.8-2.5l-12.4 2.3z"/><path fill="#0d0d0d" d="M310.9 1199.8l-1.8-2.5l0-143.1l1.8 2.5z"/><path fill="#0d0d0d" d="M310.9 1056.7l12.5-2.3l-1.9-2.4l-12.4 2.2z"/><path fill="#808080" d="M437.1 1179.4l12.4-2.3l0-45l-12.4 2.2z"/><path fill="#0d0d0d" d="M437.1 1134.3l12.4-2.2l-1.8-2.5l-12.5 2.3z"/><path fill="#808080" d="M424.6 1181.7l12.5-2.3l0-64.2l-12.5 2.3z"/><path fill="#0d0d0d" d="M424.6 1117.5l12.5-2.3l-1.9-2.4l-12.4 2.2z"/><path fill="#808080" d="M412.2 1184l12.4-2.3l0-86.5l-12.4 2.3z"/><path fill="#0d0d0d" d="M412.2 1097.5l12.4-2.3l-1.8-2.4l-12.4 2.2z"/><path fill="#808080" d="M387.3 1188.6l12.5-2.3l0-84.8l-12.5 2.3z"/><path fill="#0d0d0d" d="M387.3 1103.8l12.5-2.3l-1.9-2.4l-12.4 2.2z"/><path fill="#808080" d="M374.9 1190.8l12.4-2.2l0-94.3l-12.4 2.2z"/><path fill="#0d0d0d" d="M374.9 1096.5l12.4-2.2l-1.8-2.5l-12.4 2.3z"/><path fill="#808080" d="M362.5 1193.1l12.4-2.3l0-98.2l-12.4 2.2z"/><path fill="#0d0d0d" d="M362.5 1094.8l12.4-2.2l-1.8-2.5l-12.4 2.3zM350 1089.8l12.5-2.3l-1.8-2.4l-12.5 2.2z"/><path fill="#808080" d="M325.2 1200l12.4-2.3l0-133.8l-12.4 2.3z"/><path fill="#0d0d0d" d="M325.2 1066.2l12.4-2.3l-1.8-2.5l-12.4 2.3z"/><path fill="#0d0d0d" d="M312.7 1202.2l-1.8-2.4l0-146.8l1.8 2.5z"/><path fill="#808080" d="M312.7 1202.2l12.5-2.2l0-146.8l-12.5 2.3z"/><path fill="#0d0d0d" d="M312.7 1055.5l12.5-2.3l-1.8-2.4l-12.5 2.2z"/><path fill="#808080" d="M426.4 1184.2l12.5-2.3l0-62.6l-12.5 2.2z"/><path fill="#0d0d0d" d="M426.4 1121.5l12.5-2.2l-1.8-2.5l-12.5 2.3z"/><path fill="#0d0d0d" d="M401.6 1188.8l-1.8-2.5l0-89.3l1.8 2.5z"/><path fill="#808080" d="M401.6 1188.8l12.4-2.3l0-89.3l-12.4 2.3z"/><path fill="#0d0d0d" d="M401.6 1099.5l12.4-2.3l-1.8-2.4l-12.4 2.2zM389.1 1107.3l12.5-2.3l-1.8-2.4l-12.5 2.3z"/><path fill="#808080" d="M364.3 1195.6l12.4-2.3l0-95.6l-12.4 2.3z"/><path fill="#0d0d0d" d="M364.3 1100l12.4-2.3l-1.8-2.5l-12.4 2.3zM339.4 1079.7l12.5-2.3l-1.9-2.4l-12.4 2.2z"/><path fill="#808080" d="M314.6 1204.7l12.4-2.3l0-139.9l-12.4 2.2z"/><path fill="#0d0d0d" d="M314.6 1064.7l12.4-2.2l-1.8-2.5l-12.5 2.3z"/><path fill="#808080" d="M302.1 1207l12.5-2.3l0-142.3l-12.5 2.3z"/><path fill="#0d0d0d" d="M302.1 1064.7l12.5-2.3l-1.9-2.5l-12.4 2.3zM403.4 1109.8l12.4-2.3l-1.8-2.5l-12.4 2.3z"/><path fill="#808080" d="M391 1193.5l12.4-2.3l0-85.6l-12.4 2.2z"/><path fill="#0d0d0d" d="M391 1107.8l12.4-2.2l-1.8-2.5l-12.5 2.3zM378.5 1102.3l12.5-2.2l-1.9-2.5l-12.4 2.3z"/><path fill="#808080" d="M328.8 1204.9l12.4-2.3l0-132.8l-12.4 2.3z"/><path fill="#0d0d0d" d="M328.8 1072.1l12.4-2.3l-1.8-2.5l-12.4 2.3zM316.4 1073.1l12.4-2.3l-1.8-2.5l-12.4 2.3z"/><path fill="#0d0d0d" d="M291.5 1211.8l-1.8-2.5l0-152.3l1.8 2.5z"/><path fill="#0d0d0d" d="M291.5 1059.5l12.4-2.3l-1.8-2.5l-12.4 2.3z"/><path fill="#808080" d="M442.5 1186.9l12.4-2.3l0-45.5l-12.4 2.2z"/><path fill="#0d0d0d" d="M442.5 1141.3l12.4-2.2l-1.8-2.5l-12.4 2.3z"/><path fill="#808080" d="M430.1 1189.1l12.4-2.2l0-64.2l-12.4 2.3z"/><path fill="#0d0d0d" d="M430.1 1125l12.4-2.3l-1.8-2.5l-12.4 2.3zM417.6 1116.8l12.5-2.2l-1.8-2.5l-12.5 2.3zM367.9 1104.8l12.4-2.3l-1.8-2.5l-12.4 2.3z"/><path fill="#808080" d="M355.5 1202.8l12.4-2.3l0-112.1l-12.4 2.3z"/><path fill="#0d0d0d" d="M355.5 1090.7l12.4-2.3l-1.8-2.5l-12.4 2.3z"/><path fill="#808080" d="M330.6 1207.4l12.5-2.3l0-126.3l-12.5 2.3z"/><path fill="#0d0d0d" d="M330.6 1081.1l12.5-2.3l-1.9-2.5l-12.4 2.3z"/><path fill="#808080" d="M305.8 1212l12.4-2.3l0-141.5l-12.4 2.3z"/><path fill="#0d0d0d" d="M305.8 1070.5l12.4-2.3l-1.8-2.4l-12.5 2.2z"/><path fill="#0d0d0d" d="M293.3 1214.2l-1.8-2.4l0-158.3l1.8 2.5z"/><path fill="#808080" d="M293.3 1214.2l12.5-2.2l0-158.3l-12.5 2.3z"/><path fill="#0d0d0d" d="M293.3 1056l12.5-2.3l-1.9-2.5l-12.4 2.3zM444.3 1148.2l12.5-2.3l-1.9-2.5l-12.4 2.3zM419.5 1118.6l12.4-2.2l-1.8-2.5l-12.5 2.3z"/><path fill="#808080" d="M407 1196.2l12.5-2.3l0-85.3l-12.5 2.3z"/><path fill="#0d0d0d" d="M407 1110.9l12.5-2.3l-1.9-2.5l-12.4 2.3z"/><path fill="#0d0d0d" d="M382.2 1200.7l-1.9-2.4l0-99.9l1.9 2.5z"/><path fill="#808080" d="M382.2 1200.7l12.4-2.2l0-99.9l-12.4 2.3z"/><path fill="#0d0d0d" d="M382.2 1100.9l12.4-2.3l-1.8-2.4l-12.5 2.2z"/><path fill="#808080" d="M369.7 1203l12.5-2.3l0-97.1l-12.5 2.3z"/><path fill="#0d0d0d" d="M369.7 1105.9l12.5-2.3l-1.9-2.4l-12.4 2.2z"/><path fill="#808080" d="M357.3 1205.3l12.4-2.3l0-102.8l-12.4 2.2z"/><path fill="#0d0d0d" d="M357.3 1102.4l12.4-2.2l-1.8-2.5l-12.4 2.3z"/><path fill="#0d0d0d" d="M344.9 1207.6l-1.8-2.5l0-126.6l1.8 2.5z"/><path fill="#808080" d="M344.9 1207.6l12.4-2.3l0-126.6l-12.4 2.3z"/><path fill="#0d0d0d" d="M344.9 1081l12.4-2.3l-1.8-2.5l-12.4 2.3z"/><path fill="#808080" d="M320 1212.1l12.4-2.2l0-139l-12.4 2.3z"/><path fill="#0d0d0d" d="M320 1073.2l12.4-2.3l-1.8-2.5l-12.4 2.3z"/><path fill="#808080" d="M295.1 1216.7l12.5-2.3l0-150.7l-12.5 2.3z"/><path fill="#0d0d0d" d="M295.1 1066l12.5-2.3l-1.8-2.4l-12.5 2.2zM446.1 1150l12.5-2.3l-1.8-2.5l-12.5 2.3z"/><path fill="#808080" d="M433.7 1194.1l12.4-2.3l0-65.6l-12.4 2.3z"/><path fill="#0d0d0d" d="M433.7 1128.5l12.4-2.3l-1.8-2.5l-12.4 2.3z"/><path fill="#808080" d="M408.8 1198.6l12.5-2.2l0-79l-12.5 2.3z"/><path fill="#0d0d0d" d="M408.8 1119.7l12.5-2.3l-1.8-2.5l-12.5 2.3z"/><path fill="#808080" d="M396.4 1200.9l12.4-2.3l0-90.3l-12.4 2.2z"/><path fill="#0d0d0d" d="M396.4 1110.5l12.4-2.2l-1.8-2.5l-12.4 2.3z"/><path fill="#0d0d0d" d="M384 1203.2l-1.8-2.5l0-98.5l1.8 2.5z"/><path fill="#808080" d="M384 1203.2l12.4-2.3l0-98.5l-12.4 2.3z"/><path fill="#0d0d0d" d="M384 1104.7l12.4-2.3l-1.8-2.5l-12.4 2.3z"/><path fill="#808080" d="M359.1 1207.8l12.4-2.3l0-99.6l-12.4 2.2z"/><path fill="#0d0d0d" d="M359.1 1108.1l12.4-2.2l-1.8-2.5l-12.4 2.3z"/><path fill="#808080" d="M334.3 1212.3l12.4-2.2l0-127.8l-12.4 2.2z"/><path fill="#0d0d0d" d="M334.3 1084.5l12.4-2.2l-1.8-2.5l-12.5 2.3z"/><path fill="#808080" d="M321.8 1214.6l12.5-2.3l0-133.3l-12.5 2.3z"/><path fill="#0d0d0d" d="M321.8 1081.3l12.5-2.3l-1.9-2.5l-12.4 2.3zM447.9 1152.4l12.5-2.3l-1.8-2.5l-12.5 2.3zM435.5 1134.4l12.4-2.2l-1.8-2.5l-12.4 2.3z"/><path fill="#0d0d0d" d="M423.1 1198.8l-1.8-2.4l0-91.5l1.8 2.4z"/><path fill="#808080" d="M423.1 1198.8l12.4-2.2l0-91.6l-12.4 2.3z"/><path fill="#0d0d0d" d="M423.1 1107.3l12.4-2.3l-1.8-2.4l-12.4 2.3zM410.7 1122.6l12.4-2.3l-1.8-2.5l-12.5 2.3z"/><path fill="#808080" d="M398.2 1203.4l12.5-2.3l0-87.4l-12.5 2.3z"/><path fill="#0d0d0d" d="M398.2 1116l12.5-2.3l-1.9-2.4l-12.4 2.2z"/><path fill="#808080" d="M336.1 1214.8l12.4-2.3l0-124.8l-12.4 2.3z"/><path fill="#0d0d0d" d="M336.1 1090l12.4-2.3l-1.8-2.5l-12.4 2.3zM323.6 1084.4l12.5-2.2l-1.8-2.5l-12.5 2.3z"/><path fill="#808080" d="M311.2 1219.4l12.4-2.3l0-146.4l-12.4 2.3z"/><path fill="#0d0d0d" d="M311.2 1073l12.4-2.3l-1.8-2.4l-12.4 2.2z"/><path fill="#808080" d="M298.8 1221.7l12.4-2.3l0-150.2l-12.4 2.3z"/><path fill="#0d0d0d" d="M298.8 1071.5l12.4-2.3l-1.8-2.5l-12.4 2.3zM273.9 1065.1l12.4-2.3l-1.8-2.5l-12.4 2.3z"/><path fill="#808080" d="M449.8 1196.8l12.4-2.3l0-42.9l-12.4 2.3z"/><path fill="#0d0d0d" d="M449.8 1153.9l12.4-2.3l-1.8-2.5l-12.5 2.3z"/><path fill="#808080" d="M437.3 1199l12.5-2.2l0-62.6l-12.5 2.3z"/><path fill="#0d0d0d" d="M437.3 1136.5l12.5-2.3l-1.9-2.5l-12.4 2.3z"/><path fill="#808080" d="M424.9 1201.3l12.4-2.3l0-77l-12.4 2.3z"/><path fill="#0d0d0d" d="M424.9 1124.3l12.4-2.3l-1.8-2.5l-12.4 2.3z"/><path fill="#0d0d0d" d="M387.6 1208.2l-1.8-2.5l0-101l1.8 2.5z"/><path fill="#808080" d="M387.6 1208.2l12.4-2.3l0-101l-12.4 2.3z"/><path fill="#0d0d0d" d="M387.6 1107.2l12.4-2.3l-1.8-2.5l-12.4 2.3z"/><path fill="#808080" d="M375.2 1210.4l12.4-2.2l0-93.8l-12.4 2.3z"/><path fill="#0d0d0d" d="M375.2 1116.7l12.4-2.3l-1.8-2.5l-12.4 2.3z"/><path fill="#808080" d="M362.7 1212.7l12.5-2.3l0-97.1l-12.5 2.3z"/><path fill="#0d0d0d" d="M362.7 1115.6l12.5-2.3l-1.8-2.5l-12.5 2.3z"/><path fill="#808080" d="M300.6 1224.1l12.4-2.3l0-149.7l-12.4 2.3z"/><path fill="#0d0d0d" d="M300.6 1074.4l12.4-2.3l-1.8-2.5l-12.4 2.3z"/><path fill="#808080" d="M288.2 1226.4l12.4-2.3l0-159.6l-12.4 2.3z"/><path fill="#0d0d0d" d="M288.2 1066.8l12.4-2.3l-1.8-2.5l-12.5 2.3zM275.7 1064.8l12.5-2.3l-1.9-2.5l-12.4 2.3zM426.7 1127.9l12.4-2.2l-1.8-2.5l-12.4 2.3z"/><path fill="#808080" d="M401.9 1208.4l12.4-2.3l0-89.8l-12.4 2.3z"/><path fill="#0d0d0d" d="M401.9 1118.6l12.4-2.3l-1.8-2.4l-12.5 2.3z"/><path fill="#0d0d0d" d="M389.4 1210.6l-1.8-2.4l0-95.9l1.8 2.4z"/><path fill="#808080" d="M389.4 1210.6l12.5-2.2l0-96l-12.5 2.3z"/><path fill="#0d0d0d" d="M389.4 1114.7l12.5-2.3l-1.9-2.4l-12.4 2.3z"/><path fill="#808080" d="M352.1 1217.5l12.5-2.3l0-123l-12.5 2.3z"/><path fill="#0d0d0d" d="M352.1 1094.5l12.5-2.3l-1.9-2.5l-12.4 2.3zM339.7 1095.3l12.4-2.3l-1.8-2.5l-12.4 2.3z"/><path fill="#808080" d="M327.3 1222l12.4-2.2l0-137.7l-12.4 2.2z"/><path fill="#0d0d0d" d="M327.3 1084.3l12.4-2.2l-1.8-2.5l-12.4 2.3z"/><path fill="#0d0d0d" d="M314.8 1224.3l-1.8-2.5l0-145.9l1.8 2.5z"/><path fill="#808080" d="M314.8 1224.3l12.5-2.3l0-145.9l-12.5 2.3z"/><path fill="#0d0d0d" d="M314.8 1078.4l12.5-2.3l-1.8-2.5l-12.5 2.3zM302.4 1084.7l12.4-2.3l-1.8-2.5l-12.4 2.3z"/><path fill="#0d0d0d" d="M265.1 1233.5l-1.8-2.5l0-152l1.8 2.5z"/><path fill="#0d0d0d" d="M265.1 1081.5l12.4-2.3l-1.8-2.5l-12.4 2.3z"/><path fill="#808080" d="M453.4 1201.7l12.4-2.3l0-44l-12.4 2.3z"/><path fill="#0d0d0d" d="M453.4 1157.7l12.4-2.3l-1.8-2.4l-12.4 2.2z"/><path fill="#808080" d="M441 1204l12.4-2.3l0-60.9l-12.4 2.3z"/><path fill="#0d0d0d" d="M441 1143.1l12.4-2.3l-1.8-2.5l-12.5 2.3zM428.5 1129.5l12.5-2.2l-1.9-2.5l-12.4 2.3z"/><path fill="#808080" d="M416.1 1208.5l12.4-2.2l0-85.6l-12.4 2.3z"/><path fill="#0d0d0d" d="M416.1 1123l12.4-2.3l-1.8-2.5l-12.4 2.3z"/><path fill="#808080" d="M378.8 1215.4l12.4-2.3l0-92.6l-12.4 2.3z"/><path fill="#0d0d0d" d="M378.8 1122.8l12.4-2.3l-1.8-2.5l-12.4 2.3z"/><path fill="#808080" d="M353.9 1220l12.5-2.3l0-112.3l-12.5 2.3z"/><path fill="#0d0d0d" d="M353.9 1107.7l12.5-2.3l-1.8-2.5l-12.5 2.3z"/><path fill="#808080" d="M329.1 1224.5l12.4-2.3l0-133.8l-12.4 2.3z"/><path fill="#0d0d0d" d="M329.1 1090.7l12.4-2.3l-1.8-2.5l-12.4 2.3zM304.2 1086.5l12.5-2.3l-1.9-2.5l-12.4 2.3zM291.8 1077.7l12.4-2.3l-1.8-2.5l-12.4 2.3z"/><path fill="#808080" d="M279.4 1233.6l12.4-2.2l0-169.3l-12.4 2.2z"/><path fill="#0d0d0d" d="M279.4 1064.3l12.4-2.2l-1.8-2.5l-12.5 2.3z"/><path fill="#0d0d0d" d="M266.9 1235.9l-1.8-2.4l0-169.3l1.8 2.4z"/><path fill="#0d0d0d" d="M266.9 1066.6l12.5-2.3l-1.9-2.4l-12.4 2.3z"/><path fill="#808080" d="M455.2 1204.2l12.4-2.3l0-40.7l-12.4 2.3z"/><path fill="#0d0d0d" d="M455.2 1163.5l12.4-2.3l-1.8-2.5l-12.4 2.3z"/><path fill="#808080" d="M442.8 1206.5l12.4-2.3l0-57.6l-12.4 2.3z"/><path fill="#0d0d0d" d="M442.8 1148.9l12.4-2.3l-1.8-2.5l-12.4 2.3zM430.3 1130.1l12.5-2.3l-1.8-2.4l-12.5 2.2z"/><path fill="#808080" d="M417.9 1211l12.4-2.3l0-82.7l-12.4 2.3z"/><path fill="#0d0d0d" d="M417.9 1128.3l12.4-2.3l-1.8-2.5l-12.4 2.3z"/><path fill="#0d0d0d" d="M405.5 1213.3l-1.8-2.5l0-89.5l1.8 2.5z"/><path fill="#0d0d0d" d="M405.5 1123.8l12.4-2.3l-1.8-2.5l-12.4 2.3z"/><path fill="#808080" d="M393.1 1215.6l12.4-2.3l0-87.3l-12.4 2.2z"/><path fill="#0d0d0d" d="M393.1 1128.2l12.4-2.2l-1.8-2.5l-12.5 2.3zM380.6 1125.6l12.5-2.3l-1.9-2.5l-12.4 2.3zM368.2 1122.6l12.4-2.2l-1.8-2.5l-12.4 2.3z"/><path fill="#808080" d="M343.3 1224.7l12.5-2.3l0-128.6l-12.5 2.3z"/><path fill="#0d0d0d" d="M343.3 1096.1l12.5-2.3l-1.9-2.5l-12.4 2.3z"/><path fill="#808080" d="M330.9 1227l12.4-2.3l0-130.1l-12.4 2.3z"/><path fill="#0d0d0d" d="M330.9 1096.9l12.4-2.3l-1.8-2.5l-12.4 2.3z"/><path fill="#808080" d="M306 1231.6l12.5-2.3l0-143.2l-12.5 2.3z"/><path fill="#0d0d0d" d="M306 1088.4l12.5-2.3l-1.8-2.5l-12.5 2.3z"/><path fill="#808080" d="M293.6 1233.8l12.4-2.2l0-155.3l-12.4 2.2z"/><path fill="#0d0d0d" d="M293.6 1078.5l12.4-2.2l-1.8-2.5l-12.4 2.3z"/><path fill="#808080" d="M281.2 1236.1l12.4-2.3l0-168.5l-12.4 2.3z"/><path fill="#0d0d0d" d="M281.2 1067.6l12.4-2.3l-1.8-2.4l-12.4 2.2z"/><path fill="#0d0d0d" d="M268.7 1238.4l-1.8-2.5l0-169.3l1.8 2.5z"/><path fill="#0d0d0d" d="M268.7 1069.1l12.5-2.3l-1.8-2.5l-12.5 2.3z"/><path fill="#808080" d="M457 1206.7l12.5-2.3l0-29.4l-12.5 2.3z"/><path fill="#0d0d0d" d="M457 1177.3l12.5-2.3l-1.9-2.5l-12.4 2.3z"/><path fill="#808080" d="M444.6 1208.9l12.4-2.2l0-55l-12.4 2.2z"/><path fill="#0d0d0d" d="M444.6 1153.9l12.4-2.2l-1.8-2.5l-12.4 2.3z"/><path fill="#808080" d="M432.2 1211.2l12.4-2.3l0-79.1l-12.4 2.3z"/><path fill="#0d0d0d" d="M432.2 1132.1l12.4-2.3l-1.8-2.4l-12.5 2.2z"/><path fill="#808080" d="M419.7 1213.5l12.5-2.3l0-82.1l-12.5 2.3z"/><path fill="#0d0d0d" d="M419.7 1131.4l12.5-2.3l-1.9-2.5l-12.4 2.3z"/><path fill="#0d0d0d" d="M407.3 1215.8l-1.8-2.5l0-92.7l1.8 2.5z"/><path fill="#808080" d="M407.3 1215.8l12.4-2.3l0-92.7l-12.4 2.3z"/><path fill="#0d0d0d" d="M407.3 1123.1l12.4-2.3l-1.8-2.5l-12.4 2.3z"/><path fill="#808080" d="M394.9 1218.1l12.4-2.3l0-84.2l-12.4 2.3z"/><path fill="#0d0d0d" d="M394.9 1133.9l12.4-2.3l-1.8-2.4l-12.4 2.3z"/><path fill="#808080" d="M382.4 1220.3l12.5-2.2l0-93.4l-12.5 2.2z"/><path fill="#0d0d0d" d="M382.4 1126.9l12.5-2.2l-1.8-2.5l-12.5 2.3z"/><path fill="#808080" d="M370 1222.6l12.4-2.3l0-98.6l-12.4 2.3z"/><path fill="#0d0d0d" d="M370 1124l12.4-2.3l-1.8-2.4l-12.4 2.2zM357.6 1112l12.4-2.3l-1.8-2.4l-12.4 2.3z"/><path fill="#808080" d="M345.1 1227.2l12.5-2.3l0-119.5l-12.5 2.3z"/><path fill="#0d0d0d" d="M345.1 1107.7l12.5-2.3l-1.8-2.5l-12.5 2.3z"/><path fill="#808080" d="M332.7 1229.5l12.4-2.3l0-127.1l-12.4 2.2z"/><path fill="#0d0d0d" d="M332.7 1102.3l12.4-2.2l-1.8-2.5l-12.4 2.3z"/><path fill="#808080" d="M307.8 1234l12.5-2.2l0-142.6l-12.5 2.2z"/><path fill="#0d0d0d" d="M307.8 1091.4l12.5-2.2l-1.8-2.5l-12.5 2.3z"/><path fill="#808080" d="M283 1238.6l12.4-2.3l0-168l-12.4 2.3z"/><path fill="#0d0d0d" d="M283 1070.6l12.4-2.3l-1.8-2.5l-12.4 2.3z"/><path fill="#0d0d0d" d="M270.6 1240.9l-1.9-2.5l0-169.3l1.9 2.5z"/><path fill="#808080" d="M270.6 1240.9l12.4-2.3l0-169.3l-12.4 2.3z"/><path fill="#0d0d0d" d="M270.6 1071.6l12.4-2.3l-1.8-2.5l-12.5 2.3z"/><path fill="#808080" d="M446.4 1211.4l12.4-2.3l0-1.5l-12.4 2.3z"/><path fill="#0d0d0d" d="M446.4 1209.9l12.4-2.3l-1.8-2.4l-12.4 2.2z"/><path fill="#808080" d="M434 1213.7l12.4-2.3l0-43.7l-12.4 2.3z"/><path fill="#0d0d0d" d="M434 1170l12.4-2.3l-1.8-2.5l-12.4 2.3z"/><path fill="#808080" d="M421.5 1216l12.5-2.3l0-64.2l-12.5 2.3z"/><path fill="#0d0d0d" d="M421.5 1151.8l12.5-2.3l-1.8-2.5l-12.5 2.3z"/><path fill="#0d0d0d" d="M409.1 1218.3l-1.8-2.5l0-81.8l1.8 2.5z"/><path fill="#808080" d="M409.1 1218.3l12.4-2.3l0-81.8l-12.4 2.3z"/><path fill="#0d0d0d" d="M409.1 1136.5l12.4-2.3l-1.8-2.5l-12.4 2.3z"/><path fill="#0d0d0d" d="M396.7 1220.5l-1.8-2.4l0-80.5l1.8 2.4z"/><path fill="#808080" d="M396.7 1220.5l12.4-2.2l0-80.5l-12.4 2.2z"/><path fill="#0d0d0d" d="M396.7 1140l12.4-2.2l-1.8-2.5l-12.4 2.3z"/><path fill="#808080" d="M384.3 1222.8l12.4-2.3l0-73.3l-12.4 2.3z"/><path fill="#0d0d0d" d="M384.3 1149.5l12.4-2.3l-1.8-2.4l-12.5 2.2z"/><path fill="#808080" d="M371.8 1225.1l12.5-2.3l0-88.7l-12.5 2.3z"/><path fill="#0d0d0d" d="M371.8 1136.4l12.5-2.3l-1.9-2.5l-12.4 2.3z"/><path fill="#808080" d="M359.4 1227.4l12.4-2.3l0-113.5l-12.4 2.3z"/><path fill="#0d0d0d" d="M359.4 1113.9l12.4-2.3l-1.8-2.5l-12.4 2.3z"/><path fill="#808080" d="M347 1229.7l12.4-2.3l0-118.8l-12.4 2.2z"/><path fill="#0d0d0d" d="M347 1110.8l12.4-2.2l-1.8-2.5l-12.5 2.3z"/><path fill="#0d0d0d" d="M322.1 1234.2l-1.8-2.4l0-142.8l1.8 2.4z"/><path fill="#808080" d="M322.1 1234.2l12.4-2.3l0-142.8l-12.4 2.3z"/><path fill="#0d0d0d" d="M322.1 1091.4l12.4-2.3l-1.8-2.4l-12.4 2.3z"/><path fill="#808080" d="M297.2 1238.8l12.5-2.3l0-154.9l-12.5 2.3z"/><path fill="#0d0d0d" d="M297.2 1083.9l12.5-2.3l-1.9-2.5l-12.4 2.3z"/><path fill="#808080" d="M284.8 1241.1l12.4-2.3l0-165l-12.4 2.3z"/><path fill="#0d0d0d" d="M284.8 1076.1l12.4-2.3l-1.8-2.5l-12.4 2.3z"/><path fill="#0d0d0d" d="M272.4 1243.3l-1.8-2.4l0-169l1.8 2.4z"/><path fill="#808080" d="M272.4 1243.3l12.4-2.2l0-169l-12.4 2.2z"/><path fill="#0d0d0d" d="M272.4 1074.3l12.4-2.2l-1.8-2.5l-12.4 2.3z"/><path fill="#808080" d="M410.9 1220.7l12.5-2.2l0-58.8l-12.5 2.2z"/><path fill="#0d0d0d" d="M410.9 1161.9l12.5-2.2l-1.9-2.5l-12.4 2.3z"/><path fill="#808080" d="M398.5 1223l12.4-2.3l0-61.8l-12.4 2.3z"/><path fill="#0d0d0d" d="M398.5 1161.2l12.4-2.3l-1.8-2.4l-12.4 2.2z"/><path fill="#808080" d="M386.1 1225.3l12.4-2.3l0-70.7l-12.4 2.3z"/><path fill="#0d0d0d" d="M386.1 1154.6l12.4-2.3l-1.8-2.5l-12.4 2.3z"/><path fill="#808080" d="M373.6 1227.6l12.5-2.3l0-82.5l-12.5 2.3z"/><path fill="#0d0d0d" d="M373.6 1145.1l12.5-2.3l-1.8-2.5l-12.5 2.3z"/><path fill="#808080" d="M361.2 1229.9l12.4-2.3l0-108.8l-12.4 2.3z"/><path fill="#0d0d0d" d="M361.2 1121.1l12.4-2.3l-1.8-2.5l-12.4 2.3z"/><path fill="#808080" d="M348.8 1232.1l12.4-2.2l0-111.8l-12.4 2.2z"/><path fill="#0d0d0d" d="M348.8 1120.3l12.4-2.2l-1.8-2.5l-12.4 2.3z"/><path fill="#808080" d="M336.3 1234.4l12.5-2.3l0-126.5l-12.5 2.3z"/><path fill="#0d0d0d" d="M336.3 1107.9l12.5-2.3l-1.8-2.4l-12.5 2.2z"/><path fill="#808080" d="M323.9 1236.7l12.4-2.3l0-128.8l-12.4 2.3z"/><path fill="#0d0d0d" d="M323.9 1107.9l12.4-2.3l-1.8-2.5l-12.4 2.3z"/><path fill="#808080" d="M311.5 1239l12.4-2.3l0-144l-12.4 2.3z"/><path fill="#0d0d0d" d="M311.5 1095l12.4-2.3l-1.8-2.5l-12.4 2.3z"/><path fill="#808080" d="M299 1241.3l12.5-2.3l0-145l-12.5 2.3z"/><path fill="#0d0d0d" d="M299 1096.3l12.5-2.3l-1.8-2.5l-12.5 2.3z"/><path fill="#808080" d="M286.6 1243.5l12.4-2.2l0-155l-12.4 2.2z"/><path fill="#0d0d0d" d="M286.6 1088.5l12.4-2.2l-1.8-2.5l-12.4 2.3z"/><path fill="#0d0d0d" d="M274.2 1245.8l-1.8-2.5l0-158l1.8 2.5z"/><path fill="#808080" d="M274.2 1245.8l12.4-2.3l0-158l-12.4 2.3z"/><path fill="#0d0d0d" d="M274.2 1087.8l12.4-2.3l-1.8-2.4l-12.4 2.2z"/><path fill="#808080" d="M363 1232.3l12.4-2.3l0-46.5l-12.4 2.3z"/><path fill="#0d0d0d" d="M363 1185.8l12.4-2.3l-1.8-2.4l-12.4 2.3z"/><path fill="#808080" d="M350.6 1234.6l12.4-2.3l0-67l-12.4 2.3z"/><path fill="#0d0d0d" d="M350.6 1167.6l12.4-2.3l-1.8-2.4l-12.4 2.2z"/><path fill="#808080" d="M338.2 1236.9l12.4-2.3l0-86l-12.4 2.3z"/><path fill="#0d0d0d" d="M338.2 1150.9l12.4-2.3l-1.8-2.5l-12.5 2.3z"/><path fill="#808080" d="M325.7 1239.2l12.5-2.3l0-90.5l-12.5 2.3z"/><path fill="#0d0d0d" d="M325.7 1148.7l12.5-2.3l-1.9-2.5l-12.4 2.3z"/><path fill="#808080" d="M313.3 1241.5l12.4-2.3l0-105.9l-12.4 2.3z"/><path fill="#0d0d0d" d="M313.3 1135.6l12.4-2.3l-1.8-2.5l-12.4 2.3z"/><path fill="#808080" d="M300.9 1243.7l12.4-2.2l0-108.2l-12.4 2.2z"/><path fill="#0d0d0d" d="M300.9 1135.5l12.4-2.2l-1.8-2.5l-12.5 2.3z"/><path fill="#808080" d="M288.4 1246l12.5-2.3l0-121.4l-12.5 2.3z"/><path fill="#0d0d0d" d="M288.4 1124.6l12.5-2.3l-1.9-2.4l-12.4 2.2z"/><path fill="#0d0d0d" d="M276 1248.3l-1.8-2.5l0-124.4l1.8 2.5z"/><path fill="#808080" d="M276 1248.3l12.4-2.3l0-124.4l-12.4 2.3z"/><path fill="#0d0d0d" d="M276 1123.9l12.4-2.3l-1.8-2.5l-12.4 2.3z"/></g>

<g stroke="#000" stroke-linecap="butt"><path d="M578.5 1248.3L777.4 1211.8L704.8 1112.8L505.9 1149.3z" fill="none" stroke-width="2.5" stroke-linejoin="miter"/><path d="M628.2 1239.2L624.3 1233.8" stroke-width="1"/><path d="M555.6 1140.2L559.5 1145.5" stroke-width="1"/><path d="M678 1230L674 1224.7" stroke-width="1"/><path d="M605.4 1131L609.3 1136.4" stroke-width="1"/><path d="M727.7 1220.9L723.8 1215.6" stroke-width="1"/><path d="M655.1 1121.9L659 1127.3" stroke-width="1"/><path d="M569.4 1235.9L574.8 1234.9" stroke-width="1"/><path d="M768.3 1199.4L763 1200.4" stroke-width="1"/><path d="M560.4 1223.5L571.1 1221.6" stroke-width="1"/><path d="M759.2 1187L748.5 1189" stroke-width="1"/><path d="M551.3 1211.2L556.6 1210.2" stroke-width="1"/><path d="M750.2 1174.7L744.8 1175.7" stroke-width="1"/><path d="M542.2 1198.8L552.9 1196.8" stroke-width="1"/><path d="M741.1 1162.3L730.4 1164.3" stroke-width="1"/><path d="M533.1 1186.4L538.5 1185.4" stroke-width="1"/><path d="M732 1149.9L726.7 1150.9" stroke-width="1"/><path d="M524 1174L534.8 1172.1" stroke-width="1"/><path d="M722.9 1137.5L712.2 1139.5" stroke-width="1"/><path d="M515 1161.7L520.3 1160.7" stroke-width="1"/><path d="M713.9 1125.2L708.5 1126.2" stroke-width="1"/><path d="M505.9 1150.3L505.9 979.3" stroke-width="2.5"/><path d="M505.9 1129.5L511.5 1128.4" stroke-width="1"/><path d="M505.9 1109.6L517.6 1107.5" stroke-width="1"/><path d="M505.9 1089.8L511.5 1088.7" stroke-width="1"/><path d="M505.9 1069.9L517.6 1067.8" stroke-width="1"/><path d="M505.9 1050L511.5 1049" stroke-width="1"/><path d="M505.9 1030.2L517.6 1028.1" stroke-width="1"/><path d="M505.9 1010.3L511.5 1009.3" stroke-width="1"/><path d="M505.9 990.5L517.6 988.4" stroke-width="1"/></g>
<text transform="matrix(0 -0.866 1.046 -0.192 495.9 1111.9)" font-size="20.8" text-anchor="middle">200</text>
<text transform="matrix(0 -0.866 1.046 -0.192 495.9 1072.2)" font-size="20.8" text-anchor="middle">400</text>
<text transform="matrix(0 -0.866 1.046 -0.192 495.9 1032.5)" font-size="20.8" text-anchor="middle">600</text>
<text transform="matrix(0 -0.866 1.046 -0.192 495.9 992.8)" font-size="20.8" text-anchor="middle">800</text>
<text transform="matrix(0.934 -0.171 0.341 0.465 587.5 1260.6)" font-size="20.4" text-anchor="middle">4</text><text transform="matrix(0.934 -0.171 0.341 0.465 637.3 1251.5)" font-size="20.4" text-anchor="middle">5</text><text transform="matrix(0.934 -0.171 0.341 0.465 687 1242.4)" font-size="20.4" text-anchor="middle">6</text><text transform="matrix(0.934 -0.171 0.341 0.465 736.7 1233.2)" font-size="20.4" text-anchor="middle">7</text><text transform="matrix(0.934 -0.171 0.341 0.465 786.4 1224.1)" font-size="20.4" text-anchor="middle">8</text><text transform="matrix(0.341 0.465 -0.934 0.171 553.3 1252.9)" font-size="20.4" text-anchor="middle">0</text><text transform="matrix(0.341 0.465 -0.934 0.171 535.1 1228.2)" font-size="20.4" text-anchor="middle">100</text><text transform="matrix(0.341 0.465 -0.934 0.171 517 1203.4)" font-size="20.4" text-anchor="middle">200</text><text transform="matrix(0.341 0.465 -0.934 0.171 498.8 1178.7)" font-size="20.4" text-anchor="middle">300</text><text transform="matrix(0.341 0.465 -0.934 0.171 480.7 1153.9)" font-size="20.4" text-anchor="middle">400</text>
<g stroke="#000" stroke-width="0.4" stroke-linejoin="round"><path fill="#ff8a0a" d="M746.8 1189l12.4-2.2l-1.8-2.5l-12.4 2.3zM748.6 1191.5l12.5-2.3l-1.9-2.4l-12.4 2.2zM750.4 1194l12.5-2.3l-1.8-2.5l-12.5 2.3zM738 1196.3l12.4-2.3l-1.8-2.5l-12.4 2.3zM752.3 1196.5l12.4-2.3l-1.8-2.5l-12.5 2.3zM739.8 1198.7l12.5-2.2l-1.9-2.5l-12.4 2.3zM754.1 1198.9l12.4-2.2l-1.8-2.5l-12.4 2.3zM741.6 1201.2l12.5-2.3l-1.8-2.4l-12.5 2.2zM755.9 1201.4l12.4-2.3l-1.8-2.4l-12.4 2.2zM743.5 1203.7l12.4-2.3l-1.8-2.5l-12.5 2.3z"/><path fill="#ffbb73" d="M757.7 1204.2l12.4-2.3l0-3l-12.4 2.3z"/><path fill="#ff8a0a" d="M757.7 1201.2l12.4-2.3l-1.8-2.5l-12.4 2.3z"/><path fill="#ffbb73" d="M745.3 1206.5l12.4-2.3l0-3l-12.4 2.3z"/><path fill="#ff8a0a" d="M745.3 1203.5l12.4-2.3l-1.8-2.5l-12.4 2.3z"/><path fill="#a65600" d="M708 1213.3l-1.8-2.5l0-42.2l1.8 2.5z"/><path fill="#ffbb73" d="M708 1213.3l12.4-2.3l0-42.2l-12.4 2.3z"/><path fill="#ff8a0a" d="M708 1171.1l12.4-2.3l-1.8-2.5l-12.4 2.3z"/><path fill="#a65600" d="M695.6 1215.6l-1.9-2.5l0-35.8l1.9 2.5z"/><path fill="#ffbb73" d="M695.6 1215.6l12.4-2.3l0-35.8l-12.4 2.3z"/><path fill="#ff8a0a" d="M695.6 1179.8l12.4-2.3l-1.8-2.5l-12.5 2.3zM759.5 1206.4l12.5-2.3l-1.9-2.5l-12.4 2.3z"/><path fill="#ffbb73" d="M747.1 1208.9l12.4-2.2l0-1.5l-12.4 2.2z"/><path fill="#ff8a0a" d="M747.1 1207.4l12.4-2.2l-1.8-2.5l-12.4 2.3z"/><path fill="#a65600" d="M734.7 1211.2l-1.9-2.5l0-33.2l1.9 2.5z"/><path fill="#ffbb73" d="M734.7 1211.2l12.4-2.3l0-33.2l-12.4 2.3z"/><path fill="#ff8a0a" d="M734.7 1178l12.4-2.3l-1.8-2.4l-12.5 2.2z"/><path fill="#ffbb73" d="M722.2 1213.5l12.5-2.3l0-30.3l-12.5 2.3z"/><path fill="#ff8a0a" d="M722.2 1183.2l12.5-2.3l-1.9-2.5l-12.4 2.3z"/><path fill="#ffbb73" d="M684.9 1220.3l12.5-2.2l0-21l-12.5 2.2z"/><path fill="#ff8a0a" d="M684.9 1199.3l12.5-2.2l-1.8-2.5l-12.5 2.3z"/><path fill="#ffbb73" d="M736.5 1213.7l12.4-2.3l0-5.4l-12.4 2.3z"/><path fill="#ff8a0a" d="M736.5 1208.3l12.4-2.3l-1.8-2.5l-12.4 2.3z"/><path fill="#ffbb73" d="M724 1216l12.5-2.3l0-18.1l-12.5 2.3z"/><path fill="#ff8a0a" d="M724 1197.9l12.5-2.3l-1.8-2.5l-12.5 2.3z"/><path fill="#a65600" d="M711.6 1218.3l-1.8-2.5l0-39.4l1.8 2.5z"/><path fill="#ffbb73" d="M711.6 1218.3l12.4-2.3l0-39.4l-12.4 2.3z"/><path fill="#ff8a0a" d="M711.6 1178.9l12.4-2.3l-1.8-2.5l-12.4 2.3z"/><path fill="#a65600" d="M699.2 1220.5l-1.8-2.4l0-26.1l1.8 2.4z"/><path fill="#ffbb73" d="M699.2 1220.5l12.4-2.2l0-26.1l-12.4 2.2z"/><path fill="#ff8a0a" d="M699.2 1194.4l12.4-2.2l-1.8-2.5l-12.4 2.3z"/><path fill="#ffbb73" d="M686.8 1222.8l12.4-2.3l0-18.9l-12.4 2.3z"/><path fill="#ff8a0a" d="M686.8 1203.9l12.4-2.3l-1.8-2.4l-12.5 2.2z"/><path fill="#a65600" d="M661.9 1227.4l-1.8-2.5l0-136.1l1.8 2.5z"/><path fill="#ffbb73" d="M661.9 1227.4l12.4-2.3l0-136.1l-12.4 2.3z"/><path fill="#ff8a0a" d="M661.9 1091.3l12.4-2.3l-1.8-2.5l-12.4 2.3z"/><path fill="#a65600" d="M624.6 1234.2l-1.8-2.4l0-83.3l1.8 2.5z"/><path fill="#ffbb73" d="M624.6 1234.2l12.4-2.3l0-83.2l-12.4 2.3z"/><path fill="#ff8a0a" d="M624.6 1151l12.4-2.3l-1.8-2.4l-12.4 2.2z"/><path fill="#ffbb73" d="M713.4 1220.7l12.5-2.2l0-7.3l-12.5 2.2z"/><path fill="#ff8a0a" d="M713.4 1213.4l12.5-2.2l-1.9-2.5l-12.4 2.3z"/><path fill="#ffbb73" d="M701 1223l12.4-2.3l0-12.2l-12.4 2.3z"/><path fill="#ff8a0a" d="M701 1210.8l12.4-2.3l-1.8-2.4l-12.4 2.2z"/><path fill="#ffbb73" d="M688.6 1225.3l12.4-2.3l0-16.2l-12.4 2.3z"/><path fill="#ff8a0a" d="M688.6 1209.1l12.4-2.3l-1.8-2.5l-12.4 2.3z"/><path fill="#a65600" d="M676.1 1227.6l-1.8-2.5l0-26.3l1.8 2.5z"/><path fill="#ffbb73" d="M676.1 1227.6l12.5-2.3l0-26.3l-12.5 2.3z"/><path fill="#ff8a0a" d="M676.1 1201.3l12.5-2.3l-1.8-2.5l-12.5 2.3z"/><path fill="#ffbb73" d="M651.3 1232.1l12.4-2.2l0-107.1l-12.4 2.2z"/><path fill="#ff8a0a" d="M651.3 1125l12.4-2.2l-1.8-2.5l-12.4 2.3z"/><path fill="#a65600" d="M638.8 1234.4l-1.8-2.5l0-170.9l1.8 2.5z"/><path fill="#ffbb73" d="M638.8 1234.4l12.5-2.3l0-170.9l-12.5 2.3z"/><path fill="#ff8a0a" d="M638.8 1063.5l12.5-2.3l-1.8-2.4l-12.5 2.2z"/><path fill="#a65600" d="M614 1239l-1.8-2.5l0-66.3l1.8 2.5z"/><path fill="#ffbb73" d="M614 1239l12.4-2.3l0-66.3l-12.4 2.3z"/><path fill="#ff8a0a" d="M614 1172.7l12.4-2.3l-1.8-2.5l-12.4 2.3zM576.7 1245.5l12.4-2.3l-1.8-2.4l-12.4 2.2z"/><path fill="#ffbb73" d="M665.5 1232.3l12.5-2.3l0-4.2l-12.5 2.3z"/><path fill="#ff8a0a" d="M665.5 1228.1l12.5-2.3l-1.9-2.4l-12.4 2.3z"/><path fill="#ffbb73" d="M653.1 1234.6l12.4-2.3l0-16.9l-12.4 2.3z"/><path fill="#ff8a0a" d="M653.1 1217.7l12.4-2.3l-1.8-2.4l-12.4 2.2z"/><path fill="#a65600" d="M640.7 1236.9l-1.9-2.5l0-55.6l1.9 2.5z"/><path fill="#ffbb73" d="M640.7 1236.9l12.4-2.3l0-55.6l-12.4 2.3z"/><path fill="#ff8a0a" d="M640.7 1181.3l12.4-2.3l-1.8-2.5l-12.5 2.3z"/><path fill="#ffbb73" d="M628.2 1239.2l12.5-2.3l0-43.1l-12.5 2.3z"/><path fill="#ff8a0a" d="M628.2 1196.1l12.5-2.3l-1.9-2.5l-12.4 2.3z"/><path fill="#a65600" d="M615.8 1241.5l-1.8-2.5l0-42.9l1.8 2.5z"/><path fill="#ffbb73" d="M615.8 1241.5l12.4-2.3l0-42.9l-12.4 2.3z"/><path fill="#ff8a0a" d="M615.8 1198.6l12.4-2.3l-1.8-2.5l-12.4 2.3z"/><path fill="#a65600" d="M603.4 1243.7l-1.9-2.4l0-11.3l1.9 2.4z"/><path fill="#ffbb73" d="M603.4 1243.7l12.4-2.2l0-11.3l-12.4 2.2z"/><path fill="#ff8a0a" d="M603.4 1232.4l12.4-2.2l-1.8-2.5l-12.5 2.3z"/><path fill="#a65600" d="M590.9 1246l-1.8-2.5l0-7.6l1.8 2.5z"/><path fill="#ffbb73" d="M590.9 1246l12.5-2.3l0-7.6l-12.5 2.3z"/><path fill="#ff8a0a" d="M590.9 1238.4l12.5-2.3l-1.9-2.4l-12.4 2.2z"/><path fill="#a65600" d="M578.5 1248.3l-1.8-2.5l0-3.3l1.8 2.5z"/><path fill="#ffbb73" d="M578.5 1248.3l12.4-2.3l0-3.3l-12.4 2.3z"/><path fill="#ff8a0a" d="M578.5 1245l12.4-2.3l-1.8-2.5l-12.4 2.3z"/></g>

<g stroke="#000" stroke-linecap="butt"><path d="M881 1248.3L1079.9 1211.8L1007.3 1112.8L808.4 1149.3z" fill="none" stroke-width="2.5" stroke-linejoin="miter"/><path d="M930.7 1239.2L926.8 1233.8" stroke-width="1"/><path d="M858.1 1140.2L862 1145.5" stroke-width="1"/><path d="M980.5 1230L976.5 1224.7" stroke-width="1"/><path d="M907.9 1131L911.8 1136.4" stroke-width="1"/><path d="M1030.2 1220.9L1026.3 1215.6" stroke-width="1"/><path d="M957.6 1121.9L961.5 1127.3" stroke-width="1"/><path d="M871.9 1235.9L877.3 1234.9" stroke-width="1"/><path d="M1070.8 1199.4L1065.5 1200.4" stroke-width="1"/><path d="M862.9 1223.5L873.6 1221.6" stroke-width="1"/><path d="M1061.8 1187L1051 1189" stroke-width="1"/><path d="M853.8 1211.2L859.1 1210.2" stroke-width="1"/><path d="M1052.7 1174.7L1047.3 1175.7" stroke-width="1"/><path d="M844.7 1198.8L855.4 1196.8" stroke-width="1"/><path d="M1043.6 1162.3L1032.9 1164.3" stroke-width="1"/><path d="M835.6 1186.4L841 1185.4" stroke-width="1"/><path d="M1034.5 1149.9L1029.2 1150.9" stroke-width="1"/><path d="M826.5 1174L837.3 1172.1" stroke-width="1"/><path d="M1025.5 1137.5L1014.7 1139.5" stroke-width="1"/><path d="M817.5 1161.7L822.8 1160.7" stroke-width="1"/><path d="M1016.4 1125.2L1011 1126.2" stroke-width="1"/><path d="M808.4 1150.3L808.4 979.3" stroke-width="2.5"/><path d="M808.4 1129.5L814 1128.4" stroke-width="1"/><path d="M808.4 1109.6L820.1 1107.5" stroke-width="1"/><path d="M808.4 1089.8L814 1088.7" stroke-width="1"/><path d="M808.4 1069.9L820.1 1067.8" stroke-width="1"/><path d="M808.4 1050L814 1049" stroke-width="1"/><path d="M808.4 1030.2L820.1 1028.1" stroke-width="1"/><path d="M808.4 1010.3L814 1009.3" stroke-width="1"/><path d="M808.4 990.5L820.1 988.4" stroke-width="1"/></g>
<text transform="matrix(0 -0.866 1.046 -0.192 798.4 1111.9)" font-size="20.8" text-anchor="middle">200</text>
<text transform="matrix(0 -0.866 1.046 -0.192 798.4 1072.2)" font-size="20.8" text-anchor="middle">400</text>
<text transform="matrix(0 -0.866 1.046 -0.192 798.4 1032.5)" font-size="20.8" text-anchor="middle">600</text>
<text transform="matrix(0 -0.866 1.046 -0.192 798.4 992.8)" font-size="20.8" text-anchor="middle">800</text>
<text transform="matrix(0.934 -0.171 0.341 0.465 890 1260.6)" font-size="20.4" text-anchor="middle">4</text><text transform="matrix(0.934 -0.171 0.341 0.465 939.8 1251.5)" font-size="20.4" text-anchor="middle">5</text><text transform="matrix(0.934 -0.171 0.341 0.465 989.5 1242.4)" font-size="20.4" text-anchor="middle">6</text><text transform="matrix(0.934 -0.171 0.341 0.465 1039.2 1233.2)" font-size="20.4" text-anchor="middle">7</text><text transform="matrix(0.934 -0.171 0.341 0.465 1088.9 1224.1)" font-size="20.4" text-anchor="middle">8</text><text transform="matrix(0.341 0.465 -0.934 0.171 855.8 1252.9)" font-size="20.4" text-anchor="middle">0</text><text transform="matrix(0.341 0.465 -0.934 0.171 837.6 1228.2)" font-size="20.4" text-anchor="middle">100</text><text transform="matrix(0.341 0.465 -0.934 0.171 819.5 1203.4)" font-size="20.4" text-anchor="middle">200</text><text transform="matrix(0.341 0.465 -0.934 0.171 801.3 1178.7)" font-size="20.4" text-anchor="middle">300</text><text transform="matrix(0.341 0.465 -0.934 0.171 783.2 1153.9)" font-size="20.4" text-anchor="middle">400</text>
<g stroke="#000" stroke-width="0.4" stroke-linejoin="round"><path fill="#00a600" d="M1051.4 1211.4l-1.8-2.5l0-152.1l1.8 2.5z"/><path fill="#73ff73" d="M1051.4 1211.4l12.4-2.3l0-152.1l-12.4 2.3z"/><path fill="#00ff00" d="M1051.4 1059.3l12.4-2.3l-1.8-2.4l-12.4 2.2z"/><path fill="#00a600" d="M1039 1213.7l-1.8-2.5l0-64.3l1.8 2.5z"/><path fill="#73ff73" d="M1039 1213.7l12.4-2.3l0-64.3l-12.4 2.3z"/><path fill="#00ff00" d="M1039 1149.4l12.4-2.3l-1.8-2.5l-12.4 2.3z"/><path fill="#00a600" d="M1026.5 1216l-1.8-2.5l0-53.6l1.8 2.5z"/><path fill="#73ff73" d="M1026.5 1216l12.5-2.3l0-53.6l-12.5 2.3z"/><path fill="#00ff00" d="M1026.5 1162.4l12.5-2.3l-1.8-2.5l-12.5 2.3z"/><path fill="#00a600" d="M1014.1 1218.3l-1.8-2.5l0-40.3l1.8 2.5z"/><path fill="#73ff73" d="M1014.1 1218.3l12.4-2.3l0-40.3l-12.4 2.3z"/><path fill="#00ff00" d="M1014.1 1178l12.4-2.3l-1.8-2.5l-12.4 2.3z"/><path fill="#00a600" d="M1065.7 1211.6l-1.9-2.5l0-127.2l1.9 2.5z"/><path fill="#73ff73" d="M1065.7 1211.6l12.4-2.3l0-127.2l-12.4 2.3z"/><path fill="#00ff00" d="M1065.7 1084.4l12.4-2.3l-1.8-2.5l-12.5 2.3zM1028.4 1215.5l12.4-2.3l-1.8-2.5l-12.5 2.3zM1015.9 1217.7l12.5-2.2l-1.9-2.5l-12.4 2.3z"/><path fill="#73ff73" d="M1055 1216.4l12.5-2.3l0-1l-12.5 2.3z"/><path fill="#00ff00" d="M1055 1215.4l12.5-2.3l-1.8-2.5l-12.5 2.3z"/><path fill="#73ff73" d="M1042.6 1218.6l12.4-2.2l0-2l-12.4 2.2z"/><path fill="#00ff00" d="M1042.6 1216.6l12.4-2.2l-1.8-2.5l-12.4 2.3z"/><path fill="#73ff73" d="M1030.2 1220.9l12.4-2.3l0-3l-12.4 2.3z"/><path fill="#00ff00" d="M1030.2 1217.9l12.4-2.3l-1.8-2.4l-12.4 2.3z"/><path fill="#73ff73" d="M1017.7 1223.2l12.5-2.3l0-5.4l-12.5 2.3z"/><path fill="#00ff00" d="M1017.7 1217.8l12.5-2.3l-1.8-2.5l-12.5 2.3z"/><path fill="#73ff73" d="M1005.3 1225.5l12.4-2.3l0-6.9l-12.4 2.3z"/><path fill="#00ff00" d="M1005.3 1218.6l12.4-2.3l-1.8-2.5l-12.4 2.3z"/><path fill="#73ff73" d="M992.9 1227.8l12.4-2.3l0-14.3l-12.4 2.3z"/><path fill="#00ff00" d="M992.9 1213.5l12.4-2.3l-1.8-2.5l-12.4 2.3z"/><path fill="#73ff73" d="M980.5 1230l12.4-2.2l0-15.8l-12.4 2.2z"/><path fill="#00ff00" d="M980.5 1214.2l12.4-2.2l-1.8-2.5l-12.5 2.3z"/><path fill="#00a600" d="M968 1232.3l-1.8-2.4l0-57l1.8 2.4z"/><path fill="#73ff73" d="M968 1232.3l12.5-2.3l0-57l-12.5 2.3z"/><path fill="#00ff00" d="M968 1175.3l12.5-2.3l-1.9-2.4l-12.4 2.3z"/><path fill="#00a600" d="M955.6 1234.6l-1.8-2.5l0-31.6l1.8 2.5z"/><path fill="#73ff73" d="M955.6 1234.6l12.4-2.3l0-31.6l-12.4 2.3z"/><path fill="#00ff00" d="M955.6 1203l12.4-2.3l-1.8-2.4l-12.4 2.2z"/><path fill="#00a600" d="M943.2 1236.9l-1.9-2.5l0-19.2l1.9 2.5z"/><path fill="#73ff73" d="M943.2 1236.9l12.4-2.3l0-19.2l-12.4 2.3z"/><path fill="#00ff00" d="M943.2 1217.7l12.4-2.3l-1.8-2.5l-12.5 2.3z"/></g>

<g stroke="#000" stroke-linecap="butt"><path d="M1183.5 1248.3L1382.4 1211.8L1309.8 1112.8L1110.9 1149.3z" fill="none" stroke-width="2.5" stroke-linejoin="miter"/><path d="M1233.2 1239.2L1229.3 1233.8" stroke-width="1"/><path d="M1160.6 1140.2L1164.5 1145.5" stroke-width="1"/><path d="M1283 1230L1279 1224.7" stroke-width="1"/><path d="M1210.4 1131L1214.3 1136.4" stroke-width="1"/><path d="M1332.7 1220.9L1328.8 1215.6" stroke-width="1"/><path d="M1260.1 1121.9L1264 1127.3" stroke-width="1"/><path d="M1174.4 1235.9L1179.8 1234.9" stroke-width="1"/><path d="M1373.3 1199.4L1368 1200.4" stroke-width="1"/><path d="M1165.3 1223.5L1176.1 1221.6" stroke-width="1"/><path d="M1364.2 1187L1353.5 1189" stroke-width="1"/><path d="M1156.3 1211.2L1161.6 1210.2" stroke-width="1"/><path d="M1355.2 1174.7L1349.8 1175.7" stroke-width="1"/><path d="M1147.2 1198.8L1157.9 1196.8" stroke-width="1"/><path d="M1346.1 1162.3L1335.4 1164.3" stroke-width="1"/><path d="M1138.1 1186.4L1143.5 1185.4" stroke-width="1"/><path d="M1337 1149.9L1331.7 1150.9" stroke-width="1"/><path d="M1129 1174L1139.8 1172.1" stroke-width="1"/><path d="M1328 1137.5L1317.2 1139.5" stroke-width="1"/><path d="M1120 1161.7L1125.3 1160.7" stroke-width="1"/><path d="M1318.9 1125.2L1313.5 1126.2" stroke-width="1"/><path d="M1110.9 1150.3L1110.9 979.3" stroke-width="2.5"/><path d="M1110.9 1129.5L1116.5 1128.4" stroke-width="1"/><path d="M1110.9 1109.6L1122.6 1107.5" stroke-width="1"/><path d="M1110.9 1089.8L1116.5 1088.7" stroke-width="1"/><path d="M1110.9 1069.9L1122.6 1067.8" stroke-width="1"/><path d="M1110.9 1050L1116.5 1049" stroke-width="1"/><path d="M1110.9 1030.2L1122.6 1028.1" stroke-width="1"/><path d="M1110.9 1010.3L1116.5 1009.3" stroke-width="1"/><path d="M1110.9 990.5L1122.6 988.4" stroke-width="1"/></g>
<text transform="matrix(0 -0.866 1.046 -0.192 1100.9 1111.9)" font-size="20.8" text-anchor="middle">200</text>
<text transform="matrix(0 -0.866 1.046 -0.192 1100.9 1072.2)" font-size="20.8" text-anchor="middle">400</text>
<text transform="matrix(0 -0.866 1.046 -0.192 1100.9 1032.5)" font-size="20.8" text-anchor="middle">600</text>
<text transform="matrix(0 -0.866 1.046 -0.192 1100.9 992.8)" font-size="20.8" text-anchor="middle">800</text>
<text transform="matrix(0.934 -0.171 0.341 0.465 1192.5 1260.6)" font-size="20.4" text-anchor="middle">4</text><text transform="matrix(0.934 -0.171 0.341 0.465 1242.3 1251.5)" font-size="20.4" text-anchor="middle">5</text><text transform="matrix(0.934 -0.171 0.341 0.465 1292 1242.4)" font-size="20.4" text-anchor="middle">6</text><text transform="matrix(0.934 -0.171 0.341 0.465 1341.7 1233.2)" font-size="20.4" text-anchor="middle">7</text><text transform="matrix(0.934 -0.171 0.341 0.465 1391.4 1224.1)" font-size="20.4" text-anchor="middle">8</text><text transform="matrix(0.341 0.465 -0.934 0.171 1158.3 1252.9)" font-size="20.4" text-anchor="middle">0</text><text transform="matrix(0.341 0.465 -0.934 0.171 1140.1 1228.2)" font-size="20.4" text-anchor="middle">100</text><text transform="matrix(0.341 0.465 -0.934 0.171 1122 1203.4)" font-size="20.4" text-anchor="middle">200</text><text transform="matrix(0.341 0.465 -0.934 0.171 1103.8 1178.7)" font-size="20.4" text-anchor="middle">300</text><text transform="matrix(0.341 0.465 -0.934 0.171 1085.7 1153.9)" font-size="20.4" text-anchor="middle">400</text>
<g stroke="#000" stroke-width="0.4" stroke-linejoin="round"><path fill="#a60000" d="M1353.9 1211.4l-1.8-2.5l0-46.4l1.8 2.5z"/><path fill="#ff7373" d="M1353.9 1211.4l12.4-2.3l0-46.4l-12.4 2.3z"/><path fill="#ff0000" d="M1353.9 1165l12.4-2.3l-1.8-2.4l-12.4 2.2z"/><path fill="#ff7373" d="M1341.5 1213.7l12.4-2.3l0-30.5l-12.4 2.3z"/><path fill="#ff0000" d="M1341.5 1183.2l12.4-2.3l-1.8-2.5l-12.4 2.3z"/><path fill="#a60000" d="M1329 1216l-1.8-2.5l0-38.9l1.8 2.5z"/><path fill="#ff7373" d="M1329 1216l12.5-2.3l0-38.9l-12.5 2.3z"/><path fill="#ff0000" d="M1329 1177.1l12.5-2.3l-1.8-2.5l-12.5 2.3z"/><path fill="#a60000" d="M1316.6 1218.3l-1.8-2.5l0-34.2l1.8 2.5z"/><path fill="#ff7373" d="M1316.6 1218.3l12.4-2.3l0-34.2l-12.4 2.3z"/><path fill="#ff0000" d="M1316.6 1184.1l12.4-2.3l-1.8-2.5l-12.4 2.3z"/><path fill="#a60000" d="M1368.2 1211.6l-1.9-2.5l0-29.3l1.9 2.5z"/><path fill="#ff7373" d="M1368.2 1211.6l12.4-2.3l0-29.3l-12.4 2.3z"/><path fill="#ff0000" d="M1368.2 1182.3l12.4-2.3l-1.8-2.5l-12.5 2.3zM1330.9 1216.5l12.4-2.3l-1.8-2.5l-12.5 2.3zM1318.4 1218.7l12.5-2.2l-1.9-2.5l-12.4 2.3zM1306 1221l12.4-2.3l-1.8-2.4l-12.4 2.2z"/><path fill="#ff7373" d="M1345.1 1218.6l12.4-2.2l0-1l-12.4 2.2z"/><path fill="#ff0000" d="M1345.1 1217.6l12.4-2.2l-1.8-2.5l-12.4 2.3z"/><path fill="#ff7373" d="M1332.7 1220.9l12.4-2.3l0-2l-12.4 2.3z"/><path fill="#ff0000" d="M1332.7 1218.9l12.4-2.3l-1.8-2.4l-12.4 2.3z"/><path fill="#ff7373" d="M1320.2 1223.2l12.5-2.3l0-2l-12.5 2.3z"/><path fill="#ff0000" d="M1320.2 1221.2l12.5-2.3l-1.8-2.4l-12.5 2.2z"/><path fill="#ff7373" d="M1307.8 1225.5l12.4-2.3l0-4.6l-12.4 2.3z"/><path fill="#ff0000" d="M1307.8 1220.9l12.4-2.3l-1.8-2.5l-12.4 2.3z"/><path fill="#ff7373" d="M1295.4 1227.8l12.4-2.3l0-5.2l-12.4 2.3z"/><path fill="#ff0000" d="M1295.4 1222.6l12.4-2.3l-1.8-2.5l-12.4 2.3z"/><path fill="#ff7373" d="M1283 1230l12.4-2.2l0-8.9l-12.4 2.2z"/><path fill="#ff0000" d="M1283 1221.1l12.4-2.2l-1.8-2.5l-12.5 2.3z"/><path fill="#a60000" d="M1270.5 1232.3l-1.8-2.4l0-33.7l1.8 2.4z"/><path fill="#ff7373" d="M1270.5 1232.3l12.5-2.3l0-33.7l-12.5 2.3z"/><path fill="#ff0000" d="M1270.5 1198.6l12.5-2.3l-1.9-2.4l-12.4 2.3z"/><path fill="#a60000" d="M1258.1 1234.6l-1.8-2.5l0-22.1l1.8 2.5z"/><path fill="#ff7373" d="M1258.1 1234.6l12.4-2.3l0-22.1l-12.4 2.3z"/><path fill="#ff0000" d="M1258.1 1212.5l12.4-2.3l-1.8-2.4l-12.4 2.2z"/><path fill="#a60000" d="M1245.7 1236.9l-1.9-2.5l0-16.6l1.9 2.5z"/><path fill="#ff7373" d="M1245.7 1236.9l12.4-2.3l0-16.6l-12.4 2.3z"/><path fill="#ff0000" d="M1245.7 1220.3l12.4-2.3l-1.8-2.5l-12.5 2.3z"/></g>

<rect x="1457.8" y="143.9" width="151.8" height="37.8" fill="#ff0000"/>
<rect x="1457.8" y="181.7" width="151.8" height="123.3" fill="#00ff00"/>
<rect x="1457.8" y="305" width="151.8" height="96.3" fill="#ff8000"/>
<g stroke="#000" stroke-width="1.9" fill="none"><rect x="1457.8" y="143.9" width="151.8" height="257.4"/><path d="M1457.8 181.7H1609.6M1457.8 305H1609.6"/><path stroke-width="1" d="M1457.8 169.6h6M1609.6 169.6h-6M1457.8 195.4h6M1609.6 195.4h-6M1457.8 221.1h6M1609.6 221.1h-6M1457.8 246.9h6M1609.6 246.9h-6M1457.8 272.6h6M1609.6 272.6h-6M1457.8 298.3h6M1609.6 298.3h-6M1457.8 324.1h6M1609.6 324.1h-6M1457.8 349.8h6M1609.6 349.8h-6M1457.8 375.6h6M1609.6 375.6h-6"/></g>
<text x="1533.7" y="168.6" font-size="16.6" text-anchor="middle">False alert</text>
<text x="1617.3" y="168.6" font-size="16.6">15%</text>
<text x="1533.7" y="249.2" font-size="16.6" text-anchor="middle">Correct alert</text>
<text x="1617.3" y="249.2" font-size="16.6">48%</text>
<text x="1533.7" y="359" font-size="16.6" text-anchor="middle">Missed alert</text>
<text x="1617.3" y="359" font-size="16.6">38%</text>
<rect x="1457.8" y="426.4" width="151.8" height="37.6" fill="#ff0000"/>
<rect x="1457.8" y="464" width="151.8" height="105.5" fill="#00ff00"/>
<rect x="1457.8" y="569.5" width="151.8" height="114.3" fill="#ff8000"/>
<g stroke="#000" stroke-width="1.9" fill="none"><rect x="1457.8" y="426.4" width="151.8" height="257.4"/><path d="M1457.8 464H1609.6M1457.8 569.5H1609.6"/><path stroke-width="1" d="M1457.8 452.1h6M1609.6 452.1h-6M1457.8 477.9h6M1609.6 477.9h-6M1457.8 503.6h6M1609.6 503.6h-6M1457.8 529.4h6M1609.6 529.4h-6M1457.8 555.1h6M1609.6 555.1h-6M1457.8 580.8h6M1609.6 580.8h-6M1457.8 606.6h6M1609.6 606.6h-6M1457.8 632.3h6M1609.6 632.3h-6M1457.8 658.1h6M1609.6 658.1h-6"/></g>
<text x="1533.7" y="451" font-size="16.6" text-anchor="middle">False alert</text>
<text x="1617.3" y="451" font-size="16.6">15%</text>
<text x="1533.7" y="522.5" font-size="16.6" text-anchor="middle">Correct alert</text>
<text x="1617.3" y="522.5" font-size="16.6">41%</text>
<text x="1533.7" y="632.5" font-size="16.6" text-anchor="middle">Missed alert</text>
<text x="1617.3" y="632.5" font-size="16.6">45%</text>
<rect x="1457.8" y="708.9" width="151.8" height="33.5" fill="#ff0000"/>
<rect x="1457.8" y="742.4" width="151.8" height="83.7" fill="#00ff00"/>
<rect x="1457.8" y="826" width="151.8" height="140.3" fill="#ff8000"/>
<g stroke="#000" stroke-width="1.9" fill="none"><rect x="1457.8" y="708.9" width="151.8" height="257.4"/><path d="M1457.8 742.4H1609.6M1457.8 826H1609.6"/><path stroke-width="1" d="M1457.8 734.6h6M1609.6 734.6h-6M1457.8 760.4h6M1609.6 760.4h-6M1457.8 786.1h6M1609.6 786.1h-6M1457.8 811.9h6M1609.6 811.9h-6M1457.8 837.6h6M1609.6 837.6h-6M1457.8 863.3h6M1609.6 863.3h-6M1457.8 889.1h6M1609.6 889.1h-6M1457.8 914.8h6M1609.6 914.8h-6M1457.8 940.6h6M1609.6 940.6h-6"/></g>
<text x="1533.7" y="731.4" font-size="16.6" text-anchor="middle">False alert</text>
<text x="1617.3" y="731.4" font-size="16.6">13%</text>
<text x="1533.7" y="790" font-size="16.6" text-anchor="middle">Correct alert</text>
<text x="1617.3" y="790" font-size="16.6">33%</text>
<text x="1533.7" y="902" font-size="16.6" text-anchor="middle">Missed alert</text>
<text x="1617.3" y="902" font-size="16.6">54%</text>
<rect x="1457.8" y="991.4" width="151.8" height="31.4" fill="#ff0000"/>
<rect x="1457.8" y="1022.8" width="151.8" height="68.2" fill="#00ff00"/>
<rect x="1457.8" y="1091" width="151.8" height="157.8" fill="#ff8000"/>
<g stroke="#000" stroke-width="1.9" fill="none"><rect x="1457.8" y="991.4" width="151.8" height="257.4"/><path d="M1457.8 1022.8H1609.6M1457.8 1091H1609.6"/><path stroke-width="1" d="M1457.8 1017.1h6M1609.6 1017.1h-6M1457.8 1042.9h6M1609.6 1042.9h-6M1457.8 1068.6h6M1609.6 1068.6h-6M1457.8 1094.4h6M1609.6 1094.4h-6M1457.8 1120.1h6M1609.6 1120.1h-6M1457.8 1145.8h6M1609.6 1145.8h-6M1457.8 1171.6h6M1609.6 1171.6h-6M1457.8 1197.3h6M1609.6 1197.3h-6M1457.8 1223.1h6M1609.6 1223.1h-6"/></g>
<text x="1533.7" y="1012.9" font-size="16.6" text-anchor="middle">False alert</text>
<text x="1617.3" y="1012.9" font-size="16.6">12%</text>
<text x="1533.7" y="1062.7" font-size="16.6" text-anchor="middle">Correct alert</text>
<text x="1617.3" y="1062.7" font-size="16.6">27%</text>
<text x="1533.7" y="1175.7" font-size="16.6" text-anchor="middle">Missed alert</text>
<text x="1617.3" y="1175.7" font-size="16.6">61%</text>
</svg>
</body></html>
